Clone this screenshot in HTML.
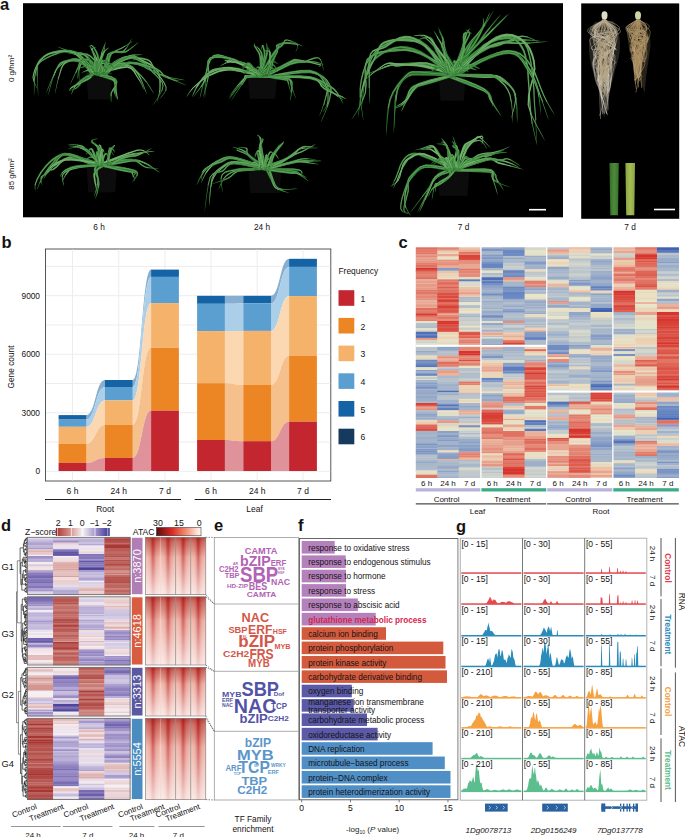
<!DOCTYPE html>
<html><head><meta charset="utf-8"><style>
html,body{margin:0;padding:0;background:#fff;}
svg{display:block;font-family:"Liberation Sans", sans-serif;}
.hc rect{width:22.0px;x:0}
.hd rect{width:26.0px;x:0}
</style></head><body>
<svg width="685" height="837" viewBox="0 0 685 837">
<text x="0" y="9.7" font-size="16.5" text-anchor="start" font-weight="bold" fill="#151213" >a</text>
<text x="1.5" y="247.5" font-size="16.5" text-anchor="start" font-weight="bold" fill="#151213" >b</text>
<text x="398.5" y="248" font-size="16.5" text-anchor="start" font-weight="bold" fill="#151213" >c</text>
<text x="1" y="531" font-size="16.5" text-anchor="start" font-weight="bold" fill="#151213" >d</text>
<text x="214" y="531" font-size="16.5" text-anchor="start" font-weight="bold" fill="#151213" >e</text>
<text x="298" y="531" font-size="16.5" text-anchor="start" font-weight="bold" fill="#151213" >f</text>
<text x="456" y="532" font-size="16.5" text-anchor="start" font-weight="bold" fill="#151213" >g</text>
<rect x="23.00" y="3.20" width="540.00" height="214.10" fill="#000" />
<rect x="581.20" y="3.40" width="98.00" height="215.40" fill="#000" />
<text x="12" y="68.5" font-size="8" text-anchor="middle" font-weight="normal" fill="#151213" transform="rotate(-90 12 68.5)" dominant-baseline="middle">0 g/hm²</text>
<text x="12" y="174" font-size="8" text-anchor="middle" font-weight="normal" fill="#151213" transform="rotate(-90 12 174)" dominant-baseline="middle">85 g/hm²</text>
<text x="99" y="229.9" font-size="8.3" text-anchor="middle" font-weight="normal" fill="#151213" >6 h</text>
<text x="262" y="229.9" font-size="8.3" text-anchor="middle" font-weight="normal" fill="#151213" >24 h</text>
<text x="463.5" y="229.9" font-size="8.3" text-anchor="middle" font-weight="normal" fill="#151213" >7 d</text>
<text x="630" y="229.9" font-size="8.3" text-anchor="middle" font-weight="normal" fill="#151213" >7 d</text>
<line x1="529" y1="209.7" x2="546" y2="209.7" stroke="#fff" stroke-width="1.6" />
<line x1="654" y1="209.5" x2="675" y2="209.5" stroke="#fff" stroke-width="1.6" />
<path d="M86.3,73.3 L112.3,73.3 L110.3,99.4 L88.3,99.4 Z" fill="#0c0c0c"/>
<path d="M86.8,73.3 L111.8,73.3" stroke="#262626" stroke-width="1.2"/>
<path d="M96.6,74.4 L92.9,69.9 L87.5,63.4 L81.4,56.7 L75.6,52.1 L70.0,50.0 L64.6,49.6 L59.5,50.2 L54.8,51.1 L50.4,52.4 L46.2,54.3 L42.5,56.7 L39.4,59.5 L37.4,62.8 L36.0,66.5 L35.2,70.6 L34.5,74.9 L34.0,80.3 L33.9,86.4 L33.9,92.1 L34.0,96.0 L34.0,96.0 L34.3,92.1 L34.5,86.4 L34.8,80.3 L35.5,75.1 L36.3,70.8 L37.2,66.9 L38.6,63.4 L40.6,60.5 L43.4,57.9 L47.0,55.7 L51.0,54.0 L55.2,52.9 L59.8,52.1 L64.6,51.7 L69.6,52.1 L74.4,53.9 L80.0,58.3 L86.2,64.6 L91.8,70.9 L95.7,75.2 Z" fill="#438e42"/>
<path d="M92,70 L87,64 L81,57 L75,53 L70,51 L65,51 L60,51 L55,52 L51,53 L47,55 L43,57 L40,60 L38,63 L37,67 L36,71 L35,75 L34,80" stroke="#a8d8a0" stroke-width="0.7" fill="none" opacity="0.55"/>
<path d="M100.2,74.3 L96.7,71.1 L91.5,66.5 L85.7,61.9 L80.4,59.0 L75.9,58.1 L71.7,58.5 L68.0,59.7 L64.6,61.2 L61.6,62.9 L59.0,65.1 L56.6,67.9 L54.5,71.8 L52.4,77.4 L50.5,84.5 L48.9,91.3 L48.0,96.0 L48.0,96.0 L49.4,91.4 L51.2,84.7 L53.3,77.7 L55.5,72.2 L57.7,68.7 L60.0,66.2 L62.5,64.3 L65.4,62.8 L68.6,61.4 L72.1,60.4 L75.7,60.2 L79.6,61.0 L84.4,63.8 L90.2,68.1 L95.6,72.4 L99.5,75.3 Z" fill="#38843a"/>
<path d="M96,72 L91,67 L85,63 L80,60 L76,59 L72,59 L68,61 L65,62 L62,64 L60,66 L57,68 L55,72 L53,78" stroke="#a8d8a0" stroke-width="0.7" fill="none" opacity="0.55"/>
<path d="M98.1,75.3 L103.3,72.0 L110.7,67.0 L118.6,62.1 L125.3,59.2 L130.6,58.6 L135.6,59.4 L140.3,61.1 L144.6,62.9 L148.5,64.8 L152.1,67.0 L155.1,69.5 L157.3,72.4 L158.7,75.8 L159.3,79.8 L159.5,84.0 L159.5,88.0 L159.1,91.9 L158.3,95.9 L157.4,99.5 L157.0,102.0 L157.0,102.0 L157.9,99.6 L159.0,96.1 L160.0,92.0 L160.5,88.0 L160.7,84.0 L160.7,79.7 L160.1,75.4 L158.7,71.6 L156.3,68.3 L153.2,65.5 L149.5,63.1 L145.4,61.1 L141.1,59.1 L136.2,57.2 L130.7,56.2 L124.7,56.8 L117.5,60.1 L109.6,65.3 L102.3,70.6 L97.4,74.3 Z" fill="#5ea25a"/>
<path d="M103,71 L110,66 L118,61 L125,58 L131,57 L136,58 L141,60 L145,62 L149,64 L153,66 L156,69 L158,72 L159,76 L160,80 L160,84 L160,88 L160,92" stroke="#a8d8a0" stroke-width="0.7" fill="none" opacity="0.55"/>
<path d="M100.8,75.2 L106.2,72.8 L114.1,69.1 L122.6,65.7 L130.1,63.9 L136.6,64.7 L143.2,67.1 L149.4,70.2 L154.7,72.7 L158.8,74.4 L162.0,75.9 L164.9,77.3 L167.8,78.4 L171.2,79.4 L174.7,80.2 L177.8,80.7 L180.0,81.0 L180.0,81.0 L177.9,80.3 L174.9,79.6 L171.5,78.6 L168.2,77.6 L165.3,76.3 L162.6,74.8 L159.4,73.2 L155.3,71.3 L150.0,68.8 L143.9,65.6 L137.1,63.0 L129.9,62.1 L122.0,63.9 L113.4,67.6 L105.6,71.6 L100.3,74.4 Z" fill="#3a863b"/>
<path d="M106,72 L114,68 L122,65 L130,63 L137,64 L144,66 L150,69 L155,72 L159,74 L162,75 L165,77 L168,78 L171,79" stroke="#a8d8a0" stroke-width="0.7" fill="none" opacity="0.55"/>
<path d="M101.3,75.0 L103.1,71.2 L105.5,65.7 L108.1,59.9 L110.7,55.5 L113.3,53.0 L116.2,51.3 L119.3,50.0 L122.3,48.5 L125.3,46.5 L128.4,44.4 L131.2,42.5 L133.0,41.0 L133.0,41.0 L130.9,42.1 L128.1,43.8 L124.8,45.7 L121.7,47.5 L118.7,48.9 L115.6,50.1 L112.4,51.7 L109.3,54.5 L106.5,59.1 L103.8,65.0 L101.7,70.7 L100.4,74.6 Z" fill="#38843a"/>
<path d="M102,71 L105,65 L107,60 L110,55 L113,52 L116,51 L119,49 L122,48 L125,46" stroke="#a8d8a0" stroke-width="0.7" fill="none" opacity="0.55"/>
<path d="M94.6,75.1 L96.8,71.5 L99.4,66.1 L102.0,60.2 L103.8,55.3 L104.8,51.5 L105.1,48.3 L105.2,45.8 L105.0,44.0 L105.0,44.0 L104.4,45.7 L104.0,48.2 L103.3,51.2 L102.2,54.7 L100.1,59.4 L97.4,65.1 L94.9,70.6 L93.5,74.5 Z" fill="#2c742e"/>
<path d="M96,71 L98,66 L101,60 L103,55 L104,51" stroke="#a8d8a0" stroke-width="0.7" fill="none" opacity="0.55"/>
<path d="M93.3,74.2 L92.0,74.2 L90.1,74.3 L87.8,75.0 L85.5,76.1 L83.0,77.8 L80.3,79.8 L77.7,82.2 L75.5,84.6 L73.8,87.3 L72.5,90.3 L71.5,93.0 L71.0,95.0 L71.0,95.0 L72.1,93.3 L73.3,90.7 L74.8,87.9 L76.5,85.4 L78.7,83.3 L81.4,81.2 L84.1,79.3 L86.5,77.9 L88.6,77.0 L90.6,76.5 L92.3,75.9 L93.6,75.4 Z" fill="#3a863b"/>
<path d="M92,75 L90,75 L88,76 L86,77 L84,79 L81,81 L78,83 L76,85 L74,88" stroke="#a8d8a0" stroke-width="0.7" fill="none" opacity="0.55"/>
<path d="M103.1,75.4 L105.1,76.5 L108.1,77.8 L111.1,79.1 L113.1,80.7 L114.1,82.9 L114.6,85.9 L114.9,89.2 L115.3,92.1 L115.9,94.6 L116.6,96.9 L117.3,98.7 L118.0,100.0 L118.0,100.0 L118.0,98.6 L117.6,96.6 L117.2,94.3 L116.7,91.9 L116.6,89.1 L116.5,85.7 L116.1,82.3 L114.9,79.3 L112.3,77.1 L109.0,75.5 L105.8,74.7 L103.6,74.2 Z" fill="#5ea25a"/>
<path d="M105,76 L109,77 L112,78 L114,80 L115,83 L116,86 L116,89 L116,92 L117,94" stroke="#a8d8a0" stroke-width="0.7" fill="none" opacity="0.55"/>
<path d="M96.7,75.4 L102.3,73.5 L110.3,70.5 L118.6,67.6 L125.1,66.2 L129.1,66.7 L132.1,68.3 L134.7,71.0 L137.4,74.4 L140.2,79.2 L142.8,85.2 L145.2,91.1 L147.0,95.0 L147.0,95.0 L145.8,90.8 L143.8,84.9 L141.3,78.6 L138.6,73.6 L136.1,69.9 L133.3,66.8 L129.8,64.6 L124.9,63.8 L117.9,65.2 L109.4,68.2 L101.5,71.7 L96.2,74.2 Z" fill="#4b954a"/>
<path d="M102,73 L110,69 L118,66 L125,65 L129,66 L133,68 L135,70 L138,74 L141,79" stroke="#a8d8a0" stroke-width="0.7" fill="none" opacity="0.55"/>
<path d="M96.6,74.6 L95.5,71.0 L93.8,65.8 L91.5,60.5 L88.7,56.4 L85.5,54.0 L82.1,52.6 L78.5,51.9 L75.1,51.4 L71.5,51.1 L67.7,51.3 L64.3,51.6 L62.0,52.0 L62.0,52.0 L64.4,52.2 L67.7,52.1 L71.4,52.2 L74.9,52.6 L78.2,53.3 L81.6,54.2 L84.6,55.5 L87.3,57.6 L89.6,61.5 L91.9,66.6 L94.0,71.6 L95.6,75.0 Z" fill="#2f7b31"/>
<path d="M95,71 L93,66 L91,61 L88,57 L85,55 L82,53 L78,53 L75,52 L71,52" stroke="#a8d8a0" stroke-width="0.7" fill="none" opacity="0.55"/>
<path d="M105.7,74.3 L103.3,71.6 L99.8,67.8 L96.0,63.8 L92.7,61.1 L90.3,59.6 L88.3,58.8 L86.4,58.7 L84.7,59.1 L83.1,60.0 L81.6,61.5 L80.4,63.4 L79.4,65.8 L78.5,69.1 L77.8,73.3 L77.2,77.2 L77.0,80.0 L77.0,80.0 L77.8,77.3 L78.6,73.5 L79.5,69.4 L80.6,66.2 L81.7,64.1 L82.9,62.5 L84.1,61.5 L85.3,60.9 L86.5,60.7 L87.7,60.9 L89.2,61.6 L91.3,62.9 L94.3,65.7 L98.3,69.3 L102.1,72.9 L104.8,75.3 Z" fill="#2c742e"/>
<path d="M103,72 L99,69 L95,65 L92,62 L90,61 L88,60 L86,60 L85,60 L84,61 L82,62 L81,64 L80,66 L79,69" stroke="#a8d8a0" stroke-width="0.7" fill="none" opacity="0.55"/>
<path d="M99.3,75.2 L103.0,72.5 L108.3,68.5 L113.8,64.1 L118.5,60.8 L122.3,58.9 L125.9,57.8 L129.2,57.1 L132.0,56.6 L134.5,56.7 L136.7,57.2 L138.6,57.8 L140.0,58.0 L140.0,58.0 L138.8,57.2 L137.0,56.3 L134.7,55.6 L132.0,55.4 L128.9,55.6 L125.5,56.1 L121.7,57.3 L117.5,59.2 L112.5,62.4 L106.9,66.8 L102.0,71.2 L98.6,74.4 Z" fill="#438e42"/>
<path d="M102,72 L108,68 L113,63 L118,60 L122,58 L126,57 L129,56 L132,56 L135,56" stroke="#a8d8a0" stroke-width="0.7" fill="none" opacity="0.55"/>
<path d="M103.9,74.6 L102.7,71.2 L100.9,66.5 L98.7,61.5 L96.9,57.6 L95.5,54.9 L94.4,52.8 L93.4,51.2 L92.6,49.7 L91.8,48.4 L91.1,47.3 L90.6,46.5 L90.0,46.0 L90.0,46.0 L90.1,46.8 L90.4,47.7 L90.8,48.9 L91.4,50.3 L92.1,51.9 L92.9,53.6 L93.9,55.7 L95.1,58.4 L96.8,62.4 L98.9,67.3 L101.2,71.9 L102.8,75.0 Z" fill="#5ea25a"/>
<path d="M102,72 L100,67 L98,62 L96,58 L95,55 L94,53 L93,52 L92,50 L91,49" stroke="#a8d8a0" stroke-width="0.7" fill="none" opacity="0.55"/>
<path d="M99.3,74.4 L95.1,69.7 L89.0,62.7 L82.2,55.8 L75.9,51.2 L70.3,49.7 L65.0,50.2 L60.2,51.6 L55.6,53.1 L51.1,54.8 L46.7,56.9 L42.8,59.2 L39.8,61.4 L38.0,63.2 L37.2,64.8 L36.9,66.9 L36.8,70.3 L36.9,76.4 L37.3,84.3 L37.8,92.0 L38.3,97.2 L38.3,97.2 L38.2,91.9 L37.9,84.3 L37.7,76.4 L37.7,70.4 L38.0,67.0 L38.3,65.1 L39.0,64.0 L40.7,62.5 L43.6,60.4 L47.4,58.2 L51.7,56.3 L56.2,54.8 L60.7,53.3 L65.4,52.0 L70.1,51.6 L75.0,53.0 L81.0,57.3 L87.8,63.9 L94.1,70.6 L98.5,75.2 Z" fill="#2f7b31"/>
<path d="M95,70 L88,63 L82,57 L75,52 L70,51 L65,51 L60,52 L56,54 L51,56 L47,58 L43,60 L40,62 L39,64 L38,65 L37,67 L37,70 L37,76" stroke="#a8d8a0" stroke-width="0.7" fill="none" opacity="0.55"/>
<path d="M96.5,74.4 L93.2,71.4 L88.5,67.1 L83.3,62.9 L78.5,60.2 L74.3,59.5 L70.5,59.9 L67.1,61.1 L64.3,62.8 L62.3,64.8 L61.0,67.3 L60.1,70.3 L59.1,73.9 L57.8,78.9 L56.5,84.9 L55.4,90.7 L54.7,94.7 L54.7,94.7 L55.8,90.8 L57.1,85.1 L58.6,79.1 L60.0,74.2 L61.2,70.7 L62.2,67.8 L63.5,65.7 L65.2,64.0 L67.8,62.6 L70.8,61.6 L74.2,61.4 L77.8,62.1 L82.1,64.6 L87.4,68.5 L92.3,72.5 L95.8,75.2 Z" fill="#4b954a"/>
<path d="M93,72 L88,68 L83,64 L78,61 L74,60 L71,61 L67,62 L65,63 L63,65 L62,68 L61,70 L60,74 L58,79" stroke="#a8d8a0" stroke-width="0.7" fill="none" opacity="0.55"/>
<path d="M104.4,75.2 L108.2,72.1 L113.5,67.5 L119.5,63.0 L125.1,60.1 L130.8,58.9 L137.0,58.8 L142.8,59.5 L147.2,60.6 L149.7,62.0 L151.0,64.1 L152.1,66.8 L153.8,70.1 L157.0,74.1 L160.7,78.7 L164.0,83.4 L165.8,87.4 L165.3,90.9 L163.2,94.3 L160.7,97.2 L159.1,99.3 L159.1,99.3 L161.0,97.4 L163.6,94.6 L165.9,91.1 L166.6,87.3 L164.9,82.9 L161.6,78.1 L157.9,73.4 L154.9,69.4 L153.3,66.2 L152.3,63.4 L150.8,60.9 L147.8,59.1 L143.1,57.8 L137.1,57.0 L130.6,57.1 L124.5,58.3 L118.5,61.6 L112.6,66.3 L107.4,71.1 L103.8,74.4 Z" fill="#4b954a"/>
<path d="M108,72 L113,67 L119,62 L125,59 L131,58 L137,58 L143,59 L148,60 L150,61 L152,64 L153,67 L154,70 L157,74 L161,78 L164,83 L166,87 L166,91" stroke="#a8d8a0" stroke-width="0.7" fill="none" opacity="0.55"/>
<path d="M99.6,75.3 L105.2,72.7 L113.2,68.8 L121.9,65.3 L129.6,63.5 L136.3,64.4 L143.1,67.1 L149.5,70.4 L155.4,73.2 L160.4,75.2 L164.8,77.0 L168.8,78.6 L172.7,80.2 L176.7,81.8 L180.8,83.4 L184.3,84.8 L186.9,85.6 L186.9,85.6 L184.5,84.3 L181.1,82.8 L177.1,81.0 L173.0,79.3 L169.2,77.6 L165.3,75.8 L160.9,73.9 L156.0,71.8 L150.2,69.0 L143.8,65.5 L136.8,62.6 L129.5,61.5 L121.3,63.3 L112.5,67.2 L104.6,71.4 L99.2,74.3 Z" fill="#2c742e"/>
<path d="M105,72 L113,68 L122,64 L130,63 L137,64 L143,66 L150,70 L156,73 L161,75 L165,76 L169,78 L173,80 L177,81" stroke="#a8d8a0" stroke-width="0.7" fill="none" opacity="0.55"/>
<path d="M107.8,74.9 L108.5,70.6 L109.3,64.5 L110.3,58.4 L111.8,54.4 L114.1,53.0 L117.6,53.0 L121.8,53.2 L125.9,52.4 L129.7,50.1 L133.6,47.0 L136.9,44.0 L139.1,41.8 L139.1,41.8 L136.5,43.5 L132.9,46.3 L129.0,49.0 L125.3,51.0 L121.7,51.4 L117.7,51.0 L113.5,51.0 L109.9,52.9 L107.9,57.8 L106.8,64.2 L106.6,70.5 L106.5,74.7 Z" fill="#38843a"/>
<path d="M108,71 L108,64 L109,58 L111,54 L114,52 L118,52 L122,52 L126,52 L129,50" stroke="#a8d8a0" stroke-width="0.7" fill="none" opacity="0.55"/>
<path d="M103.3,74.7 L103.2,71.4 L102.6,66.6 L102.0,61.4 L101.9,56.8 L102.6,52.6 L103.9,48.3 L105.3,44.5 L106.0,41.7 L106.0,41.7 L104.6,44.2 L102.9,47.9 L101.3,52.3 L100.3,56.7 L100.1,61.5 L100.6,66.9 L101.3,71.6 L102.2,74.9 Z" fill="#438e42"/>
<path d="M102,71 L102,67 L101,61 L101,57 L102,52" stroke="#a8d8a0" stroke-width="0.7" fill="none" opacity="0.55"/>
<path d="M91.8,74.4 L91.0,74.8 L90.1,75.5 L89.1,76.6 L87.2,78.0 L83.8,80.0 L79.3,82.4 L74.8,84.8 L71.5,86.8 L69.9,88.3 L69.3,89.5 L69.4,90.3 L69.7,90.8 L69.7,90.8 L70.1,90.3 L70.2,89.8 L70.8,89.1 L72.3,88.0 L75.6,86.3 L80.1,84.1 L84.8,81.8 L88.4,79.9 L90.6,78.5 L91.9,77.2 L92.5,76.1 L92.8,75.2 Z" fill="#4b954a"/>
<path d="M92,75 L91,76 L90,78 L88,79 L84,81 L80,83 L75,86 L72,87 L70,89" stroke="#a8d8a0" stroke-width="0.7" fill="none" opacity="0.55"/>
<path d="M95.9,75.3 L99.8,76.6 L105.6,78.3 L111.3,80.2 L114.7,82.1 L115.1,84.0 L114.0,86.7 L112.1,89.8 L110.9,92.8 L110.6,95.7 L110.7,98.5 L110.9,100.9 L111.2,102.6 L111.2,102.6 L111.4,100.9 L111.4,98.5 L111.6,95.7 L112.0,93.1 L113.3,90.4 L115.3,87.4 L116.7,84.2 L116.0,80.9 L112.1,78.5 L106.2,76.5 L100.2,75.2 L96.1,74.3 Z" fill="#438e42"/>
<path d="M100,76 L106,77 L112,79 L115,81 L116,84 L115,87 L113,90 L111,93 L111,96" stroke="#a8d8a0" stroke-width="0.7" fill="none" opacity="0.55"/>
<path d="M96.7,75.3 L102.7,73.6 L111.3,71.1 L120.2,68.7 L126.9,67.8 L130.7,69.0 L133.4,71.7 L135.5,75.1 L137.6,78.3 L139.7,81.4 L141.5,84.8 L142.9,87.9 L144.1,89.9 L144.1,89.9 L143.4,87.7 L142.1,84.5 L140.5,81.0 L138.5,77.7 L136.6,74.4 L134.6,70.8 L131.6,67.6 L127.0,66.1 L119.8,66.8 L110.8,69.3 L102.3,72.2 L96.4,74.3 Z" fill="#5ea25a"/>
<path d="M102,73 L111,70 L120,68 L127,67 L131,68 L134,71 L136,75 L138,78 L140,81" stroke="#a8d8a0" stroke-width="0.7" fill="none" opacity="0.55"/>
<path d="M101.4,74.4 L98.8,70.5 L95.0,64.7 L90.5,59.1 L86.4,54.9 L83.0,53.1 L80.1,52.6 L77.4,52.6 L74.3,52.2 L70.0,50.8 L64.9,49.1 L60.2,47.4 L56.8,46.5 L56.8,46.5 L60.0,48.0 L64.6,50.0 L69.6,52.0 L73.9,53.6 L77.2,54.3 L79.9,54.5 L82.3,55.0 L84.9,56.6 L88.7,60.6 L93.0,66.2 L97.3,71.6 L100.4,75.2 Z" fill="#3a863b"/>
<path d="M98,71 L94,65 L90,60 L86,56 L83,54 L80,54 L77,53 L74,53 L70,51" stroke="#a8d8a0" stroke-width="0.7" fill="none" opacity="0.55"/>
<path d="M105.6,74.3 L103.0,71.9 L99.1,68.5 L95.1,65.1 L92.1,62.6 L90.9,61.1 L90.4,59.8 L89.7,58.5 L88.0,58.3 L85.8,59.2 L83.2,60.8 L80.7,63.1 L78.9,66.0 L78.3,69.7 L78.4,74.2 L78.9,78.4 L79.3,81.2 L79.3,81.2 L79.4,78.3 L79.3,74.1 L79.4,69.8 L80.1,66.4 L81.8,64.1 L84.2,62.2 L86.6,60.8 L88.4,60.2 L88.4,60.1 L88.3,60.6 L88.8,62.2 L90.4,64.4 L93.5,67.1 L97.7,70.3 L101.9,73.3 L104.8,75.3 Z" fill="#3a863b"/>
<path d="M102,73 L98,69 L94,66 L91,63 L90,62 L89,60 L89,59 L88,59 L86,60 L84,62 L81,64 L80,66 L79,70" stroke="#a8d8a0" stroke-width="0.7" fill="none" opacity="0.55"/>
<path d="M100.6,75.2 L104.1,73.0 L109.2,69.5 L114.5,65.7 L119.1,62.6 L122.8,60.4 L126.1,58.6 L129.2,57.2 L132.2,56.1 L135.4,55.4 L138.5,55.2 L141.3,55.1 L143.3,54.9 L143.3,54.9 L141.3,54.5 L138.5,54.3 L135.2,54.3 L131.9,54.8 L128.7,55.8 L125.4,57.1 L121.9,58.8 L118.1,60.9 L113.3,64.0 L108.0,67.8 L103.2,71.6 L99.9,74.4 Z" fill="#3a863b"/>
<path d="M104,72 L109,69 L114,65 L119,62 L122,60 L126,58 L129,56 L132,55 L135,55" stroke="#a8d8a0" stroke-width="0.7" fill="none" opacity="0.55"/>
<path d="M96.7,74.9 L97.6,71.9 L98.8,67.4 L99.5,62.4 L99.5,58.0 L98.4,54.1 L96.6,50.5 L94.7,47.6 L93.0,45.6 L91.4,44.8 L90.0,45.4 L89.2,46.3 L88.7,47.0 L88.7,47.0 L89.5,46.8 L90.5,46.2 L91.2,46.0 L92.0,46.6 L93.3,48.5 L95.0,51.4 L96.5,54.8 L97.3,58.2 L97.2,62.2 L96.4,67.0 L95.8,71.5 L95.5,74.7 Z" fill="#2f7b31"/>
<path d="M97,72 L98,67 L98,62 L98,58 L97,54 L96,51 L94,48 L92,46 L91,45" stroke="#a8d8a0" stroke-width="0.7" fill="none" opacity="0.55"/>
<path d="M92.1,74.5 L89.5,70.1 L85.7,63.6 L81.1,57.0 L76.0,52.4 L70.0,50.4 L63.5,50.1 L57.2,50.7 L51.8,51.7 L47.7,53.2 L44.3,55.3 L41.5,58.0 L39.1,61.0 L36.7,64.6 L34.7,68.8 L33.2,73.2 L32.5,77.2 L33.2,81.0 L34.8,84.5 L36.6,87.6 L38.0,89.6 L38.0,89.6 L37.0,87.4 L35.4,84.3 L34.0,80.7 L33.5,77.2 L34.3,73.5 L35.8,69.3 L37.9,65.3 L40.3,61.9 L42.7,59.1 L45.3,56.7 L48.4,54.9 L52.3,53.6 L57.4,52.7 L63.5,52.2 L69.6,52.6 L74.8,54.3 L79.5,58.5 L84.2,64.6 L88.2,70.9 L91.1,75.1 Z" fill="#4b954a"/>
<path d="M89,70 L85,64 L80,58 L75,53 L70,52 L63,51 L57,52 L52,53 L48,54 L45,56 L42,59 L40,61 L37,65 L35,69 L34,73 L33,77 L34,81" stroke="#a8d8a0" stroke-width="0.7" fill="none" opacity="0.55"/>
<path d="M92.8,74.5 L91.0,71.6 L88.4,67.5 L85.1,63.3 L81.2,60.5 L76.6,59.3 L71.5,59.2 L66.7,59.8 L62.7,60.9 L60.1,62.3 L58.5,64.1 L57.2,66.6 L55.6,70.0 L53.1,75.4 L50.2,82.3 L47.5,89.0 L45.8,93.6 L45.8,93.6 L48.0,89.2 L50.9,82.6 L54.0,75.8 L56.6,70.5 L58.4,67.2 L59.7,65.0 L61.1,63.6 L63.3,62.6 L67.0,61.7 L71.6,61.2 L76.3,61.5 L80.2,62.5 L83.5,65.0 L86.8,68.7 L89.7,72.6 L91.8,75.1 Z" fill="#3a863b"/>
<path d="M90,72 L88,68 L84,64 L81,61 L76,60 L72,60 L67,61 L63,62 L61,63 L59,65 L58,67 L56,70 L54,76" stroke="#a8d8a0" stroke-width="0.7" fill="none" opacity="0.55"/>
<path d="M97.5,75.3 L102.9,71.7 L110.6,66.5 L118.8,61.5 L125.6,58.6 L130.8,58.3 L135.5,59.8 L139.9,62.1 L143.7,64.3 L146.6,66.1 L148.7,68.1 L150.5,70.4 L152.7,73.0 L155.7,75.9 L159.0,79.0 L161.6,82.3 L162.6,85.9 L161.3,90.8 L158.1,96.7 L154.6,102.2 L152.4,106.1 L152.4,106.1 L155.0,102.4 L158.6,97.0 L162.0,91.2 L163.6,86.0 L162.6,81.8 L159.9,78.2 L156.6,75.0 L153.8,72.1 L151.8,69.4 L149.9,67.0 L147.7,64.7 L144.7,62.7 L140.9,60.3 L136.3,57.9 L131.0,56.2 L125.0,56.4 L117.8,59.6 L109.6,65.0 L102.0,70.5 L96.9,74.3 Z" fill="#2f7b31"/>
<path d="M102,71 L110,66 L118,61 L125,57 L131,57 L136,59 L140,61 L144,63 L147,65 L149,68 L151,70 L153,73 L156,75 L159,79 L162,82 L163,86 L162,91" stroke="#a8d8a0" stroke-width="0.7" fill="none" opacity="0.55"/>
<path d="M95.4,75.4 L101.6,73.0 L110.6,69.4 L120.3,66.0 L128.9,64.0 L136.4,64.3 L143.9,66.0 L150.7,68.3 L156.2,70.3 L159.5,72.0 L161.2,73.6 L162.8,75.4 L165.6,77.0 L170.4,78.2 L176.1,79.1 L181.6,79.9 L185.3,80.2 L185.3,80.2 L181.6,79.3 L176.3,78.3 L170.6,77.2 L166.1,75.8 L163.7,74.3 L162.3,72.6 L160.5,70.5 L157.0,68.6 L151.4,66.4 L144.5,63.9 L136.7,62.0 L128.6,61.6 L119.6,63.6 L109.8,67.4 L101.0,71.4 L94.9,74.2 Z" fill="#38843a"/>
<path d="M101,72 L110,68 L120,65 L129,63 L137,63 L144,65 L151,67 L157,69 L160,71 L162,73 L163,75 L166,76 L170,78" stroke="#a8d8a0" stroke-width="0.7" fill="none" opacity="0.55"/>
<path d="M105.6,74.8 L106.2,70.8 L106.8,64.9 L107.7,59.0 L109.2,55.0 L111.7,53.5 L115.6,53.1 L120.0,53.0 L123.9,51.7 L126.8,48.5 L129.2,44.4 L131.1,40.5 L132.3,37.7 L132.3,37.7 L130.6,40.2 L128.4,44.0 L125.9,47.8 L123.1,50.5 L119.8,51.4 L115.6,51.4 L111.2,51.6 L107.5,53.7 L105.5,58.5 L104.6,64.7 L104.4,70.7 L104.4,74.8 Z" fill="#2f7b31"/>
<path d="M105,71 L106,65 L107,59 L108,54 L111,53 L116,52 L120,52 L124,51 L126,48" stroke="#a8d8a0" stroke-width="0.7" fill="none" opacity="0.55"/>
<path d="M93.7,75.0 L95.9,70.9 L98.7,64.8 L101.5,58.5 L103.8,53.7 L105.6,51.1 L107.1,49.5 L108.3,48.5 L109.1,47.6 L109.1,47.6 L108.0,48.0 L106.5,48.8 L104.6,50.3 L102.6,53.0 L100.0,57.8 L97.0,64.1 L94.4,70.2 L92.8,74.6 Z" fill="#4b954a"/>
<path d="M95,71 L98,64 L101,58 L103,53 L105,51" stroke="#a8d8a0" stroke-width="0.7" fill="none" opacity="0.55"/>
<path d="M94.1,74.3 L92.3,74.6 L89.7,75.0 L86.9,76.0 L84.3,77.5 L82.3,79.8 L80.5,82.4 L78.8,85.0 L77.1,87.0 L74.9,88.3 L72.5,89.2 L70.2,89.9 L68.7,90.6 L68.7,90.6 L70.3,90.4 L72.7,90.0 L75.3,89.2 L77.8,87.9 L79.9,85.9 L81.7,83.3 L83.6,80.8 L85.4,78.9 L87.7,77.8 L90.3,76.9 L92.7,76.0 L94.4,75.3 Z" fill="#2c742e"/>
<path d="M93,75 L90,76 L87,77 L85,78 L83,80 L81,83 L79,85 L77,87 L75,89" stroke="#a8d8a0" stroke-width="0.7" fill="none" opacity="0.55"/>
<path d="M95.9,75.3 L99.8,76.2 L105.6,77.2 L111.3,78.3 L114.8,79.8 L115.7,81.8 L115.3,84.8 L114.3,88.2 L113.8,91.3 L114.4,93.9 L115.2,96.0 L116.0,97.8 L116.8,98.9 L116.8,98.9 L116.6,97.6 L116.0,95.7 L115.4,93.6 L115.1,91.3 L115.7,88.6 L116.8,85.2 L117.5,81.6 L116.1,78.4 L111.9,76.4 L106.0,75.2 L100.1,74.6 L96.1,74.3 Z" fill="#2f7b31"/>
<path d="M100,75 L106,76 L112,77 L115,79 L117,82 L116,85 L115,88 L114,91 L115,94" stroke="#a8d8a0" stroke-width="0.7" fill="none" opacity="0.55"/>
<path d="M106.4,75.2 L109.6,72.6 L114.1,68.8 L118.9,65.3 L123.3,63.9 L127.7,65.3 L132.7,68.8 L137.7,73.2 L142.0,77.4 L145.8,81.8 L149.2,86.7 L152.1,91.2 L154.3,94.2 L154.3,94.2 L152.6,90.9 L149.9,86.3 L146.6,81.2 L142.9,76.7 L138.6,72.2 L133.7,67.6 L128.5,63.9 L123.3,62.1 L118.0,63.6 L112.9,67.3 L108.6,71.5 L105.7,74.4 Z" fill="#3a863b"/>
<path d="M109,72 L113,68 L118,64 L123,63 L128,65 L133,68 L138,73 L142,77 L146,82" stroke="#a8d8a0" stroke-width="0.7" fill="none" opacity="0.55"/>
<path d="M106.9,74.5 L104.1,70.5 L99.8,64.8 L95.0,59.2 L90.6,55.2 L86.9,53.6 L83.6,53.5 L80.5,54.0 L77.5,54.1 L74.0,53.6 L70.2,53.0 L66.8,52.5 L64.4,52.2 L64.4,52.2 L66.7,52.9 L70.1,53.8 L73.8,54.6 L77.4,55.3 L80.6,55.3 L83.6,55.0 L86.5,55.2 L89.6,56.6 L93.7,60.5 L98.4,66.0 L102.9,71.4 L106.1,75.1 Z" fill="#3a863b"/>
<path d="M103,71 L99,65 L94,60 L90,56 L87,54 L84,54 L81,55 L77,55 L74,54" stroke="#a8d8a0" stroke-width="0.7" fill="none" opacity="0.55"/>
<path d="M96.6,74.6 L96.1,71.8 L95.3,67.7 L94.2,63.4 L92.3,60.3 L89.5,58.8 L86.4,58.4 L83.5,58.8 L81.1,59.7 L79.5,61.4 L78.6,63.4 L77.9,65.9 L76.9,68.7 L75.1,72.6 L72.9,77.4 L70.9,82.0 L69.7,85.2 L69.7,85.2 L71.4,82.2 L73.7,77.8 L76.1,73.1 L78.0,69.2 L79.3,66.4 L80.1,64.0 L80.9,62.4 L82.0,61.4 L83.9,60.8 L86.4,60.6 L88.8,61.0 L90.5,62.0 L91.8,64.4 L93.2,68.3 L94.4,72.2 L95.3,75.0 Z" fill="#2c742e"/>
<path d="M95,72 L94,68 L93,64 L91,61 L89,60 L86,59 L84,60 L82,61 L80,62 L79,64 L79,66 L77,69 L76,73" stroke="#a8d8a0" stroke-width="0.7" fill="none" opacity="0.55"/>
<path d="M102.8,75.3 L106.2,72.9 L111.0,69.4 L116.0,65.5 L120.6,62.5 L125.0,60.4 L129.6,58.8 L133.6,57.8 L136.0,57.3 L135.9,57.0 L135.0,58.2 L133.5,59.7 L132.7,60.9 L132.7,60.9 L133.9,60.2 L135.7,58.8 L137.0,57.3 L136.0,55.9 L133.3,56.2 L129.1,57.2 L124.3,58.6 L119.6,60.7 L114.8,63.7 L109.6,67.6 L105.1,71.5 L102.0,74.3 Z" fill="#438e42"/>
<path d="M106,72 L110,69 L115,65 L120,62 L125,60 L129,58 L133,57 L136,57 L136,57" stroke="#a8d8a0" stroke-width="0.7" fill="none" opacity="0.55"/>
<path d="M94.5,74.8 L95.0,71.8 L95.6,67.4 L95.9,62.6 L95.9,58.6 L95.2,55.4 L94.1,52.8 L93.1,50.8 L92.8,49.4 L93.2,48.6 L94.3,48.1 L95.7,47.8 L96.6,47.3 L96.6,47.3 L95.6,47.3 L94.1,47.4 L92.6,47.9 L91.7,49.2 L91.9,51.2 L92.7,53.4 L93.6,55.9 L94.1,58.7 L94.1,62.6 L93.8,67.2 L93.6,71.7 L93.6,74.8 Z" fill="#3a863b"/>
<path d="M94,72 L95,67 L95,63 L95,59 L94,56 L93,53 L93,51 L92,49 L93,48" stroke="#a8d8a0" stroke-width="0.7" fill="none" opacity="0.55"/>
<path d="M104.2,74.7 L104.0,72.0 L103.2,68.2 L102.1,64.5 L100.8,62.0 L98.8,61.9 L97.7,63.5 L97.0,65.2 L96.7,66.5 L96.7,66.5 L97.6,65.6 L98.7,64.1 L99.6,63.1 L99.5,63.1 L100.2,65.1 L101.0,68.7 L102.0,72.5 L103.1,74.9 Z" fill="#3a863b"/>
<path d="M103,72 L102,68 L101,65 L100,63 L99,63" stroke="#a8d8a0" stroke-width="0.7" fill="none" opacity="0.55"/>
<path d="M96.2,75.1 L97.8,72.8 L99.5,69.3 L101.1,65.9 L102.4,64.1 L103.4,64.1 L105.0,65.1 L106.8,66.6 L108.2,67.5 L108.2,67.5 L107.4,66.1 L105.9,64.2 L103.9,62.6 L101.5,62.5 L99.3,64.8 L97.3,68.3 L95.8,71.9 L95.1,74.5 Z" fill="#4b954a"/>
<path d="M97,72 L98,69 L100,65 L102,63 L104,63" stroke="#a8d8a0" stroke-width="0.7" fill="none" opacity="0.55"/>
<path d="M103.3,75.0 L104.8,72.8 L106.4,69.2 L107.9,65.9 L109.0,64.2 L109.8,64.4 L111.4,65.9 L113.1,67.9 L114.4,69.1 L114.4,69.1 L113.7,67.5 L112.3,65.2 L110.6,63.2 L108.2,62.7 L106.2,64.8 L104.3,68.3 L102.9,72.0 L102.3,74.6 Z" fill="#2f7b31"/>
<path d="M104,72 L105,69 L107,65 L109,63 L110,64" stroke="#a8d8a0" stroke-width="0.7" fill="none" opacity="0.55"/>
<path d="M94.0,75.1 L96.1,72.4 L98.6,68.1 L101.1,63.9 L103.2,61.5 L105.1,61.4 L107.6,62.6 L110.1,64.3 L112.1,65.2 L112.1,65.2 L110.6,63.6 L108.3,61.5 L105.5,59.8 L102.3,59.8 L99.3,62.5 L96.4,66.8 L94.1,71.3 L92.8,74.5 Z" fill="#2f7b31"/>
<path d="M95,72 L97,67 L100,63 L103,61 L105,61" stroke="#a8d8a0" stroke-width="0.7" fill="none" opacity="0.55"/>
<path d="M97.1,75.1 L98.4,73.8 L99.9,71.6 L101.4,69.4 L102.5,68.3 L103.5,68.3 L105.0,69.0 L106.6,70.0 L107.8,70.5 L107.8,70.5 L107.0,69.4 L105.7,68.1 L104.0,66.9 L101.9,66.6 L99.9,68.1 L98.1,70.3 L96.7,72.7 L96.1,74.5 Z" fill="#2f7b31"/>
<path d="M98,73 L99,71 L101,69 L102,67 L104,68" stroke="#a8d8a0" stroke-width="0.7" fill="none" opacity="0.55"/>
<path d="M99.6,74.8 L100.1,71.5 L100.4,66.7 L100.5,62.0 L100.5,59.3 L99.1,59.3 L99.4,60.8 L99.8,62.9 L100.3,64.3 L100.3,64.3 L100.6,62.8 L100.6,60.7 L100.5,58.9 L98.8,59.1 L98.5,61.9 L98.2,66.6 L98.1,71.5 L98.4,74.8 Z" fill="#3a863b"/>
<path d="M99,72 L99,67 L99,62 L100,59 L100,59" stroke="#a8d8a0" stroke-width="0.7" fill="none" opacity="0.55"/>
<path d="M95.1,74.4 L94.1,73.2 L92.4,71.7 L90.3,70.5 L88.2,69.8 L86.1,70.1 L84.1,71.0 L82.4,72.1 L81.4,73.0 L81.4,73.0 L82.7,72.6 L84.5,71.9 L86.4,71.3 L88.0,71.2 L89.6,71.9 L91.3,73.2 L93.1,74.5 L94.5,75.2 Z" fill="#3a863b"/>
<path d="M94,74 L92,72 L90,71 L88,70 L86,71" stroke="#a8d8a0" stroke-width="0.7" fill="none" opacity="0.55"/>
<path d="M103.9,74.3 L101.9,72.2 L98.6,69.4 L94.7,66.9 L90.9,65.3 L87.1,65.3 L83.3,66.3 L80.0,67.5 L77.8,68.6 L77.8,68.6 L80.3,68.3 L83.6,67.4 L87.2,66.9 L90.5,67.1 L93.7,68.7 L97.2,71.3 L100.6,73.8 L103.2,75.3 Z" fill="#38843a"/>
<path d="M101,73 L98,70 L94,68 L91,66 L87,66" stroke="#a8d8a0" stroke-width="0.7" fill="none" opacity="0.55"/>
<path d="M97.7,74.8 L98.1,72.1 L98.2,68.1 L98.1,64.2 L98.0,61.7 L96.3,61.5 L96.5,62.6 L96.7,64.1 L97.1,65.1 L97.1,65.1 L97.5,64.1 L97.7,62.6 L97.8,61.5 L96.2,61.7 L96.1,64.2 L95.9,68.1 L96.0,72.1 L96.5,74.8 Z" fill="#2c742e"/>
<path d="M97,72 L97,68 L97,64 L97,62 L97,62" stroke="#a8d8a0" stroke-width="0.7" fill="none" opacity="0.55"/>
<path d="M98.3,75.0 L99.5,72.2 L100.7,68.1 L101.7,64.0 L102.6,61.6 L102.7,61.4 L103.7,62.0 L104.9,63.1 L106.0,63.7 L106.0,63.7 L105.5,62.6 L104.6,61.0 L103.1,59.8 L101.0,60.4 L99.6,63.2 L98.2,67.4 L97.3,71.6 L97.0,74.6 Z" fill="#3a863b"/>
<path d="M98,72 L99,68 L101,64 L102,61 L103,61" stroke="#a8d8a0" stroke-width="0.7" fill="none" opacity="0.55"/>
<path d="M247.8,75.2 L277.2,75.2 L275.2,98.8 L249.8,98.8 Z" fill="#0c0c0c"/>
<path d="M248.3,75.2 L276.7,75.2" stroke="#262626" stroke-width="1.2"/>
<path d="M259.9,76.2 L255.6,72.7 L249.3,67.6 L242.3,62.5 L235.5,58.9 L229.0,56.9 L222.4,55.8 L216.4,55.8 L211.6,57.2 L208.5,60.3 L206.9,64.7 L206.1,69.7 L205.4,74.9 L204.9,81.0 L204.7,88.1 L204.8,94.5 L205.0,99.0 L205.0,99.0 L205.3,94.5 L205.5,88.1 L205.9,81.1 L206.6,75.1 L207.4,69.9 L208.4,65.1 L209.9,61.2 L212.4,58.8 L216.6,57.8 L222.2,57.9 L228.5,59.1 L234.5,61.1 L241.0,64.6 L248.1,69.3 L254.6,74.0 L259.2,77.2 Z" fill="#2f7b31"/>
<path d="M255,73 L249,68 L242,64 L235,60 L229,58 L222,57 L217,57 L212,58 L209,61 L208,65 L207,70 L206,75 L205,81" stroke="#a8d8a0" stroke-width="0.7" fill="none" opacity="0.55"/>
<path d="M263.9,76.0 L257.6,73.9 L248.5,70.9 L238.6,68.1 L230.1,66.7 L223.5,66.9 L217.8,68.1 L212.8,69.9 L208.5,72.1 L204.8,74.8 L201.9,78.0 L199.5,81.4 L197.4,84.6 L195.5,88.0 L193.9,91.6 L192.7,94.7 L192.0,97.0 L192.0,97.0 L193.2,95.0 L194.7,91.9 L196.5,88.6 L198.6,85.4 L200.8,82.3 L203.2,79.1 L206.0,76.2 L209.5,73.9 L213.7,71.9 L218.4,70.3 L223.7,69.3 L229.9,69.3 L238.0,70.7 L247.8,73.2 L257.1,75.7 L263.5,77.4 Z" fill="#5ea25a"/>
<path d="M257,75 L248,72 L238,69 L230,68 L224,68 L218,69 L213,71 L209,73 L205,76 L203,79 L200,82 L198,85 L196,88" stroke="#a8d8a0" stroke-width="0.7" fill="none" opacity="0.55"/>
<path d="M267.8,77.2 L276.1,76.2 L287.9,74.5 L300.3,73.2 L309.9,73.0 L316.2,74.4 L320.8,76.8 L324.1,80.0 L326.3,83.3 L327.2,86.9 L326.8,91.0 L325.7,95.5 L324.5,99.9 L323.2,104.5 L321.6,109.4 L320.0,113.9 L319.0,117.0 L319.0,117.0 L320.4,114.0 L322.2,109.7 L324.0,104.8 L325.5,100.1 L326.8,95.8 L328.1,91.2 L328.6,86.8 L327.7,82.7 L325.3,78.9 L321.8,75.4 L316.8,72.6 L310.1,71.0 L300.1,71.2 L287.7,72.8 L275.8,74.8 L267.7,76.2 Z" fill="#3a863b"/>
<path d="M276,75 L288,74 L300,72 L310,72 L316,74 L321,76 L325,79 L327,83 L328,87 L327,91 L326,96 L325,100 L324,105" stroke="#a8d8a0" stroke-width="0.7" fill="none" opacity="0.55"/>
<path d="M263.2,77.4 L272.3,77.6 L285.5,77.8 L299.2,78.3 L309.8,79.2 L316.1,81.0 L320.2,83.5 L323.3,86.3 L326.4,88.8 L329.3,90.7 L331.5,92.4 L333.5,94.0 L335.6,95.5 L338.0,97.0 L340.3,98.3 L342.4,99.4 L344.0,100.0 L344.0,100.0 L342.7,98.9 L340.8,97.6 L338.5,96.1 L336.4,94.5 L334.5,92.9 L332.6,91.2 L330.4,89.3 L327.6,87.2 L324.7,84.7 L321.5,81.8 L317.0,78.9 L310.2,76.8 L299.4,75.7 L285.5,75.6 L272.3,75.8 L263.2,76.0 Z" fill="#2f7b31"/>
<path d="M272,77 L286,77 L299,77 L310,78 L317,80 L321,83 L324,86 L327,88 L330,90 L332,92 L334,93 L336,95 L338,97" stroke="#a8d8a0" stroke-width="0.7" fill="none" opacity="0.55"/>
<path d="M268.7,76.9 L270.4,72.1 L272.8,65.2 L275.3,58.0 L277.1,52.4 L278.1,49.0 L278.7,46.9 L279.3,45.8 L280.4,44.8 L282.6,44.0 L285.6,43.6 L288.9,43.5 L291.9,43.6 L295.0,44.0 L298.1,44.8 L301.0,45.6 L303.0,46.0 L303.0,46.0 L301.1,45.1 L298.4,44.1 L295.2,43.0 L292.1,42.4 L288.9,42.1 L285.5,42.0 L282.3,42.3 L279.6,43.2 L277.8,44.5 L276.8,46.1 L276.0,48.3 L274.9,51.6 L272.9,57.2 L270.8,64.5 L268.8,71.6 L267.5,76.5 Z" fill="#2c742e"/>
<path d="M270,72 L272,65 L274,58 L276,52 L277,49 L278,47 L279,45 L280,44 L282,43 L286,43 L289,43 L292,43 L295,44" stroke="#a8d8a0" stroke-width="0.7" fill="none" opacity="0.55"/>
<path d="M261.6,76.7 L262.1,72.9 L262.8,67.4 L263.1,61.6 L263.0,56.9 L262.5,53.8 L261.6,51.6 L260.6,50.0 L259.5,48.6 L258.4,47.4 L257.0,46.6 L255.9,46.2 L255.0,46.0 L255.0,46.0 L255.6,46.7 L256.6,47.4 L257.6,48.2 L258.5,49.4 L259.3,50.8 L260.0,52.3 L260.6,54.3 L261.0,57.1 L260.9,61.5 L260.6,67.3 L260.4,72.8 L260.4,76.7 Z" fill="#38843a"/>
<path d="M261,73 L262,67 L262,62 L262,57 L262,54 L261,52 L260,50 L259,49 L258,48" stroke="#a8d8a0" stroke-width="0.7" fill="none" opacity="0.55"/>
<path d="M259.6,77.3 L265.7,74.7 L274.4,70.9 L283.5,67.0 L290.4,64.1 L294.3,63.0 L296.5,62.7 L298.4,62.9 L301.0,62.9 L304.4,62.7 L308.1,62.5 L311.8,62.5 L314.9,62.6 L317.7,63.1 L320.2,63.9 L322.4,64.6 L324.0,65.0 L324.0,65.0 L322.6,64.1 L320.5,63.1 L318.0,62.1 L315.1,61.4 L311.8,61.1 L308.1,61.0 L304.4,61.0 L301.0,61.1 L298.6,60.9 L296.6,60.6 L293.8,60.7 L289.6,61.9 L282.5,64.7 L273.5,68.9 L264.9,73.1 L259.1,76.1 Z" fill="#2f7b31"/>
<path d="M265,74 L274,70 L283,66 L290,63 L294,62 L297,62 L299,62 L301,62 L304,62 L308,62 L312,62 L315,62 L318,63" stroke="#a8d8a0" stroke-width="0.7" fill="none" opacity="0.55"/>
<path d="M267.6,77.2 L271.7,77.5 L277.6,77.8 L283.6,78.2 L287.7,78.8 L289.3,79.7 L289.8,80.8 L289.9,82.7 L290.5,85.2 L291.8,88.5 L293.3,92.6 L294.8,96.4 L296.0,99.0 L296.0,99.0 L295.3,96.2 L294.0,92.3 L292.7,88.2 L291.5,84.8 L291.2,82.5 L291.2,80.6 L290.5,78.7 L288.3,77.2 L283.8,76.3 L277.7,76.0 L271.7,76.1 L267.7,76.2 Z" fill="#2c742e"/>
<path d="M272,77 L278,77 L284,77 L288,78 L290,79 L290,81 L291,83 L291,85 L292,88" stroke="#a8d8a0" stroke-width="0.7" fill="none" opacity="0.55"/>
<path d="M266.6,76.1 L263.1,75.7 L257.8,75.3 L252.3,75.3 L247.8,75.9 L244.9,77.0 L242.9,78.4 L241.4,80.2 L239.5,82.5 L236.7,85.9 L233.6,90.1 L230.8,94.1 L229.0,97.0 L229.0,97.0 L231.3,94.5 L234.4,90.7 L237.7,86.6 L240.5,83.5 L242.6,81.4 L244.1,79.8 L245.8,78.8 L248.2,78.1 L252.4,77.7 L257.8,77.7 L263.0,77.5 L266.6,77.3 Z" fill="#38843a"/>
<path d="M263,77 L258,76 L252,77 L248,77 L245,78 L244,79 L242,81 L240,83 L237,86" stroke="#a8d8a0" stroke-width="0.7" fill="none" opacity="0.55"/>
<path d="M268.7,76.8 L269.5,72.6 L270.3,66.5 L270.7,60.0 L270.9,55.0 L270.4,51.7 L269.7,49.5 L268.8,48.0 L268.0,47.0 L268.0,47.0 L268.1,48.3 L268.6,49.8 L269.0,52.0 L269.1,55.0 L268.8,59.9 L268.1,66.2 L267.6,72.4 L267.5,76.6 Z" fill="#2c742e"/>
<path d="M269,72 L269,66 L270,60 L270,55 L270,52" stroke="#a8d8a0" stroke-width="0.7" fill="none" opacity="0.55"/>
<path d="M261.8,76.3 L259.0,73.6 L254.8,69.8 L249.9,66.0 L245.4,63.2 L241.2,61.8 L237.2,61.2 L233.4,61.2 L229.9,61.4 L226.8,62.2 L223.9,63.5 L221.6,64.9 L220.0,66.0 L220.0,66.0 L221.8,65.4 L224.2,64.2 L227.1,63.1 L230.1,62.6 L233.4,62.5 L237.0,62.7 L240.8,63.4 L244.6,64.8 L248.9,67.5 L253.6,71.2 L258.0,74.7 L261.2,77.1 Z" fill="#5ea25a"/>
<path d="M258,74 L254,70 L249,67 L245,64 L241,63 L237,62 L233,62 L230,62 L227,63" stroke="#a8d8a0" stroke-width="0.7" fill="none" opacity="0.55"/>
<path d="M263.9,76.2 L258.7,73.0 L251.3,68.5 L243.1,63.9 L235.8,60.4 L229.5,57.7 L223.5,55.3 L217.9,54.1 L213.1,55.1 L209.6,59.2 L207.4,65.4 L205.8,72.4 L204.3,78.6 L202.7,84.3 L201.3,90.2 L200.2,95.3 L199.6,99.0 L199.6,99.0 L200.7,95.5 L202.0,90.4 L203.6,84.6 L205.3,78.9 L207.0,72.7 L208.8,65.8 L211.0,60.0 L213.9,56.5 L217.8,55.8 L222.9,57.1 L228.7,59.5 L234.9,62.3 L242.1,65.8 L250.4,70.2 L258.0,74.4 L263.3,77.2 Z" fill="#3a863b"/>
<path d="M258,74 L251,69 L243,65 L235,61 L229,59 L223,56 L218,55 L213,56 L210,60 L208,66 L206,73 L205,79 L203,84" stroke="#a8d8a0" stroke-width="0.7" fill="none" opacity="0.55"/>
<path d="M262.4,76.1 L256.6,74.3 L248.1,71.8 L238.9,69.4 L230.8,68.4 L224.5,68.8 L219.0,70.2 L214.0,72.2 L209.3,74.5 L204.7,77.3 L200.4,80.5 L196.5,83.9 L193.2,87.0 L190.7,90.0 L188.7,92.9 L187.2,95.4 L186.3,97.2 L186.3,97.2 L187.7,95.6 L189.3,93.3 L191.4,90.6 L194.0,87.8 L197.3,84.9 L201.2,81.7 L205.5,78.6 L210.1,76.0 L214.7,73.9 L219.6,72.1 L224.8,70.9 L230.7,70.5 L238.5,71.6 L247.6,73.7 L256.1,75.9 L262.1,77.3 Z" fill="#5ea25a"/>
<path d="M256,75 L248,73 L239,71 L231,69 L225,70 L219,71 L214,73 L210,75 L205,78 L201,81 L197,84 L194,87 L191,90" stroke="#a8d8a0" stroke-width="0.7" fill="none" opacity="0.55"/>
<path d="M269.5,77.3 L277.7,76.3 L289.4,74.6 L301.7,73.3 L311.3,73.2 L317.6,74.8 L322.4,77.5 L325.9,81.0 L328.5,84.5 L329.9,88.0 L330.2,91.8 L329.7,96.1 L328.7,100.8 L327.0,106.5 L324.5,113.0 L321.9,119.0 L320.4,123.2 L320.4,123.2 L322.4,119.2 L325.1,113.2 L327.9,106.8 L329.8,101.1 L330.9,96.3 L331.6,91.9 L331.5,87.7 L330.0,83.7 L327.3,79.8 L323.5,76.0 L318.4,72.9 L311.5,71.1 L301.6,71.1 L289.2,72.7 L277.4,74.7 L269.4,76.1 Z" fill="#2f7b31"/>
<path d="M278,75 L289,74 L302,72 L311,72 L318,74 L323,77 L327,80 L329,84 L331,88 L331,92 L330,96 L329,101 L327,107" stroke="#a8d8a0" stroke-width="0.7" fill="none" opacity="0.55"/>
<path d="M268.7,77.3 L276.5,77.5 L287.7,77.5 L299.5,77.7 L309.1,78.4 L315.7,80.0 L320.9,82.2 L325.3,84.7 L329.0,86.9 L331.7,88.4 L333.5,89.7 L334.8,91.0 L336.3,92.8 L338.3,95.7 L340.4,99.2 L342.3,102.5 L343.7,104.7 L343.7,104.7 L342.7,102.2 L341.1,98.8 L339.2,95.2 L337.3,92.1 L335.9,90.1 L334.5,88.5 L332.7,87.0 L329.9,85.3 L326.3,83.0 L321.9,80.4 L316.4,77.9 L309.4,76.1 L299.6,75.3 L287.7,75.4 L276.5,75.8 L268.7,76.1 Z" fill="#3a863b"/>
<path d="M276,77 L288,76 L300,77 L309,77 L316,79 L321,81 L326,84 L329,86 L332,88 L334,89 L335,91 L337,92 L339,95" stroke="#a8d8a0" stroke-width="0.7" fill="none" opacity="0.55"/>
<path d="M261.6,77.0 L264.9,72.4 L269.7,65.7 L274.4,58.6 L277.7,53.0 L278.5,49.3 L277.8,46.8 L277.3,45.8 L277.9,45.2 L281.7,44.4 L287.4,44.1 L293.0,44.3 L296.6,44.9 L297.5,46.1 L297.0,48.3 L296.0,50.6 L295.4,52.3 L295.4,52.3 L296.4,50.8 L297.6,48.5 L298.3,46.0 L297.0,44.0 L293.1,43.2 L287.4,42.9 L281.6,43.1 L277.4,43.8 L275.7,45.4 L276.2,47.3 L276.7,49.3 L275.9,52.2 L272.7,57.6 L268.2,64.7 L263.8,71.6 L260.8,76.4 Z" fill="#2c742e"/>
<path d="M264,72 L269,65 L274,58 L277,53 L278,49 L277,47 L276,46 L278,45 L282,44 L287,43 L293,44 L297,44 L298,46" stroke="#a8d8a0" stroke-width="0.7" fill="none" opacity="0.55"/>
<path d="M256.2,77.0 L258.3,73.7 L261.1,68.7 L263.7,63.3 L265.3,58.4 L265.6,54.1 L265.1,50.1 L264.2,46.9 L263.4,45.0 L261.8,45.3 L261.4,47.1 L261.2,49.2 L261.2,50.7 L261.2,50.7 L261.8,49.4 L262.4,47.3 L262.9,45.8 L262.2,45.8 L262.6,47.4 L263.3,50.4 L263.6,54.1 L263.2,57.9 L261.5,62.3 L259.0,67.7 L256.6,72.8 L255.1,76.4 Z" fill="#2f7b31"/>
<path d="M257,73 L260,68 L263,63 L264,58 L265,54 L264,50 L263,47 L263,45 L262,46" stroke="#a8d8a0" stroke-width="0.7" fill="none" opacity="0.55"/>
<path d="M265.2,77.3 L270.5,74.4 L278.1,70.2 L285.9,65.9 L291.7,62.7 L294.5,61.3 L295.4,60.9 L296.2,61.0 L298.6,61.4 L303.4,62.0 L309.6,63.1 L315.5,64.3 L319.5,65.3 L320.4,65.6 L320.1,65.5 L318.9,66.0 L318.2,66.6 L318.2,66.6 L319.1,66.5 L320.4,66.2 L321.3,65.1 L319.9,64.0 L315.9,62.9 L309.9,61.5 L303.7,60.3 L298.9,59.5 L296.5,59.0 L295.2,58.7 L293.5,59.1 L290.5,60.5 L284.6,63.6 L277.0,68.3 L269.6,72.9 L264.5,76.1 Z" fill="#438e42"/>
<path d="M270,74 L278,69 L285,65 L291,62 L294,60 L295,60 L296,60 L299,60 L304,61 L310,62 L316,64 L320,65 L321,65" stroke="#a8d8a0" stroke-width="0.7" fill="none" opacity="0.55"/>
<path d="M265.2,77.3 L269.3,78.1 L275.2,79.2 L281.2,80.1 L285.5,80.7 L287.3,80.9 L286.9,80.2 L286.7,80.2 L287.0,81.5 L288.0,84.2 L289.2,87.9 L290.3,91.6 L291.2,94.1 L291.2,94.1 L290.9,91.5 L290.0,87.7 L289.1,83.9 L288.4,81.2 L288.3,80.2 L288.6,79.7 L287.5,79.0 L285.8,78.7 L281.6,77.9 L275.5,77.0 L269.5,76.4 L265.4,76.1 Z" fill="#2c742e"/>
<path d="M269,77 L275,78 L281,79 L286,80 L287,80 L288,80 L288,80 L288,81 L289,84" stroke="#a8d8a0" stroke-width="0.7" fill="none" opacity="0.55"/>
<path d="M267.3,76.1 L263.1,75.7 L256.9,75.1 L250.5,74.9 L246.1,75.1 L244.4,75.3 L244.1,76.8 L244.4,77.0 L243.6,78.9 L240.4,83.4 L235.8,89.5 L231.2,95.5 L228.3,99.8 L228.3,99.8 L231.7,95.9 L236.4,90.0 L241.2,84.0 L244.7,79.6 L245.9,77.3 L245.5,75.9 L244.8,77.1 L246.1,77.0 L250.5,77.0 L256.8,77.2 L263.0,77.3 L267.3,77.3 Z" fill="#4b954a"/>
<path d="M263,76 L257,76 L251,76 L246,76 L245,76 L245,76 L245,77 L244,79 L241,84" stroke="#a8d8a0" stroke-width="0.7" fill="none" opacity="0.55"/>
<path d="M260.5,76.9 L262.4,72.7 L264.6,66.5 L266.5,59.8 L267.8,54.3 L268.1,50.2 L267.7,46.8 L267.1,44.3 L266.4,42.5 L266.4,42.5 L266.2,44.4 L266.4,47.0 L266.5,50.1 L265.9,53.9 L264.4,59.2 L262.2,65.8 L260.3,72.0 L259.3,76.5 Z" fill="#2f7b31"/>
<path d="M261,72 L263,66 L265,60 L267,54 L267,50" stroke="#a8d8a0" stroke-width="0.7" fill="none" opacity="0.55"/>
<path d="M265.2,76.2 L262.1,73.4 L257.5,69.6 L252.0,65.8 L246.6,62.9 L241.1,61.4 L235.2,60.5 L230.0,60.1 L226.3,59.8 L224.8,59.8 L224.5,60.9 L225.3,61.1 L225.8,60.9 L225.8,60.9 L225.5,60.5 L225.0,60.1 L224.7,61.0 L226.2,61.3 L229.8,61.8 L235.0,62.4 L240.6,63.4 L245.8,65.0 L250.8,67.8 L256.0,71.5 L260.9,74.9 L264.4,77.2 Z" fill="#438e42"/>
<path d="M261,74 L257,71 L251,67 L246,64 L241,62 L235,61 L230,61 L226,61 L225,60" stroke="#a8d8a0" stroke-width="0.7" fill="none" opacity="0.55"/>
<path d="M261.8,76.2 L257.1,72.6 L250.3,67.6 L242.5,62.5 L235.2,58.9 L228.1,57.0 L220.9,55.8 L214.4,55.8 L209.5,57.4 L207.2,61.1 L207.2,66.0 L207.8,71.4 L207.8,76.6 L206.7,82.3 L205.1,88.6 L203.7,94.3 L202.9,98.4 L202.9,98.4 L204.2,94.5 L206.0,88.8 L207.7,82.5 L209.0,76.8 L209.3,71.4 L208.8,65.9 L208.9,61.5 L210.6,59.0 L214.6,57.9 L220.7,58.0 L227.6,59.2 L234.3,61.2 L241.3,64.7 L249.0,69.4 L256.1,74.1 L261.0,77.2 Z" fill="#38843a"/>
<path d="M257,73 L250,69 L242,64 L235,60 L228,58 L221,57 L215,57 L210,58 L208,61 L208,66 L209,71 L208,77 L207,82" stroke="#a8d8a0" stroke-width="0.7" fill="none" opacity="0.55"/>
<path d="M265.2,76.2 L258.7,74.5 L249.3,72.1 L239.2,69.8 L230.8,68.5 L224.6,67.9 L219.4,67.8 L215.0,68.4 L211.2,69.8 L208.2,72.4 L206.3,75.9 L204.8,79.6 L202.9,83.2 L200.3,86.9 L197.4,91.0 L194.8,94.7 L193.1,97.3 L193.1,97.3 L195.1,94.9 L197.9,91.4 L201.0,87.4 L203.8,83.7 L205.8,80.1 L207.5,76.5 L209.3,73.3 L211.9,71.1 L215.4,70.0 L219.5,69.6 L224.5,69.7 L230.5,70.4 L238.8,71.8 L248.9,73.8 L258.4,75.9 L265.0,77.2 Z" fill="#4b954a"/>
<path d="M259,75 L249,73 L239,71 L231,69 L225,69 L219,69 L215,69 L212,70 L209,73 L207,76 L205,80 L203,83 L201,87" stroke="#a8d8a0" stroke-width="0.7" fill="none" opacity="0.55"/>
<path d="M265.3,77.2 L274.0,75.8 L286.8,73.6 L299.9,71.8 L309.9,71.5 L315.8,73.3 L319.7,76.6 L322.5,80.7 L324.7,84.8 L326.5,88.8 L327.3,93.2 L327.6,97.5 L327.5,101.3 L326.7,104.7 L325.2,107.9 L323.6,110.5 L322.7,112.5 L322.7,112.5 L324.0,110.8 L325.7,108.2 L327.4,105.0 L328.4,101.5 L328.6,97.5 L328.5,93.0 L327.7,88.4 L326.0,84.2 L323.8,79.9 L320.9,75.6 L316.6,71.8 L310.1,69.7 L299.8,69.9 L286.5,72.0 L273.8,74.5 L265.1,76.2 Z" fill="#38843a"/>
<path d="M274,75 L287,73 L300,71 L310,71 L316,73 L320,76 L323,80 L325,84 L327,89 L328,93 L328,98 L328,101 L327,105" stroke="#a8d8a0" stroke-width="0.7" fill="none" opacity="0.55"/>
<path d="M260.4,77.3 L270.6,77.5 L285.3,77.6 L300.4,78.0 L311.5,78.9 L316.9,80.7 L319.1,83.2 L320.7,86.2 L323.4,89.0 L327.7,91.4 L332.6,93.5 L337.2,95.4 L340.8,96.9 L343.1,97.9 L344.6,98.5 L345.6,98.9 L346.4,99.0 L346.4,99.0 L345.8,98.4 L345.0,97.9 L343.5,97.1 L341.3,95.9 L337.7,94.3 L333.2,92.2 L328.4,90.0 L324.4,87.7 L322.1,85.2 L320.7,82.2 L317.9,79.0 L311.9,76.8 L300.5,75.8 L285.3,75.7 L270.6,75.9 L260.4,76.1 Z" fill="#4b954a"/>
<path d="M271,77 L285,77 L300,77 L312,78 L317,80 L320,83 L321,86 L324,88 L328,91 L333,93 L337,95 L341,96 L343,97" stroke="#a8d8a0" stroke-width="0.7" fill="none" opacity="0.55"/>
<path d="M259.8,77.0 L263.0,72.3 L267.4,65.3 L272.1,58.1 L275.7,52.6 L278.0,49.7 L279.8,48.3 L281.3,47.3 L282.9,45.9 L284.1,44.0 L284.9,42.2 L285.6,41.0 L287.2,40.5 L290.8,41.5 L295.7,43.5 L300.5,45.6 L303.9,47.0 L303.9,47.0 L300.7,45.2 L296.1,42.8 L291.2,40.5 L287.4,39.4 L284.9,39.8 L283.6,41.4 L282.7,43.2 L281.6,44.7 L280.2,45.7 L278.6,46.6 L276.5,48.2 L273.8,51.3 L270.1,56.8 L265.7,64.2 L261.6,71.4 L258.8,76.4 Z" fill="#38843a"/>
<path d="M262,72 L267,65 L271,57 L275,52 L277,49 L279,47 L281,46 L282,45 L283,44 L284,42 L285,40 L287,40 L291,41" stroke="#a8d8a0" stroke-width="0.7" fill="none" opacity="0.55"/>
<path d="M261.3,76.7 L261.5,72.7 L261.7,67.0 L261.5,60.9 L260.8,55.9 L259.6,52.3 L257.8,49.6 L256.2,47.5 L255.1,45.8 L254.7,44.8 L254.6,44.2 L254.7,43.7 L254.7,43.3 L254.7,43.3 L254.3,43.5 L253.9,43.9 L253.7,44.9 L254.0,46.3 L255.1,48.2 L256.6,50.4 L258.1,53.0 L259.2,56.3 L259.6,61.0 L259.8,67.0 L260.0,72.7 L260.3,76.7 Z" fill="#38843a"/>
<path d="M261,73 L261,67 L261,61 L260,56 L259,53 L257,50 L256,48 L255,46 L254,45" stroke="#a8d8a0" stroke-width="0.7" fill="none" opacity="0.55"/>
<path d="M265.9,77.2 L270.6,74.9 L277.4,71.5 L284.6,67.9 L290.4,65.2 L294.6,63.9 L298.1,63.3 L301.3,63.0 L304.8,62.5 L308.6,61.1 L312.5,59.4 L315.9,58.3 L318.4,58.3 L320.4,60.6 L321.9,64.5 L323.0,68.6 L324.0,71.3 L324.0,71.3 L323.5,68.5 L322.6,64.3 L321.2,60.1 L319.0,57.4 L315.7,57.0 L312.0,58.1 L308.1,59.7 L304.4,60.9 L301.1,61.3 L297.8,61.4 L294.2,61.9 L289.7,63.2 L283.6,65.9 L276.5,69.8 L269.9,73.5 L265.4,76.2 Z" fill="#38843a"/>
<path d="M270,74 L277,71 L284,67 L290,64 L294,63 L298,62 L301,62 L305,62 L308,60 L312,59 L316,58 L319,58 L321,60" stroke="#a8d8a0" stroke-width="0.7" fill="none" opacity="0.55"/>
<path d="M256.9,77.2 L263.2,77.6 L272.5,78.0 L281.7,78.5 L288.2,79.5 L290.8,81.0 L291.4,82.9 L291.2,85.4 L291.1,88.3 L291.1,91.6 L290.7,95.4 L290.3,98.9 L290.2,101.4 L290.2,101.4 L290.8,99.0 L291.5,95.5 L292.0,91.6 L292.2,88.3 L292.5,85.5 L292.8,82.7 L291.9,80.0 L288.7,77.9 L281.9,76.7 L272.5,76.2 L263.3,76.2 L256.9,76.2 Z" fill="#38843a"/>
<path d="M263,77 L272,77 L282,78 L288,79 L291,81 L292,83 L292,85 L292,88 L292,92" stroke="#a8d8a0" stroke-width="0.7" fill="none" opacity="0.55"/>
<path d="M263.6,76.1 L260.7,75.8 L256.5,75.4 L252.1,75.3 L248.8,75.6 L247.2,75.9 L246.2,76.4 L245.7,77.4 L244.3,79.7 L241.2,84.3 L237.1,90.7 L233.2,96.9 L230.6,101.3 L230.6,101.3 L233.6,97.2 L237.8,91.1 L242.1,84.9 L245.4,80.4 L246.9,78.2 L247.4,77.5 L247.5,77.6 L248.9,77.5 L252.1,77.4 L256.4,77.5 L260.6,77.4 L263.6,77.3 Z" fill="#2f7b31"/>
<path d="M261,77 L256,76 L252,76 L249,77 L247,77 L247,77 L246,78 L245,80 L242,85" stroke="#a8d8a0" stroke-width="0.7" fill="none" opacity="0.55"/>
<path d="M267.8,76.8 L269.0,72.1 L270.2,65.3 L271.1,58.3 L271.1,53.1 L269.6,50.6 L267.2,50.1 L265.1,50.5 L263.7,50.9 L263.7,50.9 L265.2,51.2 L267.2,51.2 L268.7,51.7 L269.5,53.4 L269.2,58.1 L268.2,65.0 L267.1,71.8 L266.7,76.6 Z" fill="#438e42"/>
<path d="M268,72 L269,65 L270,58 L270,53 L269,51" stroke="#a8d8a0" stroke-width="0.7" fill="none" opacity="0.55"/>
<path d="M260.8,76.2 L258.0,73.7 L253.8,70.3 L249.0,67.0 L244.5,64.4 L240.3,62.7 L236.2,61.6 L232.5,60.8 L229.5,60.5 L227.3,60.9 L225.9,61.9 L225.1,63.0 L224.7,63.8 L224.7,63.8 L225.6,63.4 L226.5,62.6 L227.6,62.1 L229.4,62.0 L232.2,62.5 L235.7,63.3 L239.6,64.6 L243.5,66.3 L247.7,68.9 L252.4,72.3 L256.9,75.2 L260.0,77.2 Z" fill="#5ea25a"/>
<path d="M257,74 L253,71 L248,68 L244,65 L240,64 L236,62 L232,62 L229,61 L227,61" stroke="#a8d8a0" stroke-width="0.7" fill="none" opacity="0.55"/>
<path d="M262.9,77.0 L264.6,75.4 L266.7,72.7 L268.8,70.2 L270.5,68.8 L272.2,68.9 L274.4,70.0 L276.5,71.4 L278.1,72.1 L278.1,72.1 L276.9,70.8 L275.0,69.1 L272.7,67.6 L270.1,67.2 L267.5,68.8 L265.1,71.4 L263.1,74.3 L262.0,76.4 Z" fill="#38843a"/>
<path d="M264,75 L266,72 L268,69 L270,68 L272,68" stroke="#a8d8a0" stroke-width="0.7" fill="none" opacity="0.55"/>
<path d="M265.0,76.9 L266.7,74.1 L268.6,69.7 L270.4,65.4 L272.1,62.8 L273.4,62.3 L275.2,62.8 L277.0,63.8 L278.5,64.3 L278.5,64.3 L277.4,63.2 L275.7,61.8 L273.4,60.8 L270.9,61.5 L268.7,64.5 L266.6,68.9 L264.9,73.3 L264.0,76.5 Z" fill="#2c742e"/>
<path d="M266,74 L268,69 L270,65 L271,62 L273,62" stroke="#a8d8a0" stroke-width="0.7" fill="none" opacity="0.55"/>
<path d="M258.3,76.5 L257.1,73.4 L255.0,69.2 L252.4,65.1 L249.7,62.6 L246.9,62.8 L244.3,64.6 L242.3,66.7 L241.0,68.3 L241.0,68.3 L242.7,67.2 L245.0,65.4 L247.3,64.0 L249.0,64.0 L251.0,66.2 L253.3,70.2 L255.5,74.3 L257.3,76.9 Z" fill="#38843a"/>
<path d="M256,74 L254,70 L252,66 L249,63 L247,63" stroke="#a8d8a0" stroke-width="0.7" fill="none" opacity="0.55"/>
<path d="M264.5,76.5 L264.0,74.3 L262.7,71.4 L261.1,68.6 L259.3,66.8 L257.3,66.7 L255.7,67.9 L254.4,69.2 L253.8,70.3 L253.8,70.3 L254.9,69.8 L256.3,68.8 L257.7,68.1 L258.4,68.2 L259.5,69.7 L260.8,72.4 L262.2,75.2 L263.5,76.9 Z" fill="#2c742e"/>
<path d="M263,75 L262,72 L260,69 L259,67 L257,67" stroke="#a8d8a0" stroke-width="0.7" fill="none" opacity="0.55"/>
<path d="M266.8,76.9 L268.1,74.4 L269.6,70.6 L271.1,67.0 L272.2,65.2 L272.9,65.4 L274.5,66.9 L276.0,69.0 L277.3,70.2 L277.3,70.2 L276.6,68.6 L275.3,66.3 L273.7,64.3 L271.4,63.8 L269.5,66.2 L267.7,69.9 L266.4,73.8 L265.7,76.5 Z" fill="#38843a"/>
<path d="M267,74 L269,70 L270,67 L272,65 L273,65" stroke="#a8d8a0" stroke-width="0.7" fill="none" opacity="0.55"/>
<path d="M260.3,77.0 L261.9,75.6 L263.7,73.2 L265.5,70.9 L266.9,69.8 L268.3,70.1 L270.2,71.3 L272.1,72.8 L273.5,73.7 L273.5,73.7 L272.5,72.3 L270.9,70.5 L268.9,68.8 L266.5,68.3 L264.2,69.6 L262.1,72.0 L260.4,74.5 L259.5,76.4 Z" fill="#2f7b31"/>
<path d="M261,75 L263,73 L265,70 L267,69 L269,69" stroke="#a8d8a0" stroke-width="0.7" fill="none" opacity="0.55"/>
<path d="M258.1,76.4 L257.0,73.6 L255.0,69.6 L252.5,65.9 L249.8,63.6 L246.9,64.0 L244.5,66.1 L242.5,68.4 L241.4,70.1 L241.4,70.1 L243.1,68.9 L245.3,66.9 L247.6,65.4 L249.1,65.2 L250.9,67.1 L253.0,70.8 L255.2,74.6 L257.0,77.0 Z" fill="#2f7b31"/>
<path d="M256,74 L254,70 L252,67 L249,64 L247,65" stroke="#a8d8a0" stroke-width="0.7" fill="none" opacity="0.55"/>
<path d="M263.0,76.2 L261.3,74.2 L258.6,71.7 L255.3,69.4 L251.9,68.1 L248.6,68.5 L245.5,70.0 L242.7,71.6 L241.0,73.0 L241.0,73.0 L243.1,72.4 L246.0,71.1 L249.0,70.0 L251.6,69.9 L254.2,71.2 L257.1,73.5 L259.9,75.8 L262.2,77.2 Z" fill="#3a863b"/>
<path d="M261,75 L258,73 L255,70 L252,69 L249,69" stroke="#a8d8a0" stroke-width="0.7" fill="none" opacity="0.55"/>
<path d="M260.9,76.2 L259.6,74.5 L257.4,72.4 L254.7,70.5 L251.8,69.5 L249.1,69.9 L246.5,71.2 L244.3,72.6 L242.9,73.9 L242.9,73.9 L244.7,73.4 L247.0,72.4 L249.5,71.6 L251.5,71.5 L253.5,72.5 L255.8,74.4 L258.1,76.2 L260.0,77.2 Z" fill="#438e42"/>
<path d="M259,75 L257,73 L254,72 L252,70 L249,71" stroke="#a8d8a0" stroke-width="0.7" fill="none" opacity="0.55"/>
<path d="M267.2,76.9 L268.3,74.4 L269.3,70.8 L270.1,67.3 L270.7,65.6 L270.4,65.7 L271.4,67.0 L272.5,68.9 L273.5,70.0 L273.5,70.0 L273.3,68.5 L272.5,66.4 L271.5,64.5 L269.4,64.2 L268.1,66.6 L266.9,70.2 L266.1,73.9 L265.9,76.5 Z" fill="#2c742e"/>
<path d="M267,74 L268,70 L269,67 L270,65 L271,65" stroke="#a8d8a0" stroke-width="0.7" fill="none" opacity="0.55"/>
<path d="M438.5,73.5 L465.8,73.5 L463.8,100.8 L440.5,100.8 Z" fill="#0c0c0c"/>
<path d="M439.0,73.5 L465.3,73.5" stroke="#262626" stroke-width="1.2"/>
<path d="M458.3,75.2 L460.7,69.7 L464.1,61.6 L467.7,52.8 L471.0,45.5 L474.2,40.2 L477.5,35.6 L480.8,31.5 L483.6,27.4 L485.9,23.0 L487.7,18.6 L489.2,14.7 L490.0,12.0 L490.0,12.0 L488.6,14.5 L486.9,18.2 L484.8,22.4 L482.4,26.6 L479.5,30.5 L476.1,34.5 L472.5,39.0 L469.0,44.5 L465.5,51.9 L461.9,60.7 L459.0,69.0 L457.1,74.8 Z" fill="#438e42"/>
<path d="M460,69 L463,61 L467,52 L470,45 L473,40 L477,35 L480,31 L483,27 L485,23" stroke="#a8d8a0" stroke-width="0.7" fill="none" opacity="0.55"/>
<path d="M452.5,75.4 L456.4,70.9 L461.8,64.3 L467.6,57.0 L472.8,50.7 L477.1,45.9 L481.2,41.8 L485.2,37.8 L489.5,33.5 L494.5,28.4 L499.9,22.8 L504.8,17.7 L508.0,14.0 L508.0,14.0 L504.3,17.2 L499.2,22.1 L493.6,27.5 L488.5,32.5 L484.1,36.6 L479.9,40.5 L475.7,44.6 L471.2,49.3 L465.9,55.6 L460.0,62.8 L455.0,69.8 L451.5,74.6 Z" fill="#3a863b"/>
<path d="M456,70 L461,64 L467,56 L472,50 L476,45 L481,41 L485,37 L489,33 L494,28" stroke="#a8d8a0" stroke-width="0.7" fill="none" opacity="0.55"/>
<path d="M453.4,74.8 L452.2,69.9 L450.1,62.8 L447.8,55.5 L446.0,49.7 L445.1,46.1 L444.7,43.6 L444.3,41.4 L443.6,38.8 L442.4,35.6 L440.8,32.1 L439.2,29.1 L438.0,27.0 L438.0,27.0 L438.7,29.3 L440.0,32.5 L441.3,36.0 L442.4,39.2 L442.8,41.6 L443.0,43.8 L443.2,46.5 L444.0,50.3 L445.7,56.2 L448.0,63.5 L450.5,70.4 L452.3,75.2 Z" fill="#38843a"/>
<path d="M451,70 L449,63 L447,56 L445,50 L444,46 L444,44 L444,41 L443,39 L442,36" stroke="#a8d8a0" stroke-width="0.7" fill="none" opacity="0.55"/>
<path d="M447.1,74.6 L443.4,68.6 L437.9,59.8 L431.7,50.8 L425.9,44.0 L420.6,40.1 L415.3,37.9 L410.1,36.9 L404.9,36.8 L399.5,37.5 L394.1,39.4 L389.0,41.7 L384.5,44.1 L380.8,46.1 L377.7,48.1 L374.9,50.8 L372.3,54.6 L369.9,59.9 L367.8,66.3 L366.0,73.2 L364.5,79.9 L363.4,87.0 L362.6,94.5 L362.2,101.3 L362.0,106.0 L362.0,106.0 L362.7,101.3 L363.4,94.6 L364.3,87.1 L365.5,80.1 L367.2,73.5 L369.1,66.7 L371.3,60.5 L373.7,55.4 L376.2,52.0 L378.8,49.6 L381.8,47.8 L385.5,45.9 L389.9,43.7 L394.9,41.5 L400.1,39.9 L405.1,39.2 L409.8,39.5 L414.5,40.5 L419.2,42.5 L424.1,46.0 L429.8,52.3 L436.1,61.0 L441.9,69.6 L445.9,75.4 Z" fill="#38843a"/>
<path d="M443,69 L437,60 L431,52 L425,45 L420,41 L415,39 L410,38 L405,38 L400,39 L394,40 L389,43 L385,45 L381,47 L378,49 L376,51 L373,55 L371,60 L368,66 L367,73 L365,80 L364,87" stroke="#a8d8a0" stroke-width="0.7" fill="none" opacity="0.55"/>
<path d="M450.7,74.4 L445.3,69.6 L437.4,62.8 L428.7,55.8 L420.7,50.7 L413.8,47.9 L407.3,46.3 L401.0,45.9 L394.7,46.7 L388.4,48.8 L382.0,52.0 L376.1,56.3 L371.2,61.4 L367.6,67.6 L365.0,74.9 L363.0,82.5 L361.4,89.9 L359.9,97.6 L358.9,105.7 L358.3,112.9 L358.0,118.0 L358.0,118.0 L358.9,113.0 L359.8,105.8 L361.0,97.7 L362.6,90.1 L364.5,82.9 L366.6,75.4 L369.3,68.4 L372.8,62.6 L377.5,57.9 L383.2,54.0 L389.3,51.0 L395.3,49.3 L401.0,48.6 L406.8,49.1 L412.9,50.6 L419.3,53.3 L427.1,58.1 L435.9,64.7 L444.0,71.2 L449.7,75.6 Z" fill="#2c742e"/>
<path d="M445,70 L437,64 L428,57 L420,52 L413,49 L407,48 L401,47 L395,48 L389,50 L383,53 L377,57 L372,62 L368,68 L366,75 L364,83 L362,90 L360,98" stroke="#a8d8a0" stroke-width="0.7" fill="none" opacity="0.55"/>
<path d="M458.1,74.3 L450.7,73.8 L440.0,73.1 L428.8,72.6 L420.0,72.7 L414.4,73.1 L410.4,73.8 L407.3,75.0 L404.3,77.3 L401.5,80.3 L399.0,84.2 L396.9,88.9 L395.4,94.9 L394.4,103.3 L394.0,113.5 L393.9,123.3 L394.0,130.0 L394.0,130.0 L394.5,123.3 L394.9,113.6 L395.5,103.4 L396.6,95.1 L398.3,89.4 L400.4,85.0 L402.9,81.5 L405.7,78.7 L408.3,76.9 L411.0,76.0 L414.6,75.5 L420.0,75.3 L428.8,75.3 L439.9,75.4 L450.6,75.6 L458.0,75.7 Z" fill="#2c742e"/>
<path d="M451,75 L440,74 L429,74 L420,74 L414,74 L411,75 L408,76 L405,78 L402,81 L400,85 L398,89 L396,95 L395,103" stroke="#a8d8a0" stroke-width="0.7" fill="none" opacity="0.55"/>
<path d="M450.2,74.4 L445.8,72.2 L439.5,69.1 L432.3,65.9 L425.3,63.8 L418.6,62.9 L411.9,62.6 L405.5,62.7 L399.9,63.1 L395.5,63.5 L391.9,64.1 L388.5,65.0 L384.8,66.4 L380.1,68.6 L374.9,71.3 L370.2,74.0 L367.0,76.0 L367.0,76.0 L370.4,74.5 L375.3,72.1 L380.5,69.5 L385.2,67.6 L388.9,66.4 L392.2,65.7 L395.7,65.2 L400.1,64.9 L405.6,64.8 L411.9,64.8 L418.4,65.2 L424.7,66.2 L431.4,68.3 L438.6,71.1 L445.1,73.8 L449.7,75.6 Z" fill="#2f7b31"/>
<path d="M445,73 L439,70 L432,67 L425,65 L419,64 L412,64 L406,64 L400,64 L396,64 L392,65 L389,66 L385,67 L380,69" stroke="#a8d8a0" stroke-width="0.7" fill="none" opacity="0.55"/>
<path d="M447.2,75.5 L454.5,69.7 L465.1,61.3 L476.3,52.5 L485.6,45.9 L492.3,41.9 L497.7,39.2 L502.4,37.6 L507.0,37.1 L511.9,37.4 L516.6,38.7 L520.8,41.1 L524.3,44.5 L526.8,49.2 L528.7,55.2 L530.1,62.2 L531.3,70.1 L532.4,79.2 L533.2,89.4 L533.9,100.0 L534.5,110.0 L535.2,120.1 L535.9,130.5 L536.5,139.6 L537.0,146.0 L537.0,146.0 L536.9,139.6 L536.5,130.5 L536.0,120.1 L535.5,110.0 L534.9,99.9 L534.4,89.3 L533.7,79.0 L532.7,69.9 L531.5,62.0 L530.2,54.8 L528.4,48.6 L525.7,43.5 L521.9,39.6 L517.3,36.9 L512.2,35.4 L507.0,34.9 L501.9,35.5 L496.8,37.1 L491.2,39.9 L484.4,44.1 L475.1,50.9 L464.0,59.9 L453.6,68.5 L446.4,74.5 Z" fill="#38843a"/>
<path d="M454,69 L465,61 L476,52 L485,45 L492,41 L497,38 L502,37 L507,36 L512,36 L517,38 L521,40 L525,44 L528,49 L529,55 L531,62 L532,70 L533,79 L534,89 L534,100 L535,110 L536,120" stroke="#a8d8a0" stroke-width="0.7" fill="none" opacity="0.55"/>
<path d="M451.7,75.5 L459.0,71.9 L469.7,66.6 L481.0,61.1 L490.4,57.1 L497.4,54.5 L503.1,52.8 L508.0,52.1 L512.6,52.9 L517.3,55.5 L521.6,59.8 L525.7,65.0 L529.3,70.4 L532.4,76.0 L534.9,82.2 L537.2,88.7 L539.5,95.2 L542.1,102.2 L544.8,109.7 L547.2,116.4 L549.0,121.0 L549.0,121.0 L547.6,116.2 L545.4,109.5 L542.9,101.9 L540.5,94.8 L538.3,88.3 L536.1,81.8 L533.7,75.4 L530.7,69.6 L527.1,64.0 L523.0,58.6 L518.4,54.0 L513.4,51.1 L508.1,50.1 L502.6,50.6 L496.6,52.4 L489.6,54.9 L480.1,59.1 L468.8,64.9 L458.3,70.5 L451.1,74.5 Z" fill="#438e42"/>
<path d="M459,71 L469,66 L481,60 L490,56 L497,53 L503,52 L508,51 L513,52 L518,55 L522,59 L526,64 L530,70 L533,76 L536,82 L538,89 L540,95 L543,102" stroke="#a8d8a0" stroke-width="0.7" fill="none" opacity="0.55"/>
<path d="M447.7,75.7 L454.1,71.5 L463.2,65.2 L472.8,58.6 L480.8,53.3 L486.6,49.9 L491.4,47.5 L495.7,45.7 L500.3,44.2 L505.2,42.8 L510.1,41.9 L515.0,41.2 L520.0,40.8 L525.7,40.7 L531.7,40.8 L537.2,41.1 L541.0,41.0 L541.0,41.0 L537.2,40.4 L531.8,39.8 L525.7,39.3 L520.0,39.2 L514.9,39.4 L509.8,39.9 L504.7,40.6 L499.7,41.8 L494.9,43.3 L490.2,45.0 L485.2,47.3 L479.2,50.7 L471.0,56.0 L461.5,62.9 L452.8,69.6 L446.7,74.3 Z" fill="#438e42"/>
<path d="M453,71 L462,64 L472,57 L480,52 L486,49 L491,46 L495,44 L500,43 L505,42 L510,41 L515,40 L520,40 L526,40" stroke="#a8d8a0" stroke-width="0.7" fill="none" opacity="0.55"/>
<path d="M453.5,75.6 L459.6,75.9 L468.4,76.3 L477.7,76.8 L484.9,77.1 L489.5,77.4 L492.5,77.5 L494.9,78.1 L497.5,79.7 L500.7,82.4 L504.1,85.8 L507.1,90.1 L509.5,95.2 L511.0,102.1 L511.9,110.5 L512.4,118.5 L513.0,124.0 L513.0,124.0 L512.9,118.5 L512.6,110.5 L511.9,101.9 L510.5,94.8 L508.2,89.5 L505.2,84.9 L501.8,81.2 L498.5,78.3 L495.6,76.4 L492.9,75.6 L489.6,75.3 L485.1,74.9 L477.7,74.4 L468.5,74.3 L459.7,74.3 L453.6,74.4 Z" fill="#4b954a"/>
<path d="M460,75 L468,75 L478,76 L485,76 L490,76 L493,77 L495,77 L498,79 L501,82 L505,85 L508,90 L510,95 L511,102" stroke="#a8d8a0" stroke-width="0.7" fill="none" opacity="0.55"/>
<path d="M447.2,75.5 L454.6,78.6 L465.4,82.8 L476.4,87.1 L484.5,90.9 L488.2,93.9 L489.7,96.6 L490.3,99.4 L491.4,102.3 L493.2,105.2 L495.1,108.0 L496.7,110.4 L498.0,112.0 L498.0,112.0 L497.2,110.1 L495.8,107.5 L494.2,104.6 L492.6,101.7 L491.8,99.0 L491.3,96.0 L489.6,92.7 L485.5,89.1 L477.3,85.1 L466.2,80.7 L455.2,77.0 L447.6,74.5 Z" fill="#38843a"/>
<path d="M455,78 L466,82 L477,86 L485,90 L489,93 L490,96 L491,99 L492,102 L494,105" stroke="#a8d8a0" stroke-width="0.7" fill="none" opacity="0.55"/>
<path d="M454.1,74.2 L448.3,75.4 L439.9,77.3 L431.2,79.4 L424.5,81.5 L420.6,82.9 L418.1,84.0 L416.1,85.3 L414.1,87.1 L411.9,89.8 L409.9,93.0 L408.0,96.4 L406.3,99.6 L404.6,103.0 L403.0,106.5 L401.7,109.7 L401.0,112.0 L401.0,112.0 L402.4,110.0 L404.0,107.0 L405.8,103.6 L407.7,100.4 L409.6,97.3 L411.6,94.1 L413.7,91.2 L415.9,88.9 L417.7,87.4 L419.3,86.5 L421.6,85.7 L425.5,84.5 L432.1,82.6 L440.7,80.1 L448.9,77.6 L454.5,75.8 Z" fill="#438e42"/>
<path d="M449,77 L440,79 L432,81 L425,83 L421,84 L419,85 L417,86 L415,88 L413,91 L411,94 L409,97 L407,100 L405,103" stroke="#a8d8a0" stroke-width="0.7" fill="none" opacity="0.55"/>
<path d="M447.0,74.8 L445.8,70.3 L444.0,63.9 L441.5,57.1 L439.0,51.5 L436.4,47.4 L433.7,44.2 L431.0,41.6 L428.5,39.4 L426.0,37.8 L423.6,36.8 L421.5,36.2 L420.0,36.0 L420.0,36.0 L421.3,36.8 L423.2,37.7 L425.4,38.9 L427.5,40.6 L429.8,42.8 L432.3,45.4 L434.7,48.6 L437.0,52.5 L439.3,58.0 L441.7,64.6 L444.0,70.9 L445.8,75.2 Z" fill="#2c742e"/>
<path d="M445,71 L443,64 L440,58 L438,52 L436,48 L433,45 L430,42 L428,40 L426,38" stroke="#a8d8a0" stroke-width="0.7" fill="none" opacity="0.55"/>
<path d="M452.9,75.3 L455.1,70.7 L458.1,63.9 L461.0,56.6 L463.2,50.4 L464.5,45.7 L465.4,41.6 L466.1,38.2 L466.8,35.3 L467.7,32.8 L468.7,30.9 L469.6,29.3 L470.0,28.0 L470.0,28.0 L469.0,28.9 L467.8,30.3 L466.5,32.2 L465.2,34.7 L464.2,37.7 L463.3,41.1 L462.3,45.1 L460.8,49.6 L458.5,55.7 L455.6,62.9 L453.1,69.9 L451.5,74.7 Z" fill="#438e42"/>
<path d="M454,70 L457,63 L460,56 L462,50 L463,45 L464,41 L465,38 L466,35 L467,33" stroke="#a8d8a0" stroke-width="0.7" fill="none" opacity="0.55"/>
<path d="M452.4,75.3 L455.7,69.7 L460.3,61.5 L465.1,52.7 L469.3,45.6 L472.7,41.0 L475.8,37.6 L478.8,34.5 L481.9,30.6 L485.3,25.4 L488.8,19.4 L491.9,14.0 L493.9,10.1 L493.9,10.1 L491.4,13.7 L488.0,19.0 L484.3,24.8 L480.8,29.8 L477.6,33.4 L474.5,36.4 L471.2,39.8 L467.6,44.5 L463.2,51.6 L458.3,60.4 L454.1,68.8 L451.3,74.7 Z" fill="#2c742e"/>
<path d="M455,69 L459,61 L464,52 L468,45 L472,40 L475,37 L478,34 L481,30 L485,25" stroke="#a8d8a0" stroke-width="0.7" fill="none" opacity="0.55"/>
<path d="M452.3,75.4 L456.1,71.0 L461.5,64.6 L467.1,57.5 L472.1,51.4 L476.2,47.0 L480.0,43.4 L483.9,39.8 L488.3,35.6 L493.9,29.8 L500.3,23.2 L506.1,17.1 L510.0,12.7 L510.0,12.7 L505.6,16.7 L499.6,22.5 L493.0,28.9 L487.3,34.5 L482.8,38.5 L478.7,42.0 L474.7,45.5 L470.4,49.9 L465.2,55.9 L459.5,63.0 L454.6,69.8 L451.3,74.6 Z" fill="#3a863b"/>
<path d="M455,70 L460,64 L466,57 L471,51 L475,46 L479,43 L483,39 L488,35 L493,29" stroke="#a8d8a0" stroke-width="0.7" fill="none" opacity="0.55"/>
<path d="M460.0,74.6 L457.0,69.5 L452.6,62.2 L447.9,54.8 L444.6,49.1 L443.6,45.8 L443.7,43.7 L444.1,41.6 L443.9,39.2 L442.8,36.5 L441.3,33.9 L439.8,31.7 L438.5,30.3 L438.5,30.3 L439.1,32.1 L440.3,34.5 L441.4,37.1 L442.2,39.6 L442.1,41.4 L441.4,43.3 L441.1,46.2 L442.2,50.2 L445.4,56.3 L450.2,63.8 L455.1,70.7 L458.7,75.4 Z" fill="#2f7b31"/>
<path d="M456,70 L451,63 L447,56 L443,50 L442,46 L443,43 L443,42 L443,39 L442,37" stroke="#a8d8a0" stroke-width="0.7" fill="none" opacity="0.55"/>
<path d="M451.2,74.5 L446.9,68.6 L440.5,60.1 L433.5,51.3 L426.9,44.7 L420.9,41.2 L415.2,39.5 L409.7,38.9 L404.4,38.7 L398.8,38.6 L393.0,39.1 L387.7,40.2 L383.3,41.8 L380.4,44.0 L378.7,46.6 L377.4,49.8 L375.6,54.1 L372.8,59.9 L369.5,67.0 L366.2,74.7 L363.6,82.1 L361.9,89.9 L360.6,98.0 L359.8,105.3 L359.3,110.4 L359.3,110.4 L360.3,105.4 L361.4,98.2 L362.8,90.1 L364.8,82.5 L367.5,75.2 L370.9,67.7 L374.3,60.6 L377.3,54.8 L379.2,50.6 L380.5,47.5 L381.9,45.5 L384.3,43.8 L388.3,42.5 L393.3,41.6 L398.9,41.2 L404.3,41.3 L409.5,41.7 L414.6,42.3 L419.7,43.9 L425.1,47.0 L431.5,53.1 L438.7,61.5 L445.3,69.8 L450.0,75.5 Z" fill="#4b954a"/>
<path d="M446,69 L440,61 L432,52 L426,46 L420,43 L415,41 L410,40 L404,40 L399,40 L393,40 L388,41 L384,43 L381,45 L380,47 L378,50 L376,54 L374,60 L370,67 L367,75 L364,82 L362,90" stroke="#a8d8a0" stroke-width="0.7" fill="none" opacity="0.55"/>
<path d="M452.7,74.4 L447.0,69.9 L438.7,63.4 L429.6,56.7 L421.4,51.9 L414.7,49.6 L408.5,48.6 L402.5,48.6 L396.2,49.3 L388.6,50.2 L380.2,51.6 L372.4,54.2 L366.7,58.9 L364.5,66.2 L364.7,75.3 L365.4,84.8 L364.8,93.3 L361.9,101.1 L357.8,108.9 L353.8,115.7 L351.2,120.6 L351.2,120.6 L354.2,116.0 L358.5,109.3 L362.8,101.6 L365.9,93.6 L366.8,84.8 L366.2,75.2 L366.1,66.4 L368.2,59.9 L373.3,55.9 L380.7,53.6 L388.9,52.3 L396.4,51.5 L402.6,51.0 L408.3,51.1 L414.0,52.1 L420.3,54.3 L428.3,58.8 L437.4,65.1 L445.9,71.3 L451.8,75.6 Z" fill="#3a863b"/>
<path d="M446,71 L438,64 L429,58 L421,53 L414,51 L408,50 L403,50 L396,50 L389,51 L380,53 L373,55 L367,59 L365,66 L365,75 L366,85 L365,93 L362,101" stroke="#a8d8a0" stroke-width="0.7" fill="none" opacity="0.55"/>
<path d="M454.7,74.3 L447.8,73.9 L437.8,73.4 L427.3,73.0 L419.3,73.0 L414.7,72.8 L411.8,72.6 L409.4,72.8 L406.8,74.3 L404.0,76.6 L401.2,79.7 L398.7,84.1 L396.7,90.5 L395.3,100.6 L394.3,113.6 L393.7,126.1 L393.5,134.7 L393.5,134.7 L394.3,126.2 L395.2,113.7 L396.4,100.8 L398.0,90.8 L400.1,84.7 L402.6,80.7 L405.3,78.0 L408.0,76.0 L410.0,74.9 L411.7,74.9 L414.5,75.3 L419.2,75.6 L427.3,75.8 L437.7,75.8 L447.8,75.8 L454.7,75.7 Z" fill="#2c742e"/>
<path d="M448,75 L438,75 L427,74 L419,74 L415,74 L412,74 L410,74 L407,75 L405,77 L402,80 L399,84 L397,91 L396,101" stroke="#a8d8a0" stroke-width="0.7" fill="none" opacity="0.55"/>
<path d="M454.8,74.4 L450.0,71.8 L443.1,68.0 L435.1,64.4 L427.2,62.2 L419.2,61.9 L410.9,62.8 L403.3,64.1 L397.5,64.9 L394.7,64.8 L393.9,64.4 L392.6,64.2 L389.8,64.8 L384.0,66.9 L376.4,70.0 L369.0,73.1 L364.0,75.4 L364.0,75.4 L369.2,73.6 L376.7,70.8 L384.4,67.9 L390.2,66.1 L392.7,65.6 L393.2,65.9 L394.4,66.6 L397.6,66.8 L403.6,66.1 L411.2,65.0 L419.3,64.3 L426.8,64.6 L434.2,66.8 L442.1,70.1 L449.2,73.4 L454.2,75.6 Z" fill="#4b954a"/>
<path d="M450,73 L443,69 L435,66 L427,63 L419,63 L411,64 L403,65 L398,66 L395,66 L394,65 L393,65 L390,65 L384,67" stroke="#a8d8a0" stroke-width="0.7" fill="none" opacity="0.55"/>
<path d="M457.9,75.5 L462.8,69.7 L469.9,61.4 L477.8,52.8 L485.0,46.5 L491.5,42.9 L498.2,40.6 L504.4,39.4 L509.6,39.2 L513.4,40.0 L516.3,41.8 L518.8,44.5 L521.0,47.9 L522.9,51.5 L524.4,55.6 L525.6,61.0 L526.7,68.2 L527.7,78.2 L528.5,90.4 L529.2,103.0 L530.3,114.1 L531.9,123.8 L533.9,133.0 L535.8,140.7 L537.3,146.1 L537.3,146.1 L536.3,140.6 L534.6,132.8 L532.8,123.7 L531.4,113.9 L530.5,102.9 L529.8,90.3 L529.2,78.0 L528.4,68.0 L527.4,60.7 L526.2,55.2 L524.8,50.7 L522.9,46.8 L520.5,43.1 L517.8,40.0 L514.3,37.8 L509.8,36.7 L504.2,36.9 L497.5,38.0 L490.4,40.4 L483.4,44.3 L476.1,51.1 L468.3,60.0 L461.5,68.6 L456.8,74.5 Z" fill="#38843a"/>
<path d="M462,69 L469,61 L477,52 L484,45 L491,42 L498,39 L504,38 L510,38 L514,39 L517,41 L520,44 L522,47 L524,51 L525,55 L526,61 L528,68 L528,78 L529,90 L530,103 L531,114 L532,124" stroke="#a8d8a0" stroke-width="0.7" fill="none" opacity="0.55"/>
<path d="M459.0,75.6 L464.8,72.2 L473.0,67.2 L482.0,62.1 L489.9,58.2 L496.8,55.6 L503.3,53.6 L509.3,52.6 L514.6,52.9 L519.2,54.6 L523.2,57.6 L526.9,61.7 L530.5,66.8 L534.0,73.3 L537.3,81.1 L540.5,89.2 L543.6,96.3 L546.8,102.4 L550.0,107.9 L552.9,112.5 L555.0,115.7 L555.0,115.7 L553.3,112.3 L550.7,107.5 L547.6,101.9 L544.6,95.8 L541.7,88.7 L538.7,80.6 L535.5,72.6 L532.0,65.9 L528.3,60.6 L524.5,56.2 L520.2,52.8 L515.1,50.7 L509.2,50.3 L502.8,51.2 L495.9,53.2 L488.9,55.8 L480.8,60.0 L471.9,65.4 L463.8,70.7 L458.3,74.4 Z" fill="#3a863b"/>
<path d="M464,71 L472,66 L481,61 L489,57 L496,54 L503,52 L509,51 L515,52 L520,54 L524,57 L528,61 L531,66 L535,73 L538,81 L541,89 L544,96 L547,102" stroke="#a8d8a0" stroke-width="0.7" fill="none" opacity="0.55"/>
<path d="M459.8,75.4 L463.6,70.8 L468.9,64.0 L474.7,57.0 L479.9,51.8 L484.4,49.3 L489.1,48.2 L494.1,47.4 L499.5,46.1 L505.2,43.6 L511.1,40.7 L516.9,38.2 L522.2,37.0 L527.4,37.6 L532.7,39.6 L537.4,41.8 L540.8,43.2 L540.8,43.2 L537.7,41.3 L533.1,38.7 L527.7,36.5 L522.1,35.5 L516.4,36.6 L510.4,39.1 L504.4,41.8 L498.9,44.1 L493.7,45.2 L488.7,45.7 L483.5,46.9 L478.2,49.7 L472.5,55.1 L466.9,62.5 L462.0,69.6 L458.7,74.6 Z" fill="#3a863b"/>
<path d="M463,70 L468,63 L474,56 L479,51 L484,48 L489,47 L494,46 L499,45 L505,43 L511,40 L517,37 L522,36 L528,37" stroke="#a8d8a0" stroke-width="0.7" fill="none" opacity="0.55"/>
<path d="M455.3,75.8 L460.9,76.4 L468.9,77.0 L477.5,77.7 L484.6,78.0 L489.5,77.9 L493.3,77.5 L496.4,77.5 L499.7,78.7 L503.8,81.4 L508.3,85.3 L512.2,89.8 L514.6,94.6 L514.9,100.6 L513.7,107.7 L512.0,114.4 L511.1,119.1 L511.1,119.1 L512.6,114.6 L514.6,107.9 L516.2,100.7 L516.1,94.3 L513.7,88.9 L509.7,83.9 L505.2,79.7 L500.8,76.6 L496.9,75.1 L493.3,74.8 L489.4,75.0 L484.7,75.0 L477.7,74.6 L469.1,74.3 L461.0,74.2 L455.4,74.2 Z" fill="#5ea25a"/>
<path d="M461,75 L469,76 L478,76 L485,77 L489,76 L493,76 L497,76 L500,78 L504,81 L509,85 L513,89 L515,94 L516,101" stroke="#a8d8a0" stroke-width="0.7" fill="none" opacity="0.55"/>
<path d="M444.0,75.6 L451.9,78.9 L463.3,83.4 L475.0,87.9 L483.5,91.6 L487.1,93.9 L488.1,95.3 L488.4,97.1 L489.8,99.9 L492.7,104.1 L496.1,109.1 L499.4,113.9 L501.8,117.1 L501.8,117.1 L499.9,113.6 L496.9,108.6 L493.7,103.4 L491.1,99.2 L490.1,96.6 L489.9,94.6 L488.5,92.3 L484.5,89.6 L475.9,85.6 L464.2,81.1 L452.5,77.0 L444.5,74.4 Z" fill="#38843a"/>
<path d="M452,78 L464,82 L475,87 L484,91 L488,93 L489,95 L489,97 L490,100 L493,104" stroke="#a8d8a0" stroke-width="0.7" fill="none" opacity="0.55"/>
<path d="M454.9,74.2 L448.9,75.7 L440.2,77.9 L431.2,80.3 L424.1,82.5 L419.6,83.7 L416.2,84.3 L413.4,85.3 L410.7,87.3 L408.4,90.9 L406.7,95.2 L405.1,99.5 L403.4,102.8 L401.1,104.9 L398.3,106.4 L395.7,107.6 L394.0,108.6 L394.0,108.6 L396.0,108.2 L398.7,107.3 L401.8,105.9 L404.6,103.7 L406.7,100.3 L408.5,96.0 L410.3,91.9 L412.4,88.9 L414.5,87.5 L416.9,86.9 L420.2,86.4 L424.9,85.3 L432.0,83.3 L441.0,80.5 L449.5,77.8 L455.4,75.8 Z" fill="#3a863b"/>
<path d="M449,77 L441,79 L432,82 L424,84 L420,85 L417,86 L414,86 L412,88 L409,91 L408,96 L406,100 L404,103 L401,105" stroke="#a8d8a0" stroke-width="0.7" fill="none" opacity="0.55"/>
<path d="M451.7,74.7 L449.2,70.0 L445.4,63.3 L441.2,56.4 L437.8,50.8 L435.8,46.4 L434.6,42.5 L433.2,39.2 L430.8,37.0 L427.0,36.6 L422.6,37.7 L418.5,39.3 L415.8,40.5 L415.8,40.5 L418.7,39.9 L422.9,38.7 L427.1,37.9 L430.2,38.3 L431.7,40.1 L432.7,43.1 L433.8,47.2 L435.7,51.8 L439.1,57.7 L443.3,64.7 L447.6,71.0 L450.6,75.3 Z" fill="#38843a"/>
<path d="M448,71 L444,64 L440,57 L437,51 L435,47 L434,43 L432,40 L430,38 L427,37" stroke="#a8d8a0" stroke-width="0.7" fill="none" opacity="0.55"/>
<path d="M456.5,75.1 L457.8,70.7 L459.5,64.2 L461.2,57.2 L462.9,51.2 L464.8,46.2 L467.1,41.6 L469.1,37.5 L470.2,34.1 L469.8,31.6 L468.2,30.3 L466.5,29.7 L465.4,29.5 L465.4,29.5 L466.3,30.3 L467.7,31.1 L468.7,32.1 L468.8,33.8 L467.6,36.8 L465.5,40.7 L463.0,45.4 L460.8,50.5 L458.9,56.6 L457.2,63.7 L456.0,70.3 L455.3,74.9 Z" fill="#3a863b"/>
<path d="M457,70 L458,64 L460,57 L462,51 L464,46 L466,41 L468,37 L470,34 L469,32" stroke="#a8d8a0" stroke-width="0.7" fill="none" opacity="0.55"/>
<path d="M451.3,75.5 L455.6,70.4 L461.8,63.0 L468.0,54.8 L473.0,47.7 L476.6,41.9 L479.6,36.7 L481.9,32.1 L483.5,28.0 L484.2,24.4 L484.1,21.4 L483.6,19.1 L483.0,17.5 L483.0,17.5 L482.8,19.2 L483.0,21.4 L482.8,24.2 L481.9,27.4 L480.1,31.3 L477.7,35.7 L474.6,40.7 L470.9,46.2 L465.8,53.2 L459.6,61.3 L453.9,69.1 L450.1,74.5 Z" fill="#2f7b31"/>
<path d="M455,70 L461,62 L467,54 L472,47 L476,41 L479,36 L481,32 L483,28 L484,24" stroke="#a8d8a0" stroke-width="0.7" fill="none" opacity="0.55"/>
<path d="M444.9,75.5 L450.8,70.6 L459.3,63.5 L468.0,55.6 L474.8,48.9 L478.9,44.3 L481.4,40.7 L483.5,37.3 L486.1,33.5 L490.1,28.5 L494.6,22.7 L498.7,17.5 L501.4,13.7 L501.4,13.7 L498.2,17.0 L493.8,22.1 L489.0,27.6 L484.9,32.5 L482.0,36.3 L479.8,39.5 L477.2,42.9 L473.1,47.3 L466.3,53.7 L457.6,61.5 L449.5,69.1 L444.0,74.5 Z" fill="#2f7b31"/>
<path d="M450,70 L458,62 L467,55 L474,48 L478,44 L481,40 L483,37 L486,33 L490,28" stroke="#a8d8a0" stroke-width="0.7" fill="none" opacity="0.55"/>
<path d="M447.9,74.9 L447.5,70.1 L446.9,63.0 L445.8,55.7 L444.6,49.7 L443.3,45.8 L441.8,42.9 L440.4,40.6 L439.0,38.4 L437.5,36.0 L436.0,33.6 L434.6,31.7 L433.5,30.4 L433.5,30.4 L434.1,32.0 L435.2,34.1 L436.5,36.6 L437.8,39.1 L439.0,41.4 L440.2,43.7 L441.4,46.5 L442.5,50.2 L443.5,56.0 L444.6,63.3 L445.7,70.3 L446.7,75.1 Z" fill="#3a863b"/>
<path d="M447,70 L446,63 L445,56 L444,50 L442,46 L441,43 L440,41 L438,39 L437,36" stroke="#a8d8a0" stroke-width="0.7" fill="none" opacity="0.55"/>
<path d="M446.9,74.7 L443.1,68.9 L437.6,60.6 L431.4,51.9 L425.6,45.2 L420.3,40.8 L415.1,37.8 L409.9,36.1 L404.6,35.7 L399.2,37.1 L393.9,40.1 L389.0,43.6 L384.5,46.4 L380.4,47.8 L376.3,48.7 L372.6,50.2 L369.9,53.6 L368.7,59.3 L368.5,66.6 L368.8,74.4 L368.9,81.5 L369.0,88.3 L369.1,95.0 L369.3,100.9 L369.6,105.1 L369.6,105.1 L369.7,100.9 L369.7,95.0 L369.7,88.3 L369.8,81.5 L369.8,74.4 L369.6,66.6 L369.9,59.5 L371.1,54.1 L373.5,51.4 L376.8,50.1 L380.8,49.4 L385.3,47.9 L389.9,45.1 L394.9,41.7 L399.9,38.9 L404.8,37.7 L409.4,38.1 L414.2,39.8 L419.1,42.7 L424.1,46.7 L429.9,53.1 L436.2,61.5 L441.9,69.7 L446.0,75.3 Z" fill="#4b954a"/>
<path d="M443,69 L437,61 L431,52 L425,46 L420,42 L415,39 L410,37 L405,37 L400,38 L394,41 L389,44 L385,47 L381,49 L377,49 L373,51 L371,54 L369,59 L369,67 L369,74 L369,82 L369,88" stroke="#a8d8a0" stroke-width="0.7" fill="none" opacity="0.55"/>
<path d="M459.5,74.5 L452.2,70.0 L441.7,63.5 L430.3,57.0 L420.3,52.2 L412.5,49.9 L405.6,49.0 L399.3,48.9 L393.1,49.4 L386.6,50.2 L380.2,51.4 L374.2,53.7 L369.3,57.7 L365.6,63.9 L362.8,71.6 L360.9,80.1 L359.8,88.5 L359.9,97.3 L361.0,106.8 L362.4,115.4 L363.5,121.3 L363.5,121.3 L362.9,115.3 L361.7,106.7 L360.7,97.3 L360.8,88.5 L362.1,80.3 L364.1,72.0 L366.9,64.5 L370.5,58.7 L375.1,55.2 L380.7,53.1 L386.9,52.0 L393.2,51.4 L399.3,51.0 L405.4,51.1 L412.0,52.1 L419.5,54.4 L429.3,58.9 L440.8,65.2 L451.4,71.3 L458.9,75.5 Z" fill="#3a863b"/>
<path d="M452,71 L441,64 L430,58 L420,53 L412,51 L406,50 L399,50 L393,50 L387,51 L380,52 L375,54 L370,58 L366,64 L363,72 L361,80 L360,88 L360,97" stroke="#a8d8a0" stroke-width="0.7" fill="none" opacity="0.55"/>
<path d="M459.1,74.2 L451.5,73.3 L440.5,72.1 L429.1,71.1 L420.1,70.9 L414.9,70.9 L411.4,71.1 L408.4,72.2 L405.2,74.8 L401.1,79.2 L396.7,84.8 L392.6,91.6 L389.5,99.1 L387.6,108.4 L386.6,119.2 L386.2,129.2 L386.0,136.2 L386.0,136.2 L386.9,129.3 L387.7,119.3 L389.0,108.6 L391.0,99.6 L394.2,92.5 L398.4,86.0 L402.8,80.7 L406.9,76.7 L409.8,74.5 L411.8,73.9 L414.9,73.9 L420.0,74.0 L428.9,74.4 L440.3,74.9 L451.4,75.5 L459.0,75.8 Z" fill="#2c742e"/>
<path d="M451,74 L440,74 L429,73 L420,72 L415,72 L412,72 L409,73 L406,76 L402,80 L398,85 L393,92 L390,99 L388,108" stroke="#a8d8a0" stroke-width="0.7" fill="none" opacity="0.55"/>
<path d="M457.0,74.4 L451.1,72.4 L442.5,69.8 L433.1,67.1 L424.7,65.3 L417.4,64.3 L410.6,63.7 L404.4,63.5 L399.0,63.4 L394.9,62.9 L391.7,62.4 L388.5,62.5 L384.6,63.9 L379.2,67.4 L373.0,72.5 L367.3,77.6 L363.4,81.2 L363.4,81.2 L367.6,78.0 L373.6,73.2 L379.9,68.3 L385.2,65.1 L388.8,64.0 L391.6,64.1 L394.6,64.7 L398.8,65.3 L404.3,65.6 L410.4,66.0 L417.1,66.6 L424.2,67.7 L432.5,69.7 L441.9,72.0 L450.6,74.2 L456.7,75.6 Z" fill="#5ea25a"/>
<path d="M451,73 L442,71 L433,68 L424,66 L417,65 L411,65 L404,65 L399,64 L395,64 L392,63 L389,63 L385,64 L380,68" stroke="#a8d8a0" stroke-width="0.7" fill="none" opacity="0.55"/>
<path d="M458.1,75.5 L463.4,70.0 L470.9,61.8 L479.1,53.3 L486.3,46.8 L492.0,42.5 L497.2,39.2 L502.0,37.1 L506.8,36.3 L511.8,36.7 L516.9,38.4 L521.7,41.1 L525.6,44.7 L528.7,49.3 L531.2,54.9 L532.9,61.4 L533.7,68.5 L532.6,76.6 L530.1,85.7 L527.9,95.3 L527.7,104.8 L530.9,114.9 L536.2,125.5 L541.6,134.9 L545.5,141.4 L545.5,141.4 L542.1,134.7 L536.8,125.1 L531.8,114.5 L528.9,104.6 L529.2,95.4 L531.6,86.1 L534.2,76.9 L535.4,68.6 L534.8,61.1 L533.1,54.2 L530.6,48.3 L527.3,43.3 L523.1,39.2 L518.0,36.1 L512.3,34.1 L506.7,33.6 L501.2,34.4 L495.8,36.6 L490.3,40.0 L484.3,44.6 L477.2,51.5 L469.2,60.3 L461.9,68.7 L456.9,74.5 Z" fill="#5ea25a"/>
<path d="M463,69 L470,61 L478,52 L485,46 L491,41 L497,38 L502,36 L507,35 L512,35 L517,37 L522,40 L526,44 L530,49 L532,55 L534,61 L535,69 L533,77 L531,86 L529,95 L528,105 L531,115" stroke="#a8d8a0" stroke-width="0.7" fill="none" opacity="0.55"/>
<path d="M456.7,75.6 L463.1,72.3 L472.3,67.3 L482.2,62.2 L490.7,58.5 L497.6,56.1 L503.8,54.5 L509.4,54.0 L514.2,54.9 L518.3,57.6 L522.0,62.1 L525.3,67.4 L528.4,72.5 L531.1,77.0 L533.5,81.5 L535.6,86.2 L537.3,91.2 L538.6,97.4 L539.5,104.3 L540.3,110.6 L540.9,114.9 L540.9,114.9 L540.8,110.5 L540.3,104.2 L539.6,97.2 L538.4,90.9 L536.8,85.7 L534.9,80.9 L532.6,76.2 L529.9,71.6 L527.0,66.4 L523.7,60.9 L519.8,56.0 L515.1,52.8 L509.5,51.6 L503.4,52.0 L496.8,53.6 L489.7,55.9 L481.1,59.9 L471.2,65.4 L462.2,70.7 L456.0,74.4 Z" fill="#2f7b31"/>
<path d="M463,71 L472,66 L482,61 L490,57 L497,55 L504,53 L509,53 L515,54 L519,57 L523,62 L526,67 L529,72 L532,77 L534,81 L536,86 L538,91 L539,97" stroke="#a8d8a0" stroke-width="0.7" fill="none" opacity="0.55"/>
<path d="M452.4,75.5 L457.4,71.5 L464.5,65.5 L472.2,59.2 L479.0,54.1 L484.5,50.5 L489.6,47.7 L494.6,45.6 L499.9,44.1 L505.4,43.5 L511.1,43.7 L517.0,44.1 L523.1,44.1 L529.9,43.6 L537.4,42.8 L544.0,42.0 L548.6,41.2 L548.6,41.2 L544.0,41.4 L537.3,41.9 L529.9,42.5 L523.0,42.8 L517.1,42.6 L511.2,42.0 L505.3,41.6 L499.5,42.1 L494.0,43.6 L488.7,45.6 L483.3,48.4 L477.5,52.0 L470.5,57.1 L463.0,63.7 L456.1,70.1 L451.5,74.5 Z" fill="#4b954a"/>
<path d="M457,71 L464,65 L471,58 L478,53 L484,49 L489,47 L494,45 L500,43 L505,43 L511,43 L517,43 L523,43 L530,43" stroke="#a8d8a0" stroke-width="0.7" fill="none" opacity="0.55"/>
<path d="M450.1,75.7 L457.1,76.0 L467.2,76.3 L477.7,76.6 L485.5,76.7 L489.5,76.6 L491.0,76.4 L491.8,76.5 L494.1,77.6 L498.6,79.9 L504.2,82.8 L509.5,86.6 L513.3,91.5 L515.5,98.8 L516.4,108.2 L516.8,117.1 L517.4,123.3 L517.4,123.3 L517.5,117.1 L517.4,108.1 L516.6,98.6 L514.6,90.9 L510.6,85.4 L505.1,81.3 L499.6,78.1 L495.1,75.7 L492.7,74.4 L491.1,73.9 L489.4,74.0 L485.5,74.0 L477.7,73.7 L467.2,73.8 L457.1,74.0 L450.1,74.3 Z" fill="#38843a"/>
<path d="M457,75 L467,75 L478,75 L486,75 L489,75 L491,75 L492,75 L495,77 L499,79 L505,82 L510,86 L514,91 L516,99" stroke="#a8d8a0" stroke-width="0.7" fill="none" opacity="0.55"/>
<path d="M448.4,75.6 L455.2,78.5 L465.2,82.4 L475.5,86.4 L483.2,90.1 L487.2,93.5 L489.3,96.9 L490.5,100.2 L491.6,102.9 L492.3,104.5 L492.5,105.3 L492.4,105.9 L492.6,106.5 L492.6,106.5 L493.0,106.1 L493.5,105.4 L493.6,104.2 L493.0,102.4 L492.2,99.7 L491.1,96.1 L488.8,92.1 L484.4,88.2 L476.5,84.2 L466.1,80.1 L455.9,76.6 L448.8,74.4 Z" fill="#38843a"/>
<path d="M456,78 L466,81 L476,85 L484,89 L488,93 L490,97 L491,100 L492,103 L493,104" stroke="#a8d8a0" stroke-width="0.7" fill="none" opacity="0.55"/>
<path d="M451.7,74.3 L446.2,75.6 L438.1,77.5 L429.8,79.6 L423.5,81.6 L420.2,82.6 L418.3,83.2 L416.8,84.1 L414.9,85.8 L412.3,89.0 L409.6,93.1 L406.9,97.2 L404.3,100.4 L401.7,102.7 L398.9,104.6 L396.5,106.0 L394.9,107.2 L394.9,107.2 L396.8,106.5 L399.4,105.4 L402.4,103.7 L405.3,101.4 L408.2,98.1 L411.1,94.1 L413.9,90.2 L416.5,87.3 L418.1,85.9 L419.2,85.4 L420.9,85.1 L424.3,84.2 L430.6,82.4 L438.8,79.9 L446.7,77.5 L452.1,75.7 Z" fill="#4b954a"/>
<path d="M446,77 L438,79 L430,81 L424,83 L421,84 L419,84 L417,85 L416,87 L413,90 L410,94 L408,98 L405,101 L402,103" stroke="#a8d8a0" stroke-width="0.7" fill="none" opacity="0.55"/>
<path d="M457.3,74.6 L454.2,69.9 L449.7,63.2 L444.6,56.2 L440.2,50.4 L436.8,45.9 L433.9,41.8 L431.0,38.4 L427.7,35.9 L423.7,34.8 L419.4,34.8 L415.6,35.3 L413.0,35.8 L413.0,35.8 L415.7,36.0 L419.4,35.8 L423.5,36.1 L427.0,37.3 L429.8,39.6 L432.3,43.0 L435.1,47.1 L438.3,51.7 L442.7,57.7 L447.7,64.7 L452.7,71.0 L456.2,75.4 Z" fill="#5ea25a"/>
<path d="M453,70 L449,64 L444,57 L439,51 L436,46 L433,42 L430,39 L427,37 L424,35" stroke="#a8d8a0" stroke-width="0.7" fill="none" opacity="0.55"/>
<path d="M456.9,75.2 L458.8,70.6 L461.3,63.8 L463.5,56.4 L464.9,50.0 L465.3,44.8 L464.9,40.2 L464.6,36.5 L464.9,34.2 L466.0,33.3 L468.2,33.1 L470.6,33.4 L472.3,33.3 L472.3,33.3 L470.7,32.6 L468.3,32.0 L465.6,31.8 L463.3,33.3 L462.6,36.4 L462.7,40.3 L462.8,44.8 L462.3,49.6 L460.7,55.7 L458.5,63.0 L456.6,69.9 L455.5,74.8 Z" fill="#438e42"/>
<path d="M458,70 L460,63 L462,56 L464,50 L464,45 L464,40 L464,36 L464,34 L466,33" stroke="#a8d8a0" stroke-width="0.7" fill="none" opacity="0.55"/>
<path d="M449.5,74.9 L449.8,72.8 L449.4,69.9 L448.7,67.1 L447.9,65.1 L445.9,64.6 L445.1,65.8 L444.8,67.0 L444.9,67.9 L444.9,67.9 L445.8,67.5 L446.5,66.6 L446.7,66.4 L445.7,66.3 L446.0,67.8 L446.4,70.5 L447.0,73.3 L447.9,75.1 Z" fill="#3a863b"/>
<path d="M448,73 L448,70 L447,67 L447,66 L446,66" stroke="#a8d8a0" stroke-width="0.7" fill="none" opacity="0.55"/>
<path d="M453.6,74.7 L453.1,71.9 L451.9,67.9 L450.2,64.0 L448.4,61.3 L446.0,60.7 L444.1,61.8 L442.8,63.2 L442.2,64.3 L442.2,64.3 L443.5,64.0 L445.0,63.1 L446.2,62.7 L446.7,63.0 L447.7,65.2 L449.1,69.0 L450.6,72.8 L452.1,75.3 Z" fill="#438e42"/>
<path d="M452,72 L450,68 L449,65 L448,62 L446,62" stroke="#a8d8a0" stroke-width="0.7" fill="none" opacity="0.55"/>
<path d="M457.6,74.9 L457.7,71.9 L457.2,67.5 L456.5,63.2 L455.7,60.4 L453.6,60.0 L453.0,61.7 L452.6,63.5 L452.6,64.8 L452.6,64.8 L453.4,63.8 L454.2,62.1 L454.8,61.2 L453.9,61.2 L454.3,63.6 L454.8,67.8 L455.4,72.2 L456.3,75.1 Z" fill="#3a863b"/>
<path d="M457,72 L456,68 L455,63 L455,61 L454,61" stroke="#a8d8a0" stroke-width="0.7" fill="none" opacity="0.55"/>
<path d="M454.9,75.5 L457.2,74.4 L460.2,72.3 L463.4,70.1 L466.2,68.8 L469.0,68.6 L472.2,69.2 L475.2,70.0 L477.4,70.3 L477.4,70.3 L475.5,69.2 L472.6,68.0 L469.2,67.0 L465.8,66.9 L462.3,68.2 L458.8,70.3 L455.9,72.6 L454.1,74.5 Z" fill="#438e42"/>
<path d="M457,73 L460,71 L463,69 L466,68 L469,68" stroke="#a8d8a0" stroke-width="0.7" fill="none" opacity="0.55"/>
<path d="M456.9,75.1 L457.9,72.4 L458.7,68.3 L459.3,64.5 L459.6,62.5 L458.7,62.7 L459.5,64.1 L460.4,66.1 L461.3,67.4 L461.3,67.4 L461.3,65.9 L460.8,63.6 L460.2,61.6 L457.9,61.3 L456.9,63.9 L456.0,67.9 L455.4,72.0 L455.5,74.9 Z" fill="#2f7b31"/>
<path d="M457,72 L457,68 L458,64 L459,62 L459,62" stroke="#a8d8a0" stroke-width="0.7" fill="none" opacity="0.55"/>
<path d="M455.0,75.6 L457.7,73.9 L461.1,71.0 L464.6,68.1 L467.7,66.4 L470.8,66.3 L474.5,67.3 L477.9,68.5 L480.4,69.0 L480.4,69.0 L478.3,67.6 L475.0,65.9 L471.1,64.5 L467.2,64.2 L463.2,65.9 L459.2,68.8 L455.9,72.0 L453.9,74.4 Z" fill="#38843a"/>
<path d="M457,73 L460,70 L464,67 L467,65 L471,65" stroke="#a8d8a0" stroke-width="0.7" fill="none" opacity="0.55"/>
<path d="M450.1,75.6 L452.2,74.4 L454.8,72.1 L457.3,69.9 L459.5,68.7 L461.7,68.9 L464.4,69.9 L467.0,71.2 L469.0,71.9 L469.0,71.9 L467.5,70.4 L465.1,68.6 L462.2,67.1 L459.1,66.5 L456.0,67.7 L452.9,70.0 L450.5,72.5 L449.1,74.4 Z" fill="#438e42"/>
<path d="M451,73 L454,71 L457,69 L459,68 L462,68" stroke="#a8d8a0" stroke-width="0.7" fill="none" opacity="0.55"/>
<path d="M448.7,74.6 L447.7,72.3 L445.7,69.2 L443.3,66.3 L440.7,64.4 L438.1,64.3 L435.6,65.3 L433.7,66.7 L432.5,67.8 L432.5,67.8 L434.1,67.4 L436.2,66.5 L438.3,65.9 L439.9,66.1 L441.7,67.8 L443.8,70.7 L445.8,73.6 L447.6,75.4 Z" fill="#38843a"/>
<path d="M447,73 L445,70 L442,67 L440,65 L438,65" stroke="#a8d8a0" stroke-width="0.7" fill="none" opacity="0.55"/>
<path d="M452.4,75.2 L454.0,72.4 L455.6,68.0 L457.2,63.7 L458.6,61.2 L459.3,61.0 L460.9,61.8 L462.6,63.3 L464.0,64.0 L464.0,64.0 L463.2,62.6 L461.7,60.8 L459.8,59.3 L457.2,59.7 L455.2,62.6 L453.2,67.0 L451.7,71.6 L451.1,74.8 Z" fill="#438e42"/>
<path d="M453,72 L454,67 L456,63 L458,60 L460,60" stroke="#a8d8a0" stroke-width="0.7" fill="none" opacity="0.55"/>
<path d="M448.8,74.5 L447.4,72.6 L445.1,70.2 L442.2,68.0 L439.2,66.8 L436.3,67.4 L433.6,69.1 L431.3,70.9 L429.9,72.3 L429.9,72.3 L431.8,71.6 L434.2,70.2 L436.8,69.0 L438.9,68.8 L441.0,69.9 L443.5,72.0 L445.9,74.2 L447.9,75.5 Z" fill="#2c742e"/>
<path d="M447,73 L444,71 L442,69 L439,68 L437,68" stroke="#a8d8a0" stroke-width="0.7" fill="none" opacity="0.55"/>
<path d="M86.3,163.8 L117.3,163.8 L115.3,192.2 L88.3,192.2 Z" fill="#0c0c0c"/>
<path d="M86.8,163.8 L116.8,163.8" stroke="#262626" stroke-width="1.2"/>
<path d="M105.5,164.7 L98.6,162.4 L88.7,159.0 L78.3,155.8 L70.2,153.8 L65.3,153.5 L62.1,154.1 L59.7,155.5 L57.4,157.2 L54.6,159.5 L52.0,162.4 L49.6,165.5 L47.4,168.5 L45.4,171.4 L43.6,174.2 L41.9,177.0 L40.5,179.8 L39.3,182.6 L38.2,185.6 L37.4,188.1 L37.0,190.0 L37.0,190.0 L37.9,188.3 L38.9,185.8 L40.1,183.0 L41.5,180.2 L43.0,177.6 L44.7,174.9 L46.6,172.2 L48.6,169.5 L50.9,166.6 L53.4,163.6 L56.0,160.9 L58.6,158.8 L60.9,157.3 L62.8,156.2 L65.3,155.8 L69.8,156.2 L77.7,158.0 L88.1,160.9 L98.1,163.9 L105.1,165.9 Z" fill="#2c742e"/>
<path d="M98,163 L88,160 L78,157 L70,155 L65,155 L62,155 L60,156 L58,158 L55,160 L53,163 L50,166 L48,169 L46,172 L44,175 L42,177 L41,180 L40,183" stroke="#a8d8a0" stroke-width="0.7" fill="none" opacity="0.55"/>
<path d="M98.1,164.7 L92.9,162.7 L85.3,160.0 L77.0,157.7 L70.0,156.9 L64.7,157.9 L60.4,160.2 L56.8,163.0 L53.6,165.4 L50.5,167.7 L47.7,170.1 L45.4,172.3 L44.0,174.0 L44.0,174.0 L45.9,172.8 L48.3,170.9 L51.2,168.7 L54.4,166.6 L57.8,164.3 L61.4,161.8 L65.3,159.9 L70.0,159.1 L76.5,160.1 L84.6,162.3 L92.3,164.5 L97.7,165.9 Z" fill="#5ea25a"/>
<path d="M93,164 L85,161 L77,159 L70,158 L65,159 L61,161 L57,164 L54,166 L51,168" stroke="#a8d8a0" stroke-width="0.7" fill="none" opacity="0.55"/>
<path d="M103.8,165.2 L103.3,162.1 L102.4,157.7 L101.1,153.2 L100.0,149.7 L99.0,147.6 L98.2,146.3 L97.4,145.4 L96.5,144.5 L95.3,143.6 L94.1,142.8 L92.9,142.3 L92.0,142.0 L92.0,142.0 L92.6,142.7 L93.6,143.5 L94.6,144.5 L95.5,145.5 L96.2,146.4 L96.8,147.2 L97.3,148.4 L98.0,150.3 L99.0,153.8 L100.3,158.2 L101.6,162.5 L102.7,165.4 Z" fill="#2c742e"/>
<path d="M102,162 L101,158 L100,153 L99,150 L98,148 L97,147 L97,146 L96,145 L95,144" stroke="#a8d8a0" stroke-width="0.7" fill="none" opacity="0.55"/>
<path d="M102.4,164.9 L100.0,162.2 L96.3,158.3 L92.2,154.3 L88.6,151.3 L85.7,149.4 L83.1,148.1 L80.6,147.1 L78.1,146.4 L75.3,146.0 L72.4,145.8 L69.8,145.8 L68.0,146.0 L68.0,146.0 L69.8,146.3 L72.3,146.6 L75.2,146.9 L77.9,147.6 L80.2,148.4 L82.4,149.4 L84.8,150.8 L87.4,152.7 L90.9,155.8 L95.0,159.7 L98.9,163.3 L101.7,165.7 Z" fill="#4b954a"/>
<path d="M99,163 L96,159 L92,155 L88,152 L85,150 L83,149 L80,148 L78,147 L75,146" stroke="#a8d8a0" stroke-width="0.7" fill="none" opacity="0.55"/>
<path d="M108.4,165.4 L108.9,162.8 L109.4,159.0 L109.8,155.1 L110.1,152.2 L110.4,150.5 L110.7,149.4 L111.0,148.9 L111.0,148.7 L111.4,148.8 L112.3,149.6 L113.2,150.5 L114.0,151.0 L114.0,151.0 L113.7,150.1 L113.0,148.9 L112.1,147.8 L111.0,147.3 L109.9,147.7 L109.1,148.6 L108.5,149.9 L107.9,151.8 L107.4,154.9 L107.1,158.8 L107.0,162.6 L107.1,165.2 Z" fill="#438e42"/>
<path d="M108,163 L108,159 L109,155 L109,152 L109,150 L110,149 L110,148 L111,148 L112,148" stroke="#a8d8a0" stroke-width="0.7" fill="none" opacity="0.55"/>
<path d="M96.6,165.9 L102.2,164.4 L110.2,162.0 L118.5,159.3 L125.3,157.1 L129.9,155.8 L133.5,155.0 L136.7,154.4 L140.1,153.7 L144.2,153.0 L148.5,152.3 L152.3,151.7 L155.0,151.0 L155.0,151.0 L152.3,151.0 L148.4,151.3 L144.0,151.8 L139.9,152.3 L136.4,152.7 L133.2,153.1 L129.5,153.8 L124.7,154.9 L117.8,156.9 L109.4,159.7 L101.6,162.6 L96.2,164.7 Z" fill="#4b954a"/>
<path d="M102,163 L110,161 L118,158 L125,156 L130,155 L133,154 L137,154 L140,153 L144,152" stroke="#a8d8a0" stroke-width="0.7" fill="none" opacity="0.55"/>
<path d="M100.9,165.8 L106.5,164.9 L114.6,163.4 L123.2,161.8 L130.1,160.9 L134.7,160.8 L138.2,161.3 L141.4,162.2 L144.7,163.5 L148.8,165.7 L153.2,168.5 L157.2,171.2 L160.0,173.0 L160.0,173.0 L157.5,170.8 L153.7,167.9 L149.4,164.8 L145.3,162.5 L141.8,161.0 L138.5,159.8 L134.8,159.2 L129.9,159.1 L122.9,159.9 L114.3,161.5 L106.2,163.4 L100.7,164.8 Z" fill="#5ea25a"/>
<path d="M106,164 L114,162 L123,161 L130,160 L135,160 L138,161 L142,162 L145,163 L149,165" stroke="#a8d8a0" stroke-width="0.7" fill="none" opacity="0.55"/>
<path d="M102.3,165.8 L107.4,166.7 L114.8,167.7 L122.3,168.8 L127.7,169.8 L130.3,171.0 L131.3,172.2 L131.8,173.7 L132.5,175.2 L133.3,176.8 L133.9,178.5 L134.5,180.0 L135.0,181.0 L135.0,181.0 L135.0,179.9 L134.7,178.3 L134.2,176.5 L133.5,174.8 L133.1,173.2 L132.6,171.5 L131.2,169.7 L128.3,168.2 L122.6,166.9 L115.0,165.8 L107.6,165.2 L102.5,164.8 Z" fill="#4b954a"/>
<path d="M107,166 L115,167 L122,168 L128,169 L131,170 L132,172 L132,173 L133,175 L134,177" stroke="#a8d8a0" stroke-width="0.7" fill="none" opacity="0.55"/>
<path d="M102.8,164.8 L101.0,165.7 L98.4,167.1 L95.9,169.2 L94.1,171.5 L93.4,174.1 L93.5,176.6 L93.8,179.3 L94.3,182.1 L95.1,185.5 L96.1,189.2 L97.1,192.7 L98.0,195.0 L98.0,195.0 L97.7,192.5 L96.9,189.0 L96.2,185.2 L95.7,181.9 L95.4,179.1 L95.2,176.6 L95.3,174.3 L95.9,172.5 L97.4,170.7 L99.7,168.9 L102.0,167.1 L103.5,165.8 Z" fill="#5ea25a"/>
<path d="M101,166 L99,168 L97,170 L95,172 L94,174 L94,177 L95,179 L95,182 L96,185" stroke="#a8d8a0" stroke-width="0.7" fill="none" opacity="0.55"/>
<path d="M99.3,164.7 L94.5,164.7 L87.6,164.7 L80.4,165.2 L74.8,166.0 L71.4,167.3 L69.2,168.9 L67.8,170.7 L66.5,172.6 L65.0,175.0 L63.6,177.7 L62.6,180.2 L62.0,182.0 L62.0,182.0 L63.1,180.4 L64.4,178.1 L65.9,175.5 L67.5,173.4 L69.0,171.7 L70.3,170.2 L72.2,168.9 L75.2,168.0 L80.6,167.3 L87.7,166.8 L94.6,166.3 L99.3,165.9 Z" fill="#4b954a"/>
<path d="M95,166 L88,166 L80,166 L75,167 L72,168 L70,170 L68,171 L67,173 L65,175" stroke="#a8d8a0" stroke-width="0.7" fill="none" opacity="0.55"/>
<path d="M97.9,164.7 L92.6,162.2 L84.9,158.6 L76.7,155.1 L69.9,152.9 L64.9,152.7 L61.0,153.6 L57.7,155.3 L54.6,157.1 L51.3,159.4 L48.3,162.2 L45.4,165.3 L42.9,168.4 L40.5,171.8 L38.4,175.5 L36.6,179.1 L35.4,182.3 L34.7,185.0 L34.7,187.5 L34.9,189.4 L35.2,190.8 L35.2,190.8 L35.4,189.4 L35.4,187.5 L35.7,185.2 L36.4,182.7 L37.8,179.7 L39.7,176.2 L41.9,172.7 L44.2,169.5 L46.8,166.5 L49.6,163.6 L52.6,161.1 L55.8,159.0 L58.8,157.3 L61.8,155.9 L65.1,155.2 L69.4,155.5 L75.9,157.4 L84.1,160.5 L91.9,163.8 L97.3,165.9 Z" fill="#38843a"/>
<path d="M92,163 L84,160 L76,156 L70,154 L65,154 L61,155 L58,156 L55,158 L52,160 L49,163 L46,166 L44,169 L41,172 L39,176 L37,179 L36,182 L35,185" stroke="#a8d8a0" stroke-width="0.7" fill="none" opacity="0.55"/>
<path d="M94.2,164.7 L89.7,162.6 L83.1,159.6 L75.7,157.2 L69.3,156.4 L64.0,158.5 L59.7,162.2 L56.0,166.1 L53.0,168.7 L50.8,169.5 L49.2,169.5 L47.8,169.2 L46.8,169.3 L46.8,169.3 L47.7,169.8 L49.0,170.4 L51.0,170.7 L53.8,169.9 L57.1,167.3 L60.8,163.5 L65.0,160.2 L69.5,158.5 L75.2,159.3 L82.3,161.7 L89.0,164.3 L93.8,165.9 Z" fill="#4b954a"/>
<path d="M89,163 L83,161 L75,158 L69,157 L65,159 L60,163 L57,167 L53,169 L51,170" stroke="#a8d8a0" stroke-width="0.7" fill="none" opacity="0.55"/>
<path d="M102.3,165.2 L102.1,161.8 L101.5,156.9 L100.5,151.7 L99.1,147.6 L97.2,144.8 L94.9,142.9 L93.0,141.6 L92.4,141.0 L92.8,140.5 L94.4,139.8 L96.5,139.2 L97.8,138.5 L97.8,138.5 L96.3,138.5 L94.2,138.9 L92.1,139.5 L90.9,141.0 L91.9,142.8 L93.7,144.3 L95.6,146.1 L97.1,148.4 L98.2,152.3 L99.1,157.3 L100.2,162.1 L101.1,165.4 Z" fill="#2f7b31"/>
<path d="M101,162 L100,157 L99,152 L98,148 L96,145 L94,144 L92,142 L92,141 L92,140" stroke="#a8d8a0" stroke-width="0.7" fill="none" opacity="0.55"/>
<path d="M101.2,164.9 L98.6,161.7 L94.8,157.2 L90.6,152.8 L87.2,149.4 L85.2,147.5 L83.9,146.3 L82.5,145.5 L80.5,144.9 L77.3,144.4 L73.4,144.2 L69.7,144.2 L67.2,144.4 L67.2,144.4 L69.7,144.8 L73.3,145.1 L77.2,145.5 L80.2,146.2 L81.8,146.9 L82.8,147.6 L83.9,148.8 L85.8,150.8 L89.0,154.3 L93.2,158.7 L97.4,162.9 L100.3,165.7 Z" fill="#4b954a"/>
<path d="M98,162 L94,158 L90,154 L86,150 L85,148 L83,147 L82,146 L80,146 L77,145" stroke="#a8d8a0" stroke-width="0.7" fill="none" opacity="0.55"/>
<path d="M105.8,165.5 L107.1,162.7 L108.9,158.5 L110.4,154.2 L111.4,151.0 L111.3,149.0 L110.5,147.8 L109.1,147.7 L108.9,148.9 L109.9,150.3 L111.4,152.5 L112.9,154.7 L114.1,156.1 L114.1,156.1 L113.4,154.4 L112.0,152.1 L110.7,149.8 L109.9,148.4 L109.7,148.9 L109.5,149.0 L109.7,149.4 L109.6,150.7 L108.6,153.6 L107.1,157.9 L105.7,162.2 L104.9,165.1 Z" fill="#38843a"/>
<path d="M106,162 L108,158 L110,154 L111,151 L111,149 L110,148 L109,148 L109,149 L110,150" stroke="#a8d8a0" stroke-width="0.7" fill="none" opacity="0.55"/>
<path d="M97.6,165.8 L102.5,164.1 L109.6,161.5 L117.1,158.5 L123.5,156.1 L128.6,154.1 L133.1,152.3 L137.1,151.0 L140.5,150.5 L143.5,151.2 L146.2,152.7 L148.4,154.5 L150.1,155.6 L150.1,155.6 L148.7,154.1 L146.6,152.1 L143.9,150.3 L140.6,149.4 L136.8,149.7 L132.6,150.9 L128.0,152.5 L122.9,154.4 L116.4,156.8 L108.9,159.7 L102.0,162.7 L97.2,164.8 Z" fill="#5ea25a"/>
<path d="M102,163 L109,161 L117,158 L123,155 L128,153 L133,152 L137,150 L141,150 L144,151" stroke="#a8d8a0" stroke-width="0.7" fill="none" opacity="0.55"/>
<path d="M100.8,165.9 L106.8,164.8 L115.5,163.1 L124.4,161.3 L131.4,160.6 L135.7,161.5 L138.7,163.4 L141.4,165.8 L144.7,167.5 L148.7,168.3 L153.0,168.7 L156.9,168.8 L159.6,168.7 L159.6,168.7 L156.9,168.2 L153.1,167.8 L148.9,167.2 L145.1,166.2 L142.3,164.5 L139.7,162.0 L136.4,159.7 L131.5,158.5 L124.1,159.1 L115.0,160.9 L106.4,163.1 L100.6,164.7 Z" fill="#2f7b31"/>
<path d="M107,164 L115,162 L124,160 L131,160 L136,161 L139,163 L142,165 L145,167 L149,168" stroke="#a8d8a0" stroke-width="0.7" fill="none" opacity="0.55"/>
<path d="M97.0,166.0 L103.2,167.0 L112.2,168.3 L121.5,169.5 L128.5,170.5 L132.6,171.3 L135.0,171.9 L136.2,172.6 L136.7,173.4 L136.4,175.3 L134.8,178.0 L132.9,180.7 L131.8,182.7 L131.8,182.7 L133.4,181.1 L135.6,178.6 L137.6,175.8 L138.3,173.4 L137.5,171.4 L135.8,170.1 L133.1,169.2 L128.9,168.2 L121.8,167.0 L112.5,165.8 L103.4,165.0 L97.1,164.6 Z" fill="#2f7b31"/>
<path d="M103,166 L112,167 L122,168 L129,169 L133,170 L135,171 L137,172 L137,173 L137,176" stroke="#a8d8a0" stroke-width="0.7" fill="none" opacity="0.55"/>
<path d="M105.5,164.7 L103.6,165.2 L100.7,165.9 L97.9,167.4 L95.9,169.9 L95.8,173.1 L96.6,176.7 L97.7,180.4 L98.1,183.9 L97.6,187.9 L96.7,192.3 L95.8,196.3 L95.3,199.2 L95.3,199.2 L96.4,196.5 L97.6,192.6 L98.8,188.1 L99.5,184.0 L99.2,180.1 L98.3,176.3 L97.7,172.9 L97.9,170.6 L99.2,169.2 L101.6,168.0 L104.2,166.8 L105.9,165.9 Z" fill="#3a863b"/>
<path d="M104,166 L101,167 L99,168 L97,170 L97,173 L97,176 L98,180 L99,184 L98,188" stroke="#a8d8a0" stroke-width="0.7" fill="none" opacity="0.55"/>
<path d="M99.0,164.7 L94.8,164.8 L88.8,164.9 L82.4,165.6 L76.9,166.6 L72.3,167.9 L68.2,169.5 L64.8,171.5 L62.4,174.0 L61.7,177.2 L62.3,180.9 L63.3,184.3 L64.2,186.6 L64.2,186.6 L63.9,184.2 L63.1,180.8 L62.7,177.3 L63.5,174.6 L65.6,172.7 L68.9,171.0 L72.9,169.6 L77.3,168.5 L82.6,167.6 L89.0,167.0 L94.9,166.4 L99.0,165.9 Z" fill="#438e42"/>
<path d="M95,166 L89,166 L83,167 L77,168 L73,169 L69,170 L65,172 L63,174 L62,177" stroke="#a8d8a0" stroke-width="0.7" fill="none" opacity="0.55"/>
<path d="M97.6,164.8 L92.2,162.6 L84.2,159.5 L76.0,156.4 L69.7,154.3 L66.4,153.3 L64.3,152.8 L62.5,153.3 L60.4,154.9 L57.3,158.3 L53.8,163.1 L50.5,168.0 L47.6,171.7 L45.4,173.6 L43.5,174.7 L41.8,175.5 L40.7,177.0 L40.5,179.3 L41.0,181.9 L41.8,184.2 L42.5,185.7 L42.5,185.7 L42.2,184.1 L41.7,181.7 L41.3,179.3 L41.6,177.4 L42.5,176.4 L44.0,175.8 L46.2,174.8 L48.7,172.7 L51.7,169.0 L55.2,164.1 L58.7,159.4 L61.7,156.3 L63.5,155.0 L64.2,154.9 L65.7,155.4 L69.1,156.5 L75.3,158.4 L83.6,161.2 L91.7,164.0 L97.2,165.8 Z" fill="#2f7b31"/>
<path d="M92,163 L84,160 L76,157 L69,155 L66,154 L64,154 L63,154 L61,156 L58,159 L55,164 L51,169 L48,172 L46,174 L44,175 L42,176 L41,177 L41,179" stroke="#a8d8a0" stroke-width="0.7" fill="none" opacity="0.55"/>
<path d="M107.0,164.8 L100.3,163.3 L90.6,161.2 L80.2,159.5 L71.7,158.7 L65.5,159.1 L60.5,160.2 L56.3,161.9 L52.6,164.3 L49.3,167.8 L46.6,172.3 L44.6,176.5 L43.3,179.5 L43.3,179.5 L45.1,176.8 L47.3,172.7 L50.1,168.4 L53.4,165.2 L56.9,163.2 L60.9,161.7 L65.7,160.8 L71.6,160.6 L80.0,161.5 L90.3,163.2 L100.0,164.8 L106.8,165.8 Z" fill="#5ea25a"/>
<path d="M100,164 L90,162 L80,160 L72,160 L66,160 L61,161 L57,163 L53,165 L50,168" stroke="#a8d8a0" stroke-width="0.7" fill="none" opacity="0.55"/>
<path d="M97.9,165.4 L98.6,162.3 L99.5,157.7 L100.1,153.0 L100.2,149.4 L99.9,147.4 L99.2,146.2 L98.3,145.7 L97.2,145.2 L95.5,144.3 L93.4,143.4 L91.4,142.6 L90.0,142.2 L90.0,142.2 L91.2,143.1 L93.1,144.0 L95.1,145.1 L96.6,146.1 L97.6,146.8 L98.1,147.2 L98.4,147.8 L98.5,149.4 L98.2,152.8 L97.6,157.4 L97.1,162.0 L96.9,165.2 Z" fill="#438e42"/>
<path d="M98,162 L99,158 L99,153 L99,149 L99,148 L99,147 L98,146 L97,146 L95,145" stroke="#a8d8a0" stroke-width="0.7" fill="none" opacity="0.55"/>
<path d="M99.3,165.0 L97.9,162.3 L95.8,158.5 L93.2,154.7 L90.5,151.6 L88.1,149.6 L85.7,148.1 L83.1,147.1 L80.3,146.5 L76.9,146.6 L73.1,147.2 L69.6,148.0 L67.2,148.7 L67.2,148.7 L69.7,148.5 L73.2,148.0 L76.9,147.7 L80.1,147.9 L82.6,148.6 L84.9,149.6 L87.0,151.1 L89.1,153.0 L91.4,156.0 L94.0,159.7 L96.5,163.2 L98.4,165.6 Z" fill="#2f7b31"/>
<path d="M97,163 L95,159 L92,155 L90,152 L88,150 L85,149 L83,148 L80,147 L77,147" stroke="#a8d8a0" stroke-width="0.7" fill="none" opacity="0.55"/>
<path d="M108.0,165.4 L108.6,162.8 L109.2,159.2 L109.8,155.3 L110.5,152.3 L111.6,150.1 L113.2,148.1 L114.5,146.6 L114.7,144.9 L113.3,145.6 L111.4,147.3 L109.3,149.1 L108.1,150.5 L108.1,150.5 L109.6,149.5 L111.8,147.9 L113.8,146.4 L114.4,146.0 L113.6,145.7 L112.1,147.1 L110.3,149.1 L108.8,151.7 L107.9,155.0 L107.3,158.9 L107.1,162.7 L107.0,165.2 Z" fill="#2c742e"/>
<path d="M108,163 L108,159 L109,155 L110,152 L111,150 L113,148 L114,146 L115,145 L114,146" stroke="#a8d8a0" stroke-width="0.7" fill="none" opacity="0.55"/>
<path d="M109.0,165.9 L112.1,164.6 L116.6,162.6 L121.3,160.3 L125.4,158.5 L128.7,157.6 L131.8,157.1 L135.0,156.7 L138.4,155.8 L142.3,154.0 L146.3,151.8 L150.0,149.6 L152.4,148.0 L152.4,148.0 L149.7,149.0 L145.9,150.9 L141.7,152.8 L137.9,154.3 L134.7,154.9 L131.6,155.2 L128.3,155.4 L124.6,156.2 L120.2,158.0 L115.4,160.3 L111.2,162.8 L108.3,164.7 Z" fill="#438e42"/>
<path d="M112,164 L116,161 L121,159 L125,157 L128,157 L132,156 L135,156 L138,155 L142,153" stroke="#a8d8a0" stroke-width="0.7" fill="none" opacity="0.55"/>
<path d="M108.0,165.8 L112.4,165.2 L118.9,164.0 L125.6,162.7 L131.0,161.8 L134.6,161.5 L137.2,161.4 L139.5,161.7 L142.1,162.5 L145.7,164.2 L149.6,166.6 L153.2,168.9 L155.9,170.4 L155.9,170.4 L153.5,168.5 L150.0,165.9 L146.2,163.3 L142.6,161.4 L139.8,160.4 L137.3,159.8 L134.5,159.8 L130.8,160.0 L125.3,160.8 L118.5,162.1 L112.1,163.6 L107.8,164.8 Z" fill="#38843a"/>
<path d="M112,164 L119,163 L125,162 L131,161 L135,161 L137,161 L140,161 L142,162 L146,164" stroke="#a8d8a0" stroke-width="0.7" fill="none" opacity="0.55"/>
<path d="M99.2,165.9 L104.3,167.2 L111.7,169.1 L119.5,170.7 L125.6,171.9 L129.5,172.4 L132.3,172.7 L134.0,172.9 L134.8,173.0 L134.8,173.5 L134.0,174.7 L132.7,176.0 L132.1,177.1 L132.1,177.1 L133.1,176.4 L134.6,175.3 L135.8,173.9 L135.9,172.3 L134.4,171.4 L132.5,171.0 L129.8,170.6 L126.0,169.9 L119.9,168.5 L112.2,166.9 L104.7,165.5 L99.5,164.7 Z" fill="#3a863b"/>
<path d="M104,166 L112,168 L120,170 L126,171 L130,172 L132,172 L134,172 L135,173 L135,174" stroke="#a8d8a0" stroke-width="0.7" fill="none" opacity="0.55"/>
<path d="M95.9,165.0 L95.3,165.8 L94.4,167.0 L93.9,168.8 L93.8,171.0 L94.6,173.3 L95.8,175.6 L96.9,178.1 L97.4,180.9 L96.9,184.8 L95.8,189.6 L94.6,194.0 L94.0,197.2 L94.0,197.2 L95.2,194.2 L96.7,189.8 L98.1,185.1 L98.8,180.9 L98.5,177.7 L97.5,174.8 L96.5,172.5 L96.0,170.7 L96.2,169.2 L96.6,167.9 L96.9,166.6 L97.1,165.6 Z" fill="#38843a"/>
<path d="M96,166 L96,167 L95,169 L95,171 L96,173 L97,175 L98,178 L98,181 L97,185" stroke="#a8d8a0" stroke-width="0.7" fill="none" opacity="0.55"/>
<path d="M102.3,164.6 L97.1,164.5 L89.6,164.4 L81.7,164.8 L75.3,165.5 L71.0,166.6 L67.8,167.9 L65.3,169.3 L63.3,170.8 L61.7,172.4 L60.7,174.2 L60.3,175.8 L60.1,176.9 L60.1,176.9 L60.9,176.1 L61.7,174.7 L62.7,173.3 L64.3,172.0 L66.2,170.9 L68.6,169.7 L71.6,168.7 L75.7,167.9 L81.9,167.4 L89.7,167.0 L97.2,166.5 L102.3,166.0 Z" fill="#38843a"/>
<path d="M97,165 L90,166 L82,166 L75,167 L71,168 L68,169 L66,170 L64,171 L62,173" stroke="#a8d8a0" stroke-width="0.7" fill="none" opacity="0.55"/>
<path d="M96.6,165.3 L97.1,162.5 L97.4,158.4 L97.6,154.4 L97.7,151.9 L96.7,151.9 L96.9,152.4 L97.4,153.7 L97.9,154.5 L97.9,154.5 L98.0,153.6 L98.0,152.2 L97.7,150.9 L96.1,151.7 L95.8,154.3 L95.4,158.3 L95.3,162.4 L95.5,165.3 Z" fill="#3a863b"/>
<path d="M96,162 L96,158 L97,154 L97,152 L97,151" stroke="#a8d8a0" stroke-width="0.7" fill="none" opacity="0.55"/>
<path d="M102.4,165.3 L103.0,162.4 L103.2,158.1 L103.2,153.9 L103.2,151.3 L101.5,151.2 L101.8,152.2 L102.2,153.8 L102.7,154.8 L102.7,154.8 L103.0,153.7 L103.1,152.1 L103.1,150.7 L101.2,151.1 L101.0,153.8 L100.7,158.0 L100.7,162.3 L101.1,165.3 Z" fill="#438e42"/>
<path d="M102,162 L102,158 L102,154 L102,151 L102,151" stroke="#a8d8a0" stroke-width="0.7" fill="none" opacity="0.55"/>
<path d="M101.3,165.3 L101.8,162.0 L101.9,157.2 L101.8,152.6 L101.6,149.7 L99.8,149.6 L100.0,151.0 L100.2,152.9 L100.6,154.2 L100.6,154.2 L101.1,153.0 L101.3,151.0 L101.5,149.6 L99.7,149.8 L99.5,152.6 L99.4,157.2 L99.5,162.0 L100.0,165.3 Z" fill="#2f7b31"/>
<path d="M101,162 L101,157 L101,153 L101,150 L101,150" stroke="#a8d8a0" stroke-width="0.7" fill="none" opacity="0.55"/>
<path d="M101.4,165.5 L102.7,163.1 L104.0,159.5 L105.2,156.1 L106.0,154.4 L106.3,154.6 L107.6,156.0 L108.9,157.9 L110.1,159.1 L110.1,159.1 L109.6,157.5 L108.6,155.3 L107.2,153.3 L105.0,152.9 L103.2,155.2 L101.7,158.7 L100.6,162.5 L100.2,165.1 Z" fill="#38843a"/>
<path d="M102,163 L103,159 L104,156 L105,154 L107,154" stroke="#a8d8a0" stroke-width="0.7" fill="none" opacity="0.55"/>
<path d="M100.5,164.9 L99.6,162.9 L97.8,160.2 L95.5,157.7 L93.0,156.1 L90.5,156.2 L88.3,157.2 L86.5,158.5 L85.4,159.6 L85.4,159.6 L86.9,159.3 L88.9,158.4 L90.8,157.8 L92.3,158.0 L93.9,159.4 L95.8,161.8 L97.7,164.3 L99.4,165.7 Z" fill="#38843a"/>
<path d="M99,164 L97,161 L95,159 L93,157 L91,157" stroke="#a8d8a0" stroke-width="0.7" fill="none" opacity="0.55"/>
<path d="M98.3,165.1 L97.7,161.5 L96.3,156.4 L94.4,151.5 L92.4,148.3 L89.7,148.3 L87.9,150.5 L86.6,153.0 L85.9,154.8 L85.9,154.8 L87.3,153.5 L89.0,151.3 L90.6,149.8 L91.1,149.8 L92.3,152.4 L93.8,157.2 L95.5,162.2 L97.0,165.5 Z" fill="#438e42"/>
<path d="M97,162 L95,157 L93,152 L92,149 L90,149" stroke="#a8d8a0" stroke-width="0.7" fill="none" opacity="0.55"/>
<path d="M100.6,165.2 L100.7,162.7 L100.2,159.1 L99.4,155.6 L98.5,153.3 L96.5,153.4 L95.9,155.1 L95.5,157.0 L95.5,158.4 L95.5,158.4 L96.3,157.3 L97.0,155.6 L97.7,154.4 L96.9,154.3 L97.3,156.1 L97.8,159.5 L98.5,163.0 L99.3,165.4 Z" fill="#438e42"/>
<path d="M100,163 L99,159 L98,156 L98,154 L97,154" stroke="#a8d8a0" stroke-width="0.7" fill="none" opacity="0.55"/>
<path d="M108.0,165.4 L109.0,162.0 L110.1,156.9 L111.1,152.0 L111.9,149.1 L112.0,149.0 L113.0,150.1 L114.1,151.9 L115.1,153.1 L115.1,153.1 L114.7,151.6 L113.9,149.6 L112.6,147.9 L110.7,148.3 L109.4,151.5 L108.2,156.5 L107.3,161.7 L107.0,165.2 Z" fill="#38843a"/>
<path d="M108,162 L109,157 L110,152 L111,149 L112,148" stroke="#a8d8a0" stroke-width="0.7" fill="none" opacity="0.55"/>
<path d="M99.8,165.4 L100.7,162.2 L101.5,157.4 L102.1,152.7 L102.6,149.9 L102.2,149.8 L102.8,150.5 L103.6,152.0 L104.4,152.9 L104.4,152.9 L104.3,151.7 L103.8,150.0 L102.8,148.5 L101.0,149.3 L100.2,152.4 L99.3,157.1 L98.7,161.9 L98.7,165.2 Z" fill="#5ea25a"/>
<path d="M100,162 L100,157 L101,153 L102,150 L103,149" stroke="#a8d8a0" stroke-width="0.7" fill="none" opacity="0.55"/>
<path d="M104.1,165.2 L103.9,161.0 L103.1,154.8 L102.1,148.8 L101.0,145.0 L99.0,144.6 L98.0,146.7 L97.3,149.2 L97.0,151.0 L97.0,151.0 L97.9,149.5 L98.9,147.1 L99.8,145.5 L99.7,145.6 L100.4,149.1 L101.2,155.1 L102.2,161.2 L103.1,165.4 Z" fill="#4b954a"/>
<path d="M103,161 L102,155 L101,149 L100,145 L99,145" stroke="#a8d8a0" stroke-width="0.7" fill="none" opacity="0.55"/>
<path d="M248.3,168 L281.5,168 L279.5,193 L250.3,193 Z" fill="#0c0c0c"/>
<path d="M248.8,168 L281.0,168" stroke="#262626" stroke-width="1.2"/>
<path d="M269.9,168.9 L263.3,166.3 L253.6,162.6 L243.5,159.0 L235.3,156.8 L229.8,156.2 L225.9,156.6 L222.7,157.7 L219.6,159.2 L216.2,161.1 L213.0,163.7 L210.1,166.6 L207.5,169.6 L205.3,173.1 L203.4,176.9 L201.9,180.5 L201.0,183.0 L201.0,183.0 L202.4,180.7 L204.1,177.3 L206.2,173.6 L208.5,170.4 L211.1,167.6 L214.0,164.9 L217.2,162.6 L220.4,160.8 L223.4,159.6 L226.3,158.7 L229.8,158.5 L234.7,159.2 L242.7,161.4 L252.9,164.7 L262.7,167.9 L269.5,170.1 Z" fill="#5ea25a"/>
<path d="M263,167 L253,164 L243,160 L235,158 L230,157 L226,158 L223,159 L220,160 L217,162 L214,164 L211,167 L208,170 L206,173" stroke="#a8d8a0" stroke-width="0.7" fill="none" opacity="0.55"/>
<path d="M264.3,169.0 L258.7,167.4 L250.6,165.1 L242.0,163.0 L235.1,162.1 L230.4,162.4 L227.0,163.5 L224.2,165.3 L221.5,167.4 L218.7,169.9 L215.9,172.8 L213.5,176.4 L211.5,180.9 L210.3,187.1 L209.6,194.8 L209.2,202.0 L209.0,207.0 L209.0,207.0 L209.6,202.0 L210.2,194.8 L211.1,187.3 L212.5,181.1 L214.4,176.9 L216.8,173.6 L219.6,170.9 L222.5,168.6 L225.1,166.6 L227.6,165.0 L230.7,164.1 L234.9,163.9 L241.7,164.9 L250.2,166.7 L258.4,168.7 L264.1,170.0 Z" fill="#5ea25a"/>
<path d="M259,168 L250,166 L242,164 L235,163 L231,163 L227,164 L225,166 L222,168 L219,170 L216,173 L214,177 L212,181 L211,187" stroke="#a8d8a0" stroke-width="0.7" fill="none" opacity="0.55"/>
<path d="M264.0,169.0 L259.5,168.7 L252.9,168.4 L245.8,168.5 L239.9,169.1 L235.4,170.1 L231.7,171.5 L228.5,173.3 L225.6,175.6 L223.0,179.0 L220.8,183.2 L219.1,187.2 L218.0,190.0 L218.0,190.0 L219.5,187.4 L221.5,183.5 L223.8,179.5 L226.4,176.4 L229.2,174.4 L232.3,172.8 L235.9,171.7 L240.1,170.9 L245.9,170.4 L252.9,170.3 L259.5,170.2 L264.0,170.0 Z" fill="#3a863b"/>
<path d="M259,169 L253,169 L246,169 L240,170 L236,171 L232,172 L229,174 L226,176 L223,179" stroke="#a8d8a0" stroke-width="0.7" fill="none" opacity="0.55"/>
<path d="M266.3,169.4 L265.8,166.0 L265.0,161.1 L263.9,156.0 L263.0,151.8 L262.5,149.0 L262.3,146.7 L262.0,144.8 L261.7,142.9 L261.1,141.0 L260.4,139.3 L259.7,137.9 L259.0,137.0 L259.0,137.0 L259.1,138.1 L259.5,139.6 L260.0,141.3 L260.3,143.1 L260.5,144.9 L260.5,146.8 L260.6,149.2 L261.0,152.2 L261.7,156.4 L262.8,161.5 L264.1,166.3 L265.1,169.6 Z" fill="#3a863b"/>
<path d="M265,166 L264,161 L263,156 L262,152 L262,149 L261,147 L261,145 L261,143 L261,141" stroke="#a8d8a0" stroke-width="0.7" fill="none" opacity="0.55"/>
<path d="M266.2,169.7 L268.0,166.6 L270.4,162.1 L272.8,157.3 L274.8,153.4 L276.2,150.9 L277.3,149.2 L278.4,147.7 L279.4,146.4 L280.5,145.0 L281.6,143.8 L282.5,142.8 L283.0,142.0 L283.0,142.0 L282.1,142.5 L281.1,143.3 L279.8,144.4 L278.6,145.6 L277.4,146.9 L276.2,148.3 L274.8,150.1 L273.2,152.6 L271.1,156.4 L268.7,161.3 L266.7,166.0 L265.3,169.3 Z" fill="#2f7b31"/>
<path d="M267,166 L270,162 L272,157 L274,153 L275,151 L277,149 L278,147 L279,146 L280,145" stroke="#a8d8a0" stroke-width="0.7" fill="none" opacity="0.55"/>
<path d="M270.9,169.9 L274.6,167.8 L279.9,164.5 L285.5,160.9 L290.4,157.8 L294.5,155.6 L298.3,153.8 L301.9,152.2 L305.3,150.5 L308.5,148.7 L311.6,146.9 L314.2,145.3 L316.0,144.0 L316.0,144.0 L314.0,144.8 L311.2,146.2 L308.1,147.8 L304.7,149.5 L301.4,150.9 L297.7,152.4 L293.8,154.1 L289.6,156.2 L284.5,159.2 L278.8,162.9 L273.8,166.5 L270.3,169.1 Z" fill="#4b954a"/>
<path d="M274,167 L279,164 L285,160 L290,157 L294,155 L298,153 L302,152 L305,150 L308,148" stroke="#a8d8a0" stroke-width="0.7" fill="none" opacity="0.55"/>
<path d="M264.5,169.1 L262.0,166.3 L258.3,162.3 L254.2,158.4 L250.7,155.2 L248.2,153.2 L246.3,151.7 L244.4,150.5 L242.3,149.4 L239.6,148.4 L236.6,147.7 L233.9,147.2 L232.0,147.0 L232.0,147.0 L233.8,147.8 L236.4,148.6 L239.2,149.5 L241.7,150.6 L243.6,151.8 L245.2,153.0 L247.0,154.6 L249.3,156.8 L252.7,160.0 L256.7,163.9 L260.8,167.5 L263.6,169.9 Z" fill="#438e42"/>
<path d="M261,167 L258,163 L253,159 L250,156 L248,154 L246,152 L244,151 L242,150 L239,149" stroke="#a8d8a0" stroke-width="0.7" fill="none" opacity="0.55"/>
<path d="M262.6,170.2 L268.9,169.0 L278.1,167.1 L287.6,164.8 L295.2,163.2 L300.2,162.3 L303.8,162.0 L306.9,161.9 L310.0,161.8 L313.5,161.6 L316.9,161.4 L319.9,161.3 L322.0,161.0 L322.0,161.0 L319.9,160.6 L316.9,160.4 L313.5,160.3 L310.0,160.2 L306.9,160.1 L303.7,160.0 L299.9,160.2 L294.8,160.8 L287.1,162.4 L277.5,164.6 L268.5,167.0 L262.3,168.8 Z" fill="#38843a"/>
<path d="M269,168 L278,166 L287,164 L295,162 L300,161 L304,161 L307,161 L310,161 L313,161" stroke="#a8d8a0" stroke-width="0.7" fill="none" opacity="0.55"/>
<path d="M262.1,170.2 L268.0,170.8 L276.5,171.4 L285.3,171.8 L291.9,172.2 L295.3,172.7 L297.0,173.2 L298.1,173.9 L299.6,174.7 L301.7,175.6 L303.7,176.6 L305.6,177.6 L307.0,178.0 L307.0,178.0 L305.9,177.0 L304.3,175.7 L302.3,174.4 L300.4,173.3 L299.1,172.4 L297.9,171.4 L295.8,170.5 L292.1,169.8 L285.5,169.2 L276.6,168.8 L268.1,168.7 L262.2,168.8 Z" fill="#2c742e"/>
<path d="M268,170 L277,170 L285,170 L292,171 L296,172 L297,172 L299,173 L300,174 L302,175" stroke="#a8d8a0" stroke-width="0.7" fill="none" opacity="0.55"/>
<path d="M269.2,169.6 L269.5,171.7 L270.1,174.5 L271.1,177.6 L272.2,180.3 L273.2,182.6 L274.2,184.9 L275.6,186.9 L277.7,188.5 L280.9,189.5 L284.8,189.9 L288.5,190.0 L291.0,190.0 L291.0,190.0 L288.5,189.5 L284.9,189.1 L281.1,188.5 L278.3,187.5 L276.7,186.0 L275.6,184.2 L274.7,182.0 L273.8,179.7 L272.9,177.0 L272.0,174.0 L271.0,171.2 L270.2,169.4 Z" fill="#38843a"/>
<path d="M270,171 L271,174 L272,177 L273,180 L274,182 L275,185 L276,186 L278,188 L281,189" stroke="#a8d8a0" stroke-width="0.7" fill="none" opacity="0.55"/>
<path d="M259.6,169.0 L254.8,166.3 L247.8,162.5 L240.1,158.8 L233.4,156.7 L228.0,156.5 L223.4,157.5 L219.4,159.2 L215.6,161.1 L212.0,163.2 L208.7,165.9 L205.7,168.8 L203.1,171.8 L200.8,175.4 L198.8,179.3 L197.3,183.0 L196.3,185.5 L196.3,185.5 L197.7,183.2 L199.5,179.7 L201.7,175.9 L204.0,172.6 L206.7,169.7 L209.7,167.0 L212.9,164.6 L216.4,162.7 L220.1,160.9 L224.0,159.4 L228.2,158.6 L232.9,158.9 L239.2,161.0 L246.9,164.3 L254.1,167.8 L259.1,170.0 Z" fill="#3a863b"/>
<path d="M254,167 L247,163 L240,160 L233,158 L228,158 L224,158 L220,160 L216,162 L212,164 L209,166 L206,169 L204,172 L201,176" stroke="#a8d8a0" stroke-width="0.7" fill="none" opacity="0.55"/>
<path d="M267.3,169.0 L260.9,167.4 L251.5,165.1 L241.7,163.1 L234.0,162.4 L229.3,163.5 L226.3,165.8 L224.3,168.3 L222.1,170.3 L219.2,171.3 L215.9,171.8 L212.5,173.3 L209.8,177.1 L207.8,184.9 L206.3,195.4 L205.1,205.7 L204.5,212.8 L204.5,212.8 L205.6,205.8 L207.0,195.5 L208.7,185.1 L210.8,177.5 L213.3,174.2 L216.2,173.1 L219.5,172.7 L222.9,171.7 L225.5,169.4 L227.6,167.1 L230.0,165.3 L234.0,164.4 L241.4,165.2 L251.2,166.9 L260.6,168.8 L267.1,170.0 Z" fill="#2c742e"/>
<path d="M261,168 L251,166 L242,164 L234,163 L230,164 L227,166 L225,169 L223,171 L219,172 L216,172 L213,174 L210,177 L208,185" stroke="#a8d8a0" stroke-width="0.7" fill="none" opacity="0.55"/>
<path d="M258.1,168.9 L254.8,168.4 L250.0,167.9 L244.6,167.7 L239.5,168.1 L234.6,168.9 L229.5,169.9 L224.9,171.6 L221.6,174.3 L220.5,178.7 L220.9,184.1 L221.9,189.3 L222.7,192.8 L222.7,192.8 L222.5,189.2 L221.8,184.0 L221.6,178.8 L222.7,175.1 L225.6,173.0 L229.9,171.6 L234.9,170.8 L239.7,170.2 L244.6,169.9 L249.9,170.1 L254.7,170.2 L258.0,170.1 Z" fill="#2c742e"/>
<path d="M255,169 L250,169 L245,169 L240,169 L235,170 L230,171 L225,172 L222,175 L221,179" stroke="#a8d8a0" stroke-width="0.7" fill="none" opacity="0.55"/>
<path d="M261.6,169.5 L261.5,165.8 L261.3,160.5 L260.9,154.9 L260.9,150.4 L261.3,147.0 L262.1,144.2 L262.9,141.8 L263.4,139.9 L263.3,138.7 L262.7,138.1 L262.2,138.3 L262.0,138.5 L262.0,138.5 L262.2,138.8 L262.4,138.9 L262.3,138.9 L262.2,139.6 L261.6,141.3 L260.6,143.7 L259.6,146.7 L259.0,150.3 L259.0,155.0 L259.3,160.6 L260.0,165.9 L260.5,169.5 Z" fill="#2f7b31"/>
<path d="M261,166 L260,161 L260,155 L260,150 L260,147 L261,144 L262,142 L263,140 L263,139" stroke="#a8d8a0" stroke-width="0.7" fill="none" opacity="0.55"/>
<path d="M265.7,169.8 L267.8,166.8 L270.7,162.4 L273.6,157.6 L275.9,153.8 L277.7,151.1 L279.3,148.9 L280.5,147.2 L281.3,145.8 L280.7,144.5 L279.6,144.8 L278.7,145.4 L278.1,145.9 L278.1,145.9 L278.9,145.9 L279.9,145.7 L280.3,145.6 L280.0,145.3 L279.3,146.2 L277.9,147.8 L276.1,149.9 L274.2,152.6 L271.7,156.5 L268.8,161.2 L266.3,165.9 L264.7,169.2 Z" fill="#2f7b31"/>
<path d="M267,166 L270,162 L273,157 L275,153 L277,150 L279,148 L280,147 L281,146 L281,145" stroke="#a8d8a0" stroke-width="0.7" fill="none" opacity="0.55"/>
<path d="M258.2,170.0 L264.8,167.8 L274.3,164.5 L284.0,160.8 L291.3,157.5 L295.2,154.8 L297.0,152.4 L298.1,150.6 L300.2,149.3 L304.7,148.5 L310.3,148.3 L315.7,148.2 L319.4,148.0 L319.4,148.0 L315.7,147.7 L310.3,147.4 L304.6,147.5 L299.9,148.1 L297.2,149.5 L295.7,151.4 L294.1,153.5 L290.5,155.8 L283.2,158.9 L273.5,162.6 L264.2,166.3 L257.8,169.0 Z" fill="#438e42"/>
<path d="M264,167 L274,164 L284,160 L291,157 L295,154 L296,152 L298,150 L300,149 L305,148" stroke="#a8d8a0" stroke-width="0.7" fill="none" opacity="0.55"/>
<path d="M263.1,169.1 L260.4,166.1 L256.6,161.8 L252.2,157.4 L248.3,154.1 L244.9,152.2 L241.6,151.0 L239.0,150.3 L237.4,149.8 L237.2,149.9 L237.2,150.1 L238.0,149.9 L238.5,149.7 L238.5,149.7 L238.0,149.4 L237.1,149.3 L236.2,149.8 L236.8,150.8 L238.6,151.6 L241.1,152.4 L244.1,153.7 L247.2,155.6 L250.8,158.9 L255.2,163.1 L259.3,167.2 L262.3,169.9 Z" fill="#2c742e"/>
<path d="M260,167 L256,162 L252,158 L248,155 L244,153 L241,152 L239,151 L237,150 L237,150" stroke="#a8d8a0" stroke-width="0.7" fill="none" opacity="0.55"/>
<path d="M267.1,170.0 L272.6,168.6 L280.5,166.3 L288.6,163.8 L295.0,161.8 L298.7,160.7 L301.1,160.0 L302.9,159.6 L305.1,159.3 L308.2,159.3 L311.6,159.5 L314.7,159.7 L316.9,159.7 L316.9,159.7 L314.7,159.2 L311.7,158.7 L308.2,158.2 L305.0,158.1 L302.7,158.2 L300.7,158.5 L298.3,159.0 L294.4,160.1 L288.0,161.9 L279.9,164.4 L272.1,167.1 L266.8,169.0 Z" fill="#2f7b31"/>
<path d="M272,168 L280,165 L288,163 L295,161 L298,160 L301,159 L303,159 L305,159 L308,159" stroke="#a8d8a0" stroke-width="0.7" fill="none" opacity="0.55"/>
<path d="M263.2,170.0 L269.4,170.2 L278.4,170.3 L287.6,170.3 L294.4,170.4 L298.0,170.7 L299.7,171.1 L300.5,171.6 L301.1,172.2 L301.5,173.1 L301.4,174.5 L301.0,175.8 L300.9,176.9 L300.9,176.9 L301.5,176.0 L302.1,174.7 L302.5,173.1 L302.2,171.7 L301.4,170.6 L300.3,169.7 L298.2,169.0 L294.5,168.6 L287.6,168.3 L278.4,168.3 L269.4,168.7 L263.2,169.0 Z" fill="#2f7b31"/>
<path d="M269,169 L278,169 L288,169 L294,169 L298,170 L300,170 L301,171 L302,172 L302,173" stroke="#a8d8a0" stroke-width="0.7" fill="none" opacity="0.55"/>
<path d="M265.8,169.7 L266.5,171.7 L267.7,174.5 L269.2,177.5 L270.8,180.2 L272.1,182.8 L273.2,185.5 L275.0,188.0 L277.9,189.7 L282.6,190.2 L288.6,189.8 L294.4,189.2 L298.3,188.6 L298.3,188.6 L294.3,188.6 L288.6,189.0 L282.7,189.2 L278.3,188.5 L276.0,187.0 L274.6,184.8 L273.6,182.1 L272.4,179.4 L271.0,176.6 L269.5,173.6 L267.9,171.0 L266.8,169.3 Z" fill="#2c742e"/>
<path d="M267,171 L269,174 L270,177 L272,180 L273,182 L274,185 L275,188 L278,189 L283,190" stroke="#a8d8a0" stroke-width="0.7" fill="none" opacity="0.55"/>
<path d="M271.5,168.9 L264.2,166.3 L253.7,162.6 L242.7,159.0 L234.0,157.1 L228.9,156.9 L225.7,157.9 L223.5,159.5 L220.7,161.0 L216.5,162.6 L211.7,164.5 L207.1,166.7 L203.7,169.1 L201.9,172.0 L201.3,175.3 L201.3,178.2 L201.5,180.2 L201.5,180.2 L201.9,178.3 L202.2,175.4 L202.9,172.5 L204.6,170.0 L207.8,168.0 L212.3,166.0 L217.1,164.3 L221.5,162.8 L224.5,161.3 L226.7,159.9 L229.1,159.2 L233.6,159.5 L242.0,161.6 L253.0,164.7 L263.7,168.0 L271.1,170.1 Z" fill="#38843a"/>
<path d="M264,167 L253,164 L242,160 L234,158 L229,158 L226,159 L224,160 L221,162 L217,163 L212,165 L207,167 L204,170 L202,172" stroke="#a8d8a0" stroke-width="0.7" fill="none" opacity="0.55"/>
<path d="M272.1,169.0 L265.3,167.1 L255.5,164.5 L245.1,162.1 L236.8,160.9 L231.4,161.1 L227.5,162.3 L224.5,164.1 L221.7,166.1 L218.7,168.3 L216.0,170.8 L213.6,174.0 L211.8,178.2 L210.6,184.4 L209.9,192.1 L209.5,199.4 L209.4,204.4 L209.4,204.4 L210.0,199.4 L210.6,192.1 L211.4,184.5 L212.7,178.5 L214.6,174.6 L216.9,171.7 L219.6,169.4 L222.6,167.4 L225.4,165.5 L228.2,163.9 L231.7,163.0 L236.7,162.8 L244.7,164.1 L255.1,166.2 L265.0,168.5 L271.8,170.0 Z" fill="#438e42"/>
<path d="M265,168 L255,165 L245,163 L237,162 L232,162 L228,163 L225,165 L222,167 L219,169 L216,171 L214,174 L212,178 L211,184" stroke="#a8d8a0" stroke-width="0.7" fill="none" opacity="0.55"/>
<path d="M258.0,169.0 L254.1,168.9 L248.5,168.9 L242.5,169.4 L237.6,170.3 L234.4,171.9 L232.4,173.8 L230.6,175.8 L228.1,177.6 L224.0,179.4 L218.9,181.3 L214.1,182.9 L210.8,184.3 L210.8,184.3 L214.2,183.5 L219.1,182.0 L224.3,180.4 L228.7,178.7 L231.5,176.9 L233.5,175.0 L235.4,173.3 L238.1,172.1 L242.7,171.4 L248.6,171.0 L254.2,170.5 L258.1,170.0 Z" fill="#2f7b31"/>
<path d="M254,170 L249,170 L243,170 L238,171 L235,173 L233,174 L231,176 L228,178 L224,180" stroke="#a8d8a0" stroke-width="0.7" fill="none" opacity="0.55"/>
<path d="M267.4,169.2 L266.3,165.9 L264.4,161.1 L262.3,156.1 L260.9,151.8 L260.6,148.3 L261.0,144.9 L261.6,141.7 L261.5,139.0 L260.6,136.9 L259.1,135.6 L257.7,134.9 L256.7,134.6 L256.7,134.6 L257.3,135.4 L258.5,136.4 L259.5,137.6 L260.1,139.2 L259.9,141.5 L259.2,144.6 L258.6,148.2 L258.7,152.2 L260.0,156.9 L262.1,162.1 L264.5,166.6 L266.3,169.8 Z" fill="#438e42"/>
<path d="M265,166 L263,162 L261,156 L260,152 L260,148 L260,145 L261,142 L261,139 L260,137" stroke="#a8d8a0" stroke-width="0.7" fill="none" opacity="0.55"/>
<path d="M270.5,169.6 L271.4,166.8 L272.6,162.7 L273.6,158.2 L274.9,154.6 L276.6,151.7 L278.8,149.1 L280.9,146.9 L282.5,144.9 L283.5,143.4 L283.9,142.3 L284.0,141.5 L283.9,140.9 L283.9,140.9 L283.5,141.3 L283.1,141.9 L282.5,142.8 L281.5,144.0 L279.8,145.8 L277.5,148.0 L275.1,150.6 L273.0,153.7 L271.5,157.6 L270.4,162.2 L269.7,166.4 L269.4,169.4 Z" fill="#3a863b"/>
<path d="M271,167 L271,162 L273,158 L274,154 L276,151 L278,149 L280,146 L282,144 L283,143" stroke="#a8d8a0" stroke-width="0.7" fill="none" opacity="0.55"/>
<path d="M267.6,170.1 L271.6,168.2 L277.4,165.3 L283.4,161.9 L288.7,158.6 L292.8,155.6 L296.4,152.5 L299.6,149.8 L302.6,147.9 L305.9,147.1 L309.2,147.0 L312.2,147.1 L314.4,147.0 L314.4,147.0 L312.3,146.5 L309.3,146.0 L305.7,145.9 L302.1,146.6 L298.6,148.4 L295.2,151.1 L291.5,154.0 L287.5,156.8 L282.2,159.8 L276.2,163.2 L270.7,166.5 L267.0,168.9 Z" fill="#4b954a"/>
<path d="M271,167 L277,164 L283,161 L288,158 L292,155 L296,152 L299,149 L302,147 L306,146" stroke="#a8d8a0" stroke-width="0.7" fill="none" opacity="0.55"/>
<path d="M268.8,169.0 L264.9,165.9 L259.1,161.6 L253.1,157.2 L248.9,153.9 L247.5,152.0 L247.6,150.8 L247.9,149.4 L247.0,147.9 L244.7,147.2 L241.9,146.9 L239.2,147.0 L237.3,147.1 L237.3,147.1 L239.2,147.5 L241.8,147.8 L244.5,148.3 L246.2,149.0 L246.4,149.5 L245.9,150.6 L245.8,152.7 L247.5,155.4 L251.8,159.0 L257.8,163.4 L263.9,167.3 L268.1,170.0 Z" fill="#2f7b31"/>
<path d="M264,167 L258,162 L252,158 L248,155 L247,152 L247,151 L247,149 L247,148 L245,148" stroke="#a8d8a0" stroke-width="0.7" fill="none" opacity="0.55"/>
<path d="M265.0,170.1 L270.8,168.9 L279.2,166.9 L287.8,164.7 L294.5,163.1 L298.5,162.5 L301.0,162.5 L303.1,162.8 L305.8,163.1 L309.4,163.4 L313.3,163.9 L316.9,164.3 L319.5,164.4 L319.5,164.4 L317.0,163.7 L313.5,162.9 L309.5,162.2 L306.0,161.6 L303.4,161.1 L301.2,160.6 L298.3,160.4 L294.1,160.9 L287.2,162.3 L278.5,164.5 L270.3,167.0 L264.7,168.9 Z" fill="#438e42"/>
<path d="M271,168 L279,166 L288,163 L294,162 L298,161 L301,162 L303,162 L306,162 L309,163" stroke="#a8d8a0" stroke-width="0.7" fill="none" opacity="0.55"/>
<path d="M263.8,170.2 L269.1,171.1 L276.9,172.3 L285.0,173.3 L291.1,173.9 L294.2,174.1 L295.7,174.0 L296.4,174.0 L297.9,174.5 L300.6,176.0 L303.8,178.1 L306.8,180.2 L309.0,181.4 L309.0,181.4 L307.2,179.7 L304.4,177.3 L301.3,174.9 L298.6,173.2 L297.0,172.3 L295.8,172.0 L294.4,171.9 L291.3,171.6 L285.3,170.8 L277.2,169.8 L269.4,169.1 L263.9,168.8 Z" fill="#38843a"/>
<path d="M269,170 L277,171 L285,172 L291,173 L294,173 L296,173 L297,173 L298,174 L301,175" stroke="#a8d8a0" stroke-width="0.7" fill="none" opacity="0.55"/>
<path d="M268.4,169.6 L268.6,171.3 L269.0,173.6 L269.7,176.2 L270.6,178.7 L271.4,181.0 L272.1,183.6 L273.3,186.1 L275.2,188.3 L278.6,190.0 L282.8,191.4 L286.9,192.5 L289.8,193.0 L289.8,193.0 L287.1,191.9 L283.1,190.6 L279.0,189.1 L276.0,187.3 L274.4,185.4 L273.6,183.1 L273.0,180.6 L272.4,178.1 L271.7,175.6 L270.9,173.1 L270.1,170.9 L269.4,169.4 Z" fill="#3a863b"/>
<path d="M269,171 L270,173 L271,176 L272,178 L272,181 L273,183 L274,186 L276,188 L279,190" stroke="#a8d8a0" stroke-width="0.7" fill="none" opacity="0.55"/>
<path d="M267.3,169.6 L268.7,166.3 L270.4,161.4 L272.0,156.6 L273.4,154.0 L274.3,154.0 L276.0,155.7 L277.7,158.0 L279.1,159.4 L279.1,159.4 L278.2,157.6 L276.8,155.1 L274.9,153.0 L272.5,152.9 L270.6,155.9 L268.7,160.8 L267.2,165.8 L266.4,169.4 Z" fill="#4b954a"/>
<path d="M268,166 L270,161 L271,156 L273,153 L275,154" stroke="#a8d8a0" stroke-width="0.7" fill="none" opacity="0.55"/>
<path d="M263.9,169.1 L262.5,167.3 L260.3,165.0 L257.5,162.9 L254.7,161.7 L251.9,162.0 L249.3,163.2 L247.0,164.6 L245.6,165.7 L245.6,165.7 L247.3,165.2 L249.7,164.1 L252.2,163.3 L254.4,163.3 L256.5,164.4 L258.9,166.5 L261.3,168.7 L263.2,169.9 Z" fill="#438e42"/>
<path d="M262,168 L260,166 L257,164 L255,162 L252,163" stroke="#a8d8a0" stroke-width="0.7" fill="none" opacity="0.55"/>
<path d="M264.8,169.6 L266.1,166.1 L267.6,160.9 L269.0,155.8 L270.3,152.7 L271.0,152.4 L272.3,153.4 L273.8,155.0 L275.0,156.0 L275.0,156.0 L274.3,154.6 L273.1,152.7 L271.3,151.2 L269.1,151.8 L267.4,155.2 L265.8,160.4 L264.5,165.7 L263.8,169.4 Z" fill="#438e42"/>
<path d="M265,166 L267,161 L268,156 L270,152 L271,152" stroke="#a8d8a0" stroke-width="0.7" fill="none" opacity="0.55"/>
<path d="M264.1,169.4 L264.1,165.8 L263.7,160.6 L262.9,155.5 L262.0,152.3 L259.8,152.0 L259.2,154.0 L258.8,156.3 L258.8,157.9 L258.8,157.9 L259.6,156.6 L260.4,154.4 L261.1,153.1 L260.2,153.0 L260.6,155.9 L261.2,160.9 L261.9,166.1 L262.8,169.6 Z" fill="#38843a"/>
<path d="M263,166 L262,161 L262,156 L261,153 L260,153" stroke="#a8d8a0" stroke-width="0.7" fill="none" opacity="0.55"/>
<path d="M264.2,169.4 L263.8,165.4 L262.7,159.6 L261.3,154.0 L259.8,150.4 L257.4,150.1 L256.0,152.3 L255.0,154.8 L254.5,156.5 L254.5,156.5 L255.6,155.1 L257.0,152.9 L258.2,151.4 L258.3,151.4 L259.4,154.6 L260.5,160.1 L261.8,165.8 L263.0,169.6 Z" fill="#5ea25a"/>
<path d="M263,166 L262,160 L260,154 L259,151 L258,151" stroke="#a8d8a0" stroke-width="0.7" fill="none" opacity="0.55"/>
<path d="M261.1,169.4 L261.0,165.9 L260.3,160.8 L259.3,155.8 L258.2,152.6 L256.2,152.5 L255.3,154.6 L254.7,156.9 L254.5,158.6 L254.5,158.6 L255.3,157.2 L256.3,155.0 L257.2,153.5 L256.8,153.5 L257.4,156.2 L258.2,161.1 L259.1,166.2 L260.0,169.6 Z" fill="#2f7b31"/>
<path d="M260,166 L259,161 L258,156 L258,153 L257,153" stroke="#a8d8a0" stroke-width="0.7" fill="none" opacity="0.55"/>
<path d="M264.3,169.7 L265.4,167.4 L266.6,164.0 L267.7,160.8 L268.6,159.2 L269.0,159.4 L270.2,160.8 L271.5,162.7 L272.5,163.9 L272.5,163.9 L272.0,162.4 L271.0,160.3 L269.8,158.4 L267.8,158.0 L266.3,160.1 L264.9,163.4 L263.9,166.9 L263.4,169.3 Z" fill="#438e42"/>
<path d="M265,167 L266,164 L267,160 L268,159 L269,159" stroke="#a8d8a0" stroke-width="0.7" fill="none" opacity="0.55"/>
<path d="M265.2,169.6 L266.0,166.7 L266.8,162.4 L267.4,158.3 L267.9,155.9 L267.5,155.9 L268.2,156.9 L269.0,158.5 L269.8,159.5 L269.8,159.5 L269.7,158.2 L269.2,156.4 L268.3,154.8 L266.5,155.1 L265.6,157.9 L264.8,162.1 L264.2,166.4 L264.1,169.4 Z" fill="#2c742e"/>
<path d="M265,167 L266,162 L267,158 L267,156 L268,155" stroke="#a8d8a0" stroke-width="0.7" fill="none" opacity="0.55"/>
<path d="M265.2,169.6 L266.0,166.7 L266.6,162.4 L266.9,158.1 L267.2,155.5 L266.6,155.5 L266.7,155.8 L267.3,156.8 L268.0,157.5 L268.0,157.5 L268.1,156.6 L267.8,155.2 L266.9,153.9 L265.4,155.0 L264.7,157.8 L264.1,162.1 L263.8,166.4 L263.9,169.4 Z" fill="#438e42"/>
<path d="M265,167 L265,162 L266,158 L266,155 L267,155" stroke="#a8d8a0" stroke-width="0.7" fill="none" opacity="0.55"/>
<path d="M259.7,169.5 L260.2,166.9 L260.6,163.1 L260.9,159.3 L261.1,157.2 L260.1,157.2 L260.5,158.4 L261.0,160.1 L261.5,161.2 L261.5,161.2 L261.7,160.0 L261.5,158.2 L261.3,156.7 L259.6,156.8 L259.2,159.1 L258.7,162.9 L258.5,166.8 L258.6,169.5 Z" fill="#4b954a"/>
<path d="M259,167 L260,163 L260,159 L260,157 L261,157" stroke="#a8d8a0" stroke-width="0.7" fill="none" opacity="0.55"/>
<path d="M437.4,169 L469.5,169 L467.5,195.8 L439.4,195.8 Z" fill="#0c0c0c"/>
<path d="M437.9,169 L469.0,169" stroke="#262626" stroke-width="1.2"/>
<path d="M458.8,169.9 L452.4,166.6 L443.0,161.8 L433.2,157.0 L425.4,153.8 L420.3,152.7 L416.7,152.9 L414.0,153.8 L411.5,155.1 L409.0,156.9 L406.9,159.2 L405.0,161.8 L403.3,164.6 L401.7,167.7 L400.2,171.1 L398.8,174.6 L397.5,177.8 L396.2,181.0 L394.8,184.2 L393.7,187.0 L393.0,189.0 L393.0,189.0 L394.1,187.2 L395.4,184.5 L397.0,181.3 L398.5,178.2 L399.9,175.0 L401.4,171.6 L403.0,168.3 L404.7,165.4 L406.5,162.8 L408.3,160.3 L410.2,158.3 L412.5,156.9 L414.8,155.8 L417.1,155.1 L420.0,155.1 L424.6,156.2 L432.3,159.1 L442.1,163.6 L451.7,168.1 L458.2,171.1 Z" fill="#438e42"/>
<path d="M452,167 L443,163 L433,158 L425,155 L420,154 L417,154 L414,155 L412,156 L410,158 L408,160 L406,162 L404,165 L402,168 L401,171 L399,175 L398,178 L397,181" stroke="#a8d8a0" stroke-width="0.7" fill="none" opacity="0.55"/>
<path d="M451.3,169.9 L446.3,168.6 L439.1,166.7 L431.4,165.1 L424.9,164.8 L420.2,166.4 L416.5,169.0 L413.7,172.2 L411.2,175.4 L409.1,178.7 L407.4,182.4 L406.2,186.1 L405.2,189.8 L404.5,193.7 L404.1,197.6 L404.1,201.5 L404.5,205.1 L405.8,208.5 L407.6,211.6 L409.6,214.2 L411.0,216.0 L411.0,216.0 L409.9,214.0 L408.2,211.3 L406.5,208.1 L405.5,204.9 L405.2,201.5 L405.4,197.7 L405.9,193.9 L406.8,190.2 L407.8,186.6 L409.1,183.0 L410.7,179.7 L412.8,176.6 L415.2,173.6 L418.0,170.7 L421.2,168.4 L425.1,167.2 L431.1,167.3 L438.7,168.6 L446.0,170.1 L451.0,171.1 Z" fill="#438e42"/>
<path d="M446,169 L439,168 L431,166 L425,166 L421,167 L417,170 L414,173 L412,176 L410,179 L408,183 L407,186 L406,190 L405,194 L405,198 L405,202 L405,205 L406,208" stroke="#a8d8a0" stroke-width="0.7" fill="none" opacity="0.55"/>
<path d="M455.3,170.0 L451.5,170.7 L445.9,171.8 L440.1,173.7 L435.4,176.2 L432.5,179.5 L430.7,183.3 L429.3,187.4 L427.4,191.7 L424.7,197.1 L421.6,203.2 L418.8,209.0 L417.0,213.0 L417.0,213.0 L419.3,209.2 L422.4,203.6 L425.7,197.6 L428.6,192.3 L430.6,187.9 L432.2,183.9 L434.0,180.5 L436.6,177.8 L440.9,175.6 L446.5,173.8 L451.9,172.3 L455.6,171.0 Z" fill="#38843a"/>
<path d="M452,171 L446,173 L441,175 L436,177 L433,180 L431,184 L430,188 L428,192 L425,197" stroke="#a8d8a0" stroke-width="0.7" fill="none" opacity="0.55"/>
<path d="M449.2,170.5 L449.3,166.5 L449.4,160.7 L449.2,154.6 L448.8,149.9 L448.2,147.0 L447.3,145.2 L446.4,143.9 L445.4,142.7 L444.3,141.2 L443.1,139.8 L441.9,138.7 L441.0,138.0 L441.0,138.0 L441.6,139.0 L442.5,140.3 L443.6,141.8 L444.6,143.3 L445.4,144.6 L446.1,145.9 L446.7,147.5 L447.2,150.1 L447.5,154.7 L447.7,160.7 L448.0,166.5 L448.3,170.5 Z" fill="#5ea25a"/>
<path d="M449,166 L449,161 L448,155 L448,150 L447,147 L447,146 L446,144 L445,143 L444,141" stroke="#a8d8a0" stroke-width="0.7" fill="none" opacity="0.55"/>
<path d="M458.5,170.1 L454.1,166.2 L447.7,160.7 L440.8,155.2 L435.5,151.3 L432.6,149.4 L430.8,148.6 L429.5,148.4 L428.0,148.4 L425.8,148.5 L423.5,148.9 L421.4,149.5 L420.0,150.0 L420.0,150.0 L421.5,150.0 L423.6,149.7 L425.9,149.5 L428.0,149.6 L429.4,149.8 L430.3,150.0 L431.7,150.8 L434.5,152.7 L439.6,156.7 L446.5,162.2 L453.2,167.4 L457.9,170.9 Z" fill="#5ea25a"/>
<path d="M454,167 L447,161 L440,156 L435,152 L432,150 L431,149 L429,149 L428,149 L426,149" stroke="#a8d8a0" stroke-width="0.7" fill="none" opacity="0.55"/>
<path d="M452.7,170.7 L455.3,166.4 L458.9,160.0 L462.8,153.5 L465.8,148.5 L467.8,145.8 L469.3,144.3 L470.6,143.5 L472.3,142.7 L474.4,141.9 L476.7,141.3 L478.9,141.1 L480.8,141.4 L482.5,142.8 L484.3,145.1 L485.8,147.5 L487.0,149.0 L487.0,149.0 L486.2,147.2 L484.8,144.8 L483.2,142.3 L481.2,140.6 L479.0,139.9 L476.5,140.0 L474.0,140.5 L471.7,141.3 L469.9,142.0 L468.2,143.0 L466.4,144.6 L464.2,147.5 L461.0,152.5 L457.4,159.2 L454.0,165.7 L451.8,170.3 Z" fill="#438e42"/>
<path d="M455,166 L458,160 L462,153 L465,148 L467,145 L469,144 L470,143 L472,142 L474,141 L477,141 L479,140 L481,141 L483,143" stroke="#a8d8a0" stroke-width="0.7" fill="none" opacity="0.55"/>
<path d="M452.2,170.7 L453.7,166.7 L455.6,160.9 L457.2,154.8 L458.1,150.2 L458.1,147.5 L457.3,145.9 L456.4,145.2 L455.6,144.5 L454.8,143.5 L453.8,142.4 L452.8,141.5 L452.0,141.0 L452.0,141.0 L452.3,141.9 L453.0,143.0 L453.7,144.2 L454.4,145.5 L455.1,146.4 L455.7,147.0 L456.0,147.8 L455.9,149.8 L454.8,154.2 L453.2,160.2 L451.8,166.2 L451.0,170.3 Z" fill="#4b954a"/>
<path d="M453,166 L454,161 L456,155 L457,150 L457,148 L457,146 L456,146 L455,145 L454,144" stroke="#a8d8a0" stroke-width="0.7" fill="none" opacity="0.55"/>
<path d="M455.6,171.1 L460.5,168.7 L467.5,165.0 L474.7,161.1 L480.5,158.1 L484.1,156.5 L486.7,155.7 L489.1,155.3 L492.1,154.8 L496.2,154.0 L500.8,153.3 L505.1,152.7 L508.0,152.0 L508.0,152.0 L505.0,152.0 L500.7,152.3 L496.0,152.7 L491.9,153.2 L488.9,153.6 L486.3,153.8 L483.5,154.5 L479.5,155.9 L473.6,158.9 L466.3,162.8 L459.6,167.0 L455.0,169.9 Z" fill="#3a863b"/>
<path d="M460,168 L467,164 L474,160 L480,157 L484,155 L487,155 L489,154 L492,154 L496,153" stroke="#a8d8a0" stroke-width="0.7" fill="none" opacity="0.55"/>
<path d="M454.8,171.1 L460.8,169.2 L469.3,166.3 L478.3,163.4 L485.3,161.2 L489.6,160.3 L492.6,160.3 L495.1,160.6 L497.8,160.9 L501.0,161.4 L504.0,162.0 L506.9,162.7 L509.8,163.6 L512.6,164.7 L515.6,166.1 L518.1,167.3 L520.0,168.0 L520.0,168.0 L518.4,166.8 L515.9,165.3 L513.1,163.7 L510.2,162.4 L507.4,161.3 L504.4,160.4 L501.3,159.6 L498.2,159.1 L495.4,158.5 L492.7,158.1 L489.4,158.0 L484.7,158.8 L477.5,160.9 L468.6,164.2 L460.1,167.5 L454.3,169.9 Z" fill="#4b954a"/>
<path d="M460,168 L469,165 L478,162 L485,160 L489,159 L493,159 L495,160 L498,160 L501,160 L504,161 L507,162 L510,163 L513,164" stroke="#a8d8a0" stroke-width="0.7" fill="none" opacity="0.55"/>
<path d="M450.5,171.2 L458.3,171.6 L469.8,172.0 L481.4,172.4 L489.8,173.1 L493.5,174.4 L494.6,175.8 L495.2,177.9 L496.3,180.4 L498.4,183.2 L500.5,186.3 L502.5,189.1 L504.0,191.0 L504.0,191.0 L503.0,188.8 L501.4,185.7 L499.5,182.4 L497.7,179.6 L496.8,177.4 L496.4,175.0 L494.6,172.6 L490.2,170.9 L481.6,169.9 L469.8,169.5 L458.3,169.6 L450.5,169.8 Z" fill="#2c742e"/>
<path d="M458,171 L470,171 L481,171 L490,172 L494,173 L496,175 L496,178 L497,180 L499,183" stroke="#a8d8a0" stroke-width="0.7" fill="none" opacity="0.55"/>
<path d="M448.4,170.8 L448.6,171.8 L449.1,173.1 L449.2,174.3 L449.0,175.4 L447.4,177.1 L444.9,179.2 L442.0,181.4 L439.5,183.2 L437.6,184.4 L435.9,185.2 L434.2,186.1 L432.5,187.6 L431.1,189.8 L429.7,192.6 L428.6,195.1 L428.0,197.0 L428.0,197.0 L429.1,195.4 L430.4,192.9 L431.9,190.4 L433.5,188.4 L434.9,187.3 L436.5,186.7 L438.4,185.9 L440.5,184.8 L443.1,183.0 L446.2,180.9 L449.0,178.8 L451.0,176.6 L451.7,174.4 L451.1,172.4 L450.2,171.0 L449.5,170.2 Z" fill="#38843a"/>
<path d="M449,171 L450,173 L450,174 L450,176 L448,178 L446,180 L443,182 L440,184 L438,185 L436,186 L435,187 L433,188 L431,190" stroke="#a8d8a0" stroke-width="0.7" fill="none" opacity="0.55"/>
<path d="M454.9,169.9 L449.0,166.8 L440.3,162.4 L431.1,158.0 L423.9,154.8 L419.2,153.3 L415.9,152.6 L413.2,152.6 L410.6,153.2 L408.0,154.4 L405.6,156.2 L403.5,158.6 L401.6,161.5 L399.7,165.3 L398.0,169.9 L396.4,174.5 L395.0,178.2 L393.8,181.1 L392.8,183.5 L391.9,185.4 L391.4,186.8 L391.4,186.8 L392.3,185.6 L393.4,183.8 L394.7,181.5 L396.1,178.7 L397.6,174.9 L399.3,170.4 L401.1,165.9 L403.0,162.3 L404.9,159.7 L406.9,157.6 L409.0,156.2 L411.3,155.3 L413.5,154.8 L415.6,154.9 L418.5,155.6 L422.9,157.2 L430.1,160.1 L439.4,164.3 L448.2,168.4 L454.4,171.1 Z" fill="#2c742e"/>
<path d="M449,168 L440,163 L431,159 L423,156 L419,154 L416,154 L413,154 L411,154 L408,155 L406,157 L404,159 L402,162 L400,166 L399,170 L397,175 L396,178 L394,181" stroke="#a8d8a0" stroke-width="0.7" fill="none" opacity="0.55"/>
<path d="M450.2,169.9 L445.5,168.7 L438.6,167.0 L431.1,165.6 L424.8,165.5 L420.0,167.4 L416.3,170.4 L413.3,173.8 L410.8,176.7 L408.8,179.0 L407.4,181.0 L406.2,183.4 L405.1,186.7 L403.4,191.7 L401.6,197.9 L400.2,204.0 L400.1,208.8 L402.0,211.7 L405.2,213.3 L408.4,214.0 L410.7,214.4 L410.7,214.4 L408.6,213.6 L405.4,212.6 L402.6,211.1 L401.1,208.6 L401.4,204.2 L402.9,198.3 L404.8,192.1 L406.6,187.2 L407.9,184.1 L409.0,182.0 L410.4,180.2 L412.4,178.1 L414.9,175.2 L417.8,172.1 L421.2,169.5 L425.2,168.0 L430.9,167.9 L438.2,168.9 L445.1,170.3 L450.0,171.1 Z" fill="#2c742e"/>
<path d="M445,169 L438,168 L431,167 L425,167 L421,168 L417,171 L414,174 L412,177 L410,180 L408,182 L407,184 L406,187 L404,192 L402,198 L401,204 L401,209 L402,211" stroke="#a8d8a0" stroke-width="0.7" fill="none" opacity="0.55"/>
<path d="M453.6,170.0 L450.5,170.7 L446.1,171.7 L441.4,173.4 L437.2,175.8 L434.2,178.8 L431.6,182.3 L429.2,186.2 L426.2,190.6 L422.0,196.2 L417.1,202.9 L412.6,209.1 L409.7,213.5 L409.7,213.5 L413.0,209.4 L417.7,203.4 L422.8,196.8 L427.1,191.3 L430.2,186.9 L432.8,183.1 L435.3,179.9 L438.2,177.2 L442.1,175.1 L446.7,173.5 L450.9,172.1 L453.8,171.0 Z" fill="#2c742e"/>
<path d="M451,171 L446,173 L442,174 L438,177 L435,179 L432,183 L430,187 L427,191 L422,197" stroke="#a8d8a0" stroke-width="0.7" fill="none" opacity="0.55"/>
<path d="M453.7,170.4 L453.0,166.2 L451.9,160.2 L450.4,154.1 L449.0,149.5 L448.1,147.0 L447.3,145.5 L446.3,144.7 L445.0,144.1 L442.9,143.6 L440.3,143.5 L437.9,143.5 L436.3,143.8 L436.3,143.8 L437.9,144.2 L440.3,144.4 L442.7,144.8 L444.5,145.4 L445.4,146.0 L445.8,146.5 L446.2,147.7 L446.9,150.1 L448.1,154.7 L449.6,160.7 L451.3,166.6 L452.5,170.6 Z" fill="#2c742e"/>
<path d="M452,166 L451,160 L449,154 L448,150 L447,147 L447,146 L446,145 L445,145 L443,144" stroke="#a8d8a0" stroke-width="0.7" fill="none" opacity="0.55"/>
<path d="M447.9,170.2 L446.2,166.1 L443.5,160.3 L440.5,154.4 L437.8,150.1 L436.2,147.8 L434.8,146.6 L433.2,146.2 L430.9,146.3 L426.9,146.9 L421.8,148.1 L417.0,149.4 L413.7,150.5 L413.7,150.5 L417.1,150.0 L422.1,149.1 L427.1,148.2 L431.0,147.8 L433.0,148.0 L433.8,148.3 L434.5,149.1 L435.8,151.3 L438.3,155.6 L441.3,161.4 L444.4,167.0 L446.7,170.8 Z" fill="#38843a"/>
<path d="M445,167 L442,161 L439,155 L437,151 L435,148 L434,147 L433,147 L431,147 L427,148" stroke="#a8d8a0" stroke-width="0.7" fill="none" opacity="0.55"/>
<path d="M459.4,170.7 L461.0,166.7 L463.0,160.8 L465.3,154.7 L467.4,149.7 L469.6,146.4 L472.0,143.7 L474.4,141.5 L476.4,139.8 L477.6,138.3 L478.1,137.4 L478.1,137.2 L479.2,137.7 L481.8,139.7 L485.3,143.0 L488.6,146.2 L491.1,148.4 L491.1,148.4 L489.0,145.9 L485.8,142.4 L482.5,139.0 L479.9,136.8 L478.3,135.9 L477.0,136.3 L476.3,137.3 L475.2,138.5 L473.2,140.1 L470.7,142.2 L467.9,145.0 L465.4,148.7 L463.1,153.8 L461.1,160.2 L459.4,166.2 L458.3,170.3 Z" fill="#5ea25a"/>
<path d="M460,166 L462,160 L464,154 L466,149 L469,146 L471,143 L474,141 L476,139 L477,138 L478,137 L478,137 L480,137 L482,139" stroke="#a8d8a0" stroke-width="0.7" fill="none" opacity="0.55"/>
<path d="M458.0,170.5 L458.6,166.9 L459.2,161.6 L459.6,156.1 L459.6,152.0 L459.3,149.9 L458.6,148.9 L458.1,148.7 L457.5,147.7 L456.4,145.1 L455.1,141.6 L453.8,138.2 L452.7,136.0 L452.7,136.0 L453.2,138.4 L454.2,141.9 L455.2,145.5 L456.1,148.3 L456.7,149.7 L457.3,150.2 L457.3,150.4 L457.4,152.0 L457.2,156.0 L456.8,161.4 L456.7,166.8 L456.7,170.5 Z" fill="#3a863b"/>
<path d="M458,167 L458,161 L458,156 L458,152 L458,150 L458,150 L457,149 L457,148 L456,145" stroke="#a8d8a0" stroke-width="0.7" fill="none" opacity="0.55"/>
<path d="M460.1,170.9 L463.5,168.1 L468.4,163.9 L473.6,159.4 L478.4,156.2 L482.6,154.6 L486.9,154.0 L491.2,153.6 L495.5,152.8 L499.8,151.3 L504.1,149.5 L507.9,147.7 L510.4,146.3 L510.4,146.3 L507.7,147.2 L503.8,148.7 L499.4,150.3 L495.2,151.6 L491.1,152.2 L486.7,152.4 L482.2,152.9 L477.5,154.5 L472.4,157.8 L467.1,162.4 L462.5,166.9 L459.3,170.1 Z" fill="#438e42"/>
<path d="M463,167 L468,163 L473,159 L478,155 L482,154 L487,153 L491,153 L495,152 L500,151" stroke="#a8d8a0" stroke-width="0.7" fill="none" opacity="0.55"/>
<path d="M449.0,171.1 L456.3,168.8 L466.9,165.2 L477.8,161.8 L486.0,159.7 L490.6,159.6 L493.2,160.7 L495.3,162.3 L497.7,163.6 L500.0,164.2 L501.8,164.6 L503.8,165.0 L506.4,165.5 L510.6,166.5 L515.7,167.8 L520.5,168.9 L523.9,169.5 L523.9,169.5 L520.6,168.4 L515.9,167.0 L510.8,165.6 L506.7,164.4 L504.1,163.6 L502.2,163.1 L500.5,162.6 L498.5,162.0 L496.4,160.7 L494.3,158.9 L490.9,157.4 L485.7,157.4 L477.1,159.5 L466.2,163.3 L455.8,167.2 L448.6,169.9 Z" fill="#5ea25a"/>
<path d="M456,168 L467,164 L477,161 L486,159 L491,158 L494,160 L496,161 L498,163 L500,163 L502,164 L504,164 L507,165 L511,166" stroke="#a8d8a0" stroke-width="0.7" fill="none" opacity="0.55"/>
<path d="M457.7,171.1 L464.4,171.1 L474.2,170.8 L484.0,170.6 L490.7,171.1 L492.7,172.4 L492.6,174.6 L492.1,177.8 L493.4,180.8 L497.3,183.0 L502.5,185.0 L507.5,186.6 L511.0,187.6 L511.0,187.6 L507.7,186.1 L502.8,184.2 L497.9,182.0 L494.4,179.8 L493.7,177.6 L494.4,174.8 L494.4,171.5 L491.3,169.0 L484.1,168.3 L474.1,168.5 L464.4,169.3 L457.7,169.9 Z" fill="#2c742e"/>
<path d="M464,170 L474,170 L484,169 L491,170 L494,172 L493,175 L493,178 L494,180 L498,182" stroke="#a8d8a0" stroke-width="0.7" fill="none" opacity="0.55"/>
<path d="M454.4,170.1 L453.2,171.2 L451.5,172.7 L449.6,174.5 L447.8,176.3 L445.7,178.2 L443.3,180.3 L441.0,182.1 L439.2,183.4 L438.2,183.6 L437.2,183.1 L435.7,182.9 L434.5,184.3 L433.6,187.7 L432.7,192.6 L432.0,197.5 L431.7,200.8 L431.7,200.8 L432.5,197.6 L433.4,192.8 L434.5,188.0 L435.5,184.7 L436.2,184.0 L436.7,184.4 L438.0,185.1 L439.9,184.9 L442.1,183.6 L444.5,181.8 L447.0,179.8 L449.2,177.9 L451.2,176.1 L452.9,174.0 L454.3,172.2 L455.3,170.9 Z" fill="#3a863b"/>
<path d="M454,172 L452,173 L450,175 L449,177 L446,179 L444,181 L442,183 L440,184 L438,184 L437,184 L436,183 L435,185 L434,188" stroke="#a8d8a0" stroke-width="0.7" fill="none" opacity="0.55"/>
<path d="M459.4,170.0 L452.8,166.5 L443.0,161.4 L432.8,156.4 L424.5,153.3 L419.0,152.8 L414.9,153.9 L411.9,155.7 L409.3,157.3 L407.1,158.5 L405.4,159.8 L404.1,161.4 L402.7,163.8 L401.5,167.4 L400.4,171.9 L399.2,176.4 L397.9,179.9 L396.0,182.3 L393.6,184.2 L391.4,185.7 L390.0,186.8 L390.0,186.8 L391.6,186.0 L394.0,184.7 L396.5,182.9 L398.7,180.4 L400.2,176.7 L401.5,172.2 L402.7,167.8 L404.0,164.4 L405.3,162.3 L406.5,161.0 L408.0,160.0 L410.2,158.9 L412.8,157.4 L415.6,155.7 L419.1,154.8 L424.0,155.3 L432.0,158.2 L442.3,162.9 L452.1,167.8 L459.0,171.0 Z" fill="#5ea25a"/>
<path d="M452,167 L443,162 L432,157 L424,154 L419,154 L415,155 L412,157 L410,158 L408,159 L406,160 L405,162 L403,164 L402,168 L401,172 L400,177 L398,180 L396,183" stroke="#a8d8a0" stroke-width="0.7" fill="none" opacity="0.55"/>
<path d="M457.8,170.0 L451.8,168.5 L443.0,166.4 L433.7,164.6 L425.8,164.4 L419.8,166.5 L415.0,170.0 L411.2,174.1 L408.4,177.8 L407.1,181.1 L407.2,184.2 L407.7,187.2 L407.6,190.7 L406.6,195.3 L405.0,200.8 L403.7,206.0 L403.3,209.9 L404.4,212.0 L406.5,212.6 L408.5,212.4 L409.8,212.2 L409.8,212.2 L408.5,212.0 L406.5,212.0 L404.9,211.4 L404.2,209.9 L404.7,206.2 L406.1,201.1 L407.8,195.6 L409.0,190.9 L409.1,187.1 L408.7,184.1 L408.7,181.4 L409.9,178.7 L412.6,175.3 L416.2,171.5 L420.8,168.3 L426.1,166.5 L433.5,166.5 L442.7,168.0 L451.5,169.9 L457.6,171.0 Z" fill="#2f7b31"/>
<path d="M452,169 L443,167 L434,166 L426,165 L420,167 L416,171 L412,175 L409,178 L408,181 L408,184 L408,187 L408,191 L407,195 L406,201 L404,206 L404,210 L405,212" stroke="#a8d8a0" stroke-width="0.7" fill="none" opacity="0.55"/>
<path d="M446.8,169.9 L444.5,170.6 L441.1,171.7 L437.5,173.7 L434.4,176.7 L431.9,180.7 L429.8,185.5 L427.8,190.5 L425.9,195.3 L423.9,200.0 L421.9,205.0 L420.2,209.4 L419.2,212.5 L419.2,212.5 L420.9,209.6 L422.9,205.4 L425.1,200.6 L427.3,195.9 L429.4,191.2 L431.6,186.3 L433.8,181.7 L436.1,178.1 L439.0,175.7 L442.3,173.9 L445.3,172.4 L447.3,171.1 Z" fill="#438e42"/>
<path d="M445,171 L442,173 L438,175 L435,177 L433,181 L431,186 L429,191 L427,196 L425,200" stroke="#a8d8a0" stroke-width="0.7" fill="none" opacity="0.55"/>
<path d="M456.6,170.3 L455.5,166.3 L453.6,160.5 L451.4,154.6 L449.6,150.1 L448.3,147.2 L447.4,145.2 L446.5,143.8 L445.5,142.6 L444.1,141.9 L442.8,141.6 L441.6,141.7 L440.9,142.0 L440.9,142.0 L441.6,142.4 L442.6,142.6 L443.6,143.0 L444.4,143.7 L445.1,144.7 L445.7,146.1 L446.4,148.0 L447.5,150.9 L449.2,155.5 L451.3,161.4 L453.7,166.9 L455.4,170.7 Z" fill="#3a863b"/>
<path d="M455,167 L452,161 L450,155 L449,150 L447,148 L447,146 L446,144 L445,143 L444,142" stroke="#a8d8a0" stroke-width="0.7" fill="none" opacity="0.55"/>
<path d="M449.0,170.2 L446.8,166.3 L443.6,160.7 L440.0,155.0 L437.2,150.7 L435.6,148.2 L434.6,146.5 L433.4,145.4 L431.5,145.0 L428.6,145.5 L425.2,146.7 L421.9,148.2 L419.8,149.3 L419.8,149.3 L422.1,148.7 L425.5,147.5 L428.9,146.4 L431.5,146.2 L432.7,146.6 L433.3,147.4 L434.1,149.0 L435.7,151.7 L438.4,156.0 L442.0,161.7 L445.5,167.1 L448.1,170.8 Z" fill="#5ea25a"/>
<path d="M446,167 L443,161 L439,156 L436,151 L435,149 L434,147 L433,146 L431,146 L429,146" stroke="#a8d8a0" stroke-width="0.7" fill="none" opacity="0.55"/>
<path d="M457.4,170.7 L458.9,166.1 L461.0,159.5 L463.2,152.7 L464.9,147.7 L466.0,145.4 L466.7,144.6 L467.7,144.2 L469.5,143.2 L472.5,141.3 L476.2,139.1 L479.7,137.4 L481.8,136.8 L482.3,137.7 L482.3,140.2 L481.9,143.1 L481.8,145.2 L481.8,145.2 L482.4,143.2 L483.1,140.3 L483.3,137.5 L482.1,135.6 L479.2,136.1 L475.5,137.8 L471.6,139.9 L468.6,141.6 L466.8,142.4 L465.5,142.9 L464.1,144.2 L462.7,146.8 L460.9,151.9 L459.0,158.9 L457.3,165.7 L456.2,170.3 Z" fill="#5ea25a"/>
<path d="M458,166 L460,159 L462,152 L464,147 L465,145 L466,144 L467,143 L469,142 L472,141 L476,138 L479,137 L482,136 L483,138" stroke="#a8d8a0" stroke-width="0.7" fill="none" opacity="0.55"/>
<path d="M461.4,170.4 L460.9,166.3 L460.2,160.4 L459.0,154.4 L457.8,149.9 L456.4,147.5 L454.8,146.4 L453.8,146.2 L453.6,146.3 L453.8,145.7 L454.8,144.8 L456.0,143.9 L456.7,143.1 L456.7,143.1 L455.7,143.4 L454.3,144.0 L452.9,144.9 L452.2,146.2 L452.9,147.5 L453.9,148.0 L454.8,148.7 L455.8,150.6 L456.7,154.9 L457.9,160.8 L459.1,166.6 L460.2,170.6 Z" fill="#2c742e"/>
<path d="M460,166 L459,161 L458,155 L457,150 L456,148 L454,147 L453,147 L453,146 L453,145" stroke="#a8d8a0" stroke-width="0.7" fill="none" opacity="0.55"/>
<path d="M445.7,171.1 L452.6,168.6 L462.5,164.8 L472.6,160.8 L480.0,158.0 L483.4,157.0 L484.4,157.1 L485.4,157.4 L487.6,157.0 L491.8,155.5 L497.0,153.3 L502.0,151.2 L505.3,149.5 L505.3,149.5 L501.7,150.6 L496.7,152.4 L491.4,154.3 L487.3,155.6 L485.4,155.8 L484.8,155.3 L483.1,155.1 L479.4,155.9 L471.8,158.7 L461.7,162.7 L451.9,166.9 L445.2,169.9 Z" fill="#38843a"/>
<path d="M452,168 L462,164 L472,160 L480,157 L483,156 L485,156 L485,157 L487,156 L492,155" stroke="#a8d8a0" stroke-width="0.7" fill="none" opacity="0.55"/>
<path d="M455.7,171.1 L461.4,169.1 L469.8,166.2 L478.5,163.2 L485.6,161.1 L490.5,160.3 L494.4,160.5 L497.8,160.9 L500.9,161.0 L503.4,160.5 L504.9,159.7 L506.2,159.2 L507.9,159.4 L511.0,160.7 L514.7,162.8 L518.3,164.9 L520.8,166.3 L520.8,166.3 L518.6,164.5 L515.1,162.1 L511.4,159.8 L508.3,158.3 L506.1,157.9 L504.4,158.3 L502.9,158.9 L500.8,159.3 L498.0,159.0 L494.6,158.5 L490.4,158.3 L485.1,158.9 L477.8,161.0 L469.1,164.3 L460.9,167.6 L455.2,169.9 Z" fill="#38843a"/>
<path d="M461,168 L469,165 L478,162 L485,160 L490,159 L495,159 L498,160 L501,160 L503,160 L505,159 L506,159 L508,159 L511,160" stroke="#a8d8a0" stroke-width="0.7" fill="none" opacity="0.55"/>
<path d="M454.1,171.2 L461.2,171.2 L471.5,171.1 L481.9,170.9 L489.1,171.2 L491.6,171.9 L491.7,172.5 L491.3,174.5 L491.6,177.4 L493.1,181.6 L494.9,186.8 L496.5,191.8 L497.9,195.2 L497.9,195.2 L497.2,191.6 L495.8,186.5 L494.3,181.2 L493.1,177.1 L493.0,174.6 L493.6,172.5 L492.8,170.2 L489.4,168.9 L481.9,168.4 L471.4,168.6 L461.1,169.3 L454.0,169.8 Z" fill="#438e42"/>
<path d="M461,170 L471,170 L482,170 L489,170 L492,171 L493,172 L492,175 L492,177 L494,181" stroke="#a8d8a0" stroke-width="0.7" fill="none" opacity="0.55"/>
<path d="M454.3,170.1 L453.2,171.1 L451.6,172.7 L449.9,174.3 L448.3,175.8 L446.5,177.1 L444.5,178.2 L442.5,179.3 L440.6,180.5 L439.1,181.6 L437.6,182.6 L436.4,183.7 L435.5,185.2 L435.2,187.1 L435.3,189.2 L435.6,191.1 L436.0,192.4 L436.0,192.4 L436.1,191.1 L436.0,189.2 L436.1,187.2 L436.5,185.6 L437.3,184.6 L438.5,183.7 L439.9,182.9 L441.5,181.9 L443.3,180.9 L445.4,179.9 L447.6,178.8 L449.6,177.5 L451.5,175.9 L453.1,173.9 L454.3,172.2 L455.2,170.9 Z" fill="#438e42"/>
<path d="M454,172 L452,173 L451,175 L449,177 L447,178 L445,179 L443,180 L441,181 L439,182 L438,183 L437,184 L436,185 L436,187" stroke="#a8d8a0" stroke-width="0.7" fill="none" opacity="0.55"/>
<path d="M458.4,170.3 L458.1,167.4 L457.0,163.3 L455.5,159.4 L453.9,156.8 L451.5,157.1 L450.1,159.0 L449.1,161.3 L448.7,162.9 L448.7,162.9 L449.9,161.7 L451.2,159.8 L452.5,158.4 L452.6,158.3 L453.4,160.3 L454.6,164.1 L455.9,168.1 L457.2,170.7 Z" fill="#5ea25a"/>
<path d="M457,168 L456,164 L454,160 L453,158 L452,158" stroke="#a8d8a0" stroke-width="0.7" fill="none" opacity="0.55"/>
<path d="M453.3,170.6 L454.0,167.9 L454.6,163.9 L454.9,160.1 L455.1,158.0 L453.8,158.1 L454.4,159.4 L455.0,161.2 L455.7,162.4 L455.7,162.4 L455.9,161.1 L455.7,159.1 L455.3,157.3 L453.2,157.2 L452.6,159.7 L452.0,163.6 L451.7,167.7 L451.9,170.4 Z" fill="#2f7b31"/>
<path d="M453,168 L453,164 L454,160 L454,158 L455,158" stroke="#a8d8a0" stroke-width="0.7" fill="none" opacity="0.55"/>
<path d="M458.0,170.1 L456.0,167.4 L452.8,163.7 L449.0,160.2 L445.1,158.3 L441.3,158.8 L437.5,160.8 L434.4,163.1 L432.3,164.8 L432.3,164.8 L434.8,163.7 L438.1,161.7 L441.7,160.2 L444.7,159.9 L447.8,161.8 L451.2,165.2 L454.5,168.7 L457.1,170.9 Z" fill="#2f7b31"/>
<path d="M455,168 L452,164 L448,161 L445,159 L441,159" stroke="#a8d8a0" stroke-width="0.7" fill="none" opacity="0.55"/>
<path d="M459.7,170.7 L461.2,168.0 L462.7,163.9 L464.2,159.9 L465.4,157.5 L466.2,157.3 L467.6,158.0 L469.2,159.3 L470.4,159.9 L470.4,159.9 L469.7,158.7 L468.3,157.1 L466.5,155.8 L464.2,156.2 L462.3,159.0 L460.5,163.1 L459.2,167.3 L458.6,170.3 Z" fill="#2f7b31"/>
<path d="M460,168 L462,163 L463,159 L465,157 L466,157" stroke="#a8d8a0" stroke-width="0.7" fill="none" opacity="0.55"/>
<path d="M450.2,170.4 L449.9,167.7 L449.0,163.8 L447.8,160.1 L446.5,157.7 L444.4,158.0 L443.4,159.9 L442.5,162.0 L442.2,163.5 L442.2,163.5 L443.2,162.3 L444.3,160.4 L445.4,159.1 L445.3,158.9 L446.0,160.8 L447.0,164.4 L448.0,168.1 L449.1,170.6 Z" fill="#4b954a"/>
<path d="M449,168 L448,164 L447,160 L446,158 L445,159" stroke="#a8d8a0" stroke-width="0.7" fill="none" opacity="0.55"/>
<path d="M452.6,170.2 L450.9,167.5 L448.2,163.7 L444.9,160.1 L441.6,158.0 L438.2,158.4 L435.0,160.3 L432.3,162.6 L430.5,164.2 L430.5,164.2 L432.7,163.1 L435.5,161.1 L438.6,159.6 L441.2,159.4 L443.8,161.3 L446.8,164.8 L449.6,168.5 L451.8,170.8 Z" fill="#3a863b"/>
<path d="M450,168 L447,164 L444,161 L441,159 L438,159" stroke="#a8d8a0" stroke-width="0.7" fill="none" opacity="0.55"/>
<path d="M458.2,170.8 L459.9,168.5 L461.9,164.9 L463.9,161.4 L465.6,159.2 L467.1,158.8 L469.0,159.3 L471.0,160.2 L472.6,160.6 L472.6,160.6 L471.4,159.5 L469.6,158.2 L467.2,157.2 L464.6,157.6 L462.1,160.1 L459.8,163.7 L458.0,167.5 L457.0,170.2 Z" fill="#3a863b"/>
<path d="M459,168 L461,164 L463,161 L465,158 L467,158" stroke="#a8d8a0" stroke-width="0.7" fill="none" opacity="0.55"/>
<path d="M453.2,170.3 L452.6,167.4 L451.2,163.4 L449.5,159.5 L447.6,156.9 L445.3,157.0 L443.6,158.8 L442.3,160.8 L441.6,162.3 L441.6,162.3 L442.9,161.3 L444.5,159.6 L445.9,158.3 L446.6,158.3 L447.7,160.4 L449.1,164.2 L450.7,168.1 L452.0,170.7 Z" fill="#4b954a"/>
<path d="M452,168 L450,164 L449,160 L447,158 L446,158" stroke="#a8d8a0" stroke-width="0.7" fill="none" opacity="0.55"/>
<path d="M459.0,170.8 L461.2,168.5 L463.9,164.9 L466.7,161.3 L469.2,159.3 L471.6,159.4 L474.5,160.7 L477.2,162.4 L479.3,163.4 L479.3,163.4 L477.6,161.8 L475.0,159.8 L471.9,158.1 L468.7,157.8 L465.5,160.0 L462.3,163.6 L459.7,167.4 L458.2,170.2 Z" fill="#438e42"/>
<path d="M460,168 L463,164 L466,161 L469,159 L472,159" stroke="#a8d8a0" stroke-width="0.7" fill="none" opacity="0.55"/>
<path d="M456.9,170.4 L456.6,167.0 L455.6,162.1 L454.4,157.4 L453.1,154.4 L451.1,154.3 L449.9,156.2 L449.0,158.5 L448.6,160.1 L448.6,160.1 L449.6,158.8 L450.7,156.7 L451.8,155.3 L451.9,155.2 L452.8,157.9 L453.8,162.5 L454.9,167.4 L455.9,170.6 Z" fill="#438e42"/>
<path d="M456,167 L455,162 L454,158 L453,155 L451,155" stroke="#a8d8a0" stroke-width="0.7" fill="none" opacity="0.55"/>
<path d="M595,22 C586,38 588,60 596,80 C600,95 602,105 604,118 C607,100 612,85 615,70 C621,55 623,35 613,21 Z" fill="#6c6458" opacity="0.35"/>
<path d="M631,24 C626,35 628,50 633,62 C637,72 640,82 645,93 C645,80 648,65 650,50 C652,38 648,26 642,22 Z" fill="#6e6048" opacity="0.35"/>
<path d="M603.0,20.0 C604.9,22.7 612.7,31.9 614.1,35.9 C615.5,40.0 612.8,41.2 611.2,44.3 C609.6,47.4 604.6,51.9 604.6,54.3 C604.5,56.6 610.1,51.9 610.6,58.3 C611.1,64.7 608.2,90.2 607.6,92.8 C606.9,95.3 607.0,76.8 606.8,73.6" stroke="#dcd6c8" stroke-width="0.5" fill="none" opacity="0.85"/>
<path d="M604.3,20.0 C601.8,22.0 587.6,28.4 589.4,32.3 C591.2,36.2 613.2,38.8 614.9,43.5 C616.7,48.1 601.9,54.1 599.7,60.2 C597.4,66.3 600.8,73.5 601.3,79.9 C601.8,86.2 601.5,99.3 602.6,98.3 C603.8,97.2 607.3,77.5 608.2,73.3" stroke="#dcd6c8" stroke-width="0.5" fill="none" opacity="0.85"/>
<path d="M603.0,20.0 C601.1,22.4 589.4,30.4 591.2,34.6 C593.1,38.9 612.6,41.4 614.2,45.5 C615.7,49.6 601.1,53.9 600.4,59.4 C599.8,64.8 609.2,73.7 610.0,78.0 C610.9,82.3 606.9,83.9 605.7,85.1 C604.6,86.4 603.6,85.4 603.2,85.5" stroke="#dcd6c8" stroke-width="0.5" fill="none" opacity="0.85"/>
<path d="M605.9,20.0 C603.9,21.4 592.9,24.9 593.9,28.3 C595.0,31.6 611.9,36.6 612.3,40.2 C612.7,43.8 598.7,43.4 596.3,49.7 C593.8,56.1 596.7,69.6 597.9,78.3 C599.0,86.9 601.9,95.6 603.4,101.6 C604.9,107.5 606.3,111.9 606.8,114.0" stroke="#dcd6c8" stroke-width="0.5" fill="none" opacity="0.85"/>
<path d="M605.1,20.0 C603.4,21.9 594.0,28.8 594.8,31.7 C595.6,34.5 609.0,32.8 609.7,37.3 C610.5,41.8 601.3,51.4 599.4,58.6 C597.5,65.8 598.5,77.0 598.4,80.5 C598.2,84.0 596.8,78.5 598.3,79.6 C599.8,80.7 605.9,85.6 607.4,86.8" stroke="#dcd6c8" stroke-width="0.5" fill="none" opacity="0.85"/>
<path d="M602.6,20.0 C603.6,21.7 606.7,26.7 608.8,30.2 C610.8,33.7 614.3,38.4 615.0,41.1 C615.6,43.8 613.5,40.8 612.6,46.2 C611.8,51.7 612.4,68.6 610.0,73.5 C607.6,78.5 598.9,75.1 598.1,75.9 C597.3,76.6 604.0,77.7 605.1,78.0" stroke="#dcd6c8" stroke-width="0.5" fill="none" opacity="0.85"/>
<path d="M602.4,20.0 C604.8,22.5 614.7,29.6 616.5,34.7 C618.4,39.8 614.2,46.7 613.5,50.6 C612.9,54.6 614.2,54.3 612.8,58.5 C611.4,62.7 607.6,72.6 605.1,76.0 C602.5,79.4 598.0,79.2 597.5,78.8 C596.9,78.5 601.1,74.7 601.8,73.9" stroke="#dcd6c8" stroke-width="0.5" fill="none" opacity="0.85"/>
<path d="M602.5,20.0 C603.2,22.7 604.4,31.5 606.5,36.3 C608.6,41.0 614.0,46.4 615.1,48.7 C616.2,51.1 615.6,44.4 613.0,50.3 C610.5,56.3 600.5,81.9 599.7,84.6 C598.9,87.3 607.0,61.6 608.1,66.4 C609.3,71.2 606.9,105.7 606.6,113.5" stroke="#dcd6c8" stroke-width="0.5" fill="none" opacity="0.85"/>
<path d="M604.4,20.0 C602.9,21.5 594.1,25.3 595.2,29.2 C596.3,33.1 607.8,40.5 610.9,43.4 C614.1,46.4 613.7,45.2 614.0,46.9 C614.3,48.7 613.7,50.0 612.7,54.0 C611.8,58.0 609.2,61.7 608.4,71.0 C607.6,80.4 608.1,103.5 608.0,110.0" stroke="#dcd6c8" stroke-width="0.5" fill="none" opacity="0.85"/>
<path d="M604.8,20.0 C606.5,21.8 613.4,27.6 615.0,30.7 C616.7,33.7 618.4,33.5 614.9,38.3 C611.3,43.1 596.1,51.8 593.7,59.4 C591.4,67.0 599.4,83.3 600.6,84.1 C601.7,84.8 600.4,66.3 600.7,64.1 C600.9,61.9 601.8,69.7 602.1,70.9" stroke="#dcd6c8" stroke-width="0.5" fill="none" opacity="0.85"/>
<path d="M606.0,20.0 C607.6,22.2 615.0,28.4 615.7,33.5 C616.4,38.5 613.0,46.6 610.1,50.1 C607.1,53.5 599.1,52.9 598.2,54.3 C597.3,55.6 603.4,55.6 604.9,58.1 C606.4,60.7 607.3,65.1 607.3,69.7 C607.3,74.2 605.1,82.7 604.7,85.4" stroke="#dcd6c8" stroke-width="0.5" fill="none" opacity="0.85"/>
<path d="M604.5,20.0 C603.1,21.6 597.4,24.9 595.9,29.5 C594.5,34.2 592.7,42.6 595.9,47.9 C599.0,53.2 612.1,58.4 614.9,61.4 C617.7,64.4 613.4,61.6 612.6,65.8 C611.8,70.0 611.2,81.6 610.1,86.6 C609.0,91.5 606.9,94.1 606.2,95.5" stroke="#dcd6c8" stroke-width="0.5" fill="none" opacity="0.85"/>
<path d="M602.8,20.0 C603.4,22.1 605.7,28.5 606.7,32.5 C607.6,36.5 607.8,38.4 608.5,44.2 C609.2,49.9 612.8,61.3 610.9,67.3 C609.1,73.2 598.2,76.0 597.4,79.8 C596.5,83.6 605.4,84.2 605.7,90.3 C606.1,96.3 600.6,111.7 599.6,115.9" stroke="#dcd6c8" stroke-width="0.5" fill="none" opacity="0.85"/>
<path d="M605.9,20.0 C606.7,21.9 611.6,26.9 610.8,31.3 C610.0,35.7 602.0,42.2 601.1,46.3 C600.2,50.3 604.9,49.1 605.5,55.6 C606.0,62.1 605.3,79.1 604.6,85.5 C603.9,91.9 601.3,90.6 601.3,93.8 C601.4,97.0 604.3,102.9 604.9,104.7" stroke="#dcd6c8" stroke-width="0.5" fill="none" opacity="0.85"/>
<path d="M605.5,20.0 C607.8,21.5 620.9,24.5 619.5,28.9 C618.1,33.3 601.4,42.0 597.2,46.6 C593.1,51.1 592.4,53.9 594.6,56.2 C596.7,58.6 607.9,54.9 610.3,60.6 C612.7,66.4 610.6,87.8 609.0,90.6 C607.4,93.4 601.9,79.7 600.5,77.5" stroke="#dcd6c8" stroke-width="0.5" fill="none" opacity="0.85"/>
<path d="M604.0,20.0 C602.9,22.4 596.9,29.3 597.3,34.1 C597.7,38.9 604.1,45.7 606.4,48.7 C608.6,51.6 610.9,50.8 610.7,51.9 C610.6,53.0 607.9,52.6 605.7,55.4 C603.5,58.3 598.0,62.7 597.7,69.0 C597.5,75.3 603.1,89.1 604.2,93.2" stroke="#dcd6c8" stroke-width="0.5" fill="none" opacity="0.85"/>
<path d="M603.5,20.0 C605.2,22.7 615.7,32.7 613.4,35.9 C611.2,39.1 591.9,33.6 590.0,39.0 C588.1,44.5 600.6,65.6 601.9,68.5 C603.3,71.4 598.4,52.9 598.0,56.5 C597.6,60.1 598.3,84.9 599.6,90.1 C600.8,95.4 604.6,88.3 605.6,88.0" stroke="#dcd6c8" stroke-width="0.5" fill="none" opacity="0.85"/>
<path d="M604.6,20.0 C606.1,22.7 613.2,31.6 613.7,36.1 C614.2,40.6 608.6,44.1 607.6,46.9 C606.5,49.6 607.6,47.8 607.3,52.4 C607.0,57.0 605.6,69.6 605.6,74.4 C605.6,79.3 607.4,80.6 607.4,81.5 C607.5,82.4 606.2,79.9 605.9,79.6" stroke="#dcd6c8" stroke-width="0.5" fill="none" opacity="0.85"/>
<path d="M602.1,20.0 C605.1,21.7 618.3,27.4 620.1,30.3 C621.9,33.3 617.4,33.1 613.0,37.9 C608.6,42.7 596.9,53.1 593.9,59.1 C590.9,65.1 593.6,67.6 594.9,73.8 C596.1,80.0 599.2,89.4 601.3,96.3 C603.4,103.2 606.5,112.1 607.5,115.2" stroke="#dcd6c8" stroke-width="0.5" fill="none" opacity="0.85"/>
<path d="M603.6,20.0 C605.1,21.6 614.5,26.5 612.5,29.5 C610.6,32.5 592.0,35.1 591.9,38.1 C591.9,41.1 610.9,43.8 612.4,47.6 C613.9,51.5 602.0,55.8 600.7,61.2 C599.4,66.5 603.5,74.9 604.7,79.7 C605.9,84.5 607.4,88.2 608.0,90.0" stroke="#dcd6c8" stroke-width="0.5" fill="none" opacity="0.85"/>
<path d="M603.9,20.0 C602.5,22.6 593.9,32.1 595.5,35.4 C597.1,38.6 610.6,36.5 613.5,39.4 C616.5,42.2 615.2,45.8 613.2,52.6 C611.2,59.4 604.1,76.4 601.6,80.1 C599.2,83.9 598.2,69.5 598.5,75.0 C598.8,80.4 602.7,106.4 603.5,112.7" stroke="#dcd6c8" stroke-width="0.5" fill="none" opacity="0.85"/>
<path d="M602.7,20.0 C605.0,21.7 615.9,27.0 616.4,30.1 C616.9,33.2 607.5,33.6 605.5,38.7 C603.6,43.7 605.1,55.1 604.5,60.2 C603.9,65.4 601.4,68.1 602.1,69.6 C602.8,71.1 608.0,61.8 608.4,69.2 C608.8,76.5 605.2,106.4 604.6,113.9" stroke="#dcd6c8" stroke-width="0.5" fill="none" opacity="0.85"/>
<path d="M605.6,20.0 C603.6,21.7 591.8,25.4 593.1,29.9 C594.4,34.4 613.1,42.0 613.4,46.8 C613.7,51.7 597.5,52.5 594.9,58.9 C592.2,65.3 595.0,82.6 597.6,85.3 C600.3,88.1 609.3,71.5 610.7,75.4 C612.1,79.3 607.0,103.2 606.3,108.7" stroke="#dcd6c8" stroke-width="0.5" fill="none" opacity="0.85"/>
<path d="M605.4,20.0 C602.5,21.9 586.0,26.6 587.8,31.6 C589.6,36.5 613.6,47.1 616.2,49.5 C618.7,51.9 605.5,40.4 602.9,45.9 C600.4,51.5 600.1,78.1 600.9,82.7 C601.7,87.4 606.6,72.3 607.8,73.7 C609.1,75.2 608.3,88.4 608.4,91.3" stroke="#dcd6c8" stroke-width="0.5" fill="none" opacity="0.85"/>
<path d="M605.4,20.0 C603.5,22.3 593.8,29.4 593.9,34.1 C594.0,38.7 604.3,44.1 606.2,47.8 C608.2,51.6 606.9,54.2 605.6,56.7 C604.3,59.2 599.0,56.0 598.4,63.1 C597.8,70.1 600.5,96.9 602.2,98.9 C603.8,100.8 607.2,78.8 608.2,74.7" stroke="#dcd6c8" stroke-width="0.5" fill="none" opacity="0.85"/>
<path d="M604.7,20.0 C602.6,21.8 590.9,27.4 592.4,31.0 C593.8,34.7 609.9,38.6 613.4,42.0 C617.0,45.4 614.0,48.0 613.7,51.5 C613.3,55.0 613.1,60.2 611.4,63.0 C609.6,65.9 605.0,66.5 603.2,68.6 C601.5,70.8 601.3,74.7 600.9,75.9" stroke="#dcd6c8" stroke-width="0.5" fill="none" opacity="0.85"/>
<path d="M603.5,20.0 C602.0,22.1 595.4,29.1 594.6,32.7 C593.9,36.3 599.0,35.9 599.0,41.6 C598.9,47.3 592.2,62.8 594.2,67.0 C596.1,71.2 609.5,63.8 610.6,66.7 C611.7,69.7 602.3,76.2 600.6,84.9 C599.0,93.5 600.6,113.2 600.5,118.9" stroke="#dcd6c8" stroke-width="0.5" fill="none" opacity="0.85"/>
<path d="M602.1,20.0 C604.4,22.0 616.6,28.3 615.9,31.9 C615.2,35.4 601.6,35.7 597.9,41.2 C594.3,46.6 592.6,62.4 594.1,64.5 C595.6,66.6 605.3,53.5 607.0,53.6 C608.7,53.6 604.7,61.0 604.4,64.9 C604.0,68.7 604.8,74.7 604.9,76.7" stroke="#dcd6c8" stroke-width="0.5" fill="none" opacity="0.85"/>
<path d="M603.8,20.0 C604.5,21.8 610.1,25.8 608.1,30.5 C606.0,35.2 592.6,44.7 591.5,48.1 C590.3,51.4 599.7,47.1 601.1,50.7 C602.5,54.3 599.9,63.4 599.8,69.7 C599.7,76.0 600.2,81.0 600.6,88.4 C601.1,95.8 602.3,110.0 602.7,114.3" stroke="#dcd6c8" stroke-width="0.5" fill="none" opacity="0.85"/>
<path d="M602.3,20.0 C601.0,21.5 594.7,24.1 594.6,29.3 C594.5,34.5 598.3,46.7 601.6,51.1 C605.0,55.5 613.6,50.1 614.8,55.7 C616.0,61.4 611.1,82.3 608.9,84.9 C606.7,87.5 602.8,69.6 601.6,71.2 C600.5,72.8 601.8,90.6 601.9,94.5" stroke="#dcd6c8" stroke-width="0.5" fill="none" opacity="0.85"/>
<path d="M602.9,20.0 C604.3,21.4 611.5,24.7 611.4,28.3 C611.4,31.8 603.5,37.9 602.6,41.4 C601.8,44.9 607.5,45.5 606.4,49.4 C605.3,53.4 596.4,59.6 596.0,64.9 C595.5,70.3 601.6,80.0 603.5,81.4 C605.5,82.9 607.1,75.0 607.8,73.7" stroke="#b8a480" stroke-width="0.55" fill="none" opacity="0.85"/>
<path d="M603.4,20.0 C603.2,21.1 602.6,23.6 602.1,26.8 C601.7,30.0 600.2,36.7 600.8,39.2 C601.4,41.7 604.4,39.6 605.6,42.0 C606.9,44.3 609.1,48.6 608.4,53.5 C607.7,58.3 602.2,64.4 601.4,71.0 C600.6,77.5 603.2,89.4 603.6,93.0" stroke="#b8a480" stroke-width="0.55" fill="none" opacity="0.85"/>
<path d="M603.1,20.0 C602.9,21.2 599.9,22.8 601.9,27.0 C603.9,31.3 616.1,41.1 615.2,45.4 C614.3,49.8 599.4,51.8 596.7,53.0 C594.0,54.3 597.5,50.9 599.0,53.1 C600.5,55.2 604.9,64.5 605.7,65.8 C606.6,67.1 604.2,61.7 603.9,60.9" stroke="#b8a480" stroke-width="0.55" fill="none" opacity="0.85"/>
<path d="M604.6,20.0 C604.0,22.0 602.0,28.6 600.9,32.2 C599.9,35.7 597.2,38.6 598.2,41.4 C599.2,44.2 605.8,48.0 606.9,49.1 C607.9,50.2 605.4,44.6 604.2,48.1 C603.1,51.6 599.6,66.4 600.0,70.1 C600.4,73.7 605.6,70.0 606.7,70.0" stroke="#b8a480" stroke-width="0.55" fill="none" opacity="0.85"/>
<path d="M602.8,20.0 C603.1,21.4 605.1,25.5 604.6,28.6 C604.2,31.7 601.3,35.7 600.2,38.7 C599.1,41.6 597.1,42.9 598.0,46.5 C598.9,50.0 604.5,58.5 605.7,60.1 C606.9,61.8 604.8,54.3 605.1,56.3 C605.5,58.3 607.5,69.6 608.0,72.3" stroke="#b8a480" stroke-width="0.55" fill="none" opacity="0.85"/>
<path d="M602.5,20.0 C602.0,21.9 597.6,28.8 599.4,31.3 C601.2,33.8 611.8,30.3 613.6,34.8 C615.3,39.3 610.3,53.4 610.1,58.2 C609.8,63.0 612.7,61.4 612.1,63.6 C611.4,65.9 607.1,68.1 606.2,71.9 C605.4,75.6 606.8,83.7 607.0,86.1" stroke="#b8a480" stroke-width="0.55" fill="none" opacity="0.85"/>
<path d="M603.2,20.0 C603.6,21.3 605.9,24.5 605.4,28.1 C604.9,31.6 599.3,36.3 600.3,41.2 C601.3,46.1 610.7,53.2 611.4,57.2 C612.1,61.2 606.5,61.8 604.6,65.0 C602.7,68.2 600.8,72.0 600.2,76.5 C599.6,81.1 600.8,89.7 600.9,92.3" stroke="#b8a480" stroke-width="0.55" fill="none" opacity="0.85"/>
<path d="M604.5,20.0 C602.9,21.4 595.0,25.0 594.8,28.5 C594.6,32.1 603.0,37.1 603.1,41.3 C603.2,45.6 595.5,49.2 595.5,53.9 C595.5,58.7 600.9,67.7 602.8,70.0 C604.7,72.4 606.9,65.6 607.0,68.0 C607.1,70.4 604.1,81.5 603.5,84.3" stroke="#b8a480" stroke-width="0.55" fill="none" opacity="0.85"/>
<path d="M603.9,20.0 C602.7,21.1 598.3,22.8 596.7,26.9 C595.2,30.9 591.9,41.9 594.3,44.3 C596.8,46.8 609.7,39.7 611.4,41.7 C613.1,43.8 605.3,51.4 604.5,56.6 C603.7,61.8 606.5,70.2 606.7,72.9 C607.0,75.6 606.3,72.8 606.2,72.7" stroke="#b8a480" stroke-width="0.55" fill="none" opacity="0.85"/>
<path d="M605.4,20.0 C605.8,21.5 606.9,25.8 607.7,28.7 C608.5,31.6 610.6,34.2 610.3,37.4 C610.1,40.5 606.3,44.6 606.2,47.5 C606.0,50.5 610.6,49.9 609.6,55.2 C608.6,60.5 600.6,73.4 600.2,79.2 C599.9,85.1 606.4,88.4 607.7,90.3" stroke="#b8a480" stroke-width="0.55" fill="none" opacity="0.85"/>
<path d="M602.8,20.0 C605.3,22.1 616.4,30.4 617.8,32.9 C619.1,35.4 614.1,30.8 611.0,35.1 C607.9,39.4 600.7,53.2 599.0,58.6 C597.3,64.0 599.7,64.0 600.6,67.5 C601.4,71.0 604.1,77.7 604.1,79.6 C604.2,81.5 601.4,79.0 600.9,78.9" stroke="#b8a480" stroke-width="0.55" fill="none" opacity="0.85"/>
<path d="M604.8,20.0 C602.4,21.4 591.6,26.2 590.5,28.6 C589.3,31.0 594.8,29.3 597.9,34.5 C601.0,39.8 607.4,53.9 609.2,59.9 C610.9,65.9 609.3,70.9 608.2,70.6 C607.1,70.2 602.8,53.2 602.6,57.8 C602.3,62.4 606.2,91.3 606.9,98.0" stroke="#b8a480" stroke-width="0.55" fill="none" opacity="0.85"/>
<path d="M605.3,20.0 C606.4,21.9 612.3,27.2 611.8,31.4 C611.3,35.7 604.2,44.0 602.2,45.5 C600.2,47.1 600.4,40.4 600.0,40.7 C599.7,40.9 600.0,41.6 600.2,47.0 C600.4,52.4 601.1,69.2 601.2,73.0 C601.3,76.8 600.7,70.4 600.6,69.9" stroke="#b8a480" stroke-width="0.55" fill="none" opacity="0.85"/>
<path d="M604.1,20.0 C606.2,21.8 618.2,28.2 617.2,30.6 C616.1,33.0 598.5,32.5 597.8,34.3 C597.1,36.1 611.6,36.7 613.1,41.5 C614.6,46.4 609.2,57.0 606.6,63.5 C604.1,70.0 598.4,75.0 597.7,80.5 C597.1,85.9 601.8,93.5 602.6,96.1" stroke="#b8a480" stroke-width="0.55" fill="none" opacity="0.85"/>
<path d="M603.6,20.0 C602.7,21.9 599.1,28.8 598.1,31.6 C597.1,34.5 596.8,33.2 597.6,37.0 C598.5,40.8 602.4,52.2 603.1,54.5 C603.7,56.8 601.7,47.8 601.6,50.8 C601.4,53.8 601.5,66.8 602.4,72.3 C603.3,77.7 606.1,81.8 606.8,83.7" stroke="#b8a480" stroke-width="0.55" fill="none" opacity="0.85"/>
<path d="M605.2,20.0 C606.8,21.4 615.1,24.4 615.0,28.7 C614.9,33.0 608.0,43.9 604.8,45.9 C601.5,47.8 594.3,37.0 595.2,40.5 C596.2,44.0 608.7,60.7 610.2,66.9 C611.7,73.0 605.7,75.0 604.1,77.5 C602.5,79.9 601.4,80.9 600.8,81.6" stroke="#b8a480" stroke-width="0.55" fill="none" opacity="0.85"/>
<path d="M606.0,20.0 C606.2,21.3 607.0,23.9 607.3,28.0 C607.6,32.1 609.3,41.5 607.8,44.7 C606.3,47.8 597.9,43.4 598.5,47.0 C599.0,50.6 610.5,60.3 611.2,66.2 C611.9,72.1 603.5,78.7 602.8,82.6 C602.0,86.5 605.9,88.6 606.6,89.8" stroke="#b8a480" stroke-width="0.55" fill="none" opacity="0.85"/>
<path d="M605.0,20.0 C603.4,21.5 594.3,27.0 595.1,29.2 C595.9,31.5 609.8,29.0 609.7,33.3 C609.6,37.6 595.8,52.6 594.3,55.1 C592.9,57.5 598.8,47.4 600.9,48.3 C603.0,49.2 606.3,57.1 606.9,60.3 C607.5,63.5 605.1,66.4 604.7,67.6" stroke="#b8a480" stroke-width="0.55" fill="none" opacity="0.85"/>
<path d="M603.4,20.0 C603.2,22.1 601.3,29.0 602.1,32.4 C602.9,35.7 609.0,37.5 608.2,40.2 C607.4,42.8 597.4,42.8 597.4,48.1 C597.4,53.4 607.1,68.2 608.2,72.1 C609.3,76.0 604.9,69.4 604.0,71.5 C603.0,73.6 602.6,82.5 602.3,84.7" stroke="#b8a480" stroke-width="0.55" fill="none" opacity="0.85"/>
<path d="M604.2,20.0 C602.2,22.1 592.6,28.3 592.1,32.7 C591.5,37.1 597.9,41.9 600.8,46.4 C603.7,51.0 610.0,58.7 609.7,60.0 C609.4,61.2 599.1,50.1 599.2,53.9 C599.2,57.8 609.1,76.6 610.0,82.9 C611.0,89.3 605.6,90.7 604.7,92.2" stroke="#b8a480" stroke-width="0.55" fill="none" opacity="0.85"/>
<path d="M605.1,20.0 C606.6,22.0 612.7,29.3 613.9,32.2 C615.1,35.0 613.7,32.7 612.3,37.2 C610.9,41.7 607.8,57.4 605.6,59.1 C603.3,60.7 599.2,44.3 598.7,46.9 C598.3,49.6 602.0,66.7 603.1,75.0 C604.1,83.3 604.8,93.1 605.2,96.7" stroke="#b8a480" stroke-width="0.55" fill="none" opacity="0.85"/>
<path d="M602.6,20.0 C603.9,21.7 608.3,25.9 610.3,30.2 C612.2,34.4 615.3,43.0 614.2,45.6 C613.2,48.1 606.9,40.7 604.0,45.3 C601.2,49.8 597.8,71.0 597.1,72.8 C596.4,74.5 599.1,52.9 600.0,55.7 C600.9,58.4 602.1,83.7 602.6,89.3" stroke="#b8a480" stroke-width="0.55" fill="none" opacity="0.85"/>
<path d="M605.3,20.0 C602.8,22.0 589.3,28.3 590.3,32.1 C591.4,35.8 608.0,38.8 611.6,42.5 C615.1,46.2 612.6,49.7 611.7,54.1 C610.8,58.4 607.1,63.8 605.9,68.5 C604.7,73.2 605.2,82.9 604.6,82.2 C603.9,81.5 602.6,67.3 602.2,64.3" stroke="#b8a480" stroke-width="0.55" fill="none" opacity="0.85"/>
<path d="M603.3,20.0 C605.3,21.6 613.7,26.1 615.1,29.8 C616.4,33.6 613.2,39.2 611.4,42.5 C609.6,45.7 606.2,48.4 604.2,49.4 C602.1,50.4 598.9,47.2 598.9,48.7 C599.0,50.3 604.2,53.2 604.5,58.6 C604.7,64.0 601.1,77.3 600.5,81.1" stroke="#b8a480" stroke-width="0.55" fill="none" opacity="0.85"/>
<path d="M636.4,20.0 C634.7,21.4 627.4,25.4 626.4,28.4 C625.4,31.4 629.0,33.4 630.5,37.9 C632.0,42.4 634.4,51.0 635.6,55.4 C636.7,59.8 636.2,63.7 637.2,64.5 C638.2,65.3 641.5,60.0 641.7,60.4 C641.8,60.7 638.7,65.5 638.1,66.5" stroke="#c8aa80" stroke-width="0.55" fill="none" opacity="0.85"/>
<path d="M640.0,20.0 C637.8,21.7 625.7,27.4 627.0,30.4 C628.2,33.3 646.1,33.8 647.6,37.7 C649.0,41.6 637.8,52.2 635.7,53.8 C633.5,55.5 634.9,44.2 634.7,47.5 C634.5,50.7 634.3,66.5 634.5,73.4 C634.8,80.4 636.0,86.5 636.3,89.1" stroke="#c8aa80" stroke-width="0.55" fill="none" opacity="0.85"/>
<path d="M638.8,20.0 C638.7,21.3 639.4,24.3 638.5,27.6 C637.5,30.9 632.8,36.4 633.1,39.8 C633.4,43.2 640.0,43.3 640.3,48.0 C640.6,52.6 635.3,66.3 634.9,67.6 C634.6,68.9 637.6,53.9 638.1,55.7 C638.6,57.5 637.9,74.5 637.9,78.3" stroke="#c8aa80" stroke-width="0.55" fill="none" opacity="0.85"/>
<path d="M636.8,20.0 C636.9,21.5 637.3,26.7 637.3,29.2 C637.3,31.6 637.3,31.7 637.0,34.6 C636.8,37.5 634.5,41.7 635.8,46.5 C637.1,51.3 645.1,57.6 644.9,63.1 C644.8,68.7 635.5,78.7 634.9,79.9 C634.3,81.0 640.3,71.7 641.3,70.1" stroke="#c8aa80" stroke-width="0.55" fill="none" opacity="0.85"/>
<path d="M636.4,20.0 C638.5,21.1 649.3,23.4 649.3,26.5 C649.3,29.5 637.3,36.1 636.6,38.3 C635.8,40.6 644.1,35.0 644.8,40.0 C645.5,45.1 641.7,62.1 640.7,68.5 C639.7,74.8 639.6,78.3 638.7,78.2 C637.9,78.1 636.1,69.6 635.6,67.9" stroke="#c8aa80" stroke-width="0.55" fill="none" opacity="0.85"/>
<path d="M636.6,20.0 C635.0,21.4 625.2,26.2 626.9,28.3 C628.5,30.4 643.6,28.4 646.4,32.7 C649.2,36.9 645.1,50.4 643.6,53.7 C642.1,57.1 637.7,50.7 637.3,52.9 C636.9,55.1 641.0,64.5 641.1,66.9 C641.3,69.4 638.6,67.5 638.1,67.6" stroke="#c8aa80" stroke-width="0.55" fill="none" opacity="0.85"/>
<path d="M639.4,20.0 C637.1,21.4 624.7,25.4 625.8,28.2 C626.9,31.1 643.7,34.9 646.1,37.1 C648.5,39.3 642.1,39.7 640.2,41.4 C638.3,43.2 635.8,42.9 634.7,47.6 C633.6,52.2 633.0,65.2 633.7,69.4 C634.3,73.7 637.8,72.5 638.6,73.1" stroke="#c8aa80" stroke-width="0.55" fill="none" opacity="0.85"/>
<path d="M639.0,20.0 C637.9,21.9 631.8,27.7 632.6,31.2 C633.3,34.8 642.2,38.4 643.4,41.4 C644.6,44.4 639.9,46.3 639.6,49.1 C639.3,51.9 642.1,54.4 641.4,58.1 C640.7,61.9 635.8,67.7 635.5,71.4 C635.2,75.1 638.9,78.8 639.6,80.2" stroke="#c8aa80" stroke-width="0.55" fill="none" opacity="0.85"/>
<path d="M639.6,20.0 C639.5,21.3 639.2,24.8 639.3,28.0 C639.4,31.2 639.9,36.8 640.2,39.1 C640.5,41.4 641.3,40.3 641.0,41.6 C640.7,43.0 638.6,43.4 638.5,47.2 C638.3,50.9 639.6,57.4 640.1,64.1 C640.6,70.9 641.4,83.9 641.6,87.8" stroke="#c8aa80" stroke-width="0.55" fill="none" opacity="0.85"/>
<path d="M639.6,20.0 C639.4,21.5 637.1,26.8 638.1,29.0 C639.1,31.1 646.3,30.4 645.6,32.7 C644.9,34.9 636.0,39.2 634.1,42.4 C632.2,45.6 633.9,49.0 634.2,51.8 C634.5,54.6 635.2,55.2 635.7,59.2 C636.2,63.2 636.7,73.2 637.0,76.0" stroke="#c8aa80" stroke-width="0.55" fill="none" opacity="0.85"/>
<path d="M639.7,20.0 C638.9,22.0 634.4,28.3 634.9,31.8 C635.5,35.2 642.7,37.2 642.9,40.5 C643.1,43.8 636.4,50.1 636.2,51.5 C636.0,52.9 641.7,45.9 641.7,49.0 C641.7,52.2 637.5,65.1 636.4,70.4 C635.2,75.7 635.1,79.1 634.8,80.8" stroke="#c8aa80" stroke-width="0.55" fill="none" opacity="0.85"/>
<path d="M639.6,20.0 C637.7,22.0 627.8,28.6 628.5,32.0 C629.2,35.4 642.1,39.1 644.0,40.6 C645.9,42.1 641.6,39.4 639.9,40.8 C638.3,42.2 634.7,47.2 634.0,48.9 C633.3,50.7 634.8,44.8 635.6,51.3 C636.4,57.7 638.1,81.5 638.6,87.5" stroke="#c8aa80" stroke-width="0.55" fill="none" opacity="0.85"/>
<path d="M639.9,20.0 C641.0,21.2 646.3,23.2 646.5,27.0 C646.7,30.8 643.5,40.2 641.2,43.1 C638.8,46.0 633.1,42.3 632.3,44.3 C631.4,46.3 634.9,52.7 636.2,55.0 C637.5,57.4 639.9,54.2 639.9,58.3 C639.9,62.5 636.8,76.1 636.2,79.7" stroke="#c8aa80" stroke-width="0.55" fill="none" opacity="0.85"/>
<path d="M638.0,20.0 C638.7,21.7 640.7,27.1 642.1,30.4 C643.5,33.7 647.2,36.4 646.4,40.0 C645.5,43.6 638.0,48.3 637.0,52.1 C636.0,55.8 640.8,61.0 640.4,62.5 C639.9,63.9 634.5,59.5 634.4,60.8 C634.3,62.1 638.7,68.7 639.6,70.3" stroke="#c8aa80" stroke-width="0.55" fill="none" opacity="0.85"/>
<path d="M637.2,20.0 C635.6,21.6 627.6,26.1 627.6,29.4 C627.5,32.6 634.1,35.6 636.9,39.4 C639.7,43.3 643.1,51.2 644.4,52.3 C645.7,53.3 644.9,45.1 644.6,45.6 C644.4,46.2 644.5,47.8 643.0,55.6 C641.6,63.4 637.1,86.3 635.9,92.5" stroke="#c8aa80" stroke-width="0.55" fill="none" opacity="0.85"/>
<path d="M636.6,20.0 C637.9,21.9 643.0,27.6 644.3,31.6 C645.6,35.6 644.7,41.7 644.5,43.9 C644.2,46.1 644.3,43.3 642.9,44.8 C641.4,46.3 636.0,49.9 635.6,53.0 C635.1,56.1 639.7,60.9 640.2,63.4 C640.7,65.9 638.7,67.3 638.4,68.0" stroke="#c8aa80" stroke-width="0.55" fill="none" opacity="0.85"/>
<path d="M639.2,20.0 C638.7,21.5 636.4,25.8 636.0,28.9 C635.7,32.1 638.0,35.1 637.2,38.9 C636.3,42.7 632.0,50.0 631.0,51.6 C630.1,53.2 629.6,46.8 631.4,48.7 C633.2,50.6 640.5,58.0 641.8,63.0 C643.1,67.9 639.5,75.8 639.0,78.4" stroke="#c8aa80" stroke-width="0.55" fill="none" opacity="0.85"/>
<path d="M639.3,20.0 C637.9,21.3 632.3,24.7 631.2,27.9 C630.0,31.0 632.4,35.2 632.3,38.7 C632.2,42.3 629.1,46.6 630.5,49.1 C632.0,51.7 640.6,52.3 641.2,53.8 C641.8,55.3 635.1,53.2 634.2,58.2 C633.3,63.2 635.5,79.5 635.7,83.8" stroke="#c8aa80" stroke-width="0.55" fill="none" opacity="0.85"/>
<path d="M638.5,20.0 C638.5,21.9 639.7,28.5 638.8,31.5 C637.9,34.5 631.7,36.8 632.9,38.1 C634.1,39.4 646.2,37.4 646.0,39.3 C645.9,41.2 633.3,43.1 632.0,49.7 C630.7,56.2 636.9,74.1 638.4,78.8 C639.9,83.5 640.7,77.9 641.1,77.7" stroke="#c8aa80" stroke-width="0.55" fill="none" opacity="0.85"/>
<path d="M637.0,20.0 C637.8,21.3 642.6,24.4 641.8,27.8 C641.0,31.2 632.8,37.9 632.2,40.4 C631.6,42.9 636.5,41.9 638.2,42.8 C639.9,43.7 643.0,41.2 642.4,45.8 C641.7,50.4 634.8,65.1 634.2,70.4 C633.6,75.7 637.9,76.5 638.7,77.7" stroke="#c8aa80" stroke-width="0.55" fill="none" opacity="0.85"/>
<path d="M637.7,20.0 C637.6,21.8 637.8,27.4 636.9,30.9 C636.0,34.4 631.7,36.8 632.4,41.0 C633.0,45.3 641.2,53.7 641.0,56.5 C640.8,59.3 632.4,57.1 631.0,57.9 C629.6,58.7 631.8,58.8 632.6,61.2 C633.4,63.7 635.1,70.6 635.6,72.5" stroke="#c8aa80" stroke-width="0.55" fill="none" opacity="0.85"/>
<path d="M637.2,20.0 C636.5,21.2 633.8,23.9 632.7,27.0 C631.5,30.0 628.1,34.7 630.3,38.3 C632.5,41.9 643.6,44.5 646.0,48.5 C648.3,52.4 645.5,61.0 644.5,61.9 C643.5,62.8 640.3,53.2 639.7,53.7 C639.2,54.3 641.0,63.4 641.2,65.3" stroke="#c8aa80" stroke-width="0.55" fill="none" opacity="0.85"/>
<path d="M638.9,20.0 C637.2,21.8 628.0,28.6 629.0,30.8 C629.9,33.0 643.3,29.7 644.6,33.4 C645.9,37.1 639.1,51.3 636.8,53.2 C634.6,55.1 630.7,41.3 631.2,44.9 C631.8,48.5 638.8,70.6 640.1,74.8 C641.5,79.0 639.5,70.9 639.3,70.1" stroke="#c8aa80" stroke-width="0.55" fill="none" opacity="0.85"/>
<path d="M636.0,20.0 C638.3,21.8 648.1,26.8 649.7,30.6 C651.4,34.4 647.8,40.1 646.1,42.7 C644.5,45.4 640.5,45.6 639.9,46.3 C639.2,47.0 642.7,43.1 642.2,47.1 C641.7,51.1 638.1,68.6 637.0,70.5 C635.9,72.4 635.8,60.3 635.6,58.3" stroke="#c8aa80" stroke-width="0.55" fill="none" opacity="0.85"/>
<path d="M639.7,20.0 C640.9,21.5 648.1,26.5 647.0,29.0 C645.8,31.4 634.9,32.2 632.8,34.4 C630.7,36.7 633.7,37.7 634.2,42.6 C634.8,47.4 635.2,60.8 636.1,63.7 C637.1,66.6 639.2,58.6 640.0,60.2 C640.7,61.7 640.7,70.7 640.8,72.8" stroke="#c8aa80" stroke-width="0.55" fill="none" opacity="0.85"/>
<path d="M639.3,20.0 C638.7,21.4 633.9,25.7 635.4,28.7 C636.9,31.6 647.7,33.2 648.3,37.7 C648.9,42.1 641.9,52.4 639.2,55.5 C636.5,58.6 631.9,52.8 631.9,56.3 C631.9,59.8 638.6,74.0 639.2,76.5 C639.8,79.0 636.1,72.4 635.5,71.5" stroke="#c8aa80" stroke-width="0.55" fill="none" opacity="0.85"/>
<path d="M639.8,20.0 C638.8,21.1 633.8,24.1 633.6,26.9 C633.5,29.6 639.2,34.8 638.9,36.4 C638.6,38.0 631.3,34.1 631.8,36.4 C632.2,38.6 641.4,46.3 641.8,49.8 C642.2,53.3 634.9,55.7 634.0,57.4 C633.2,59.2 636.4,59.9 636.8,60.4" stroke="#a88c60" stroke-width="0.55" fill="none" opacity="0.85"/>
<path d="M637.9,20.0 C637.3,21.8 635.6,28.6 634.2,30.7 C632.8,32.9 628.7,30.5 629.5,32.8 C630.4,35.0 637.3,39.9 639.3,44.2 C641.2,48.5 642.1,55.7 641.3,58.6 C640.5,61.5 635.1,57.8 634.4,61.8 C633.7,65.8 636.7,79.2 637.2,82.6" stroke="#a88c60" stroke-width="0.55" fill="none" opacity="0.85"/>
<path d="M637.7,20.0 C638.5,21.4 643.1,26.2 642.5,28.6 C642.0,31.0 634.5,32.9 634.2,34.3 C633.9,35.6 640.6,32.6 640.6,36.4 C640.5,40.2 633.7,54.2 633.9,57.1 C634.1,60.0 641.2,50.5 641.6,53.6 C642.0,56.7 637.3,71.9 636.4,75.6" stroke="#a88c60" stroke-width="0.55" fill="none" opacity="0.85"/>
<path d="M639.9,20.0 C639.0,21.5 635.2,25.7 634.9,29.3 C634.6,32.8 635.8,38.4 637.9,41.3 C639.9,44.2 647.5,43.5 647.0,46.6 C646.5,49.7 636.5,59.1 634.6,59.8 C632.8,60.4 634.8,51.2 636.0,50.6 C637.2,50.0 640.8,55.4 641.8,56.4" stroke="#a88c60" stroke-width="0.55" fill="none" opacity="0.85"/>
<path d="M638.9,20.0 C638.9,21.2 638.2,24.8 638.9,27.4 C639.7,30.0 642.4,33.0 643.4,35.6 C644.5,38.2 645.0,38.9 645.1,43.0 C645.2,47.1 645.5,55.9 643.9,60.0 C642.4,64.1 636.0,66.4 635.6,67.4 C635.2,68.4 640.5,66.4 641.4,66.2" stroke="#a88c60" stroke-width="0.55" fill="none" opacity="0.85"/>
<path d="M639.3,20.0 C640.5,21.1 646.9,24.2 646.4,26.6 C645.9,29.0 638.6,30.6 636.3,34.4 C633.9,38.3 631.9,48.3 632.2,49.5 C632.5,50.8 637.5,40.2 638.0,41.8 C638.5,43.4 634.5,55.2 635.0,59.1 C635.5,63.0 639.9,64.2 640.9,65.3" stroke="#a88c60" stroke-width="0.55" fill="none" opacity="0.85"/>
<path d="M640.7,20.0 C638.8,21.6 629.7,27.3 629.3,29.7 C628.8,32.2 635.6,33.6 638.0,34.8 C640.4,36.0 642.9,34.6 643.7,36.7 C644.4,38.9 643.9,42.9 642.8,47.7 C641.6,52.5 637.3,62.7 636.6,65.4 C635.9,68.0 638.3,63.9 638.6,63.6" stroke="#a88c60" stroke-width="0.55" fill="none" opacity="0.85"/>
<path d="M637.0,20.0 C636.3,21.3 631.5,25.4 632.8,27.7 C634.1,30.0 643.9,30.2 644.7,33.6 C645.4,37.0 637.9,46.9 637.5,48.3 C637.2,49.8 643.0,41.2 642.5,42.2 C642.1,43.2 635.0,48.4 634.9,54.2 C634.8,60.0 640.7,73.2 641.9,77.0" stroke="#a88c60" stroke-width="0.55" fill="none" opacity="0.85"/>
<path d="M639.2,20.0 C639.2,21.7 640.6,27.8 639.5,30.2 C638.3,32.7 631.2,33.5 632.2,34.6 C633.2,35.7 645.1,32.6 645.5,36.7 C645.9,40.8 636.3,54.6 634.7,59.3 C633.1,63.9 635.3,61.6 635.8,64.6 C636.4,67.5 637.7,74.7 638.1,76.8" stroke="#a88c60" stroke-width="0.55" fill="none" opacity="0.85"/>
<path d="M639.1,20.0 C639.4,21.0 642.1,22.9 640.6,25.9 C639.1,28.8 631.0,36.1 630.1,37.9 C629.2,39.8 632.6,33.6 635.2,36.8 C637.7,40.1 644.2,53.6 645.4,57.3 C646.7,61.0 644.0,56.1 642.7,59.2 C641.4,62.2 638.3,72.9 637.4,75.6" stroke="#a88c60" stroke-width="0.55" fill="none" opacity="0.85"/>
<path d="M640.4,20.0 C640.2,21.3 640.5,24.9 639.1,28.0 C637.8,31.1 632.0,36.0 632.1,38.7 C632.1,41.3 637.7,41.2 639.3,43.7 C640.9,46.3 641.7,52.2 641.6,54.0 C641.5,55.7 639.6,52.2 638.7,54.4 C637.8,56.7 636.6,65.3 636.2,67.5" stroke="#a88c60" stroke-width="0.55" fill="none" opacity="0.85"/>
<path d="M640.8,20.0 C640.2,21.4 637.4,26.0 637.0,28.4 C636.5,30.9 638.4,32.5 638.1,34.8 C637.8,37.1 635.4,37.7 635.2,42.3 C635.1,46.8 636.3,60.5 637.2,62.2 C638.1,64.0 640.5,54.4 640.6,52.9 C640.8,51.3 638.4,52.7 638.0,52.7" stroke="#a88c60" stroke-width="0.55" fill="none" opacity="0.85"/>
<path d="M640.3,20.0 C638.4,21.2 630.6,23.5 628.8,27.1 C626.9,30.6 627.6,38.7 629.4,41.3 C631.1,44.0 637.9,39.4 639.2,43.0 C640.5,46.7 637.5,61.3 637.1,63.1 C636.7,64.8 636.9,53.4 636.8,53.6 C636.7,53.9 636.5,62.9 636.5,64.7" stroke="#a88c60" stroke-width="0.55" fill="none" opacity="0.85"/>
<path d="M639.1,20.0 C638.2,21.6 632.5,26.4 633.9,29.4 C635.2,32.4 645.0,36.3 647.1,38.1 C649.2,39.8 647.4,38.4 646.6,40.0 C645.7,41.6 643.2,42.4 641.9,47.8 C640.6,53.3 639.2,66.8 638.6,72.6 C638.0,78.4 638.3,81.1 638.3,82.8" stroke="#a88c60" stroke-width="0.55" fill="none" opacity="0.85"/>
<path d="M640.7,20.0 C638.7,21.4 629.0,26.6 628.8,28.7 C628.6,30.8 639.2,30.3 639.7,32.5 C640.2,34.6 632.2,37.3 631.7,41.8 C631.2,46.2 635.7,54.3 636.7,59.3 C637.7,64.3 637.3,71.7 637.6,71.6 C637.9,71.4 638.3,60.6 638.5,58.5" stroke="#a88c60" stroke-width="0.55" fill="none" opacity="0.85"/>
<path d="M640.6,20.0 C639.4,21.4 634.4,25.7 633.3,28.5 C632.3,31.2 634.7,34.3 634.3,36.6 C633.9,38.8 629.1,41.2 630.8,42.1 C632.6,43.0 643.9,37.8 644.8,42.1 C645.7,46.4 637.9,62.8 636.4,67.9 C634.8,72.9 635.8,71.7 635.7,72.5" stroke="#a88c60" stroke-width="0.55" fill="none" opacity="0.85"/>
<path d="M639.5,20.0 C639.1,21.6 636.4,26.7 637.4,29.3 C638.4,31.9 646.1,33.5 645.2,35.5 C644.3,37.6 632.1,40.0 632.0,41.4 C631.9,42.9 644.2,42.0 644.6,44.2 C645.0,46.4 635.9,50.2 634.5,54.6 C633.1,59.1 636.0,68.2 636.4,70.9" stroke="#a88c60" stroke-width="0.55" fill="none" opacity="0.85"/>
<path d="M640.1,20.0 C639.6,21.1 636.2,23.2 637.2,26.7 C638.2,30.2 647.3,37.0 646.3,40.9 C645.3,44.9 632.4,46.7 631.3,50.4 C630.2,54.0 637.7,62.6 639.8,62.7 C641.9,62.9 643.6,52.2 644.0,51.1 C644.4,50.1 642.7,55.6 642.5,56.5" stroke="#a88c60" stroke-width="0.55" fill="none" opacity="0.85"/>
<path d="M637.3,20.0 C638.0,21.3 640.2,25.1 641.5,28.0 C642.8,30.8 645.0,35.5 645.3,37.2 C645.5,38.8 642.8,36.1 642.7,38.0 C642.7,39.9 645.4,44.3 645.1,48.6 C644.8,53.0 641.5,62.7 641.0,64.0 C640.4,65.4 641.8,58.0 642.0,56.8" stroke="#a88c60" stroke-width="0.55" fill="none" opacity="0.85"/>
<path d="M637.8,20.0 C639.1,21.3 645.3,25.3 645.4,27.7 C645.5,30.1 640.2,31.3 638.4,34.3 C636.7,37.4 634.9,44.4 634.8,46.1 C634.7,47.7 636.7,40.8 637.7,44.2 C638.7,47.6 640.4,63.9 640.8,66.4 C641.2,68.9 640.2,60.6 640.1,59.4" stroke="#a88c60" stroke-width="0.55" fill="none" opacity="0.85"/>
<ellipse cx="604.5" cy="15.5" rx="3" ry="4.2" fill="#dcdcc8"/>
<ellipse cx="638" cy="15.5" rx="3" ry="4.2" fill="#c8d8a0"/>
<defs><linearGradient id="lf1" x1="0" x2="1"><stop offset="0" stop-color="#346e2c"/><stop offset="0.5" stop-color="#4f8a3a"/><stop offset="1" stop-color="#386f2e"/></linearGradient><linearGradient id="lf2" x1="0" x2="1"><stop offset="0" stop-color="#86a63e"/><stop offset="0.5" stop-color="#a8bc56"/><stop offset="1" stop-color="#8aa642"/></linearGradient></defs>
<path d="M609.5,163 L618.8,163 L618,215.2 L610.3,215.2 Z" fill="url(#lf1)"/>
<path d="M625.4,163 L635,163 L634.3,215.2 L626.2,215.2 Z" fill="url(#lf2)"/>
<rect x="45.50" y="249.00" width="285.30" height="232.00" fill="#fff" stroke="#444" stroke-width="0.9"/>
<line x1="46.0" y1="471.3" x2="330.3" y2="471.3" stroke="#ebebeb" stroke-width="0.9" />
<line x1="46.0" y1="442.03333333333336" x2="330.3" y2="442.03333333333336" stroke="#ebebeb" stroke-width="0.9" />
<line x1="46.0" y1="412.76666666666665" x2="330.3" y2="412.76666666666665" stroke="#ebebeb" stroke-width="0.9" />
<line x1="46.0" y1="383.5" x2="330.3" y2="383.5" stroke="#ebebeb" stroke-width="0.9" />
<line x1="46.0" y1="354.23333333333335" x2="330.3" y2="354.23333333333335" stroke="#ebebeb" stroke-width="0.9" />
<line x1="46.0" y1="324.9666666666667" x2="330.3" y2="324.9666666666667" stroke="#ebebeb" stroke-width="0.9" />
<line x1="46.0" y1="295.70000000000005" x2="330.3" y2="295.70000000000005" stroke="#ebebeb" stroke-width="0.9" />
<line x1="46.0" y1="266.43333333333334" x2="330.3" y2="266.43333333333334" stroke="#ebebeb" stroke-width="0.9" />
<line x1="72.5" y1="249.5" x2="72.5" y2="480.5" stroke="#ebebeb" stroke-width="0.9" />
<line x1="118.8" y1="249.5" x2="118.8" y2="480.5" stroke="#ebebeb" stroke-width="0.9" />
<line x1="165" y1="249.5" x2="165" y2="480.5" stroke="#ebebeb" stroke-width="0.9" />
<line x1="211" y1="249.5" x2="211" y2="480.5" stroke="#ebebeb" stroke-width="0.9" />
<line x1="257.2" y1="249.5" x2="257.2" y2="480.5" stroke="#ebebeb" stroke-width="0.9" />
<line x1="303" y1="249.5" x2="303" y2="480.5" stroke="#ebebeb" stroke-width="0.9" />
<text x="40" y="474.40000000000003" font-size="8.3" text-anchor="end" font-weight="normal" fill="#151213" >0</text>
<text x="40" y="415.8666666666667" font-size="8.3" text-anchor="end" font-weight="normal" fill="#151213" >3000</text>
<text x="40" y="357.33333333333337" font-size="8.3" text-anchor="end" font-weight="normal" fill="#151213" >6000</text>
<text x="40" y="298.80000000000007" font-size="8.3" text-anchor="end" font-weight="normal" fill="#151213" >9000</text>
<text x="13.6" y="367" font-size="8.3" text-anchor="middle" font-weight="normal" fill="#151213" transform="rotate(-90 13.6 367)">Gene count</text>
<path d="M86.4,415.1 C95.65,415.1 95.65,380 104.89999999999999,380 L104.89999999999999,387 C95.65,387 95.65,419.6 86.4,419.6 Z" fill="#86aed3"/>
<path d="M86.4,419.6 C95.65,419.6 95.65,387 104.89999999999999,387 L104.89999999999999,400.4 C95.65,400.4 95.65,426.8 86.4,426.8 Z" fill="#abcfe8"/>
<path d="M86.4,426.8 C95.65,426.8 95.65,400.4 104.89999999999999,400.4 L104.89999999999999,424.9 C95.65,424.9 95.65,443.7 86.4,443.7 Z" fill="#fbd8b2"/>
<path d="M86.4,443.7 C95.65,443.7 95.65,424.9 104.89999999999999,424.9 L104.89999999999999,457.9 C95.65,457.9 95.65,462.8 86.4,462.8 Z" fill="#f6c08c"/>
<path d="M86.4,462.8 C95.65,462.8 95.65,457.9 104.89999999999999,457.9 L104.89999999999999,471 C95.65,471 95.65,471 86.4,471 Z" fill="#e0929a"/>
<path d="M132.7,380 C141.89999999999998,380 141.89999999999998,269.6 151.1,269.6 L151.1,276.9 C141.89999999999998,276.9 141.89999999999998,387 132.7,387 Z" fill="#86aed3"/>
<path d="M132.7,387 C141.89999999999998,387 141.89999999999998,276.9 151.1,276.9 L151.1,303.1 C141.89999999999998,303.1 141.89999999999998,400.4 132.7,400.4 Z" fill="#abcfe8"/>
<path d="M132.7,400.4 C141.89999999999998,400.4 141.89999999999998,303.1 151.1,303.1 L151.1,347.8 C141.89999999999998,347.8 141.89999999999998,424.9 132.7,424.9 Z" fill="#fbd8b2"/>
<path d="M132.7,424.9 C141.89999999999998,424.9 141.89999999999998,347.8 151.1,347.8 L151.1,410.6 C141.89999999999998,410.6 141.89999999999998,457.9 132.7,457.9 Z" fill="#f6c08c"/>
<path d="M132.7,457.9 C141.89999999999998,457.9 141.89999999999998,410.6 151.1,410.6 L151.1,471 C141.89999999999998,471 141.89999999999998,471 132.7,471 Z" fill="#e0929a"/>
<path d="M224.9,295.8 C234.1,295.8 234.1,295.8 243.29999999999998,295.8 L243.29999999999998,303.4 C234.1,303.4 234.1,303.8 224.9,303.8 Z" fill="#86aed3"/>
<path d="M224.9,303.8 C234.1,303.8 234.1,303.4 243.29999999999998,303.4 L243.29999999999998,330.9 C234.1,330.9 234.1,331.1 224.9,331.1 Z" fill="#abcfe8"/>
<path d="M224.9,331.1 C234.1,331.1 234.1,330.9 243.29999999999998,330.9 L243.29999999999998,384.9 C234.1,384.9 234.1,383.2 224.9,383.2 Z" fill="#fbd8b2"/>
<path d="M224.9,383.2 C234.1,383.2 234.1,384.9 243.29999999999998,384.9 L243.29999999999998,441.2 C234.1,441.2 234.1,440 224.9,440 Z" fill="#f6c08c"/>
<path d="M224.9,440 C234.1,440 234.1,441.2 243.29999999999998,441.2 L243.29999999999998,471 C234.1,471 234.1,471 224.9,471 Z" fill="#e0929a"/>
<path d="M271.09999999999997,295.8 C280.1,295.8 280.1,258.8 289.1,258.8 L289.1,266.9 C280.1,266.9 280.1,303.4 271.09999999999997,303.4 Z" fill="#86aed3"/>
<path d="M271.09999999999997,303.4 C280.1,303.4 280.1,266.9 289.1,266.9 L289.1,296.1 C280.1,296.1 280.1,330.9 271.09999999999997,330.9 Z" fill="#abcfe8"/>
<path d="M271.09999999999997,330.9 C280.1,330.9 280.1,296.1 289.1,296.1 L289.1,356 C280.1,356 280.1,384.9 271.09999999999997,384.9 Z" fill="#fbd8b2"/>
<path d="M271.09999999999997,384.9 C280.1,384.9 280.1,356 289.1,356 L289.1,421.7 C280.1,421.7 280.1,441.2 271.09999999999997,441.2 Z" fill="#f6c08c"/>
<path d="M271.09999999999997,441.2 C280.1,441.2 280.1,421.7 289.1,421.7 L289.1,471 C280.1,471 280.1,471 271.09999999999997,471 Z" fill="#e0929a"/>
<rect x="58.60" y="415.10" width="27.80" height="4.50" fill="#1463a5" />
<rect x="58.60" y="419.60" width="27.80" height="7.20" fill="#5b9fd1" />
<rect x="58.60" y="426.80" width="27.80" height="16.90" fill="#f4b26a" />
<rect x="58.60" y="443.70" width="27.80" height="19.10" fill="#ec8524" />
<rect x="58.60" y="462.80" width="27.80" height="8.20" fill="#c3262f" />
<rect x="104.90" y="380.00" width="27.80" height="7.00" fill="#1463a5" />
<rect x="104.90" y="387.00" width="27.80" height="13.40" fill="#5b9fd1" />
<rect x="104.90" y="400.40" width="27.80" height="24.50" fill="#f4b26a" />
<rect x="104.90" y="424.90" width="27.80" height="33.00" fill="#ec8524" />
<rect x="104.90" y="457.90" width="27.80" height="13.10" fill="#c3262f" />
<rect x="151.10" y="269.60" width="27.80" height="7.30" fill="#1463a5" />
<rect x="151.10" y="276.90" width="27.80" height="26.20" fill="#5b9fd1" />
<rect x="151.10" y="303.10" width="27.80" height="44.70" fill="#f4b26a" />
<rect x="151.10" y="347.80" width="27.80" height="62.80" fill="#ec8524" />
<rect x="151.10" y="410.60" width="27.80" height="60.40" fill="#c3262f" />
<rect x="197.10" y="295.80" width="27.80" height="8.00" fill="#1463a5" />
<rect x="197.10" y="303.80" width="27.80" height="27.30" fill="#5b9fd1" />
<rect x="197.10" y="331.10" width="27.80" height="52.10" fill="#f4b26a" />
<rect x="197.10" y="383.20" width="27.80" height="56.80" fill="#ec8524" />
<rect x="197.10" y="440.00" width="27.80" height="31.00" fill="#c3262f" />
<rect x="243.30" y="295.80" width="27.80" height="7.60" fill="#1463a5" />
<rect x="243.30" y="303.40" width="27.80" height="27.50" fill="#5b9fd1" />
<rect x="243.30" y="330.90" width="27.80" height="54.00" fill="#f4b26a" />
<rect x="243.30" y="384.90" width="27.80" height="56.30" fill="#ec8524" />
<rect x="243.30" y="441.20" width="27.80" height="29.80" fill="#c3262f" />
<rect x="289.10" y="258.80" width="27.80" height="8.10" fill="#1463a5" />
<rect x="289.10" y="266.90" width="27.80" height="29.20" fill="#5b9fd1" />
<rect x="289.10" y="296.10" width="27.80" height="59.90" fill="#f4b26a" />
<rect x="289.10" y="356.00" width="27.80" height="65.70" fill="#ec8524" />
<rect x="289.10" y="421.70" width="27.80" height="49.30" fill="#c3262f" />
<text x="72.5" y="494.2" font-size="8.5" text-anchor="middle" font-weight="normal" fill="#151213" >6 h</text>
<text x="118.8" y="494.2" font-size="8.5" text-anchor="middle" font-weight="normal" fill="#151213" >24 h</text>
<text x="165" y="494.2" font-size="8.5" text-anchor="middle" font-weight="normal" fill="#151213" >7 d</text>
<text x="211" y="494.2" font-size="8.5" text-anchor="middle" font-weight="normal" fill="#151213" >6 h</text>
<text x="257.2" y="494.2" font-size="8.5" text-anchor="middle" font-weight="normal" fill="#151213" >24 h</text>
<text x="303" y="494.2" font-size="8.5" text-anchor="middle" font-weight="normal" fill="#151213" >7 d</text>
<line x1="45" y1="499.5" x2="181" y2="499.5" stroke="#231f20" stroke-width="1" />
<line x1="194.6" y1="499.5" x2="331" y2="499.5" stroke="#231f20" stroke-width="1" />
<text x="105.2" y="511.5" font-size="8.5" text-anchor="middle" font-weight="normal" fill="#151213" >Root</text>
<text x="254.5" y="511.5" font-size="8.5" text-anchor="middle" font-weight="normal" fill="#151213" >Leaf</text>
<text x="338.5" y="274.3" font-size="8.4" text-anchor="start" font-weight="normal" fill="#151213" >Frequency</text>
<rect x="338.50" y="290.20" width="15.80" height="15.60" fill="#c3262f" />
<text x="360.5" y="301.8" font-size="8.6" text-anchor="start" font-weight="normal" fill="#151213" >1</text>
<rect x="338.50" y="317.90" width="15.80" height="15.60" fill="#ec8524" />
<text x="360.5" y="329.5" font-size="8.6" text-anchor="start" font-weight="normal" fill="#151213" >2</text>
<rect x="338.50" y="345.60" width="15.80" height="15.60" fill="#f4b26a" />
<text x="360.5" y="357.2" font-size="8.6" text-anchor="start" font-weight="normal" fill="#151213" >3</text>
<rect x="338.50" y="373.30" width="15.80" height="15.60" fill="#5b9fd1" />
<text x="360.5" y="384.9" font-size="8.6" text-anchor="start" font-weight="normal" fill="#151213" >4</text>
<rect x="338.50" y="401.00" width="15.80" height="15.60" fill="#1463a5" />
<text x="360.5" y="412.6" font-size="8.6" text-anchor="start" font-weight="normal" fill="#151213" >5</text>
<rect x="338.50" y="428.70" width="15.80" height="15.60" fill="#163a5e" />
<text x="360.5" y="440.3" font-size="8.6" text-anchor="start" font-weight="normal" fill="#151213" >6</text>
<g class="hc" transform="translate(415.80,0)">
<rect y="247.3" height="1.9" fill="#e06e5e"/>
<rect y="248.9" height="2.3" fill="#e27d6c"/>
<rect y="250.9" height="1.3" fill="#e17564"/>
<rect y="251.9" height="1.3" fill="#e48c7a"/>
<rect y="252.9" height="1.3" fill="#e07060"/>
<rect y="253.9" height="1.6" fill="#e69c89"/>
<rect y="255.2" height="2.3" fill="#e48978"/>
<rect y="257.2" height="1.6" fill="#e69987"/>
<rect y="258.5" height="2.3" fill="#e69b88"/>
<rect y="260.5" height="2.8" fill="#e69886"/>
<rect y="263.0" height="1.6" fill="#e27e6d"/>
<rect y="264.3" height="2.8" fill="#e06e5e"/>
<rect y="266.8" height="1.5" fill="#e38170"/>
<rect y="268.0" height="1.3" fill="#d6342c"/>
<rect y="269.0" height="1.3" fill="#d9463b"/>
<rect y="270.0" height="1.6" fill="#dc5447"/>
<rect y="271.3" height="0.6" fill="#d9473c"/>
<rect y="271.6" height="2.8" fill="#e27b6a"/>
<rect y="274.1" height="3.3" fill="#e38270"/>
<rect y="277.1" height="2.5" fill="#e06e5e"/>
<rect y="279.3" height="1.6" fill="#e9b19a"/>
<rect y="280.6" height="2.8" fill="#e7a08d"/>
<rect y="283.1" height="0.7" fill="#ebc0a6"/>
<rect y="283.5" height="1.6" fill="#e69886"/>
<rect y="284.8" height="2.8" fill="#e69c89"/>
<rect y="287.3" height="1.9" fill="#e69a87"/>
<rect y="288.9" height="1.4" fill="#e79f8b"/>
<rect y="290.0" height="1.6" fill="#e17666"/>
<rect y="291.3" height="3.3" fill="#e17766"/>
<rect y="294.3" height="1.3" fill="#e38170"/>
<rect y="295.3" height="2.0" fill="#e38574"/>
<rect y="297.0" height="1.9" fill="#e48d7b"/>
<rect y="298.6" height="1.9" fill="#e59381"/>
<rect y="300.2" height="1.3" fill="#e8ab95"/>
<rect y="301.2" height="2.3" fill="#e8a893"/>
<rect y="303.2" height="1.9" fill="#e8a993"/>
<rect y="304.8" height="2.3" fill="#e69c89"/>
<rect y="306.8" height="1.5" fill="#e9ad96"/>
<rect y="308.0" height="2.8" fill="#e06e5e"/>
<rect y="310.5" height="1.9" fill="#e27a69"/>
<rect y="312.1" height="1.7" fill="#e06d5d"/>
<rect y="313.5" height="1.8" fill="#d73930"/>
<rect y="315.0" height="1.3" fill="#de6051"/>
<rect y="316.0" height="1.9" fill="#e17362"/>
<rect y="317.6" height="3.3" fill="#e48776"/>
<rect y="320.6" height="0.7" fill="#df6858"/>
<rect y="321.0" height="2.3" fill="#e8e3c6"/>
<rect y="323.0" height="3.3" fill="#b6c1cb"/>
<rect y="326.0" height="1.9" fill="#b2becb"/>
<rect y="327.6" height="0.7" fill="#a4b4c9"/>
<rect y="328.0" height="2.3" fill="#e2e1c9"/>
<rect y="330.0" height="2.0" fill="#d8d9ca"/>
<rect y="331.7" height="1.3" fill="#5273b9"/>
<rect y="332.7" height="1.9" fill="#4e6fb7"/>
<rect y="334.3" height="1.6" fill="#5b7bbc"/>
<rect y="335.6" height="2.3" fill="#4b6db6"/>
<rect y="337.6" height="0.7" fill="#5b7bbc"/>
<rect y="338.0" height="1.9" fill="#e69886"/>
<rect y="339.6" height="0.7" fill="#e69987"/>
<rect y="340.0" height="1.9" fill="#d1d4ca"/>
<rect y="341.6" height="1.9" fill="#d0d3ca"/>
<rect y="343.2" height="2.1" fill="#dbdcc9"/>
<rect y="345.0" height="1.6" fill="#b7c2cb"/>
<rect y="346.3" height="1.6" fill="#bdc6cc"/>
<rect y="347.6" height="1.6" fill="#b5c0cb"/>
<rect y="348.9" height="2.4" fill="#bbc4cb"/>
<rect y="351.0" height="1.9" fill="#95a9c7"/>
<rect y="352.6" height="2.3" fill="#abb9ca"/>
<rect y="354.6" height="1.2" fill="#acbaca"/>
<rect y="355.5" height="1.6" fill="#e9dfc2"/>
<rect y="356.8" height="2.8" fill="#ead7ba"/>
<rect y="359.3" height="0.7" fill="#e9e0c3"/>
<rect y="359.7" height="1.3" fill="#6886c1"/>
<rect y="360.7" height="3.3" fill="#7993c4"/>
<rect y="363.7" height="2.3" fill="#6583c0"/>
<rect y="365.7" height="1.8" fill="#5676ba"/>
<rect y="367.2" height="3.1" fill="#e4e2c8"/>
<rect y="370.0" height="1.6" fill="#859cc5"/>
<rect y="371.3" height="1.6" fill="#98abc8"/>
<rect y="372.6" height="1.3" fill="#93a7c7"/>
<rect y="373.6" height="1.3" fill="#607fbe"/>
<rect y="374.6" height="1.5" fill="#6281bf"/>
<rect y="375.8" height="1.3" fill="#e8e3c6"/>
<rect y="376.8" height="2.8" fill="#c4cbcc"/>
<rect y="379.3" height="1.0" fill="#ddddc9"/>
<rect y="380.0" height="1.6" fill="#a0b1c9"/>
<rect y="381.3" height="1.9" fill="#9fb0c8"/>
<rect y="382.9" height="1.8" fill="#889ec6"/>
<rect y="384.4" height="2.3" fill="#8da2c6"/>
<rect y="386.4" height="2.3" fill="#738fc3"/>
<rect y="388.4" height="0.6" fill="#5f7ebe"/>
<rect y="388.7" height="1.3" fill="#acb9ca"/>
<rect y="389.7" height="3.3" fill="#99abc8"/>
<rect y="392.7" height="2.0" fill="#94a7c7"/>
<rect y="394.4" height="1.3" fill="#8ca2c6"/>
<rect y="395.4" height="2.8" fill="#94a8c7"/>
<rect y="397.9" height="3.3" fill="#9daec8"/>
<rect y="400.9" height="1.3" fill="#a5b4c9"/>
<rect y="401.9" height="1.4" fill="#adbaca"/>
<rect y="403.0" height="1.3" fill="#d83e35"/>
<rect y="404.0" height="1.9" fill="#d9483d"/>
<rect y="405.6" height="0.6" fill="#db5144"/>
<rect y="405.9" height="1.6" fill="#e48d7b"/>
<rect y="407.2" height="2.8" fill="#e69785"/>
<rect y="409.7" height="0.8" fill="#e48977"/>
<rect y="410.2" height="1.6" fill="#a7b6c9"/>
<rect y="411.5" height="2.3" fill="#a4b4c9"/>
<rect y="413.5" height="1.6" fill="#8ca1c6"/>
<rect y="414.8" height="2.3" fill="#94a7c7"/>
<rect y="416.8" height="1.3" fill="#aebbca"/>
<rect y="417.8" height="1.9" fill="#9aacc8"/>
<rect y="419.4" height="1.1" fill="#a2b2c9"/>
<rect y="420.2" height="1.9" fill="#e9dbbe"/>
<rect y="421.8" height="3.0" fill="#eccaae"/>
<rect y="424.5" height="1.9" fill="#df6a5a"/>
<rect y="426.1" height="1.3" fill="#de6253"/>
<rect y="427.1" height="1.6" fill="#dd5c4e"/>
<rect y="428.4" height="2.3" fill="#da4c41"/>
<rect y="430.4" height="0.9" fill="#d84137"/>
<rect y="431.0" height="2.3" fill="#a3b3c9"/>
<rect y="433.0" height="1.9" fill="#9fb0c8"/>
<rect y="434.6" height="1.3" fill="#a0b1c9"/>
<rect y="435.6" height="1.3" fill="#a3b3c9"/>
<rect y="436.6" height="3.3" fill="#9dafc8"/>
<rect y="439.6" height="2.3" fill="#a3b3c9"/>
<rect y="441.6" height="2.3" fill="#9fb0c8"/>
<rect y="443.6" height="1.9" fill="#7c96c4"/>
<rect y="445.2" height="3.3" fill="#8ca2c6"/>
<rect y="448.2" height="1.1" fill="#9daec8"/>
<rect y="449.0" height="1.3" fill="#7f98c5"/>
<rect y="450.0" height="1.6" fill="#8da2c6"/>
<rect y="451.3" height="1.3" fill="#6281bf"/>
<rect y="452.3" height="2.3" fill="#839bc5"/>
<rect y="454.3" height="0.6" fill="#7994c4"/>
<rect y="454.6" height="2.8" fill="#b5c0cb"/>
<rect y="457.1" height="3.3" fill="#b3bfcb"/>
<rect y="460.1" height="1.6" fill="#a4b4c9"/>
<rect y="461.4" height="1.6" fill="#8ca2c6"/>
<rect y="462.7" height="3.3" fill="#a8b7c9"/>
<rect y="465.7" height="2.8" fill="#acb9ca"/>
<rect y="468.2" height="1.6" fill="#a0b1c9"/>
<rect y="469.5" height="0.8" fill="#afbcca"/>
<rect y="470.0" height="1.6" fill="#d4d7ca"/>
<rect y="471.3" height="1.6" fill="#dfdfc9"/>
<rect y="472.6" height="1.6" fill="#e9ddc0"/>
<rect y="473.9" height="1.1" fill="#dedec9"/>
<rect y="474.7" height="2.3" fill="#e17464"/>
<rect y="476.7" height="1.3" fill="#e07060"/>
</g>
<g class="hc" transform="translate(437.30,0)">
<rect y="247.3" height="1.9" fill="#e38473"/>
<rect y="248.9" height="2.0" fill="#e59482"/>
<rect y="250.6" height="2.8" fill="#ebcfb3"/>
<rect y="253.1" height="1.2" fill="#ead9bc"/>
<rect y="254.0" height="1.6" fill="#e8aa94"/>
<rect y="255.3" height="1.0" fill="#e69986"/>
<rect y="256.0" height="1.6" fill="#ebd0b3"/>
<rect y="257.3" height="0.6" fill="#e9ddc0"/>
<rect y="257.6" height="2.3" fill="#e8e1c4"/>
<rect y="259.6" height="0.4" fill="#e8e3c6"/>
<rect y="259.7" height="1.9" fill="#e58f7d"/>
<rect y="261.3" height="2.8" fill="#e69583"/>
<rect y="263.8" height="1.3" fill="#e38574"/>
<rect y="264.8" height="1.3" fill="#e8a490"/>
<rect y="265.8" height="1.9" fill="#e9ae98"/>
<rect y="267.4" height="0.9" fill="#e69886"/>
<rect y="268.0" height="2.8" fill="#839bc5"/>
<rect y="270.5" height="0.7" fill="#98abc8"/>
<rect y="270.9" height="2.8" fill="#ebc3a8"/>
<rect y="273.4" height="2.8" fill="#ead3b6"/>
<rect y="275.9" height="3.0" fill="#e9dabd"/>
<rect y="278.6" height="1.0" fill="#e8e4c7"/>
<rect y="279.3" height="2.3" fill="#e27b6a"/>
<rect y="281.3" height="1.6" fill="#e07161"/>
<rect y="282.6" height="1.9" fill="#df6656"/>
<rect y="284.2" height="1.6" fill="#df6a5a"/>
<rect y="285.5" height="1.6" fill="#e27f6e"/>
<rect y="286.8" height="0.5" fill="#e27e6d"/>
<rect y="287.0" height="1.3" fill="#dd5f50"/>
<rect y="288.0" height="2.3" fill="#e27d6c"/>
<rect y="290.0" height="3.3" fill="#e07261"/>
<rect y="293.0" height="1.3" fill="#db5346"/>
<rect y="294.0" height="1.6" fill="#db5044"/>
<rect y="295.3" height="3.3" fill="#da4b3f"/>
<rect y="298.3" height="1.6" fill="#de6152"/>
<rect y="299.6" height="1.6" fill="#d73a31"/>
<rect y="300.9" height="1.6" fill="#d9463b"/>
<rect y="302.2" height="1.3" fill="#dc594b"/>
<rect y="303.2" height="2.3" fill="#df6556"/>
<rect y="305.2" height="3.3" fill="#d84137"/>
<rect y="308.2" height="1.6" fill="#d9483d"/>
<rect y="309.5" height="2.8" fill="#dc584b"/>
<rect y="312.0" height="1.8" fill="#de6454"/>
<rect y="313.5" height="1.8" fill="#e9ac96"/>
<rect y="315.0" height="1.9" fill="#e48a78"/>
<rect y="316.6" height="2.8" fill="#e17463"/>
<rect y="319.1" height="2.2" fill="#e48a78"/>
<rect y="321.0" height="1.9" fill="#d6342c"/>
<rect y="322.6" height="1.9" fill="#d6342c"/>
<rect y="324.2" height="1.3" fill="#da493e"/>
<rect y="325.2" height="1.6" fill="#d6342c"/>
<rect y="326.5" height="1.3" fill="#da4a3f"/>
<rect y="327.5" height="1.9" fill="#da4d41"/>
<rect y="329.1" height="1.6" fill="#d84037"/>
<rect y="330.4" height="1.6" fill="#d6342c"/>
<rect y="331.7" height="3.3" fill="#ead5b9"/>
<rect y="334.7" height="1.9" fill="#e8e2c5"/>
<rect y="336.3" height="2.8" fill="#ebd2b6"/>
<rect y="338.8" height="2.8" fill="#e9dfc2"/>
<rect y="341.3" height="1.9" fill="#dfdec9"/>
<rect y="342.9" height="1.3" fill="#ead6b9"/>
<rect y="343.9" height="1.4" fill="#e8e1c4"/>
<rect y="345.0" height="1.3" fill="#99acc8"/>
<rect y="346.0" height="1.3" fill="#a8b6c9"/>
<rect y="347.0" height="1.9" fill="#90a4c7"/>
<rect y="348.6" height="1.6" fill="#8fa4c6"/>
<rect y="349.9" height="1.3" fill="#a1b1c9"/>
<rect y="350.9" height="1.9" fill="#b5c0cb"/>
<rect y="352.5" height="2.3" fill="#b3becb"/>
<rect y="354.5" height="1.3" fill="#a7b6c9"/>
<rect y="355.5" height="1.3" fill="#e7a08c"/>
<rect y="356.5" height="1.6" fill="#e48c7a"/>
<rect y="357.8" height="1.6" fill="#e9ad97"/>
<rect y="359.1" height="1.6" fill="#e9b099"/>
<rect y="360.4" height="1.9" fill="#e69b88"/>
<rect y="362.0" height="2.8" fill="#e06e5e"/>
<rect y="364.5" height="1.9" fill="#e27e6d"/>
<rect y="366.1" height="1.4" fill="#e48b7a"/>
<rect y="367.2" height="1.9" fill="#c5cbcc"/>
<rect y="368.8" height="1.5" fill="#a7b6c9"/>
<rect y="370.0" height="1.3" fill="#e8a993"/>
<rect y="371.0" height="2.8" fill="#e79d8a"/>
<rect y="373.5" height="2.6" fill="#eab59d"/>
<rect y="375.8" height="2.3" fill="#a9b8ca"/>
<rect y="377.8" height="3.3" fill="#b6c1cb"/>
<rect y="380.8" height="1.0" fill="#bac4cb"/>
<rect y="381.5" height="2.3" fill="#adbaca"/>
<rect y="383.5" height="1.9" fill="#a2b2c9"/>
<rect y="385.1" height="1.6" fill="#93a7c7"/>
<rect y="386.4" height="3.3" fill="#a4b3c9"/>
<rect y="389.4" height="1.6" fill="#96a9c7"/>
<rect y="390.7" height="0.4" fill="#aebbca"/>
<rect y="390.8" height="1.6" fill="#5272b8"/>
<rect y="392.1" height="0.5" fill="#7691c4"/>
<rect y="392.3" height="1.9" fill="#a7b6c9"/>
<rect y="393.9" height="1.3" fill="#99acc8"/>
<rect y="394.9" height="2.3" fill="#b8c2cb"/>
<rect y="396.9" height="3.3" fill="#bcc5cc"/>
<rect y="399.9" height="2.8" fill="#a0b1c9"/>
<rect y="402.4" height="1.9" fill="#97aac8"/>
<rect y="404.0" height="0.7" fill="#9daec8"/>
<rect y="404.4" height="2.3" fill="#5172b8"/>
<rect y="406.4" height="1.9" fill="#829ac5"/>
<rect y="408.0" height="2.5" fill="#6180bf"/>
<rect y="410.2" height="1.3" fill="#ebd0b4"/>
<rect y="411.2" height="1.9" fill="#e4e2c8"/>
<rect y="412.8" height="1.6" fill="#dbdcc9"/>
<rect y="414.1" height="2.2" fill="#dfdec9"/>
<rect y="416.0" height="1.9" fill="#b1bdca"/>
<rect y="417.6" height="1.6" fill="#a8b6c9"/>
<rect y="418.9" height="1.3" fill="#a1b2c9"/>
<rect y="419.9" height="0.6" fill="#a3b3c9"/>
<rect y="420.2" height="2.8" fill="#e69c89"/>
<rect y="422.7" height="0.6" fill="#e58f7d"/>
<rect y="423.0" height="3.3" fill="#d5d7ca"/>
<rect y="426.0" height="2.8" fill="#e9ddc0"/>
<rect y="428.5" height="1.6" fill="#e7e4c8"/>
<rect y="429.8" height="1.5" fill="#e8e2c5"/>
<rect y="431.0" height="2.8" fill="#8ca1c6"/>
<rect y="433.5" height="1.9" fill="#9caec8"/>
<rect y="435.1" height="2.3" fill="#7f98c5"/>
<rect y="437.1" height="3.3" fill="#97aac8"/>
<rect y="440.1" height="1.6" fill="#7a94c4"/>
<rect y="441.4" height="3.3" fill="#a3b3c9"/>
<rect y="444.4" height="3.3" fill="#8ea3c6"/>
<rect y="447.4" height="3.2" fill="#a0b0c8"/>
<rect y="450.3" height="1.6" fill="#ead8bc"/>
<rect y="451.6" height="1.2" fill="#e8e3c6"/>
<rect y="452.5" height="1.3" fill="#8ea3c6"/>
<rect y="453.5" height="2.8" fill="#8da2c6"/>
<rect y="456.0" height="3.3" fill="#879ec6"/>
<rect y="459.0" height="1.7" fill="#eab79e"/>
<rect y="460.4" height="1.3" fill="#97aac7"/>
<rect y="461.4" height="1.6" fill="#afbcca"/>
<rect y="462.7" height="1.3" fill="#a5b4c9"/>
<rect y="463.7" height="2.3" fill="#acb9ca"/>
<rect y="465.7" height="3.3" fill="#96a9c7"/>
<rect y="468.7" height="2.0" fill="#b1bdca"/>
<rect y="470.4" height="2.3" fill="#8fa4c7"/>
<rect y="472.4" height="2.3" fill="#a6b5c9"/>
<rect y="474.4" height="3.3" fill="#acb9ca"/>
<rect y="477.4" height="0.6" fill="#869dc5"/>
</g>
<g class="hc" transform="translate(458.80,0)">
<rect y="247.3" height="2.8" fill="#ebc0a5"/>
<rect y="249.8" height="2.5" fill="#e9ac96"/>
<rect y="252.0" height="1.3" fill="#e17463"/>
<rect y="253.0" height="1.6" fill="#e27969"/>
<rect y="254.3" height="0.8" fill="#e59280"/>
<rect y="254.8" height="3.3" fill="#d94439"/>
<rect y="257.8" height="2.3" fill="#da4b3f"/>
<rect y="259.8" height="0.9" fill="#dd5f50"/>
<rect y="260.4" height="3.3" fill="#e58f7e"/>
<rect y="263.4" height="0.9" fill="#e27f6e"/>
<rect y="264.0" height="3.3" fill="#e8a792"/>
<rect y="267.0" height="2.1" fill="#e8a994"/>
<rect y="268.8" height="1.9" fill="#e17463"/>
<rect y="270.4" height="3.3" fill="#e38574"/>
<rect y="273.4" height="2.8" fill="#e48d7c"/>
<rect y="275.9" height="1.4" fill="#e5917f"/>
<rect y="277.0" height="1.9" fill="#ead6ba"/>
<rect y="278.6" height="1.0" fill="#e9dfc2"/>
<rect y="279.3" height="2.4" fill="#607fbe"/>
<rect y="281.4" height="3.3" fill="#d9daca"/>
<rect y="284.4" height="2.3" fill="#d7d8ca"/>
<rect y="286.4" height="0.9" fill="#e8e2c5"/>
<rect y="287.0" height="2.8" fill="#ebc3a8"/>
<rect y="289.5" height="1.3" fill="#e79f8b"/>
<rect y="290.5" height="1.3" fill="#ebbea4"/>
<rect y="291.5" height="1.3" fill="#e8a590"/>
<rect y="292.5" height="2.3" fill="#e79c89"/>
<rect y="294.5" height="2.3" fill="#ebc2a7"/>
<rect y="296.5" height="0.8" fill="#ecc8ac"/>
<rect y="297.0" height="1.3" fill="#abb9ca"/>
<rect y="298.0" height="2.8" fill="#afbcca"/>
<rect y="300.5" height="1.8" fill="#aab8ca"/>
<rect y="302.0" height="3.3" fill="#e8e5c8"/>
<rect y="305.0" height="1.3" fill="#b9c3cb"/>
<rect y="306.0" height="1.6" fill="#b1bdca"/>
<rect y="307.3" height="1.0" fill="#adbaca"/>
<rect y="308.0" height="1.6" fill="#dbdcc9"/>
<rect y="309.3" height="2.3" fill="#ead9bd"/>
<rect y="311.3" height="2.3" fill="#e8e5c8"/>
<rect y="313.3" height="0.5" fill="#e8e2c5"/>
<rect y="313.5" height="2.3" fill="#b2bdca"/>
<rect y="315.5" height="1.9" fill="#a5b5c9"/>
<rect y="317.1" height="1.9" fill="#c6cccb"/>
<rect y="318.7" height="1.3" fill="#cacfcb"/>
<rect y="319.7" height="1.6" fill="#c1c9cc"/>
<rect y="321.0" height="3.3" fill="#cfd3ca"/>
<rect y="324.0" height="1.9" fill="#c6cccb"/>
<rect y="325.6" height="2.3" fill="#e8e1c5"/>
<rect y="327.6" height="2.8" fill="#c6cdcb"/>
<rect y="330.1" height="1.9" fill="#e3e1c9"/>
<rect y="331.7" height="1.3" fill="#df6959"/>
<rect y="332.7" height="1.3" fill="#da4c40"/>
<rect y="333.7" height="1.9" fill="#dc5649"/>
<rect y="335.3" height="1.6" fill="#df6b5b"/>
<rect y="336.6" height="1.7" fill="#de6152"/>
<rect y="338.0" height="1.9" fill="#e79e8b"/>
<rect y="339.6" height="1.9" fill="#e3806f"/>
<rect y="341.2" height="2.3" fill="#e27b6a"/>
<rect y="343.2" height="2.1" fill="#e59382"/>
<rect y="345.0" height="2.8" fill="#e06f5f"/>
<rect y="347.5" height="3.3" fill="#e38775"/>
<rect y="350.5" height="0.8" fill="#e17665"/>
<rect y="351.0" height="2.8" fill="#d6342c"/>
<rect y="353.5" height="2.3" fill="#d6342c"/>
<rect y="355.5" height="2.3" fill="#e48877"/>
<rect y="357.5" height="2.8" fill="#e38473"/>
<rect y="360.0" height="1.7" fill="#da4d41"/>
<rect y="361.4" height="1.9" fill="#e69886"/>
<rect y="363.0" height="3.0" fill="#e38271"/>
<rect y="365.7" height="2.6" fill="#e6e4c8"/>
<rect y="368.0" height="3.3" fill="#b6c1cb"/>
<rect y="371.0" height="2.3" fill="#c2cacc"/>
<rect y="373.0" height="2.3" fill="#b1bdca"/>
<rect y="375.0" height="3.3" fill="#b3becb"/>
<rect y="378.0" height="1.6" fill="#c0c8cc"/>
<rect y="379.3" height="2.3" fill="#c2cacc"/>
<rect y="381.3" height="0.5" fill="#d1d4ca"/>
<rect y="381.5" height="2.3" fill="#e17565"/>
<rect y="383.5" height="1.8" fill="#e38170"/>
<rect y="385.0" height="1.3" fill="#ebd1b5"/>
<rect y="386.0" height="2.8" fill="#ead4b7"/>
<rect y="388.5" height="1.6" fill="#ebcbaf"/>
<rect y="389.8" height="2.8" fill="#ebd0b4"/>
<rect y="392.3" height="1.0" fill="#eabba1"/>
<rect y="393.0" height="2.3" fill="#b4bfcb"/>
<rect y="395.0" height="3.3" fill="#bac3cb"/>
<rect y="398.0" height="1.0" fill="#b0bcca"/>
<rect y="398.7" height="1.3" fill="#e8e5c8"/>
<rect y="399.7" height="2.8" fill="#ead6ba"/>
<rect y="402.2" height="1.1" fill="#e9dfc2"/>
<rect y="403.0" height="2.8" fill="#a7b6c9"/>
<rect y="405.5" height="1.6" fill="#90a5c7"/>
<rect y="406.8" height="1.6" fill="#9eafc8"/>
<rect y="408.1" height="2.4" fill="#a0b1c9"/>
<rect y="410.2" height="1.9" fill="#e7a38f"/>
<rect y="411.8" height="1.3" fill="#ecc6ab"/>
<rect y="412.8" height="2.0" fill="#e8aa94"/>
<rect y="414.5" height="2.3" fill="#c3cbcc"/>
<rect y="416.5" height="2.3" fill="#9eafc8"/>
<rect y="418.5" height="2.3" fill="#c2c9cc"/>
<rect y="420.5" height="2.8" fill="#bfc7cc"/>
<rect y="423.0" height="2.3" fill="#ead5b8"/>
<rect y="425.0" height="0.5" fill="#ead6b9"/>
<rect y="425.2" height="1.6" fill="#7590c3"/>
<rect y="426.5" height="1.2" fill="#607fbe"/>
<rect y="427.4" height="3.3" fill="#e0dfc9"/>
<rect y="430.4" height="2.3" fill="#c7cdcb"/>
<rect y="432.4" height="0.9" fill="#c3cacc"/>
<rect y="433.0" height="1.6" fill="#aebbca"/>
<rect y="434.3" height="1.3" fill="#bec7cc"/>
<rect y="435.3" height="1.9" fill="#cbd0cb"/>
<rect y="436.9" height="2.4" fill="#afbcca"/>
<rect y="439.0" height="3.3" fill="#98abc8"/>
<rect y="442.0" height="1.3" fill="#879ec6"/>
<rect y="443.0" height="1.9" fill="#9caec8"/>
<rect y="444.6" height="2.8" fill="#8ba1c6"/>
<rect y="447.1" height="1.9" fill="#8da2c6"/>
<rect y="448.7" height="2.8" fill="#829ac5"/>
<rect y="451.2" height="0.9" fill="#91a5c7"/>
<rect y="451.8" height="2.3" fill="#e5907e"/>
<rect y="453.8" height="1.9" fill="#e27e6d"/>
<rect y="455.4" height="1.6" fill="#e38675"/>
<rect y="456.7" height="1.1" fill="#e38271"/>
<rect y="457.5" height="1.3" fill="#e8a792"/>
<rect y="458.5" height="2.2" fill="#eab69e"/>
<rect y="460.4" height="1.3" fill="#96a9c7"/>
<rect y="461.4" height="2.3" fill="#b9c3cb"/>
<rect y="463.4" height="3.3" fill="#a7b6c9"/>
<rect y="466.4" height="1.4" fill="#9fb0c8"/>
<rect y="467.5" height="2.3" fill="#dadbc9"/>
<rect y="469.5" height="1.6" fill="#c8cecb"/>
<rect y="470.8" height="3.3" fill="#c1c9cc"/>
<rect y="473.8" height="2.3" fill="#c2cacc"/>
<rect y="475.8" height="2.2" fill="#bcc5cc"/>
</g>
<g class="hc" transform="translate(481.40,0)">
<rect y="247.3" height="1.9" fill="#9daec8"/>
<rect y="248.9" height="2.8" fill="#7b95c4"/>
<rect y="251.4" height="2.3" fill="#a6b5c9"/>
<rect y="253.4" height="1.9" fill="#9eafc8"/>
<rect y="255.0" height="1.6" fill="#839bc5"/>
<rect y="256.3" height="1.6" fill="#859dc5"/>
<rect y="257.6" height="1.9" fill="#7d97c4"/>
<rect y="259.2" height="2.8" fill="#91a5c7"/>
<rect y="261.7" height="0.4" fill="#a3b3c9"/>
<rect y="261.8" height="2.3" fill="#7994c4"/>
<rect y="263.8" height="3.3" fill="#6785c1"/>
<rect y="266.8" height="1.5" fill="#6c89c2"/>
<rect y="268.0" height="2.3" fill="#a7b6c9"/>
<rect y="270.0" height="1.2" fill="#ccd0cb"/>
<rect y="270.9" height="1.6" fill="#e8e2c5"/>
<rect y="272.2" height="1.1" fill="#dedec9"/>
<rect y="273.0" height="2.3" fill="#afbcca"/>
<rect y="275.0" height="2.5" fill="#c0c8cc"/>
<rect y="277.2" height="3.3" fill="#4d6eb7"/>
<rect y="280.2" height="1.3" fill="#7691c3"/>
<rect y="281.2" height="1.9" fill="#5172b8"/>
<rect y="282.8" height="3.1" fill="#7691c4"/>
<rect y="285.6" height="3.3" fill="#90a4c7"/>
<rect y="288.6" height="1.9" fill="#9aacc8"/>
<rect y="290.2" height="2.3" fill="#a1b1c9"/>
<rect y="292.2" height="1.9" fill="#8ea3c6"/>
<rect y="293.8" height="0.5" fill="#7892c4"/>
<rect y="294.0" height="1.9" fill="#728ec3"/>
<rect y="295.6" height="1.4" fill="#9eafc8"/>
<rect y="296.7" height="1.3" fill="#acbaca"/>
<rect y="297.7" height="1.6" fill="#a5b4c9"/>
<rect y="299.0" height="1.9" fill="#b6c1cb"/>
<rect y="300.6" height="2.3" fill="#9aacc8"/>
<rect y="302.6" height="3.3" fill="#a9b7c9"/>
<rect y="305.6" height="1.9" fill="#abb9ca"/>
<rect y="307.2" height="2.3" fill="#9eafc8"/>
<rect y="309.2" height="1.9" fill="#b3becb"/>
<rect y="310.8" height="2.3" fill="#97aac7"/>
<rect y="312.8" height="2.3" fill="#a0b1c9"/>
<rect y="314.8" height="0.5" fill="#b4bfcb"/>
<rect y="315.0" height="1.3" fill="#8199c5"/>
<rect y="316.0" height="2.0" fill="#718dc3"/>
<rect y="317.7" height="1.3" fill="#a8b6c9"/>
<rect y="318.7" height="2.6" fill="#a0b1c9"/>
<rect y="321.0" height="2.3" fill="#e1e0c9"/>
<rect y="323.0" height="1.9" fill="#93a7c7"/>
<rect y="324.6" height="1.1" fill="#849bc5"/>
<rect y="325.4" height="3.3" fill="#bac3cb"/>
<rect y="328.4" height="1.9" fill="#c2c9cc"/>
<rect y="330.0" height="1.9" fill="#9eafc8"/>
<rect y="331.6" height="1.1" fill="#c1c9cc"/>
<rect y="332.4" height="3.3" fill="#e8a892"/>
<rect y="335.4" height="0.8" fill="#ebd0b4"/>
<rect y="335.9" height="1.6" fill="#b8c2cb"/>
<rect y="337.2" height="1.8" fill="#dbdcc9"/>
<rect y="338.7" height="2.3" fill="#9fb0c8"/>
<rect y="340.7" height="2.3" fill="#a0b0c9"/>
<rect y="342.7" height="1.6" fill="#a4b4c9"/>
<rect y="344.0" height="1.3" fill="#7893c4"/>
<rect y="345.0" height="3.3" fill="#eab49c"/>
<rect y="348.0" height="1.5" fill="#e79d8a"/>
<rect y="349.2" height="2.8" fill="#a7b6c9"/>
<rect y="351.7" height="1.9" fill="#b0bcca"/>
<rect y="353.3" height="2.5" fill="#a1b1c9"/>
<rect y="355.5" height="1.6" fill="#829ac5"/>
<rect y="356.8" height="1.6" fill="#7b94c4"/>
<rect y="358.1" height="0.5" fill="#8fa4c7"/>
<rect y="358.3" height="2.0" fill="#bbc4cb"/>
<rect y="360.0" height="1.9" fill="#dadbc9"/>
<rect y="361.6" height="1.6" fill="#ead9bc"/>
<rect y="362.9" height="1.3" fill="#ecc8ac"/>
<rect y="363.9" height="1.3" fill="#eccaae"/>
<rect y="364.9" height="2.3" fill="#ebbea4"/>
<rect y="366.9" height="1.3" fill="#e8a791"/>
<rect y="367.9" height="1.6" fill="#e9ae98"/>
<rect y="369.2" height="2.3" fill="#e7a38f"/>
<rect y="371.2" height="1.3" fill="#e9ae98"/>
<rect y="372.2" height="2.8" fill="#ead4b8"/>
<rect y="374.7" height="3.3" fill="#ead7ba"/>
<rect y="377.7" height="0.5" fill="#e7e5c8"/>
<rect y="377.9" height="2.8" fill="#6886c1"/>
<rect y="380.4" height="1.9" fill="#8099c5"/>
<rect y="382.0" height="0.5" fill="#718dc3"/>
<rect y="382.2" height="1.6" fill="#b6c1cb"/>
<rect y="383.5" height="1.6" fill="#b8c2cb"/>
<rect y="384.8" height="2.8" fill="#b4bfcb"/>
<rect y="387.3" height="1.3" fill="#bcc5cc"/>
<rect y="388.3" height="1.6" fill="#c0c8cc"/>
<rect y="389.6" height="1.5" fill="#c6cdcb"/>
<rect y="390.8" height="1.3" fill="#ead4b8"/>
<rect y="391.8" height="1.3" fill="#e7e5c8"/>
<rect y="392.8" height="0.5" fill="#ebcdb1"/>
<rect y="393.0" height="1.6" fill="#b0bcca"/>
<rect y="394.3" height="1.9" fill="#8da3c6"/>
<rect y="395.9" height="1.9" fill="#97aac8"/>
<rect y="397.5" height="1.3" fill="#95a8c7"/>
<rect y="398.5" height="2.8" fill="#95a9c7"/>
<rect y="401.0" height="0.9" fill="#9dafc8"/>
<rect y="401.6" height="1.6" fill="#e8a48f"/>
<rect y="402.9" height="1.9" fill="#e59482"/>
<rect y="404.5" height="3.3" fill="#e48b7a"/>
<rect y="407.5" height="0.8" fill="#e69b88"/>
<rect y="408.0" height="1.8" fill="#cdd1cb"/>
<rect y="409.5" height="1.6" fill="#e06c5c"/>
<rect y="410.8" height="1.9" fill="#df6757"/>
<rect y="412.4" height="1.6" fill="#d73830"/>
<rect y="413.7" height="1.3" fill="#da4e42"/>
<rect y="414.7" height="3.3" fill="#d83d33"/>
<rect y="417.7" height="1.3" fill="#d84238"/>
<rect y="418.7" height="2.3" fill="#da4a3e"/>
<rect y="420.7" height="1.6" fill="#da4d41"/>
<rect y="422.0" height="1.3" fill="#de6354"/>
<rect y="423.0" height="1.8" fill="#db5144"/>
<rect y="424.5" height="1.3" fill="#e4e2c8"/>
<rect y="425.5" height="2.2" fill="#e9e0c3"/>
<rect y="427.4" height="1.6" fill="#e27e6d"/>
<rect y="428.7" height="1.3" fill="#e27d6c"/>
<rect y="429.7" height="2.3" fill="#e27b6a"/>
<rect y="431.7" height="2.3" fill="#e06c5c"/>
<rect y="433.7" height="3.3" fill="#e58e7d"/>
<rect y="436.7" height="1.3" fill="#e58e7d"/>
<rect y="437.7" height="1.5" fill="#e07261"/>
<rect y="438.9" height="2.3" fill="#eab89f"/>
<rect y="440.9" height="1.9" fill="#e9ad97"/>
<rect y="442.5" height="2.3" fill="#e8a993"/>
<rect y="444.5" height="1.6" fill="#e79f8b"/>
<rect y="445.8" height="0.5" fill="#e7a18d"/>
<rect y="446.0" height="2.3" fill="#e7a18d"/>
<rect y="448.0" height="1.3" fill="#e59381"/>
<rect y="449.0" height="1.9" fill="#e5907f"/>
<rect y="450.6" height="1.6" fill="#e7a18d"/>
<rect y="451.9" height="1.3" fill="#e48c7a"/>
<rect y="452.9" height="0.6" fill="#e27f6e"/>
<rect y="453.2" height="2.3" fill="#e9dabd"/>
<rect y="455.2" height="2.8" fill="#ebbca2"/>
<rect y="457.7" height="3.0" fill="#ebcdb1"/>
<rect y="460.4" height="1.6" fill="#e8a993"/>
<rect y="461.7" height="1.6" fill="#e7a08d"/>
<rect y="463.0" height="1.3" fill="#eab59c"/>
<rect y="464.0" height="2.3" fill="#e69583"/>
<rect y="466.0" height="1.1" fill="#e8ab95"/>
<rect y="466.8" height="1.3" fill="#ccd1cb"/>
<rect y="467.8" height="2.3" fill="#b1bdca"/>
<rect y="469.8" height="2.8" fill="#cacfcb"/>
<rect y="472.3" height="1.3" fill="#a9b7c9"/>
<rect y="473.3" height="3.3" fill="#cdd1cb"/>
<rect y="476.3" height="1.6" fill="#ced2cb"/>
<rect y="477.6" height="0.4" fill="#cdd1cb"/>
</g>
<g class="hc" transform="translate(503.00,0)">
<rect y="247.3" height="2.8" fill="#8fa4c7"/>
<rect y="249.8" height="2.3" fill="#6d8bc2"/>
<rect y="251.8" height="1.6" fill="#6685c1"/>
<rect y="253.1" height="2.8" fill="#6c8ac2"/>
<rect y="255.6" height="0.9" fill="#6a88c2"/>
<rect y="256.2" height="1.6" fill="#b5c0cb"/>
<rect y="257.5" height="1.6" fill="#8da3c6"/>
<rect y="258.8" height="2.8" fill="#b0bcca"/>
<rect y="261.3" height="0.8" fill="#8da3c6"/>
<rect y="261.8" height="1.9" fill="#b1bdca"/>
<rect y="263.4" height="2.8" fill="#bec7cc"/>
<rect y="265.9" height="3.3" fill="#ccd0cb"/>
<rect y="268.9" height="1.6" fill="#bdc6cc"/>
<rect y="270.2" height="2.8" fill="#6785c1"/>
<rect y="272.7" height="2.3" fill="#7c96c4"/>
<rect y="274.7" height="2.3" fill="#7490c3"/>
<rect y="276.7" height="0.8" fill="#5c7bbc"/>
<rect y="277.2" height="2.8" fill="#e59381"/>
<rect y="279.7" height="2.0" fill="#eab89f"/>
<rect y="281.4" height="2.8" fill="#a6b5c9"/>
<rect y="283.9" height="2.3" fill="#a8b6c9"/>
<rect y="285.9" height="1.4" fill="#96a9c7"/>
<rect y="287.0" height="1.3" fill="#6b89c2"/>
<rect y="288.0" height="2.3" fill="#7792c4"/>
<rect y="290.0" height="2.3" fill="#7e97c4"/>
<rect y="292.0" height="3.3" fill="#6685c1"/>
<rect y="295.0" height="3.3" fill="#6b89c2"/>
<rect y="298.0" height="1.8" fill="#7490c3"/>
<rect y="299.5" height="3.3" fill="#a3b3c9"/>
<rect y="302.5" height="1.3" fill="#acb9ca"/>
<rect y="303.5" height="2.3" fill="#a8b7c9"/>
<rect y="305.5" height="1.6" fill="#8da2c6"/>
<rect y="306.8" height="1.3" fill="#b5c0cb"/>
<rect y="307.8" height="1.8" fill="#aab8ca"/>
<rect y="309.3" height="1.3" fill="#7892c4"/>
<rect y="310.3" height="2.3" fill="#7d96c4"/>
<rect y="312.3" height="1.5" fill="#91a5c7"/>
<rect y="313.5" height="3.3" fill="#b3becb"/>
<rect y="316.5" height="1.3" fill="#afbcca"/>
<rect y="317.5" height="2.8" fill="#acbaca"/>
<rect y="320.0" height="1.3" fill="#9cadc8"/>
<rect y="321.0" height="2.6" fill="#e5907e"/>
<rect y="323.3" height="2.3" fill="#abb9ca"/>
<rect y="325.3" height="2.8" fill="#cbd0cb"/>
<rect y="327.8" height="2.3" fill="#adbaca"/>
<rect y="329.8" height="1.9" fill="#bdc6cc"/>
<rect y="331.4" height="1.3" fill="#b2beca"/>
<rect y="332.4" height="1.3" fill="#ebc3a8"/>
<rect y="333.4" height="2.3" fill="#ecc5a9"/>
<rect y="335.4" height="1.9" fill="#e8ab95"/>
<rect y="337.0" height="2.3" fill="#ecc4a9"/>
<rect y="339.0" height="1.4" fill="#ecc7ab"/>
<rect y="340.1" height="2.8" fill="#e17564"/>
<rect y="342.6" height="1.9" fill="#d9443a"/>
<rect y="344.2" height="1.1" fill="#dd5b4d"/>
<rect y="345.0" height="2.8" fill="#a2b2c9"/>
<rect y="347.5" height="1.3" fill="#8ea3c6"/>
<rect y="348.5" height="2.8" fill="#a0b1c9"/>
<rect y="351.0" height="0.6" fill="#a4b4c9"/>
<rect y="351.3" height="1.9" fill="#a8b7c9"/>
<rect y="352.9" height="1.9" fill="#b4bfcb"/>
<rect y="354.5" height="1.9" fill="#abb8ca"/>
<rect y="356.1" height="1.3" fill="#afbcca"/>
<rect y="357.1" height="1.6" fill="#b6c0cb"/>
<rect y="358.4" height="1.3" fill="#a9b7ca"/>
<rect y="359.4" height="0.9" fill="#a8b6c9"/>
<rect y="360.0" height="3.2" fill="#dbdcc9"/>
<rect y="362.9" height="2.8" fill="#8aa0c6"/>
<rect y="365.4" height="1.9" fill="#8098c5"/>
<rect y="367.0" height="3.3" fill="#5c7cbd"/>
<rect y="370.0" height="1.6" fill="#6987c2"/>
<rect y="371.3" height="2.6" fill="#708dc3"/>
<rect y="373.6" height="2.8" fill="#c2cacc"/>
<rect y="376.1" height="1.3" fill="#b9c3cb"/>
<rect y="377.1" height="1.6" fill="#cdd1cb"/>
<rect y="378.4" height="1.3" fill="#b5c0cb"/>
<rect y="379.4" height="0.9" fill="#cbd0cb"/>
<rect y="380.0" height="1.9" fill="#ecc7ab"/>
<rect y="381.6" height="1.9" fill="#e9b39b"/>
<rect y="383.2" height="2.3" fill="#e9b099"/>
<rect y="385.2" height="2.8" fill="#ecc6aa"/>
<rect y="387.7" height="1.3" fill="#e9ae97"/>
<rect y="388.7" height="2.3" fill="#e2e1c9"/>
<rect y="390.7" height="1.3" fill="#ebd1b5"/>
<rect y="391.7" height="1.6" fill="#ead9bc"/>
<rect y="393.0" height="2.3" fill="#ebbfa4"/>
<rect y="395.0" height="1.9" fill="#ebbca2"/>
<rect y="396.6" height="3.3" fill="#e06d5d"/>
<rect y="399.6" height="2.3" fill="#e06c5b"/>
<rect y="401.6" height="1.3" fill="#e59180"/>
<rect y="402.6" height="0.7" fill="#df6858"/>
<rect y="403.0" height="2.8" fill="#afbcca"/>
<rect y="405.5" height="0.7" fill="#aebbca"/>
<rect y="405.9" height="2.8" fill="#ebccb0"/>
<rect y="408.4" height="1.4" fill="#e9ddc1"/>
<rect y="409.5" height="1.3" fill="#97aac8"/>
<rect y="410.5" height="2.8" fill="#96aac7"/>
<rect y="413.0" height="1.6" fill="#a0b0c9"/>
<rect y="414.3" height="0.5" fill="#bac3cb"/>
<rect y="414.5" height="1.3" fill="#dcdcc9"/>
<rect y="415.5" height="2.8" fill="#e9dabd"/>
<rect y="418.0" height="1.1" fill="#e1e0c9"/>
<rect y="418.8" height="1.6" fill="#e8aa94"/>
<rect y="420.1" height="0.4" fill="#e8aa95"/>
<rect y="420.2" height="3.3" fill="#e8e2c5"/>
<rect y="423.2" height="1.6" fill="#e2e1c9"/>
<rect y="424.5" height="1.9" fill="#e8a48f"/>
<rect y="426.1" height="1.6" fill="#e8a590"/>
<rect y="427.4" height="3.3" fill="#ead6ba"/>
<rect y="430.4" height="0.9" fill="#e9dec1"/>
<rect y="431.0" height="2.3" fill="#e17463"/>
<rect y="433.0" height="3.3" fill="#e07060"/>
<rect y="436.0" height="1.3" fill="#e17968"/>
<rect y="437.0" height="2.3" fill="#e69583"/>
<rect y="439.0" height="1.3" fill="#e5917f"/>
<rect y="440.0" height="0.6" fill="#e69c89"/>
<rect y="440.3" height="1.9" fill="#e7a18d"/>
<rect y="441.9" height="3.3" fill="#e79f8b"/>
<rect y="444.9" height="1.9" fill="#e8aa94"/>
<rect y="446.5" height="1.9" fill="#e9ae97"/>
<rect y="448.1" height="3.3" fill="#eab79f"/>
<rect y="451.1" height="2.4" fill="#e79d8a"/>
<rect y="453.2" height="1.9" fill="#de6052"/>
<rect y="454.8" height="1.6" fill="#e27d6c"/>
<rect y="456.1" height="2.8" fill="#e3806f"/>
<rect y="458.6" height="1.9" fill="#db5245"/>
<rect y="460.2" height="3.3" fill="#e17766"/>
<rect y="463.2" height="1.6" fill="#dd5b4d"/>
<rect y="464.5" height="1.9" fill="#e17767"/>
<rect y="466.1" height="1.0" fill="#e07160"/>
<rect y="466.8" height="1.6" fill="#d9453a"/>
<rect y="468.1" height="3.3" fill="#d6342c"/>
<rect y="471.1" height="3.3" fill="#d6342c"/>
<rect y="474.1" height="0.9" fill="#d84036"/>
<rect y="474.7" height="2.8" fill="#e58e7d"/>
<rect y="477.2" height="0.8" fill="#e69b88"/>
</g>
<g class="hc" transform="translate(524.60,0)">
<rect y="247.3" height="3.3" fill="#d5d7ca"/>
<rect y="250.3" height="1.9" fill="#e8e2c5"/>
<rect y="251.9" height="2.3" fill="#e5e3c8"/>
<rect y="253.9" height="1.3" fill="#e3e1c9"/>
<rect y="254.9" height="1.6" fill="#d1d4ca"/>
<rect y="256.2" height="1.3" fill="#879ec6"/>
<rect y="257.2" height="2.8" fill="#acb9ca"/>
<rect y="259.7" height="1.9" fill="#adbaca"/>
<rect y="261.3" height="3.3" fill="#839bc5"/>
<rect y="264.3" height="1.3" fill="#899fc6"/>
<rect y="265.3" height="3.3" fill="#a0b1c9"/>
<rect y="268.3" height="0.8" fill="#859cc5"/>
<rect y="268.8" height="1.3" fill="#d6d8ca"/>
<rect y="269.8" height="2.1" fill="#e9ddc0"/>
<rect y="271.6" height="1.6" fill="#bdc6cc"/>
<rect y="272.9" height="2.8" fill="#c0c8cc"/>
<rect y="275.4" height="1.3" fill="#c0c8cc"/>
<rect y="276.4" height="1.1" fill="#c2cacc"/>
<rect y="277.2" height="1.3" fill="#e5e3c8"/>
<rect y="278.2" height="1.6" fill="#e0dfc9"/>
<rect y="279.5" height="1.3" fill="#ebd1b5"/>
<rect y="280.5" height="0.5" fill="#dfdec9"/>
<rect y="280.7" height="3.3" fill="#e27e6d"/>
<rect y="283.7" height="2.3" fill="#e69987"/>
<rect y="285.7" height="1.3" fill="#e17666"/>
<rect y="286.7" height="0.6" fill="#e59482"/>
<rect y="287.0" height="1.9" fill="#9caec8"/>
<rect y="288.6" height="1.9" fill="#8ca2c6"/>
<rect y="290.2" height="1.9" fill="#b3becb"/>
<rect y="291.8" height="1.3" fill="#abb8ca"/>
<rect y="292.8" height="1.5" fill="#b2becb"/>
<rect y="294.0" height="2.8" fill="#e8e5c8"/>
<rect y="296.5" height="1.9" fill="#e8e1c4"/>
<rect y="298.1" height="1.3" fill="#e9dcbf"/>
<rect y="299.1" height="0.7" fill="#e5e3c8"/>
<rect y="299.5" height="1.3" fill="#a4b3c9"/>
<rect y="300.5" height="3.3" fill="#98aac8"/>
<rect y="303.5" height="2.8" fill="#9fb0c8"/>
<rect y="306.0" height="1.3" fill="#adbaca"/>
<rect y="307.0" height="1.9" fill="#9dafc8"/>
<rect y="308.6" height="1.3" fill="#abb8ca"/>
<rect y="309.6" height="1.9" fill="#b4bfcb"/>
<rect y="311.2" height="1.3" fill="#95a9c7"/>
<rect y="312.2" height="2.1" fill="#9aacc8"/>
<rect y="314.0" height="3.3" fill="#e9dcbf"/>
<rect y="317.0" height="1.6" fill="#c3cacc"/>
<rect y="318.3" height="2.8" fill="#abb9ca"/>
<rect y="320.8" height="0.7" fill="#a8b6c9"/>
<rect y="321.2" height="1.6" fill="#a1b2c9"/>
<rect y="322.5" height="1.6" fill="#bbc4cb"/>
<rect y="323.8" height="1.6" fill="#aab8ca"/>
<rect y="325.1" height="1.3" fill="#bbc4cb"/>
<rect y="326.1" height="1.3" fill="#a9b8ca"/>
<rect y="327.1" height="0.7" fill="#acbaca"/>
<rect y="327.5" height="1.3" fill="#ebc1a6"/>
<rect y="328.5" height="1.9" fill="#ead4b7"/>
<rect y="330.1" height="1.9" fill="#eab49c"/>
<rect y="331.7" height="3.3" fill="#869dc5"/>
<rect y="334.7" height="2.9" fill="#839bc5"/>
<rect y="337.3" height="1.6" fill="#4d6eb7"/>
<rect y="338.6" height="1.8" fill="#6b89c2"/>
<rect y="340.1" height="2.8" fill="#acb9ca"/>
<rect y="342.6" height="2.7" fill="#aebbca"/>
<rect y="345.0" height="2.3" fill="#e0e0c9"/>
<rect y="347.0" height="2.5" fill="#ead7bb"/>
<rect y="349.2" height="2.4" fill="#df6a5a"/>
<rect y="351.3" height="1.9" fill="#ebd0b4"/>
<rect y="352.9" height="2.8" fill="#e9dec1"/>
<rect y="355.4" height="0.4" fill="#ebceb2"/>
<rect y="355.5" height="3.3" fill="#b2beca"/>
<rect y="358.5" height="1.8" fill="#b6c1cb"/>
<rect y="360.0" height="1.7" fill="#9eafc8"/>
<rect y="361.4" height="1.6" fill="#e7a08c"/>
<rect y="362.7" height="3.3" fill="#e38574"/>
<rect y="365.7" height="1.6" fill="#e69886"/>
<rect y="367.0" height="0.5" fill="#e7a28e"/>
<rect y="367.2" height="3.3" fill="#d84237"/>
<rect y="370.2" height="2.8" fill="#df6656"/>
<rect y="372.7" height="1.6" fill="#d73a31"/>
<rect y="374.0" height="3.3" fill="#dd5d4e"/>
<rect y="377.0" height="2.8" fill="#dd5b4d"/>
<rect y="379.5" height="0.8" fill="#dd5c4e"/>
<rect y="380.0" height="1.6" fill="#e5917f"/>
<rect y="381.3" height="3.3" fill="#e06c5c"/>
<rect y="384.3" height="1.0" fill="#e06e5d"/>
<rect y="385.0" height="1.3" fill="#e06e5d"/>
<rect y="386.0" height="1.6" fill="#d94339"/>
<rect y="387.3" height="1.9" fill="#db5145"/>
<rect y="388.9" height="2.3" fill="#df6a5a"/>
<rect y="390.9" height="1.3" fill="#dc5649"/>
<rect y="391.9" height="1.3" fill="#df6959"/>
<rect y="392.9" height="2.3" fill="#de6051"/>
<rect y="394.9" height="1.3" fill="#de6354"/>
<rect y="395.9" height="1.7" fill="#db5346"/>
<rect y="397.3" height="2.8" fill="#e06d5d"/>
<rect y="399.8" height="1.9" fill="#e38775"/>
<rect y="401.4" height="1.6" fill="#e5917f"/>
<rect y="402.7" height="0.6" fill="#e48a78"/>
<rect y="403.0" height="3.2" fill="#e5e3c8"/>
<rect y="405.9" height="2.3" fill="#e27b6a"/>
<rect y="407.9" height="1.9" fill="#e17868"/>
<rect y="409.5" height="2.3" fill="#e6e4c8"/>
<rect y="411.5" height="3.3" fill="#e1e0c9"/>
<rect y="414.5" height="3.1" fill="#e0dfc9"/>
<rect y="417.3" height="1.6" fill="#ecc7ab"/>
<rect y="418.6" height="1.9" fill="#ead9bc"/>
<rect y="420.2" height="2.3" fill="#4d6eb7"/>
<rect y="422.2" height="3.3" fill="#6180be"/>
<rect y="425.2" height="2.3" fill="#afbbca"/>
<rect y="427.2" height="1.9" fill="#c1c9cc"/>
<rect y="428.8" height="2.5" fill="#5979bb"/>
<rect y="431.0" height="2.3" fill="#eab59d"/>
<rect y="433.0" height="1.3" fill="#e9ae98"/>
<rect y="434.0" height="2.3" fill="#e9b39b"/>
<rect y="436.0" height="3.2" fill="#e79f8c"/>
<rect y="438.9" height="1.6" fill="#df6758"/>
<rect y="440.2" height="1.9" fill="#e06d5d"/>
<rect y="441.8" height="2.3" fill="#df6b5b"/>
<rect y="443.8" height="1.3" fill="#e59280"/>
<rect y="444.8" height="2.8" fill="#e48978"/>
<rect y="447.3" height="3.3" fill="#e06d5d"/>
<rect y="450.3" height="1.6" fill="#e27a69"/>
<rect y="451.6" height="0.5" fill="#df6a5a"/>
<rect y="451.8" height="2.3" fill="#e9dec1"/>
<rect y="453.8" height="3.3" fill="#e9e0c3"/>
<rect y="456.8" height="1.3" fill="#e9dbbe"/>
<rect y="457.8" height="1.4" fill="#e9dec2"/>
<rect y="458.9" height="2.3" fill="#b3bfcb"/>
<rect y="460.9" height="2.3" fill="#9fb0c8"/>
<rect y="462.9" height="3.3" fill="#9eafc8"/>
<rect y="465.9" height="1.9" fill="#b4bfcb"/>
<rect y="467.5" height="1.3" fill="#dadbc9"/>
<rect y="468.5" height="2.8" fill="#cacfcb"/>
<rect y="471.0" height="1.3" fill="#c6cccb"/>
<rect y="472.0" height="2.3" fill="#ccd1cb"/>
<rect y="474.0" height="1.3" fill="#bec7cc"/>
<rect y="475.0" height="2.3" fill="#d5d7ca"/>
<rect y="477.0" height="1.0" fill="#cacfcb"/>
</g>
<g class="hc" transform="translate(547.20,0)">
<rect y="247.3" height="1.9" fill="#b8c2cb"/>
<rect y="248.9" height="0.6" fill="#d2d5ca"/>
<rect y="249.2" height="2.8" fill="#e79d8a"/>
<rect y="251.7" height="2.3" fill="#eab69e"/>
<rect y="253.7" height="0.7" fill="#ecc6aa"/>
<rect y="254.1" height="1.3" fill="#c5cccc"/>
<rect y="255.1" height="1.4" fill="#adbaca"/>
<rect y="256.2" height="3.1" fill="#9dafc8"/>
<rect y="259.0" height="1.6" fill="#ead5b9"/>
<rect y="260.3" height="1.6" fill="#e8e4c7"/>
<rect y="261.6" height="3.3" fill="#ead5b8"/>
<rect y="264.6" height="2.3" fill="#e9e0c3"/>
<rect y="266.6" height="0.4" fill="#ead7ba"/>
<rect y="266.7" height="3.1" fill="#92a6c7"/>
<rect y="269.5" height="2.3" fill="#a4b4c9"/>
<rect y="271.5" height="1.6" fill="#a1b1c9"/>
<rect y="272.8" height="2.3" fill="#b1bdca"/>
<rect y="274.8" height="2.3" fill="#b1bdca"/>
<rect y="276.8" height="2.3" fill="#95a9c7"/>
<rect y="278.8" height="1.5" fill="#b5c0cb"/>
<rect y="280.0" height="1.9" fill="#ddddc9"/>
<rect y="281.6" height="1.9" fill="#e1e0c9"/>
<rect y="283.2" height="0.6" fill="#e5e3c8"/>
<rect y="283.5" height="3.3" fill="#eab69d"/>
<rect y="286.5" height="0.8" fill="#e9b29b"/>
<rect y="287.0" height="1.9" fill="#b0bcca"/>
<rect y="288.6" height="1.3" fill="#90a4c7"/>
<rect y="289.6" height="2.8" fill="#b2beca"/>
<rect y="292.1" height="1.5" fill="#a4b3c9"/>
<rect y="293.3" height="1.9" fill="#b6c1cb"/>
<rect y="294.9" height="1.3" fill="#b7c2cb"/>
<rect y="295.9" height="1.6" fill="#c3cacc"/>
<rect y="297.2" height="3.3" fill="#a9b7ca"/>
<rect y="300.2" height="1.1" fill="#a2b2c9"/>
<rect y="301.0" height="1.6" fill="#e5907e"/>
<rect y="302.3" height="1.6" fill="#e59482"/>
<rect y="303.6" height="0.4" fill="#e59382"/>
<rect y="303.7" height="1.6" fill="#b2beca"/>
<rect y="305.0" height="2.8" fill="#94a8c7"/>
<rect y="307.5" height="0.8" fill="#a7b5c9"/>
<rect y="308.0" height="1.3" fill="#e7e4c8"/>
<rect y="309.0" height="2.8" fill="#e8e2c5"/>
<rect y="311.5" height="1.9" fill="#d3d6ca"/>
<rect y="313.1" height="3.3" fill="#d4d7ca"/>
<rect y="316.1" height="1.3" fill="#e8e3c7"/>
<rect y="317.1" height="2.2" fill="#e7e4c8"/>
<rect y="319.0" height="1.3" fill="#c2cacc"/>
<rect y="320.0" height="1.9" fill="#bdc6cc"/>
<rect y="321.6" height="1.6" fill="#bfc7cc"/>
<rect y="322.9" height="2.8" fill="#afbcca"/>
<rect y="325.4" height="2.3" fill="#d1d4ca"/>
<rect y="327.4" height="3.3" fill="#c0c8cc"/>
<rect y="330.4" height="1.6" fill="#b3bfcb"/>
<rect y="331.7" height="2.8" fill="#a9b7ca"/>
<rect y="334.2" height="1.3" fill="#8aa0c6"/>
<rect y="335.2" height="1.1" fill="#99acc8"/>
<rect y="336.0" height="2.8" fill="#b1bdca"/>
<rect y="338.5" height="1.9" fill="#bec7cc"/>
<rect y="340.1" height="1.9" fill="#aebbca"/>
<rect y="341.7" height="3.3" fill="#a1b1c9"/>
<rect y="344.7" height="0.6" fill="#acb9ca"/>
<rect y="345.0" height="3.3" fill="#6f8cc3"/>
<rect y="348.0" height="2.8" fill="#708dc3"/>
<rect y="350.5" height="1.1" fill="#9daec8"/>
<rect y="351.3" height="1.9" fill="#7a94c4"/>
<rect y="352.9" height="1.3" fill="#6b88c2"/>
<rect y="353.9" height="0.5" fill="#7792c4"/>
<rect y="354.1" height="1.6" fill="#e8a591"/>
<rect y="355.4" height="1.8" fill="#e59381"/>
<rect y="356.9" height="1.6" fill="#e9dec1"/>
<rect y="358.2" height="1.1" fill="#e9ddc0"/>
<rect y="359.0" height="2.3" fill="#e48a79"/>
<rect y="361.0" height="1.3" fill="#e48a79"/>
<rect y="362.0" height="1.6" fill="#90a5c7"/>
<rect y="363.3" height="1.9" fill="#97aac8"/>
<rect y="364.9" height="2.8" fill="#849cc5"/>
<rect y="367.4" height="1.5" fill="#90a5c7"/>
<rect y="368.6" height="2.3" fill="#adbaca"/>
<rect y="370.6" height="2.8" fill="#c4cbcc"/>
<rect y="373.1" height="2.8" fill="#abb9ca"/>
<rect y="375.6" height="1.6" fill="#b7c2cb"/>
<rect y="376.9" height="1.3" fill="#abb8ca"/>
<rect y="377.9" height="1.9" fill="#b9c3cb"/>
<rect y="379.5" height="1.6" fill="#b5c0cb"/>
<rect y="380.8" height="3.2" fill="#a1b2c9"/>
<rect y="383.7" height="1.3" fill="#eccaae"/>
<rect y="384.7" height="1.4" fill="#eab49c"/>
<rect y="385.8" height="2.8" fill="#e3e1c8"/>
<rect y="388.3" height="2.3" fill="#d8d9ca"/>
<rect y="390.3" height="0.4" fill="#cdd2cb"/>
<rect y="390.4" height="2.3" fill="#cdd1cb"/>
<rect y="392.4" height="3.3" fill="#b6c1cb"/>
<rect y="395.4" height="2.2" fill="#d9dac9"/>
<rect y="397.3" height="2.8" fill="#d3d6ca"/>
<rect y="399.8" height="1.6" fill="#ddddc9"/>
<rect y="401.1" height="0.8" fill="#e0dfc9"/>
<rect y="401.6" height="3.3" fill="#5575ba"/>
<rect y="404.6" height="1.3" fill="#738ec3"/>
<rect y="405.6" height="0.6" fill="#708dc3"/>
<rect y="405.9" height="1.6" fill="#879ec6"/>
<rect y="407.2" height="1.6" fill="#a9b7ca"/>
<rect y="408.5" height="1.3" fill="#a6b5c9"/>
<rect y="409.5" height="3.3" fill="#eab9a0"/>
<rect y="412.5" height="0.8" fill="#e59381"/>
<rect y="413.0" height="2.8" fill="#b9c3cb"/>
<rect y="415.5" height="1.4" fill="#a5b4c9"/>
<rect y="416.6" height="1.3" fill="#eab49c"/>
<rect y="417.6" height="2.3" fill="#e8a892"/>
<rect y="419.6" height="0.9" fill="#e69684"/>
<rect y="420.2" height="1.3" fill="#b1bdca"/>
<rect y="421.2" height="2.8" fill="#9fb0c8"/>
<rect y="423.7" height="1.1" fill="#bcc5cc"/>
<rect y="424.5" height="2.3" fill="#95a8c7"/>
<rect y="426.5" height="2.3" fill="#8ea4c6"/>
<rect y="428.5" height="1.3" fill="#9aadc8"/>
<rect y="429.5" height="1.0" fill="#96a9c7"/>
<rect y="430.2" height="3.3" fill="#c4cbcc"/>
<rect y="433.2" height="0.9" fill="#bcc5cc"/>
<rect y="433.8" height="2.8" fill="#e7e5c8"/>
<rect y="436.3" height="2.1" fill="#e9dabd"/>
<rect y="438.1" height="1.6" fill="#d84238"/>
<rect y="439.4" height="1.9" fill="#de6454"/>
<rect y="441.0" height="3.3" fill="#e5907e"/>
<rect y="444.0" height="1.3" fill="#e8a691"/>
<rect y="445.0" height="1.3" fill="#e8aa94"/>
<rect y="446.0" height="1.3" fill="#e7a38f"/>
<rect y="447.0" height="2.8" fill="#e8a590"/>
<rect y="449.5" height="1.1" fill="#e48c7a"/>
<rect y="450.3" height="1.3" fill="#ead7bb"/>
<rect y="451.3" height="3.3" fill="#ebccb0"/>
<rect y="454.3" height="1.6" fill="#ebccb0"/>
<rect y="455.6" height="0.7" fill="#ead9bd"/>
<rect y="456.0" height="2.8" fill="#e48e7c"/>
<rect y="458.5" height="2.3" fill="#e5907e"/>
<rect y="460.5" height="1.9" fill="#e38372"/>
<rect y="462.1" height="1.3" fill="#e48d7c"/>
<rect y="463.1" height="1.3" fill="#e9ad97"/>
<rect y="464.1" height="2.3" fill="#e58f7d"/>
<rect y="466.1" height="2.8" fill="#ead4b8"/>
<rect y="468.6" height="1.9" fill="#ebcdb1"/>
<rect y="470.2" height="1.2" fill="#ebd1b5"/>
<rect y="471.1" height="2.3" fill="#e79c89"/>
<rect y="473.1" height="1.9" fill="#e8a892"/>
<rect y="474.7" height="2.8" fill="#e69684"/>
<rect y="477.2" height="0.8" fill="#e69987"/>
</g>
<g class="hc" transform="translate(568.90,0)">
<rect y="247.3" height="1.6" fill="#e9b099"/>
<rect y="248.6" height="1.3" fill="#ebcbaf"/>
<rect y="249.6" height="3.3" fill="#ebd1b5"/>
<rect y="252.6" height="1.1" fill="#ecc8ac"/>
<rect y="253.4" height="2.3" fill="#dbdbc9"/>
<rect y="255.4" height="1.1" fill="#c1c9cc"/>
<rect y="256.2" height="1.9" fill="#dedec9"/>
<rect y="257.8" height="0.8" fill="#ead9bc"/>
<rect y="258.3" height="2.8" fill="#bac3cb"/>
<rect y="260.8" height="2.8" fill="#c9cfcb"/>
<rect y="263.3" height="1.3" fill="#ced2cb"/>
<rect y="264.3" height="2.8" fill="#ced2cb"/>
<rect y="266.8" height="2.8" fill="#bdc6cc"/>
<rect y="269.3" height="1.6" fill="#bbc5cb"/>
<rect y="270.6" height="3.3" fill="#bbc5cb"/>
<rect y="273.6" height="1.6" fill="#cdd1cb"/>
<rect y="274.9" height="1.9" fill="#c8cecb"/>
<rect y="276.5" height="1.9" fill="#b7c1cb"/>
<rect y="278.1" height="2.2" fill="#b3becb"/>
<rect y="280.0" height="1.3" fill="#869dc5"/>
<rect y="281.0" height="1.6" fill="#a0b0c8"/>
<rect y="282.3" height="2.8" fill="#7f98c5"/>
<rect y="284.8" height="1.8" fill="#9badc8"/>
<rect y="286.3" height="2.3" fill="#e8e4c7"/>
<rect y="288.3" height="1.3" fill="#e9dec1"/>
<rect y="289.3" height="1.5" fill="#ead6b9"/>
<rect y="290.5" height="1.6" fill="#ebc2a7"/>
<rect y="291.8" height="1.0" fill="#ebbba2"/>
<rect y="292.5" height="1.6" fill="#a2b2c9"/>
<rect y="293.8" height="1.3" fill="#b1bdca"/>
<rect y="294.8" height="2.2" fill="#b2beca"/>
<rect y="296.7" height="1.9" fill="#e4e2c8"/>
<rect y="298.3" height="1.3" fill="#e8e2c5"/>
<rect y="299.3" height="2.3" fill="#e2e0c9"/>
<rect y="301.3" height="0.6" fill="#e8e1c5"/>
<rect y="301.6" height="1.3" fill="#97aac8"/>
<rect y="302.6" height="2.8" fill="#a3b3c9"/>
<rect y="305.1" height="1.9" fill="#b1bdca"/>
<rect y="306.7" height="1.6" fill="#9cadc8"/>
<rect y="308.0" height="2.8" fill="#e9dcc0"/>
<rect y="310.5" height="1.6" fill="#e4e2c8"/>
<rect y="311.8" height="0.5" fill="#e3e1c9"/>
<rect y="312.0" height="3.3" fill="#90a5c7"/>
<rect y="315.0" height="2.8" fill="#9dafc8"/>
<rect y="317.5" height="1.8" fill="#a6b5c9"/>
<rect y="319.0" height="1.6" fill="#afbbca"/>
<rect y="320.3" height="2.3" fill="#b4bfcb"/>
<rect y="322.3" height="1.3" fill="#b4bfcb"/>
<rect y="323.3" height="2.3" fill="#c4cbcc"/>
<rect y="325.3" height="1.6" fill="#b2bdca"/>
<rect y="326.6" height="1.3" fill="#b3becb"/>
<rect y="327.6" height="1.7" fill="#bdc6cc"/>
<rect y="329.0" height="1.3" fill="#c5cbcc"/>
<rect y="330.0" height="2.8" fill="#d7d9ca"/>
<rect y="332.5" height="2.8" fill="#ccd1cb"/>
<rect y="335.0" height="1.3" fill="#d5d7ca"/>
<rect y="336.0" height="2.3" fill="#c3cacc"/>
<rect y="338.0" height="2.8" fill="#cbd0cb"/>
<rect y="340.5" height="1.9" fill="#c6cdcb"/>
<rect y="342.1" height="1.9" fill="#adbaca"/>
<rect y="343.7" height="1.6" fill="#b4bfcb"/>
<rect y="345.0" height="1.3" fill="#849cc5"/>
<rect y="346.0" height="2.8" fill="#94a8c7"/>
<rect y="348.5" height="1.0" fill="#99abc8"/>
<rect y="349.2" height="1.3" fill="#ead4b7"/>
<rect y="350.2" height="3.3" fill="#e8e2c5"/>
<rect y="353.2" height="1.2" fill="#ead9bc"/>
<rect y="354.1" height="1.3" fill="#98abc8"/>
<rect y="355.1" height="2.8" fill="#97aac8"/>
<rect y="357.6" height="1.0" fill="#b4bfcb"/>
<rect y="358.3" height="3.3" fill="#b9c3cb"/>
<rect y="361.3" height="1.0" fill="#b7c1cb"/>
<rect y="362.0" height="1.6" fill="#b4bfcb"/>
<rect y="363.3" height="1.6" fill="#ccd1cb"/>
<rect y="364.6" height="1.6" fill="#acb9ca"/>
<rect y="365.9" height="1.6" fill="#cad0cb"/>
<rect y="367.2" height="1.3" fill="#ead2b6"/>
<rect y="368.2" height="1.3" fill="#ead4b8"/>
<rect y="369.2" height="0.4" fill="#e6e3c8"/>
<rect y="369.3" height="2.8" fill="#b2beca"/>
<rect y="371.8" height="3.3" fill="#b4bfcb"/>
<rect y="374.8" height="2.3" fill="#98abc8"/>
<rect y="376.8" height="1.6" fill="#a3b3c9"/>
<rect y="378.1" height="1.3" fill="#bbc4cb"/>
<rect y="379.1" height="3.3" fill="#b3bfcb"/>
<rect y="382.1" height="1.9" fill="#adbaca"/>
<rect y="383.7" height="3.3" fill="#e9dfc3"/>
<rect y="386.7" height="1.9" fill="#ead7ba"/>
<rect y="388.3" height="2.3" fill="#e9dfc2"/>
<rect y="390.3" height="0.4" fill="#ead7ba"/>
<rect y="390.4" height="2.3" fill="#a7b6c9"/>
<rect y="392.4" height="1.6" fill="#c1c9cc"/>
<rect y="393.7" height="1.3" fill="#b0bcca"/>
<rect y="394.7" height="1.6" fill="#bdc6cc"/>
<rect y="396.0" height="1.6" fill="#c2c9cc"/>
<rect y="397.3" height="1.6" fill="#a1b1c9"/>
<rect y="398.6" height="2.8" fill="#bfc7cc"/>
<rect y="401.1" height="0.8" fill="#a3b3c9"/>
<rect y="401.6" height="2.3" fill="#dd5a4c"/>
<rect y="403.6" height="1.1" fill="#de6051"/>
<rect y="404.4" height="3.3" fill="#e9ad96"/>
<rect y="407.4" height="1.9" fill="#e7a18d"/>
<rect y="409.0" height="0.8" fill="#e69987"/>
<rect y="409.5" height="3.3" fill="#e8e3c6"/>
<rect y="412.5" height="1.9" fill="#e4e2c8"/>
<rect y="414.1" height="0.7" fill="#e3e1c9"/>
<rect y="414.5" height="2.3" fill="#e17968"/>
<rect y="416.5" height="1.6" fill="#e27e6d"/>
<rect y="417.8" height="1.6" fill="#e48776"/>
<rect y="419.1" height="2.3" fill="#e48877"/>
<rect y="421.1" height="0.8" fill="#e38775"/>
<rect y="421.6" height="1.9" fill="#df6757"/>
<rect y="423.2" height="1.6" fill="#df6a5a"/>
<rect y="424.5" height="1.3" fill="#df6758"/>
<rect y="425.5" height="2.3" fill="#e07261"/>
<rect y="427.5" height="1.6" fill="#e17564"/>
<rect y="428.8" height="3.3" fill="#d6342c"/>
<rect y="431.8" height="2.8" fill="#d84036"/>
<rect y="434.3" height="1.9" fill="#db5346"/>
<rect y="435.9" height="1.6" fill="#d6342c"/>
<rect y="437.2" height="1.2" fill="#d6342c"/>
<rect y="438.1" height="1.6" fill="#ebd2b5"/>
<rect y="439.4" height="1.3" fill="#e8e2c6"/>
<rect y="440.4" height="2.3" fill="#ead3b6"/>
<rect y="442.4" height="1.3" fill="#ead5b8"/>
<rect y="443.4" height="1.5" fill="#e1e0c9"/>
<rect y="444.6" height="3.3" fill="#e59382"/>
<rect y="447.6" height="2.8" fill="#e38372"/>
<rect y="450.1" height="1.6" fill="#e27e6d"/>
<rect y="451.4" height="2.8" fill="#e38675"/>
<rect y="453.9" height="1.9" fill="#e27e6d"/>
<rect y="455.5" height="0.8" fill="#e48978"/>
<rect y="456.0" height="2.8" fill="#e06e5e"/>
<rect y="458.5" height="1.6" fill="#dd5c4e"/>
<rect y="459.8" height="1.6" fill="#db5246"/>
<rect y="461.1" height="1.6" fill="#dc584b"/>
<rect y="462.4" height="1.3" fill="#da493d"/>
<rect y="463.4" height="3.3" fill="#dd5e4f"/>
<rect y="466.4" height="1.9" fill="#e06f5e"/>
<rect y="468.0" height="1.6" fill="#dc584a"/>
<rect y="469.3" height="3.3" fill="#dc5749"/>
<rect y="472.3" height="1.3" fill="#dc594b"/>
<rect y="473.3" height="1.6" fill="#e9b099"/>
<rect y="474.6" height="3.3" fill="#e48c7b"/>
<rect y="477.6" height="0.4" fill="#e48776"/>
</g>
<g class="hc" transform="translate(590.60,0)">
<rect y="247.3" height="1.3" fill="#9caec8"/>
<rect y="248.3" height="1.9" fill="#93a7c7"/>
<rect y="249.9" height="3.3" fill="#a9b7ca"/>
<rect y="252.9" height="0.8" fill="#869dc5"/>
<rect y="253.4" height="2.3" fill="#e8e4c7"/>
<rect y="255.4" height="2.3" fill="#c9cecb"/>
<rect y="257.4" height="1.9" fill="#ced2cb"/>
<rect y="259.0" height="1.6" fill="#a5b4c9"/>
<rect y="260.3" height="1.9" fill="#8da3c6"/>
<rect y="261.9" height="3.3" fill="#9dafc8"/>
<rect y="264.9" height="2.8" fill="#b0bcca"/>
<rect y="267.4" height="1.9" fill="#abb8ca"/>
<rect y="269.0" height="2.3" fill="#bcc5cc"/>
<rect y="271.0" height="1.3" fill="#9badc8"/>
<rect y="272.0" height="3.3" fill="#a0b1c9"/>
<rect y="275.0" height="1.9" fill="#96a9c7"/>
<rect y="276.6" height="2.3" fill="#8ba1c6"/>
<rect y="278.6" height="1.3" fill="#7d96c4"/>
<rect y="279.6" height="0.7" fill="#9eafc8"/>
<rect y="280.0" height="2.3" fill="#a0b1c9"/>
<rect y="282.0" height="1.3" fill="#a4b3c9"/>
<rect y="283.0" height="1.5" fill="#92a6c7"/>
<rect y="284.2" height="1.6" fill="#8ca1c6"/>
<rect y="285.5" height="1.6" fill="#7a94c4"/>
<rect y="286.8" height="1.6" fill="#607fbe"/>
<rect y="288.1" height="1.9" fill="#7792c4"/>
<rect y="289.7" height="1.1" fill="#5c7bbc"/>
<rect y="290.5" height="3.1" fill="#ead8bb"/>
<rect y="293.3" height="1.9" fill="#8ca2c6"/>
<rect y="294.9" height="2.8" fill="#a8b6c9"/>
<rect y="297.4" height="2.3" fill="#a3b3c9"/>
<rect y="299.4" height="3.3" fill="#a0b1c9"/>
<rect y="302.4" height="1.9" fill="#b1bdca"/>
<rect y="304.0" height="3.3" fill="#94a8c7"/>
<rect y="307.0" height="1.3" fill="#92a6c7"/>
<rect y="308.0" height="2.3" fill="#4869b4"/>
<rect y="310.0" height="1.9" fill="#3a5daf"/>
<rect y="311.6" height="0.7" fill="#3f61b1"/>
<rect y="312.0" height="1.6" fill="#e8e4c7"/>
<rect y="313.3" height="1.6" fill="#eadabd"/>
<rect y="314.6" height="1.6" fill="#e9e0c3"/>
<rect y="315.9" height="2.1" fill="#e9ddc1"/>
<rect y="317.7" height="1.6" fill="#cbd0cb"/>
<rect y="319.0" height="1.3" fill="#cacfcb"/>
<rect y="320.0" height="2.3" fill="#c0c8cc"/>
<rect y="322.0" height="2.8" fill="#c6cccb"/>
<rect y="324.5" height="2.8" fill="#a7b6c9"/>
<rect y="327.0" height="1.3" fill="#c4cbcc"/>
<rect y="328.0" height="1.3" fill="#b5c0cb"/>
<rect y="329.0" height="1.9" fill="#a3b3c9"/>
<rect y="330.6" height="2.8" fill="#a7b6c9"/>
<rect y="333.1" height="1.9" fill="#a7b6c9"/>
<rect y="334.7" height="2.8" fill="#849cc5"/>
<rect y="337.2" height="2.8" fill="#899fc6"/>
<rect y="339.7" height="3.3" fill="#acb9ca"/>
<rect y="342.7" height="1.6" fill="#a9b7ca"/>
<rect y="344.0" height="1.3" fill="#a0b1c9"/>
<rect y="345.0" height="1.9" fill="#e0dfc9"/>
<rect y="346.6" height="1.5" fill="#dedec9"/>
<rect y="347.8" height="2.3" fill="#e9b099"/>
<rect y="349.8" height="1.8" fill="#eab9a0"/>
<rect y="351.3" height="1.6" fill="#e9dbbf"/>
<rect y="352.6" height="2.3" fill="#ebd0b4"/>
<rect y="354.6" height="1.2" fill="#ead5b8"/>
<rect y="355.5" height="1.3" fill="#7994c4"/>
<rect y="356.5" height="3.3" fill="#97aac8"/>
<rect y="359.5" height="2.8" fill="#97aac8"/>
<rect y="362.0" height="3.3" fill="#abb9ca"/>
<rect y="365.0" height="1.3" fill="#aebbca"/>
<rect y="366.0" height="1.5" fill="#9badc8"/>
<rect y="367.2" height="1.3" fill="#8ea3c6"/>
<rect y="368.2" height="1.3" fill="#869dc5"/>
<rect y="369.2" height="1.9" fill="#89a0c6"/>
<rect y="370.8" height="1.6" fill="#7e97c4"/>
<rect y="372.1" height="2.8" fill="#a5b4c9"/>
<rect y="374.6" height="2.8" fill="#a3b3c9"/>
<rect y="377.1" height="1.3" fill="#8fa4c7"/>
<rect y="378.1" height="2.8" fill="#a4b4c9"/>
<rect y="380.6" height="2.3" fill="#7e97c4"/>
<rect y="382.6" height="1.4" fill="#a2b2c9"/>
<rect y="383.7" height="2.3" fill="#5b7abc"/>
<rect y="385.7" height="1.9" fill="#4a6bb5"/>
<rect y="387.3" height="1.3" fill="#6382bf"/>
<rect y="388.3" height="1.9" fill="#6886c1"/>
<rect y="389.9" height="0.8" fill="#6180be"/>
<rect y="390.4" height="1.6" fill="#d6362e"/>
<rect y="391.7" height="1.6" fill="#d73c33"/>
<rect y="393.0" height="1.9" fill="#d84137"/>
<rect y="394.6" height="2.8" fill="#da493e"/>
<rect y="397.1" height="2.3" fill="#d84036"/>
<rect y="399.1" height="1.9" fill="#dc584a"/>
<rect y="400.7" height="1.2" fill="#da4d42"/>
<rect y="401.6" height="2.8" fill="#ead8bb"/>
<rect y="404.1" height="0.6" fill="#e9dcc0"/>
<rect y="404.4" height="1.9" fill="#e8a993"/>
<rect y="406.0" height="1.6" fill="#e7a18d"/>
<rect y="407.3" height="1.9" fill="#e69886"/>
<rect y="408.9" height="1.9" fill="#e38574"/>
<rect y="410.5" height="1.6" fill="#e7a28e"/>
<rect y="411.8" height="1.3" fill="#e8a993"/>
<rect y="412.8" height="1.3" fill="#e59381"/>
<rect y="413.8" height="1.0" fill="#e69b88"/>
<rect y="414.5" height="1.3" fill="#e8e4c7"/>
<rect y="415.5" height="2.3" fill="#e2e1c9"/>
<rect y="417.5" height="1.3" fill="#e8e4c7"/>
<rect y="418.5" height="3.3" fill="#e9dec1"/>
<rect y="421.5" height="1.6" fill="#e5e2c8"/>
<rect y="422.8" height="0.6" fill="#e2e1c9"/>
<rect y="423.1" height="3.3" fill="#adbaca"/>
<rect y="426.1" height="2.8" fill="#c7cdcb"/>
<rect y="428.6" height="0.5" fill="#a9b7ca"/>
<rect y="428.8" height="3.3" fill="#b3becb"/>
<rect y="431.8" height="2.3" fill="#99abc8"/>
<rect y="433.8" height="3.3" fill="#aab8ca"/>
<rect y="436.8" height="3.3" fill="#92a6c7"/>
<rect y="439.8" height="0.8" fill="#8ca1c6"/>
<rect y="440.3" height="2.8" fill="#8ca2c6"/>
<rect y="442.8" height="2.3" fill="#829ac5"/>
<rect y="444.8" height="2.8" fill="#7691c3"/>
<rect y="447.3" height="0.5" fill="#9aadc8"/>
<rect y="447.5" height="2.8" fill="#91a5c7"/>
<rect y="450.0" height="2.3" fill="#aab8ca"/>
<rect y="452.0" height="1.9" fill="#abb9ca"/>
<rect y="453.6" height="1.9" fill="#9daec8"/>
<rect y="455.2" height="2.8" fill="#a5b4c9"/>
<rect y="457.7" height="2.3" fill="#a8b7c9"/>
<rect y="459.7" height="1.3" fill="#adbaca"/>
<rect y="460.7" height="1.4" fill="#9eafc8"/>
<rect y="461.8" height="1.9" fill="#e3e1c9"/>
<rect y="463.4" height="1.9" fill="#ead6b9"/>
<rect y="465.0" height="2.1" fill="#e9ddc0"/>
<rect y="466.8" height="2.8" fill="#ebc1a7"/>
<rect y="469.3" height="1.9" fill="#ebbda3"/>
<rect y="470.9" height="2.8" fill="#e7a48f"/>
<rect y="473.4" height="1.9" fill="#ebc3a8"/>
<rect y="475.0" height="2.3" fill="#e7a18d"/>
<rect y="477.0" height="1.0" fill="#eccaae"/>
</g>
<g class="hc" transform="translate(613.30,0)">
<rect y="247.3" height="1.9" fill="#e9b19a"/>
<rect y="248.9" height="2.3" fill="#ebbea4"/>
<rect y="250.9" height="2.8" fill="#e8a792"/>
<rect y="253.4" height="2.8" fill="#cdd1cb"/>
<rect y="255.9" height="2.0" fill="#c9cecb"/>
<rect y="257.6" height="2.8" fill="#e7a08c"/>
<rect y="260.1" height="0.6" fill="#e9b099"/>
<rect y="260.4" height="1.9" fill="#ebcfb3"/>
<rect y="262.0" height="3.3" fill="#ecc5a9"/>
<rect y="265.0" height="1.3" fill="#eab59d"/>
<rect y="266.0" height="1.0" fill="#ecc9ad"/>
<rect y="266.7" height="2.3" fill="#e38170"/>
<rect y="268.7" height="2.3" fill="#e17463"/>
<rect y="270.7" height="0.5" fill="#e48c7b"/>
<rect y="270.9" height="1.6" fill="#e48a79"/>
<rect y="272.2" height="1.8" fill="#e8a691"/>
<rect y="273.7" height="2.8" fill="#e07161"/>
<rect y="276.2" height="2.8" fill="#e48d7b"/>
<rect y="278.7" height="2.8" fill="#e17868"/>
<rect y="281.2" height="1.3" fill="#e69583"/>
<rect y="282.2" height="1.5" fill="#e48b7a"/>
<rect y="283.4" height="1.3" fill="#eab79e"/>
<rect y="284.4" height="2.8" fill="#ebd1b5"/>
<rect y="286.9" height="3.1" fill="#eab49c"/>
<rect y="289.7" height="1.6" fill="#e48d7b"/>
<rect y="291.0" height="2.8" fill="#d6342c"/>
<rect y="293.5" height="2.3" fill="#d7372f"/>
<rect y="295.5" height="2.8" fill="#da4a3e"/>
<rect y="298.0" height="2.8" fill="#db4e42"/>
<rect y="300.5" height="1.4" fill="#d94339"/>
<rect y="301.6" height="1.3" fill="#dc5749"/>
<rect y="302.6" height="2.8" fill="#e07262"/>
<rect y="305.1" height="2.8" fill="#d94339"/>
<rect y="307.6" height="3.3" fill="#db5245"/>
<rect y="310.6" height="1.7" fill="#de6253"/>
<rect y="312.0" height="1.3" fill="#9badc8"/>
<rect y="313.0" height="2.3" fill="#a4b4c9"/>
<rect y="315.0" height="1.9" fill="#bcc5cc"/>
<rect y="316.6" height="1.3" fill="#c4cbcc"/>
<rect y="317.6" height="3.3" fill="#aebbca"/>
<rect y="320.6" height="1.6" fill="#c0c8cc"/>
<rect y="321.9" height="2.8" fill="#c3cacc"/>
<rect y="324.4" height="3.3" fill="#d0d4ca"/>
<rect y="327.4" height="1.8" fill="#d5d7ca"/>
<rect y="328.9" height="2.8" fill="#9eafc8"/>
<rect y="331.4" height="2.8" fill="#9badc8"/>
<rect y="333.9" height="0.9" fill="#abb8ca"/>
<rect y="334.5" height="2.8" fill="#e0dfc9"/>
<rect y="337.0" height="1.3" fill="#dedec9"/>
<rect y="338.0" height="2.8" fill="#e9dfc2"/>
<rect y="340.5" height="2.3" fill="#e9dbbf"/>
<rect y="342.5" height="1.3" fill="#e9dabe"/>
<rect y="343.5" height="3.3" fill="#ead7ba"/>
<rect y="346.5" height="0.8" fill="#e1e0c9"/>
<rect y="347.0" height="1.6" fill="#e9b29a"/>
<rect y="348.3" height="1.1" fill="#ebc2a7"/>
<rect y="349.1" height="2.4" fill="#738fc3"/>
<rect y="351.2" height="2.8" fill="#dedec9"/>
<rect y="353.7" height="0.6" fill="#e9e1c4"/>
<rect y="354.0" height="2.3" fill="#7993c4"/>
<rect y="356.0" height="1.6" fill="#e9dfc2"/>
<rect y="357.3" height="2.8" fill="#e8e3c6"/>
<rect y="359.8" height="1.3" fill="#ddddc9"/>
<rect y="360.8" height="2.8" fill="#d5d7ca"/>
<rect y="363.3" height="1.3" fill="#cdd1cb"/>
<rect y="364.3" height="2.8" fill="#eab69d"/>
<rect y="366.8" height="1.9" fill="#ead6ba"/>
<rect y="368.4" height="2.3" fill="#ebcdb1"/>
<rect y="370.4" height="0.7" fill="#ebcfb2"/>
<rect y="370.8" height="2.3" fill="#e48a78"/>
<rect y="372.8" height="1.3" fill="#e9ae97"/>
<rect y="373.8" height="1.5" fill="#e69987"/>
<rect y="375.0" height="2.8" fill="#ebd0b3"/>
<rect y="377.5" height="1.9" fill="#eccaae"/>
<rect y="379.1" height="3.3" fill="#ecc7ab"/>
<rect y="382.1" height="1.6" fill="#ead4b7"/>
<rect y="383.4" height="0.6" fill="#ebcbaf"/>
<rect y="383.7" height="1.6" fill="#a6b5c9"/>
<rect y="385.0" height="1.1" fill="#b5c0cb"/>
<rect y="385.8" height="1.9" fill="#e0dfc9"/>
<rect y="387.4" height="2.8" fill="#ead3b7"/>
<rect y="389.9" height="0.8" fill="#e8e2c5"/>
<rect y="390.4" height="1.3" fill="#bcc5cc"/>
<rect y="391.4" height="2.3" fill="#b6c1cb"/>
<rect y="393.4" height="1.9" fill="#acb9ca"/>
<rect y="395.0" height="2.3" fill="#9eafc8"/>
<rect y="397.0" height="1.9" fill="#a4b3c9"/>
<rect y="398.6" height="2.3" fill="#97aac7"/>
<rect y="400.6" height="2.7" fill="#96aac7"/>
<rect y="403.0" height="1.6" fill="#e5e3c8"/>
<rect y="404.3" height="1.6" fill="#dfdfc9"/>
<rect y="405.6" height="1.9" fill="#e9dec1"/>
<rect y="407.2" height="1.6" fill="#e9ddc1"/>
<rect y="408.5" height="0.5" fill="#ead5b8"/>
<rect y="408.7" height="1.6" fill="#b3becb"/>
<rect y="410.0" height="1.9" fill="#b5c0cb"/>
<rect y="411.6" height="2.3" fill="#bbc5cb"/>
<rect y="413.6" height="1.2" fill="#b5c0cb"/>
<rect y="414.5" height="2.3" fill="#e7a18d"/>
<rect y="416.5" height="1.6" fill="#e5907e"/>
<rect y="417.8" height="2.0" fill="#eab39c"/>
<rect y="419.5" height="3.3" fill="#b6c0cb"/>
<rect y="422.5" height="2.3" fill="#b2beca"/>
<rect y="424.5" height="2.8" fill="#e8a691"/>
<rect y="427.0" height="2.8" fill="#ecc9ad"/>
<rect y="429.5" height="1.0" fill="#ebbda3"/>
<rect y="430.2" height="1.6" fill="#e7e5c8"/>
<rect y="431.5" height="1.3" fill="#dfdfc9"/>
<rect y="432.5" height="1.3" fill="#dadbc9"/>
<rect y="433.5" height="1.9" fill="#e2e1c9"/>
<rect y="435.1" height="1.2" fill="#c4cbcc"/>
<rect y="436.0" height="3.3" fill="#9eafc8"/>
<rect y="439.0" height="1.6" fill="#829ac5"/>
<rect y="440.3" height="3.3" fill="#5575ba"/>
<rect y="443.3" height="1.6" fill="#7893c4"/>
<rect y="444.6" height="1.6" fill="#a3b3c9"/>
<rect y="445.9" height="3.3" fill="#b9c3cb"/>
<rect y="448.9" height="1.3" fill="#acbaca"/>
<rect y="449.9" height="1.9" fill="#b6c0cb"/>
<rect y="451.5" height="1.9" fill="#9eafc8"/>
<rect y="453.1" height="3.3" fill="#a3b3c9"/>
<rect y="456.1" height="1.6" fill="#a2b2c9"/>
<rect y="457.4" height="3.3" fill="#a6b5c9"/>
<rect y="460.4" height="1.9" fill="#e8e2c5"/>
<rect y="462.0" height="1.5" fill="#ead6ba"/>
<rect y="463.2" height="3.3" fill="#a9b7ca"/>
<rect y="466.2" height="1.6" fill="#acb9ca"/>
<rect y="467.5" height="1.6" fill="#839bc5"/>
<rect y="468.8" height="3.3" fill="#a7b5c9"/>
<rect y="471.8" height="3.2" fill="#93a7c7"/>
<rect y="474.7" height="2.3" fill="#6f8cc3"/>
<rect y="476.7" height="1.3" fill="#92a6c7"/>
</g>
<g class="hc" transform="translate(635.13,0)">
<rect y="247.3" height="1.6" fill="#de6253"/>
<rect y="248.6" height="2.3" fill="#e38371"/>
<rect y="250.6" height="3.1" fill="#e58f7e"/>
<rect y="253.4" height="1.9" fill="#db5346"/>
<rect y="255.0" height="2.8" fill="#d6342c"/>
<rect y="257.5" height="1.8" fill="#d6352d"/>
<rect y="259.0" height="2.3" fill="#e06c5c"/>
<rect y="261.0" height="1.6" fill="#dc574a"/>
<rect y="262.3" height="1.9" fill="#df6656"/>
<rect y="263.9" height="3.1" fill="#e06c5c"/>
<rect y="266.7" height="1.9" fill="#e48877"/>
<rect y="268.3" height="1.6" fill="#e48b7a"/>
<rect y="269.6" height="1.6" fill="#e48b79"/>
<rect y="270.9" height="3.3" fill="#df6757"/>
<rect y="273.9" height="2.3" fill="#dd5f50"/>
<rect y="275.9" height="2.8" fill="#e0705f"/>
<rect y="278.4" height="1.3" fill="#e27b6b"/>
<rect y="279.4" height="3.3" fill="#e17362"/>
<rect y="282.4" height="1.3" fill="#db5447"/>
<rect y="283.4" height="2.8" fill="#de6253"/>
<rect y="285.9" height="1.3" fill="#db4e42"/>
<rect y="286.9" height="3.1" fill="#e27b6b"/>
<rect y="289.7" height="1.9" fill="#e4e2c8"/>
<rect y="291.3" height="1.9" fill="#ead7bb"/>
<rect y="292.9" height="1.3" fill="#e8e2c5"/>
<rect y="293.9" height="3.3" fill="#e8e2c5"/>
<rect y="296.9" height="3.3" fill="#e9dbbf"/>
<rect y="299.9" height="1.6" fill="#e7e4c8"/>
<rect y="301.2" height="1.3" fill="#e8e4c7"/>
<rect y="302.2" height="0.4" fill="#e9e1c4"/>
<rect y="302.3" height="1.7" fill="#e7a18d"/>
<rect y="303.7" height="3.3" fill="#e8e5c8"/>
<rect y="306.7" height="1.5" fill="#e5e3c8"/>
<rect y="307.9" height="2.8" fill="#ead5b8"/>
<rect y="310.4" height="1.9" fill="#ebd0b4"/>
<rect y="312.0" height="3.3" fill="#e7a18d"/>
<rect y="315.0" height="1.6" fill="#e9dfc3"/>
<rect y="316.3" height="1.6" fill="#ddddc9"/>
<rect y="317.6" height="3.3" fill="#ead5b8"/>
<rect y="320.6" height="2.8" fill="#e6e4c8"/>
<rect y="323.1" height="2.8" fill="#e2e1c9"/>
<rect y="325.6" height="3.3" fill="#e5e3c8"/>
<rect y="328.6" height="0.6" fill="#e6e3c8"/>
<rect y="328.9" height="1.3" fill="#c2cacc"/>
<rect y="329.9" height="1.9" fill="#ccd1cb"/>
<rect y="331.5" height="1.6" fill="#d6d8ca"/>
<rect y="332.8" height="1.6" fill="#c1c9cc"/>
<rect y="334.1" height="0.7" fill="#cfd3ca"/>
<rect y="334.5" height="2.3" fill="#ead5b9"/>
<rect y="336.5" height="1.6" fill="#e9dcc0"/>
<rect y="337.8" height="3.3" fill="#ebcfb2"/>
<rect y="340.8" height="3.3" fill="#ebd2b5"/>
<rect y="343.8" height="1.9" fill="#ead8bc"/>
<rect y="345.4" height="1.9" fill="#ead8bc"/>
<rect y="347.0" height="2.8" fill="#bdc6cc"/>
<rect y="349.5" height="3.3" fill="#d5d7ca"/>
<rect y="352.5" height="2.8" fill="#c5cccc"/>
<rect y="355.0" height="0.7" fill="#cfd3ca"/>
<rect y="355.4" height="1.6" fill="#eab9a0"/>
<rect y="356.7" height="2.3" fill="#e9ad97"/>
<rect y="358.7" height="1.6" fill="#e9ad97"/>
<rect y="360.0" height="1.3" fill="#dd5e4f"/>
<rect y="361.0" height="1.3" fill="#e06f5f"/>
<rect y="362.0" height="1.6" fill="#e27f6e"/>
<rect y="363.3" height="1.9" fill="#e07261"/>
<rect y="364.9" height="1.3" fill="#dd5d4f"/>
<rect y="365.9" height="0.9" fill="#db4f43"/>
<rect y="366.5" height="1.6" fill="#ebccb0"/>
<rect y="367.8" height="2.3" fill="#ecc4a8"/>
<rect y="369.8" height="1.9" fill="#ebd1b5"/>
<rect y="371.4" height="1.3" fill="#ead5b9"/>
<rect y="372.4" height="2.3" fill="#e9af98"/>
<rect y="374.4" height="1.7" fill="#ead4b8"/>
<rect y="375.8" height="3.3" fill="#e8aa94"/>
<rect y="378.8" height="3.3" fill="#e79e8b"/>
<rect y="381.8" height="1.3" fill="#e69a88"/>
<rect y="382.8" height="2.3" fill="#e7a28e"/>
<rect y="384.8" height="1.3" fill="#e8aa94"/>
<rect y="385.8" height="1.9" fill="#ebd2b6"/>
<rect y="387.4" height="3.3" fill="#e7e4c8"/>
<rect y="390.4" height="2.8" fill="#eabba2"/>
<rect y="392.9" height="3.3" fill="#ecc7ab"/>
<rect y="395.9" height="1.7" fill="#ead5b8"/>
<rect y="397.3" height="1.6" fill="#c2cacc"/>
<rect y="398.6" height="1.3" fill="#c3cacc"/>
<rect y="399.6" height="1.6" fill="#b1bdca"/>
<rect y="400.9" height="1.0" fill="#cbd0cb"/>
<rect y="401.6" height="2.8" fill="#e5907f"/>
<rect y="404.1" height="3.3" fill="#e9b29a"/>
<rect y="407.1" height="0.5" fill="#e5917f"/>
<rect y="407.3" height="3.2" fill="#e06c5c"/>
<rect y="410.2" height="2.3" fill="#e3e1c9"/>
<rect y="412.2" height="1.9" fill="#e8e5c8"/>
<rect y="413.8" height="1.9" fill="#e1e0c9"/>
<rect y="415.4" height="1.9" fill="#ead4b8"/>
<rect y="417.0" height="0.6" fill="#e5e3c8"/>
<rect y="417.3" height="1.3" fill="#879ec6"/>
<rect y="418.3" height="2.2" fill="#abb9ca"/>
<rect y="420.2" height="3.3" fill="#adbaca"/>
<rect y="423.2" height="1.3" fill="#c3cacc"/>
<rect y="424.2" height="1.3" fill="#aebbca"/>
<rect y="425.2" height="3.3" fill="#e9b29b"/>
<rect y="428.2" height="1.9" fill="#e79c89"/>
<rect y="429.8" height="0.7" fill="#eab69e"/>
<rect y="430.2" height="3.3" fill="#ebd0b3"/>
<rect y="433.2" height="1.6" fill="#ecc9ad"/>
<rect y="434.5" height="2.3" fill="#b8c2cb"/>
<rect y="436.5" height="1.3" fill="#d7d8ca"/>
<rect y="437.5" height="2.3" fill="#bcc5cc"/>
<rect y="439.5" height="1.8" fill="#c3cacc"/>
<rect y="441.0" height="1.3" fill="#e17463"/>
<rect y="442.0" height="2.8" fill="#e48977"/>
<rect y="444.5" height="0.4" fill="#e69a88"/>
<rect y="444.6" height="1.3" fill="#ebbda3"/>
<rect y="445.6" height="2.3" fill="#e8ab95"/>
<rect y="447.6" height="1.3" fill="#ebc1a6"/>
<rect y="448.6" height="3.3" fill="#e8a792"/>
<rect y="451.6" height="0.5" fill="#e8aa94"/>
<rect y="451.8" height="1.6" fill="#e38170"/>
<rect y="453.1" height="1.3" fill="#e27e6d"/>
<rect y="454.1" height="2.2" fill="#e17262"/>
<rect y="456.0" height="2.8" fill="#9eafc8"/>
<rect y="458.5" height="1.3" fill="#abb9ca"/>
<rect y="459.5" height="2.6" fill="#a8b7c9"/>
<rect y="461.8" height="2.8" fill="#c9cfcb"/>
<rect y="464.3" height="1.6" fill="#ccd1cb"/>
<rect y="465.6" height="2.8" fill="#bdc6cc"/>
<rect y="468.1" height="1.2" fill="#c1c9cc"/>
<rect y="469.0" height="1.9" fill="#e9dcbf"/>
<rect y="470.6" height="1.9" fill="#e9ddc0"/>
<rect y="472.2" height="1.4" fill="#ebd1b5"/>
<rect y="473.3" height="2.3" fill="#bfc7cc"/>
<rect y="475.3" height="1.6" fill="#b1bdca"/>
<rect y="476.6" height="1.4" fill="#bac3cb"/>
</g>
<g class="hc" transform="translate(656.97,0)">
<rect y="247.3" height="3.3" fill="#3f62b1"/>
<rect y="250.3" height="1.6" fill="#496ab5"/>
<rect y="251.6" height="1.4" fill="#5474b9"/>
<rect y="252.7" height="1.3" fill="#bac3cb"/>
<rect y="253.7" height="1.4" fill="#c3cacc"/>
<rect y="254.8" height="2.8" fill="#acb9ca"/>
<rect y="257.3" height="1.9" fill="#9caec8"/>
<rect y="258.9" height="2.8" fill="#98abc8"/>
<rect y="261.4" height="1.9" fill="#879ec6"/>
<rect y="263.0" height="1.6" fill="#adbaca"/>
<rect y="264.3" height="1.6" fill="#9daec8"/>
<rect y="265.6" height="1.3" fill="#8da2c6"/>
<rect y="266.6" height="1.9" fill="#a1b1c9"/>
<rect y="268.2" height="1.6" fill="#9caec8"/>
<rect y="269.5" height="1.7" fill="#a3b3c9"/>
<rect y="270.9" height="1.6" fill="#c2cacc"/>
<rect y="272.2" height="1.6" fill="#c2c9cc"/>
<rect y="273.5" height="3.3" fill="#b1bdca"/>
<rect y="276.5" height="2.8" fill="#d1d4ca"/>
<rect y="279.0" height="2.6" fill="#b0bcca"/>
<rect y="281.3" height="2.3" fill="#ead9bd"/>
<rect y="283.3" height="2.3" fill="#e1e0c9"/>
<rect y="285.3" height="2.8" fill="#e9ddc1"/>
<rect y="287.8" height="2.2" fill="#ead4b8"/>
<rect y="289.7" height="1.3" fill="#a0b1c9"/>
<rect y="290.7" height="2.1" fill="#9cadc8"/>
<rect y="292.5" height="2.3" fill="#c6cccb"/>
<rect y="294.5" height="2.3" fill="#bac4cb"/>
<rect y="296.5" height="0.5" fill="#bbc4cb"/>
<rect y="296.7" height="1.3" fill="#e1e0c9"/>
<rect y="297.7" height="1.4" fill="#deddc9"/>
<rect y="298.8" height="1.6" fill="#8ea3c6"/>
<rect y="300.1" height="1.3" fill="#8ca2c6"/>
<rect y="301.1" height="2.8" fill="#b4bfcb"/>
<rect y="303.6" height="0.4" fill="#9badc8"/>
<rect y="303.7" height="3.3" fill="#e9b39b"/>
<rect y="306.7" height="1.3" fill="#e69b89"/>
<rect y="307.7" height="1.6" fill="#e79e8b"/>
<rect y="309.0" height="0.6" fill="#e58f7d"/>
<rect y="309.3" height="1.6" fill="#e8e3c6"/>
<rect y="310.6" height="1.7" fill="#ead6b9"/>
<rect y="312.0" height="3.3" fill="#d6352d"/>
<rect y="315.0" height="1.9" fill="#db5346"/>
<rect y="316.6" height="1.9" fill="#d83e34"/>
<rect y="318.2" height="2.8" fill="#d6342c"/>
<rect y="320.7" height="3.3" fill="#d83f35"/>
<rect y="323.7" height="2.8" fill="#d9463c"/>
<rect y="326.2" height="1.9" fill="#d73c33"/>
<rect y="327.8" height="2.8" fill="#db5347"/>
<rect y="330.3" height="3.3" fill="#da4c41"/>
<rect y="333.3" height="1.9" fill="#db4f43"/>
<rect y="334.9" height="2.3" fill="#dc584b"/>
<rect y="336.9" height="2.8" fill="#d84238"/>
<rect y="339.4" height="1.3" fill="#d83f35"/>
<rect y="340.4" height="1.3" fill="#d6342c"/>
<rect y="341.4" height="1.6" fill="#db5145"/>
<rect y="342.7" height="1.9" fill="#d6342c"/>
<rect y="344.3" height="3.0" fill="#d9453a"/>
<rect y="347.0" height="1.6" fill="#de6354"/>
<rect y="348.3" height="1.9" fill="#df6656"/>
<rect y="349.9" height="3.3" fill="#dd5a4c"/>
<rect y="352.9" height="1.9" fill="#db5043"/>
<rect y="354.5" height="1.3" fill="#e2806f"/>
<rect y="355.5" height="1.6" fill="#df6959"/>
<rect y="356.8" height="2.3" fill="#dc5447"/>
<rect y="358.8" height="1.3" fill="#e27d6c"/>
<rect y="359.8" height="0.5" fill="#dc5749"/>
<rect y="360.0" height="3.3" fill="#e17666"/>
<rect y="363.0" height="2.3" fill="#de6454"/>
<rect y="365.0" height="1.0" fill="#df6a5a"/>
<rect y="365.7" height="2.3" fill="#de6253"/>
<rect y="367.7" height="2.8" fill="#db5246"/>
<rect y="370.2" height="1.9" fill="#dd5c4e"/>
<rect y="371.8" height="1.6" fill="#dd5d4f"/>
<rect y="373.1" height="1.6" fill="#db4e42"/>
<rect y="374.4" height="1.3" fill="#de6354"/>
<rect y="375.4" height="1.9" fill="#d9473c"/>
<rect y="377.0" height="1.9" fill="#db4f43"/>
<rect y="378.6" height="2.3" fill="#d73c32"/>
<rect y="380.6" height="1.9" fill="#e06d5d"/>
<rect y="382.2" height="2.5" fill="#dc5447"/>
<rect y="384.4" height="1.6" fill="#de6354"/>
<rect y="385.7" height="2.3" fill="#d6342c"/>
<rect y="387.7" height="2.8" fill="#de6152"/>
<rect y="390.2" height="0.5" fill="#d73d33"/>
<rect y="390.4" height="1.6" fill="#99acc8"/>
<rect y="391.7" height="1.9" fill="#8fa4c6"/>
<rect y="393.3" height="1.9" fill="#9daec8"/>
<rect y="394.9" height="2.7" fill="#a3b3c9"/>
<rect y="397.3" height="1.6" fill="#eab89f"/>
<rect y="398.6" height="1.3" fill="#ebbca2"/>
<rect y="399.6" height="1.3" fill="#ebbea4"/>
<rect y="400.6" height="1.3" fill="#ecc9ad"/>
<rect y="401.6" height="3.3" fill="#90a5c7"/>
<rect y="404.6" height="1.6" fill="#aebbca"/>
<rect y="405.9" height="1.6" fill="#6987c2"/>
<rect y="407.2" height="1.6" fill="#607fbe"/>
<rect y="408.5" height="1.9" fill="#6e8bc2"/>
<rect y="410.1" height="1.9" fill="#6382bf"/>
<rect y="411.7" height="2.8" fill="#6887c1"/>
<rect y="414.2" height="1.6" fill="#4f70b7"/>
<rect y="415.5" height="2.8" fill="#6280bf"/>
<rect y="418.0" height="1.9" fill="#4163b2"/>
<rect y="419.6" height="0.9" fill="#5f7ebe"/>
<rect y="420.2" height="2.3" fill="#e07161"/>
<rect y="422.2" height="1.6" fill="#de6253"/>
<rect y="423.5" height="1.3" fill="#e38372"/>
<rect y="424.5" height="1.6" fill="#829ac5"/>
<rect y="425.8" height="1.9" fill="#99abc8"/>
<rect y="427.4" height="2.3" fill="#adbaca"/>
<rect y="429.4" height="1.9" fill="#c2c9cc"/>
<rect y="431.0" height="2.8" fill="#a1b1c9"/>
<rect y="433.5" height="1.9" fill="#bac3cb"/>
<rect y="435.1" height="1.2" fill="#bac4cb"/>
<rect y="436.0" height="2.4" fill="#e9dabd"/>
<rect y="438.1" height="1.9" fill="#c6cdcb"/>
<rect y="439.7" height="1.6" fill="#dbdcc9"/>
<rect y="441.0" height="1.3" fill="#dcdcc9"/>
<rect y="442.0" height="1.5" fill="#dbdcc9"/>
<rect y="443.2" height="2.3" fill="#eabba2"/>
<rect y="445.2" height="1.1" fill="#eab89f"/>
<rect y="446.0" height="1.3" fill="#a1b1c9"/>
<rect y="447.0" height="1.9" fill="#a3b3c9"/>
<rect y="448.6" height="1.9" fill="#a3b3c9"/>
<rect y="450.2" height="2.8" fill="#7993c4"/>
<rect y="452.7" height="1.6" fill="#98aac8"/>
<rect y="454.0" height="0.9" fill="#9badc8"/>
<rect y="454.6" height="1.6" fill="#8ea3c6"/>
<rect y="455.9" height="2.3" fill="#96a9c7"/>
<rect y="457.9" height="2.8" fill="#9aacc8"/>
<rect y="460.4" height="1.7" fill="#a8b7c9"/>
<rect y="461.8" height="1.6" fill="#7a94c4"/>
<rect y="463.1" height="1.3" fill="#9eafc8"/>
<rect y="464.1" height="0.8" fill="#708dc3"/>
<rect y="464.6" height="1.3" fill="#c5cccc"/>
<rect y="465.6" height="2.8" fill="#b2becb"/>
<rect y="468.1" height="1.2" fill="#a6b5c9"/>
<rect y="469.0" height="1.9" fill="#7691c3"/>
<rect y="470.6" height="1.3" fill="#7b95c4"/>
<rect y="471.6" height="1.3" fill="#6584c0"/>
<rect y="472.6" height="1.9" fill="#879ec5"/>
<rect y="474.2" height="0.8" fill="#7b95c4"/>
<rect y="474.7" height="2.3" fill="#9fb0c8"/>
<rect y="476.7" height="1.3" fill="#8aa0c6"/>
</g>
<rect x="415.80" y="344.80" width="130.40" height="2.00" fill="#fff" />
<rect x="547.20" y="390.40" width="131.60" height="2.20" fill="#fff" />
<rect x="480.30" y="246.30" width="1.00" height="232.40" fill="#fff" />
<rect x="546.20" y="246.30" width="1.00" height="232.40" fill="#fff" />
<rect x="612.30" y="246.30" width="1.00" height="232.40" fill="#fff" />
<text x="426.55" y="486.2" font-size="8" text-anchor="middle" font-weight="normal" fill="#151213" >6 h</text>
<text x="448.05" y="486.2" font-size="8" text-anchor="middle" font-weight="normal" fill="#151213" >24 h</text>
<text x="469.55" y="486.2" font-size="8" text-anchor="middle" font-weight="normal" fill="#151213" >7 d</text>
<rect x="415.80" y="488.20" width="64.50" height="3.30" fill="#b8b3d7" />
<text x="446.55" y="502" font-size="8" text-anchor="middle" font-weight="normal" fill="#151213" >Control</text>
<text x="492.2" y="486.2" font-size="8" text-anchor="middle" font-weight="normal" fill="#151213" >6 h</text>
<text x="513.8" y="486.2" font-size="8" text-anchor="middle" font-weight="normal" fill="#151213" >24 h</text>
<text x="535.4000000000001" y="486.2" font-size="8" text-anchor="middle" font-weight="normal" fill="#151213" >7 d</text>
<rect x="481.40" y="488.20" width="64.80" height="3.30" fill="#3dab88" />
<text x="512.3" y="502" font-size="8" text-anchor="middle" font-weight="normal" fill="#151213" >Treatment</text>
<text x="558.0500000000001" y="486.2" font-size="8" text-anchor="middle" font-weight="normal" fill="#151213" >6 h</text>
<text x="579.75" y="486.2" font-size="8" text-anchor="middle" font-weight="normal" fill="#151213" >24 h</text>
<text x="601.4499999999999" y="486.2" font-size="8" text-anchor="middle" font-weight="normal" fill="#151213" >7 d</text>
<rect x="547.20" y="488.20" width="65.10" height="3.30" fill="#b8b3d7" />
<text x="578.25" y="502" font-size="8" text-anchor="middle" font-weight="normal" fill="#151213" >Control</text>
<text x="624.2166666666666" y="486.2" font-size="8" text-anchor="middle" font-weight="normal" fill="#151213" >6 h</text>
<text x="646.05" y="486.2" font-size="8" text-anchor="middle" font-weight="normal" fill="#151213" >24 h</text>
<text x="667.8833333333333" y="486.2" font-size="8" text-anchor="middle" font-weight="normal" fill="#151213" >7 d</text>
<rect x="613.30" y="488.20" width="65.50" height="3.30" fill="#3dab88" />
<text x="644.55" y="502" font-size="8" text-anchor="middle" font-weight="normal" fill="#151213" >Treatment</text>
<line x1="415.8" y1="503.9" x2="546.2" y2="503.9" stroke="#231f20" stroke-width="1" />
<line x1="547.2" y1="503.9" x2="678.8" y2="503.9" stroke="#231f20" stroke-width="1" />
<text x="477.5" y="514" font-size="8" text-anchor="middle" font-weight="normal" fill="#151213" >Leaf</text>
<text x="601" y="514" font-size="8" text-anchor="middle" font-weight="normal" fill="#151213" >Root</text>
<g class="hd" transform="translate(27.40,0)">
<rect y="537.3" height="2.3" fill="#e1d9e9"/>
<rect y="539.3" height="2.3" fill="#c7bddd"/>
<rect y="541.3" height="1.6" fill="#b7abd4"/>
<rect y="542.6" height="2.8" fill="#aea2d0"/>
<rect y="545.1" height="2.8" fill="#c2b7da"/>
<rect y="547.6" height="1.3" fill="#aca0cf"/>
<rect y="548.6" height="1.0" fill="#9789c4"/>
<rect y="549.3" height="1.3" fill="#e9cccc"/>
<rect y="550.3" height="2.3" fill="#dfb3b0"/>
<rect y="552.3" height="2.8" fill="#e7c8c8"/>
<rect y="554.8" height="1.5" fill="#f3ecf2"/>
<rect y="556.0" height="2.8" fill="#9e90c8"/>
<rect y="558.5" height="1.3" fill="#a598cc"/>
<rect y="559.5" height="1.5" fill="#bfb3d8"/>
<rect y="560.7" height="1.4" fill="#aea1d0"/>
<rect y="561.8" height="2.8" fill="#f5ecf0"/>
<rect y="564.3" height="2.0" fill="#d4cbe3"/>
<rect y="566.0" height="1.8" fill="#efdcde"/>
<rect y="567.5" height="1.3" fill="#f0dfe2"/>
<rect y="568.5" height="1.8" fill="#f1e3e5"/>
<rect y="570.0" height="0.7" fill="#e2bab9"/>
<rect y="570.4" height="1.3" fill="#a294ca"/>
<rect y="571.4" height="1.8" fill="#a598cc"/>
<rect y="572.9" height="2.4" fill="#897bbc"/>
<rect y="575.0" height="1.3" fill="#7f72b6"/>
<rect y="576.0" height="1.3" fill="#7669b1"/>
<rect y="577.0" height="1.8" fill="#7568b0"/>
<rect y="578.5" height="1.3" fill="#9183c0"/>
<rect y="579.5" height="1.3" fill="#6a5eaa"/>
<rect y="580.5" height="1.3" fill="#7a6db3"/>
<rect y="581.5" height="1.8" fill="#776ab1"/>
<rect y="583.0" height="2.8" fill="#9587c3"/>
<rect y="585.5" height="1.8" fill="#8376b8"/>
<rect y="587.0" height="1.3" fill="#8375b8"/>
<rect y="588.0" height="2.3" fill="#aea1d0"/>
<rect y="590.0" height="0.8" fill="#887bbb"/>
<rect y="590.5" height="1.3" fill="#ac9fcf"/>
<rect y="591.5" height="2.3" fill="#dcd4e7"/>
<rect y="593.5" height="1.5" fill="#d5cce4"/>
</g>
<g class="hd" transform="translate(53.07,0)">
<rect y="537.3" height="1.5" fill="#b5a9d4"/>
<rect y="538.5" height="1.5" fill="#d6cde4"/>
<rect y="539.7" height="1.5" fill="#b3a7d3"/>
<rect y="540.9" height="2.0" fill="#a193c9"/>
<rect y="542.6" height="2.3" fill="#eacecf"/>
<rect y="544.6" height="1.3" fill="#e8e1ed"/>
<rect y="545.6" height="2.8" fill="#eae3ee"/>
<rect y="548.1" height="1.3" fill="#e4ddeb"/>
<rect y="549.1" height="0.5" fill="#eacecf"/>
<rect y="549.3" height="2.8" fill="#8477b9"/>
<rect y="551.8" height="1.3" fill="#6053a4"/>
<rect y="552.8" height="1.5" fill="#6a5eaa"/>
<rect y="554.0" height="1.8" fill="#5e52a3"/>
<rect y="555.5" height="0.8" fill="#7164ae"/>
<rect y="556.0" height="1.8" fill="#f5eef2"/>
<rect y="557.5" height="1.3" fill="#e6deec"/>
<rect y="558.5" height="2.8" fill="#efdddf"/>
<rect y="561.0" height="1.1" fill="#f0dfe2"/>
<rect y="561.8" height="1.8" fill="#e1b7b5"/>
<rect y="563.3" height="1.5" fill="#d8a09b"/>
<rect y="564.5" height="2.3" fill="#dca8a5"/>
<rect y="566.5" height="1.5" fill="#dba6a2"/>
<rect y="567.7" height="1.5" fill="#e1b6b4"/>
<rect y="568.9" height="1.4" fill="#daa39f"/>
<rect y="570.0" height="2.8" fill="#e3bdbb"/>
<rect y="572.5" height="1.5" fill="#e5c3c2"/>
<rect y="573.7" height="2.8" fill="#e4c0bf"/>
<rect y="576.2" height="1.1" fill="#d3918c"/>
<rect y="577.0" height="2.8" fill="#efdcde"/>
<rect y="579.5" height="1.3" fill="#eedadc"/>
<rect y="580.5" height="1.3" fill="#e4bebd"/>
<rect y="581.5" height="1.8" fill="#ebd1d2"/>
<rect y="583.0" height="2.0" fill="#ead0d0"/>
<rect y="584.7" height="2.8" fill="#e4dceb"/>
<rect y="587.2" height="2.8" fill="#d0c7e1"/>
<rect y="589.7" height="0.6" fill="#cdc4e0"/>
<rect y="590.0" height="2.3" fill="#b3a7d3"/>
<rect y="592.0" height="2.8" fill="#b7abd4"/>
<rect y="594.5" height="0.5" fill="#9e90c8"/>
</g>
<g class="hd" transform="translate(78.75,0)">
<rect y="537.3" height="1.5" fill="#d9d1e6"/>
<rect y="538.5" height="1.3" fill="#bcb0d7"/>
<rect y="539.5" height="2.3" fill="#bbafd6"/>
<rect y="541.5" height="1.3" fill="#b6aad4"/>
<rect y="542.5" height="1.8" fill="#ccc2df"/>
<rect y="544.0" height="1.5" fill="#b1a5d1"/>
<rect y="545.2" height="1.1" fill="#e2daea"/>
<rect y="546.0" height="1.8" fill="#eee7f0"/>
<rect y="547.5" height="1.8" fill="#eae2ee"/>
<rect y="549.0" height="1.5" fill="#f0e0e2"/>
<rect y="550.2" height="1.3" fill="#f3e8eb"/>
<rect y="551.2" height="1.8" fill="#edd8da"/>
<rect y="552.7" height="1.3" fill="#e1d9ea"/>
<rect y="553.7" height="0.6" fill="#f3e7eb"/>
<rect y="554.0" height="1.8" fill="#8275b8"/>
<rect y="555.5" height="1.3" fill="#7366af"/>
<rect y="556.5" height="2.8" fill="#8577b9"/>
<rect y="559.0" height="1.3" fill="#a598cc"/>
<rect y="560.0" height="1.1" fill="#9e91c8"/>
<rect y="560.8" height="1.8" fill="#6155a5"/>
<rect y="562.3" height="2.3" fill="#8375b8"/>
<rect y="564.3" height="2.3" fill="#8578ba"/>
<rect y="566.3" height="1.3" fill="#8073b7"/>
<rect y="567.3" height="2.8" fill="#4d4199"/>
<rect y="569.8" height="0.9" fill="#6356a6"/>
<rect y="570.4" height="1.3" fill="#b6abd4"/>
<rect y="571.4" height="1.3" fill="#9789c4"/>
<rect y="572.4" height="1.3" fill="#cec4e0"/>
<rect y="573.4" height="2.3" fill="#beb3d8"/>
<rect y="575.4" height="2.3" fill="#cac0de"/>
<rect y="577.4" height="2.8" fill="#ada0cf"/>
<rect y="579.9" height="1.3" fill="#c4badb"/>
<rect y="580.9" height="1.3" fill="#f6eff3"/>
<rect y="581.9" height="2.8" fill="#d9d0e6"/>
<rect y="584.4" height="2.5" fill="#ddd4e7"/>
<rect y="586.6" height="1.3" fill="#ebd2d2"/>
<rect y="587.6" height="1.3" fill="#e4bfbe"/>
<rect y="588.6" height="2.8" fill="#e0b4b2"/>
<rect y="591.1" height="2.3" fill="#ead0d0"/>
<rect y="593.1" height="1.3" fill="#e7c8c8"/>
<rect y="594.1" height="0.9" fill="#e0b3b1"/>
</g>
<g class="hd" transform="translate(104.42,0)">
<rect y="537.3" height="1.5" fill="#b24b46"/>
<rect y="538.5" height="1.8" fill="#ae423e"/>
<rect y="540.0" height="2.3" fill="#b34c48"/>
<rect y="542.0" height="1.5" fill="#b85752"/>
<rect y="543.2" height="1.8" fill="#bb5f5a"/>
<rect y="544.7" height="2.3" fill="#aa3935"/>
<rect y="546.7" height="1.5" fill="#a83632"/>
<rect y="547.9" height="2.3" fill="#bb5d58"/>
<rect y="549.9" height="1.8" fill="#bb5e59"/>
<rect y="551.4" height="1.1" fill="#b34c48"/>
<rect y="552.2" height="1.3" fill="#bb5e59"/>
<rect y="553.2" height="1.8" fill="#b85752"/>
<rect y="554.7" height="1.3" fill="#c36e69"/>
<rect y="555.7" height="1.8" fill="#b5514c"/>
<rect y="557.2" height="2.3" fill="#c5726d"/>
<rect y="559.2" height="1.1" fill="#c16b66"/>
<rect y="560.0" height="1.8" fill="#b5504c"/>
<rect y="561.5" height="2.8" fill="#bc615c"/>
<rect y="564.0" height="1.3" fill="#b14945"/>
<rect y="565.0" height="1.8" fill="#ba5d58"/>
<rect y="566.5" height="1.3" fill="#c06963"/>
<rect y="567.5" height="1.8" fill="#c36f6a"/>
<rect y="569.0" height="1.8" fill="#c16a65"/>
<rect y="570.5" height="2.8" fill="#d3928c"/>
<rect y="573.0" height="1.5" fill="#c87974"/>
<rect y="574.2" height="1.1" fill="#d3918c"/>
<rect y="575.0" height="1.8" fill="#c36e69"/>
<rect y="576.5" height="1.5" fill="#b24b47"/>
<rect y="577.7" height="1.3" fill="#bc615c"/>
<rect y="578.7" height="2.8" fill="#b6544f"/>
<rect y="581.2" height="1.8" fill="#ad413d"/>
<rect y="582.7" height="1.5" fill="#c4706b"/>
<rect y="583.9" height="1.4" fill="#c26d67"/>
<rect y="585.0" height="1.3" fill="#be645f"/>
<rect y="586.0" height="2.8" fill="#bf6661"/>
<rect y="588.5" height="1.5" fill="#cd847f"/>
<rect y="589.7" height="0.6" fill="#c4716c"/>
<rect y="590.0" height="2.8" fill="#bf6661"/>
<rect y="592.5" height="1.5" fill="#c26d68"/>
<rect y="593.7" height="1.3" fill="#cb807a"/>
</g>
<rect x="27.40" y="537.30" width="102.70" height="57.40" fill="none" stroke="#666" stroke-width="0.8"/>
<rect x="131.80" y="537.80" width="10.70" height="56.40" fill="#b07db5" />
<text x="137.2" y="566.0" font-size="11" text-anchor="middle" font-weight="normal" fill="#fff" transform="rotate(-90 137.2 566.0)" dominant-baseline="central">n:3870</text>
<text x="1.5" y="570.0" font-size="9.3" text-anchor="start" font-weight="normal" fill="#151213" >G1</text>
<g class="hd" transform="translate(27.40,0)">
<rect y="596.8" height="2.3" fill="#7769b1"/>
<rect y="598.8" height="2.3" fill="#7b6db3"/>
<rect y="600.8" height="1.3" fill="#8578ba"/>
<rect y="601.8" height="2.8" fill="#9688c3"/>
<rect y="604.3" height="2.3" fill="#9f91c8"/>
<rect y="606.3" height="1.8" fill="#d1c7e1"/>
<rect y="607.8" height="1.5" fill="#baafd6"/>
<rect y="609.0" height="1.3" fill="#c1b6da"/>
<rect y="610.0" height="2.3" fill="#f0eaf1"/>
<rect y="612.0" height="1.3" fill="#d5cce4"/>
<rect y="613.0" height="1.8" fill="#bbb0d7"/>
<rect y="614.5" height="1.3" fill="#c1b6d9"/>
<rect y="615.5" height="1.3" fill="#ada1d0"/>
<rect y="616.5" height="1.8" fill="#cdc3e0"/>
<rect y="618.0" height="1.8" fill="#c9bfde"/>
<rect y="619.5" height="1.3" fill="#b9add5"/>
<rect y="620.5" height="0.5" fill="#c6bbdc"/>
<rect y="620.7" height="1.3" fill="#9c8ec7"/>
<rect y="621.7" height="1.8" fill="#bbb0d7"/>
<rect y="623.2" height="1.5" fill="#aea1d0"/>
<rect y="624.4" height="2.8" fill="#c8bedd"/>
<rect y="626.9" height="2.8" fill="#c5badb"/>
<rect y="629.4" height="1.1" fill="#cbc1df"/>
<rect y="630.2" height="2.3" fill="#e9e2ee"/>
<rect y="632.2" height="1.3" fill="#f4eef3"/>
<rect y="633.2" height="2.3" fill="#e6dfec"/>
<rect y="635.2" height="1.8" fill="#f5edf1"/>
<rect y="636.7" height="1.6" fill="#ede6ef"/>
<rect y="638.0" height="2.8" fill="#7467af"/>
<rect y="640.5" height="2.5" fill="#6458a6"/>
<rect y="642.7" height="2.3" fill="#c3b8da"/>
<rect y="644.7" height="2.8" fill="#9587c3"/>
<rect y="647.2" height="1.5" fill="#c4b9db"/>
<rect y="648.4" height="2.8" fill="#f1e2e5"/>
<rect y="650.9" height="2.3" fill="#f3e7ea"/>
<rect y="652.9" height="2.4" fill="#f5edf1"/>
<rect y="655.0" height="1.3" fill="#e1b8b6"/>
<rect y="656.0" height="1.3" fill="#e3bcbb"/>
<rect y="657.0" height="1.3" fill="#e4bebd"/>
<rect y="658.0" height="2.3" fill="#e3bcbb"/>
<rect y="660.0" height="2.8" fill="#f0eaf1"/>
<rect y="662.5" height="1.3" fill="#eacfd0"/>
<rect y="663.5" height="1.3" fill="#e4bfbe"/>
<rect y="664.5" height="0.8" fill="#f1e2e5"/>
</g>
<g class="hd" transform="translate(53.07,0)">
<rect y="596.8" height="2.3" fill="#bd635e"/>
<rect y="598.8" height="2.3" fill="#b75551"/>
<rect y="600.8" height="1.8" fill="#b95954"/>
<rect y="602.3" height="2.3" fill="#b6534f"/>
<rect y="604.3" height="1.3" fill="#c06863"/>
<rect y="605.3" height="2.8" fill="#c5726c"/>
<rect y="607.8" height="1.8" fill="#c26c66"/>
<rect y="609.3" height="1.3" fill="#c4716c"/>
<rect y="610.3" height="1.5" fill="#bf6661"/>
<rect y="611.5" height="1.8" fill="#bc605b"/>
<rect y="613.0" height="1.8" fill="#be655f"/>
<rect y="614.5" height="2.3" fill="#c26d68"/>
<rect y="616.5" height="2.8" fill="#c26c67"/>
<rect y="619.0" height="2.8" fill="#b34d49"/>
<rect y="621.5" height="1.5" fill="#b14844"/>
<rect y="622.7" height="2.3" fill="#c5726d"/>
<rect y="624.7" height="2.3" fill="#ad413d"/>
<rect y="626.7" height="2.8" fill="#c16a65"/>
<rect y="629.2" height="1.1" fill="#ac3e3a"/>
<rect y="630.0" height="2.8" fill="#bb5e59"/>
<rect y="632.5" height="2.8" fill="#c77872"/>
<rect y="635.0" height="2.8" fill="#bc605b"/>
<rect y="637.5" height="0.8" fill="#c77771"/>
<rect y="638.0" height="1.8" fill="#c26c67"/>
<rect y="639.5" height="1.8" fill="#cb7f79"/>
<rect y="641.0" height="1.3" fill="#d69893"/>
<rect y="642.0" height="1.5" fill="#ab3d39"/>
<rect y="643.2" height="1.5" fill="#ab3d39"/>
<rect y="644.4" height="1.5" fill="#b04742"/>
<rect y="645.6" height="1.8" fill="#ba5c57"/>
<rect y="647.1" height="2.3" fill="#ad403c"/>
<rect y="649.1" height="1.2" fill="#b5524d"/>
<rect y="650.0" height="1.5" fill="#c87973"/>
<rect y="651.2" height="1.3" fill="#cb7f7a"/>
<rect y="652.2" height="2.8" fill="#ba5b56"/>
<rect y="654.7" height="1.8" fill="#ca7e78"/>
<rect y="656.2" height="2.8" fill="#bb5e59"/>
<rect y="658.7" height="1.8" fill="#bf6661"/>
<rect y="660.2" height="1.5" fill="#b6544f"/>
<rect y="661.4" height="2.3" fill="#cb7f79"/>
<rect y="663.4" height="1.3" fill="#b75652"/>
<rect y="664.4" height="0.9" fill="#bf6560"/>
</g>
<g class="hd" transform="translate(78.75,0)">
<rect y="596.8" height="2.8" fill="#e3dceb"/>
<rect y="599.3" height="1.5" fill="#d1c8e1"/>
<rect y="600.5" height="1.5" fill="#d0c7e1"/>
<rect y="601.7" height="1.5" fill="#f1e2e5"/>
<rect y="602.9" height="1.3" fill="#e9e2ee"/>
<rect y="603.9" height="1.5" fill="#f2e5e7"/>
<rect y="605.1" height="2.2" fill="#cac0de"/>
<rect y="607.0" height="1.3" fill="#b7abd4"/>
<rect y="608.0" height="2.3" fill="#bdb1d7"/>
<rect y="610.0" height="1.8" fill="#bdb2d7"/>
<rect y="611.5" height="2.8" fill="#b9aed6"/>
<rect y="614.0" height="1.3" fill="#d6cee4"/>
<rect y="615.0" height="1.5" fill="#bcb0d7"/>
<rect y="616.2" height="1.8" fill="#d0c6e1"/>
<rect y="617.7" height="2.3" fill="#dbd3e7"/>
<rect y="619.7" height="1.3" fill="#ada0cf"/>
<rect y="620.7" height="2.8" fill="#c2b7da"/>
<rect y="623.2" height="1.8" fill="#c8bedd"/>
<rect y="624.7" height="2.3" fill="#b4a8d3"/>
<rect y="626.7" height="1.5" fill="#b0a3d1"/>
<rect y="627.9" height="1.8" fill="#c2b8da"/>
<rect y="629.4" height="1.1" fill="#a294ca"/>
<rect y="630.2" height="1.3" fill="#f0dfe2"/>
<rect y="631.2" height="1.5" fill="#eedadc"/>
<rect y="632.4" height="2.3" fill="#dfd7e9"/>
<rect y="634.4" height="1.8" fill="#ecd6d7"/>
<rect y="635.9" height="0.4" fill="#efdee0"/>
<rect y="636.0" height="1.5" fill="#eacfd0"/>
<rect y="637.2" height="1.5" fill="#f2e6e9"/>
<rect y="638.4" height="1.8" fill="#edd6d8"/>
<rect y="639.9" height="1.3" fill="#f4eaee"/>
<rect y="640.9" height="1.1" fill="#dba7a4"/>
<rect y="641.7" height="2.8" fill="#e3dbeb"/>
<rect y="644.2" height="1.8" fill="#e7c8c8"/>
<rect y="645.7" height="1.8" fill="#f5eff3"/>
<rect y="647.2" height="2.3" fill="#f1e1e4"/>
<rect y="649.2" height="0.5" fill="#e5ddeb"/>
<rect y="649.4" height="2.8" fill="#a295ca"/>
<rect y="651.9" height="1.5" fill="#9083c0"/>
<rect y="653.1" height="2.2" fill="#a193ca"/>
<rect y="655.0" height="1.3" fill="#988ac5"/>
<rect y="656.0" height="1.3" fill="#beb3d8"/>
<rect y="657.0" height="1.8" fill="#ac9fcf"/>
<rect y="658.5" height="2.8" fill="#9486c2"/>
<rect y="661.0" height="1.5" fill="#b9add5"/>
<rect y="662.2" height="1.3" fill="#9789c4"/>
<rect y="663.2" height="1.8" fill="#a294ca"/>
<rect y="664.7" height="0.6" fill="#b3a7d2"/>
</g>
<g class="hd" transform="translate(104.42,0)">
<rect y="596.8" height="2.8" fill="#edd8da"/>
<rect y="599.3" height="2.8" fill="#e9cece"/>
<rect y="601.8" height="1.3" fill="#e8c9c9"/>
<rect y="602.8" height="1.3" fill="#eacfd0"/>
<rect y="603.8" height="1.3" fill="#eedadc"/>
<rect y="604.8" height="1.5" fill="#eedadc"/>
<rect y="606.0" height="1.5" fill="#e2bab9"/>
<rect y="607.2" height="2.3" fill="#e8cbcb"/>
<rect y="609.2" height="1.3" fill="#cec5e0"/>
<rect y="610.2" height="2.3" fill="#cec4e0"/>
<rect y="612.2" height="2.8" fill="#cdc3df"/>
<rect y="614.7" height="1.8" fill="#cbc1de"/>
<rect y="616.2" height="1.8" fill="#d2c8e2"/>
<rect y="617.7" height="1.8" fill="#d7cee4"/>
<rect y="619.2" height="1.8" fill="#ddd5e7"/>
<rect y="620.7" height="1.8" fill="#f0dfe2"/>
<rect y="622.2" height="1.5" fill="#e2b9b8"/>
<rect y="623.4" height="1.5" fill="#e6c5c5"/>
<rect y="624.6" height="2.3" fill="#efdee0"/>
<rect y="626.6" height="1.8" fill="#deaeab"/>
<rect y="628.1" height="1.3" fill="#e2b9b8"/>
<rect y="629.1" height="1.4" fill="#efdcde"/>
<rect y="630.2" height="1.5" fill="#a295ca"/>
<rect y="631.4" height="2.3" fill="#988ac4"/>
<rect y="633.4" height="1.5" fill="#8b7ebd"/>
<rect y="634.6" height="1.3" fill="#c2b7da"/>
<rect y="635.6" height="2.3" fill="#9183c1"/>
<rect y="637.6" height="1.5" fill="#ada1d0"/>
<rect y="638.8" height="1.3" fill="#8c7ebd"/>
<rect y="639.8" height="2.3" fill="#d0c7e1"/>
<rect y="641.8" height="1.5" fill="#e9e2ee"/>
<rect y="643.0" height="1.8" fill="#d5cbe3"/>
<rect y="644.5" height="1.3" fill="#cac0de"/>
<rect y="645.5" height="1.5" fill="#ddd5e8"/>
<rect y="646.7" height="2.3" fill="#d9d0e6"/>
<rect y="648.7" height="0.6" fill="#ded6e8"/>
<rect y="649.0" height="1.8" fill="#efdddf"/>
<rect y="650.5" height="2.8" fill="#eedadc"/>
<rect y="653.0" height="1.5" fill="#ebd1d2"/>
<rect y="654.2" height="1.5" fill="#e6deec"/>
<rect y="655.4" height="0.9" fill="#f6f0f4"/>
<rect y="656.0" height="1.8" fill="#9e90c8"/>
<rect y="657.5" height="2.8" fill="#a294ca"/>
<rect y="660.0" height="1.8" fill="#7f72b6"/>
<rect y="661.5" height="2.8" fill="#998bc5"/>
<rect y="664.0" height="1.3" fill="#9587c3"/>
</g>
<rect x="27.40" y="596.80" width="102.70" height="68.20" fill="none" stroke="#666" stroke-width="0.8"/>
<rect x="131.80" y="597.30" width="10.70" height="67.20" fill="#d95c40" />
<text x="137.2" y="630.9" font-size="11" text-anchor="middle" font-weight="normal" fill="#fff" transform="rotate(-90 137.2 630.9)" dominant-baseline="central">n:4618</text>
<text x="1.5" y="637.3" font-size="9.3" text-anchor="start" font-weight="normal" fill="#151213" >G3</text>
<g class="hd" transform="translate(27.40,0)">
<rect y="667.3" height="1.5" fill="#f3e8eb"/>
<rect y="668.5" height="1.5" fill="#ebd2d3"/>
<rect y="669.7" height="1.5" fill="#e2b9b7"/>
<rect y="670.9" height="1.3" fill="#e8caca"/>
<rect y="671.9" height="1.3" fill="#f1e2e5"/>
<rect y="672.9" height="2.3" fill="#f3edf3"/>
<rect y="674.9" height="0.7" fill="#f5eef2"/>
<rect y="675.3" height="2.8" fill="#e2bbb9"/>
<rect y="677.8" height="1.3" fill="#d28f89"/>
<rect y="678.8" height="1.5" fill="#dca8a5"/>
<rect y="680.0" height="1.8" fill="#ddacaa"/>
<rect y="681.5" height="1.8" fill="#e4bfbe"/>
<rect y="683.0" height="1.8" fill="#ddaca9"/>
<rect y="684.5" height="1.5" fill="#d4948f"/>
<rect y="685.7" height="1.3" fill="#d59792"/>
<rect y="686.7" height="2.3" fill="#d59691"/>
<rect y="688.7" height="2.2" fill="#d4948f"/>
<rect y="690.6" height="1.5" fill="#f4eaed"/>
<rect y="691.8" height="1.8" fill="#f5eef2"/>
<rect y="693.3" height="1.5" fill="#f6eff3"/>
<rect y="694.5" height="2.8" fill="#f4eef3"/>
<rect y="697.0" height="1.6" fill="#ecd4d6"/>
<rect y="698.3" height="1.5" fill="#bdb2d7"/>
<rect y="699.5" height="1.8" fill="#c6bcdc"/>
<rect y="701.0" height="2.3" fill="#d8d0e5"/>
<rect y="703.0" height="1.3" fill="#c4b9db"/>
<rect y="704.0" height="2.3" fill="#eacecf"/>
<rect y="706.0" height="2.3" fill="#e3bdbc"/>
<rect y="708.0" height="2.0" fill="#f0e0e3"/>
<rect y="709.7" height="1.3" fill="#9e90c8"/>
<rect y="710.7" height="1.5" fill="#d2c8e2"/>
<rect y="711.9" height="2.8" fill="#9f91c8"/>
<rect y="714.4" height="1.8" fill="#b8acd5"/>
<rect y="715.9" height="0.4" fill="#ab9ecf"/>
</g>
<g class="hd" transform="translate(53.07,0)">
<rect y="667.3" height="1.5" fill="#f6f0f4"/>
<rect y="668.5" height="1.8" fill="#f2e6e9"/>
<rect y="670.0" height="1.3" fill="#f3e9ec"/>
<rect y="671.0" height="2.3" fill="#edd8d9"/>
<rect y="673.0" height="1.8" fill="#f0e1e3"/>
<rect y="674.5" height="1.1" fill="#f0dfe2"/>
<rect y="675.3" height="1.5" fill="#7e71b5"/>
<rect y="676.5" height="2.8" fill="#7568b0"/>
<rect y="679.0" height="1.8" fill="#988ac4"/>
<rect y="680.5" height="1.3" fill="#7c6fb4"/>
<rect y="681.5" height="2.3" fill="#897cbc"/>
<rect y="683.5" height="1.5" fill="#9385c1"/>
<rect y="684.7" height="0.5" fill="#9688c3"/>
<rect y="684.9" height="2.8" fill="#9a8dc6"/>
<rect y="687.4" height="2.8" fill="#b3a7d3"/>
<rect y="689.9" height="1.5" fill="#9789c4"/>
<rect y="691.1" height="2.3" fill="#c7bddd"/>
<rect y="693.1" height="1.8" fill="#c3b8da"/>
<rect y="694.6" height="1.5" fill="#b1a4d1"/>
<rect y="695.8" height="2.8" fill="#9b8dc6"/>
<rect y="698.3" height="1.8" fill="#f0e9f1"/>
<rect y="699.8" height="2.3" fill="#b8acd5"/>
<rect y="701.8" height="2.5" fill="#c7bddc"/>
<rect y="704.0" height="2.8" fill="#51459b"/>
<rect y="706.5" height="1.3" fill="#5d50a2"/>
<rect y="707.5" height="1.3" fill="#8275b8"/>
<rect y="708.5" height="1.3" fill="#4e4299"/>
<rect y="709.5" height="1.5" fill="#52469c"/>
<rect y="710.7" height="1.2" fill="#5b4fa1"/>
<rect y="711.6" height="1.5" fill="#f5eff4"/>
<rect y="712.8" height="2.8" fill="#ece5ef"/>
<rect y="715.3" height="1.0" fill="#efe9f1"/>
</g>
<g class="hd" transform="translate(78.75,0)">
<rect y="667.3" height="1.8" fill="#b85853"/>
<rect y="668.8" height="1.8" fill="#bc605b"/>
<rect y="670.3" height="2.3" fill="#c26c66"/>
<rect y="672.3" height="1.3" fill="#bb5e59"/>
<rect y="673.3" height="1.3" fill="#c4706b"/>
<rect y="674.3" height="1.8" fill="#b75550"/>
<rect y="675.8" height="2.3" fill="#b75652"/>
<rect y="677.8" height="1.6" fill="#b44f4a"/>
<rect y="679.1" height="1.3" fill="#cd847e"/>
<rect y="680.1" height="1.3" fill="#c5736d"/>
<rect y="681.1" height="2.3" fill="#c16b66"/>
<rect y="683.1" height="1.5" fill="#d59690"/>
<rect y="684.3" height="1.5" fill="#bf6762"/>
<rect y="685.5" height="2.3" fill="#c87a74"/>
<rect y="687.5" height="1.8" fill="#d69894"/>
<rect y="689.0" height="1.9" fill="#cd837e"/>
<rect y="690.6" height="1.8" fill="#ab3c38"/>
<rect y="692.1" height="1.3" fill="#ba5b56"/>
<rect y="693.1" height="1.3" fill="#bf6560"/>
<rect y="694.1" height="1.5" fill="#b14844"/>
<rect y="695.3" height="1.5" fill="#ad403c"/>
<rect y="696.5" height="2.3" fill="#c77771"/>
<rect y="698.5" height="2.3" fill="#ad403c"/>
<rect y="700.5" height="1.3" fill="#be6560"/>
<rect y="701.5" height="1.5" fill="#c26d67"/>
<rect y="702.7" height="1.5" fill="#b6544f"/>
<rect y="703.9" height="2.8" fill="#b24c47"/>
<rect y="706.4" height="2.8" fill="#b95954"/>
<rect y="708.9" height="1.1" fill="#c26d67"/>
<rect y="709.7" height="1.8" fill="#d18b85"/>
<rect y="711.2" height="1.8" fill="#ca7d78"/>
<rect y="712.7" height="2.8" fill="#ce8681"/>
<rect y="715.2" height="1.1" fill="#ce8680"/>
</g>
<g class="hd" transform="translate(104.42,0)">
<rect y="667.3" height="2.3" fill="#9587c2"/>
<rect y="669.3" height="1.8" fill="#8578ba"/>
<rect y="670.8" height="1.3" fill="#7b6db3"/>
<rect y="671.8" height="1.5" fill="#7668b0"/>
<rect y="673.0" height="1.5" fill="#9789c4"/>
<rect y="674.2" height="1.4" fill="#988ac5"/>
<rect y="675.3" height="2.8" fill="#c9bfde"/>
<rect y="677.8" height="1.3" fill="#c2b7da"/>
<rect y="678.8" height="1.5" fill="#d1c7e1"/>
<rect y="680.0" height="2.3" fill="#d1c8e2"/>
<rect y="682.0" height="2.3" fill="#cbc1de"/>
<rect y="684.0" height="2.3" fill="#ada1d0"/>
<rect y="686.0" height="1.5" fill="#a294ca"/>
<rect y="687.2" height="1.8" fill="#9184c1"/>
<rect y="688.7" height="2.8" fill="#9083c0"/>
<rect y="691.2" height="2.8" fill="#998bc5"/>
<rect y="693.7" height="2.8" fill="#8c7ebd"/>
<rect y="696.2" height="2.4" fill="#b7acd5"/>
<rect y="698.3" height="1.3" fill="#f5eff4"/>
<rect y="699.3" height="1.5" fill="#e7c6c6"/>
<rect y="700.5" height="1.3" fill="#f3e7ea"/>
<rect y="701.5" height="2.8" fill="#e9cece"/>
<rect y="704.0" height="1.3" fill="#e5c2c1"/>
<rect y="705.0" height="1.3" fill="#eee7f0"/>
<rect y="706.0" height="2.8" fill="#eed9db"/>
<rect y="708.5" height="2.8" fill="#f4eaed"/>
<rect y="711.0" height="1.5" fill="#f1e2e5"/>
<rect y="712.2" height="1.3" fill="#e8c9c9"/>
<rect y="713.2" height="2.3" fill="#f6f0f4"/>
<rect y="715.2" height="1.1" fill="#f1e2e5"/>
</g>
<rect x="27.40" y="667.30" width="102.70" height="48.70" fill="none" stroke="#666" stroke-width="0.8"/>
<rect x="131.80" y="667.80" width="10.70" height="47.70" fill="#5a58a0" />
<text x="137.2" y="691.65" font-size="11" text-anchor="middle" font-weight="normal" fill="#fff" transform="rotate(-90 137.2 691.65)" dominant-baseline="central">n:3313</text>
<text x="1.5" y="698.0" font-size="9.3" text-anchor="start" font-weight="normal" fill="#151213" >G2</text>
<g class="hd" transform="translate(27.40,0)">
<rect y="718.3" height="2.3" fill="#bd615c"/>
<rect y="720.3" height="1.8" fill="#b85753"/>
<rect y="721.8" height="2.3" fill="#bf6661"/>
<rect y="723.8" height="1.8" fill="#a83632"/>
<rect y="725.3" height="1.3" fill="#b75550"/>
<rect y="726.3" height="1.5" fill="#be645f"/>
<rect y="727.5" height="2.3" fill="#ad413d"/>
<rect y="729.5" height="1.3" fill="#ae433e"/>
<rect y="730.5" height="1.3" fill="#a83632"/>
<rect y="731.5" height="2.3" fill="#ba5c57"/>
<rect y="733.5" height="2.8" fill="#be645f"/>
<rect y="736.0" height="1.3" fill="#a83632"/>
<rect y="737.0" height="1.5" fill="#a83632"/>
<rect y="738.2" height="1.5" fill="#b95954"/>
<rect y="739.4" height="2.3" fill="#a83632"/>
<rect y="741.4" height="1.8" fill="#a83632"/>
<rect y="742.9" height="2.3" fill="#b14944"/>
<rect y="744.9" height="1.3" fill="#ba5b56"/>
<rect y="745.9" height="1.5" fill="#b6544f"/>
<rect y="747.1" height="1.3" fill="#b85752"/>
<rect y="748.1" height="1.8" fill="#b14844"/>
<rect y="749.6" height="1.8" fill="#b44f4b"/>
<rect y="751.1" height="2.3" fill="#be6560"/>
<rect y="753.1" height="1.5" fill="#af4540"/>
<rect y="754.3" height="1.5" fill="#ad413d"/>
<rect y="755.5" height="1.5" fill="#bc605b"/>
<rect y="756.7" height="2.3" fill="#c06963"/>
<rect y="758.7" height="2.3" fill="#b04642"/>
<rect y="760.7" height="1.3" fill="#be6560"/>
<rect y="761.7" height="1.3" fill="#bd615c"/>
<rect y="762.7" height="0.6" fill="#b4504b"/>
<rect y="763.0" height="1.3" fill="#ca7d78"/>
<rect y="764.0" height="2.3" fill="#b95955"/>
<rect y="766.0" height="1.5" fill="#c16b65"/>
<rect y="767.2" height="1.1" fill="#bc605b"/>
<rect y="768.0" height="2.3" fill="#b34d49"/>
<rect y="770.0" height="2.3" fill="#af4440"/>
<rect y="772.0" height="2.3" fill="#af4541"/>
<rect y="774.0" height="1.8" fill="#a83632"/>
<rect y="775.5" height="1.5" fill="#ae423e"/>
<rect y="776.7" height="2.8" fill="#b24a46"/>
<rect y="779.2" height="1.8" fill="#b75652"/>
<rect y="780.7" height="1.8" fill="#b85853"/>
<rect y="782.2" height="2.3" fill="#be645f"/>
<rect y="784.2" height="2.3" fill="#bb5e59"/>
<rect y="786.2" height="1.8" fill="#aa3a36"/>
<rect y="787.7" height="1.3" fill="#af4541"/>
<rect y="788.7" height="1.5" fill="#ba5b56"/>
<rect y="789.9" height="2.8" fill="#a83632"/>
<rect y="792.4" height="2.8" fill="#ba5c58"/>
<rect y="794.9" height="2.8" fill="#b24c47"/>
<rect y="797.4" height="1.5" fill="#b04743"/>
<rect y="798.6" height="1.3" fill="#a83632"/>
</g>
<g class="hd" transform="translate(53.07,0)">
<rect y="718.3" height="2.8" fill="#e2bab9"/>
<rect y="720.8" height="1.5" fill="#edd8d9"/>
<rect y="722.0" height="1.3" fill="#ecd4d5"/>
<rect y="723.0" height="1.5" fill="#e8c9c9"/>
<rect y="724.2" height="1.5" fill="#f5eef2"/>
<rect y="725.4" height="2.8" fill="#f1e2e5"/>
<rect y="727.9" height="1.3" fill="#f3e8eb"/>
<rect y="728.9" height="1.8" fill="#e8e0ed"/>
<rect y="730.4" height="1.3" fill="#f3edf3"/>
<rect y="731.4" height="1.5" fill="#e6deec"/>
<rect y="732.6" height="2.8" fill="#f5edf1"/>
<rect y="735.1" height="1.7" fill="#dbd3e7"/>
<rect y="736.5" height="1.8" fill="#a497cb"/>
<rect y="738.0" height="1.8" fill="#bfb4d8"/>
<rect y="739.5" height="1.3" fill="#d3cae3"/>
<rect y="740.5" height="1.3" fill="#ab9fcf"/>
<rect y="741.5" height="1.8" fill="#a89bcd"/>
<rect y="743.0" height="2.8" fill="#b0a4d1"/>
<rect y="745.5" height="1.5" fill="#a598cc"/>
<rect y="746.7" height="2.8" fill="#ccc2df"/>
<rect y="749.2" height="2.3" fill="#9c8ec7"/>
<rect y="751.2" height="1.5" fill="#cac0de"/>
<rect y="752.4" height="1.5" fill="#ada0cf"/>
<rect y="753.6" height="2.3" fill="#bfb5d9"/>
<rect y="755.6" height="1.3" fill="#a396cb"/>
<rect y="756.6" height="2.3" fill="#b6abd4"/>
<rect y="758.6" height="1.5" fill="#baafd6"/>
<rect y="759.8" height="1.3" fill="#bdb1d7"/>
<rect y="760.8" height="1.5" fill="#aea2d0"/>
<rect y="762.0" height="1.5" fill="#aa9dce"/>
<rect y="763.2" height="0.4" fill="#d3cae2"/>
<rect y="763.3" height="1.3" fill="#8d7fbe"/>
<rect y="764.3" height="1.3" fill="#9284c1"/>
<rect y="765.3" height="1.5" fill="#7e71b6"/>
<rect y="766.5" height="2.3" fill="#8a7dbd"/>
<rect y="768.5" height="2.3" fill="#7b6eb4"/>
<rect y="770.5" height="2.8" fill="#9d8fc7"/>
<rect y="773.0" height="2.8" fill="#9486c2"/>
<rect y="775.5" height="1.8" fill="#8376b9"/>
<rect y="777.0" height="2.3" fill="#998bc5"/>
<rect y="779.0" height="2.3" fill="#988ac4"/>
<rect y="781.0" height="1.3" fill="#887bbb"/>
<rect y="782.0" height="2.8" fill="#7a6db3"/>
<rect y="784.5" height="2.0" fill="#8073b7"/>
<rect y="786.2" height="1.3" fill="#f3e9ec"/>
<rect y="787.2" height="1.3" fill="#f4eaee"/>
<rect y="788.2" height="2.8" fill="#e5c1c0"/>
<rect y="790.7" height="1.6" fill="#ecd6d7"/>
<rect y="792.0" height="1.8" fill="#eae3ee"/>
<rect y="793.5" height="1.3" fill="#c3b8db"/>
<rect y="794.5" height="2.3" fill="#c3b8da"/>
<rect y="796.5" height="2.3" fill="#f0e9f1"/>
<rect y="798.5" height="1.4" fill="#dfd7e8"/>
</g>
<g class="hd" transform="translate(78.75,0)">
<rect y="718.3" height="2.8" fill="#c9bfdd"/>
<rect y="720.8" height="2.8" fill="#a496cb"/>
<rect y="723.3" height="2.3" fill="#cbc1de"/>
<rect y="725.3" height="1.3" fill="#cec5e0"/>
<rect y="726.3" height="1.8" fill="#c6bcdc"/>
<rect y="727.8" height="1.4" fill="#b4a7d3"/>
<rect y="728.9" height="1.5" fill="#ebd2d3"/>
<rect y="730.1" height="2.3" fill="#e2bab9"/>
<rect y="732.1" height="1.3" fill="#eedbdc"/>
<rect y="733.1" height="1.5" fill="#edd9da"/>
<rect y="734.3" height="2.8" fill="#e2bab8"/>
<rect y="736.8" height="2.3" fill="#f1e1e4"/>
<rect y="738.8" height="1.5" fill="#deafad"/>
<rect y="740.0" height="0.6" fill="#e8cbcb"/>
<rect y="740.3" height="1.3" fill="#cfc6e1"/>
<rect y="741.3" height="2.3" fill="#e6dfec"/>
<rect y="743.3" height="2.3" fill="#bdb1d7"/>
<rect y="745.3" height="2.8" fill="#c2b8da"/>
<rect y="747.8" height="0.5" fill="#b6aad4"/>
<rect y="748.0" height="1.8" fill="#eae3ee"/>
<rect y="749.5" height="2.3" fill="#e0d8e9"/>
<rect y="751.5" height="2.3" fill="#ecd6d7"/>
<rect y="753.5" height="1.5" fill="#e9e2ee"/>
<rect y="754.7" height="1.3" fill="#e3dceb"/>
<rect y="755.7" height="1.8" fill="#ecd5d6"/>
<rect y="757.2" height="1.3" fill="#e2daea"/>
<rect y="758.2" height="2.8" fill="#e4dceb"/>
<rect y="760.7" height="1.5" fill="#e3dbea"/>
<rect y="761.9" height="1.3" fill="#f2e6e9"/>
<rect y="762.9" height="0.7" fill="#f0e1e3"/>
<rect y="763.3" height="1.8" fill="#ded5e8"/>
<rect y="764.8" height="1.8" fill="#d8cfe5"/>
<rect y="766.3" height="1.5" fill="#b7abd5"/>
<rect y="767.5" height="2.3" fill="#bcb1d7"/>
<rect y="769.5" height="1.5" fill="#b0a4d1"/>
<rect y="770.7" height="0.6" fill="#aa9dce"/>
<rect y="771.0" height="1.5" fill="#edd9da"/>
<rect y="772.2" height="1.5" fill="#e8c9c9"/>
<rect y="773.4" height="1.8" fill="#e0b5b3"/>
<rect y="774.9" height="1.8" fill="#e0b4b2"/>
<rect y="776.4" height="2.5" fill="#deaeac"/>
<rect y="778.6" height="2.8" fill="#e5deec"/>
<rect y="781.1" height="1.8" fill="#f3e8ec"/>
<rect y="782.6" height="1.5" fill="#efe8f0"/>
<rect y="783.8" height="1.8" fill="#cec4e0"/>
<rect y="785.3" height="1.3" fill="#e2daea"/>
<rect y="786.3" height="1.3" fill="#e1d9e9"/>
<rect y="787.3" height="2.8" fill="#cac0de"/>
<rect y="789.8" height="0.5" fill="#c6bcdc"/>
<rect y="790.0" height="2.8" fill="#776ab1"/>
<rect y="792.5" height="1.8" fill="#8072b6"/>
<rect y="794.0" height="2.8" fill="#6b5fab"/>
<rect y="796.5" height="1.8" fill="#a294ca"/>
<rect y="798.0" height="1.5" fill="#7568b0"/>
<rect y="799.2" height="0.7" fill="#9285c1"/>
</g>
<g class="hd" transform="translate(104.42,0)">
<rect y="718.3" height="1.3" fill="#7a6db3"/>
<rect y="719.3" height="1.5" fill="#aa9ece"/>
<rect y="720.5" height="1.3" fill="#9486c2"/>
<rect y="721.5" height="2.8" fill="#8678ba"/>
<rect y="724.0" height="2.3" fill="#7265af"/>
<rect y="726.0" height="1.3" fill="#9082c0"/>
<rect y="727.0" height="1.8" fill="#8275b8"/>
<rect y="728.5" height="0.7" fill="#9e90c8"/>
<rect y="728.9" height="2.8" fill="#a395ca"/>
<rect y="731.4" height="2.8" fill="#bfb4d8"/>
<rect y="733.9" height="2.8" fill="#9c8ec7"/>
<rect y="736.4" height="1.5" fill="#988ac4"/>
<rect y="737.6" height="2.3" fill="#9f91c9"/>
<rect y="739.6" height="2.3" fill="#b3a6d2"/>
<rect y="741.6" height="1.8" fill="#c1b6da"/>
<rect y="743.1" height="1.5" fill="#a193c9"/>
<rect y="744.3" height="2.8" fill="#9e90c8"/>
<rect y="746.8" height="2.8" fill="#b6aad4"/>
<rect y="749.3" height="1.8" fill="#9385c2"/>
<rect y="750.8" height="2.8" fill="#cdc3df"/>
<rect y="753.3" height="1.3" fill="#b4a8d3"/>
<rect y="754.3" height="1.5" fill="#a597cb"/>
<rect y="755.5" height="2.8" fill="#9284c1"/>
<rect y="758.0" height="2.3" fill="#c2b8da"/>
<rect y="760.0" height="2.8" fill="#ac9fcf"/>
<rect y="762.5" height="1.1" fill="#c6bbdc"/>
<rect y="763.3" height="1.3" fill="#efdcde"/>
<rect y="764.3" height="1.5" fill="#e2bab9"/>
<rect y="765.5" height="2.8" fill="#e2bab8"/>
<rect y="768.0" height="1.5" fill="#e1b7b5"/>
<rect y="769.2" height="1.3" fill="#e9cccc"/>
<rect y="770.2" height="1.1" fill="#dfb2af"/>
<rect y="771.0" height="2.8" fill="#d0c6e1"/>
<rect y="773.5" height="1.8" fill="#d2c8e2"/>
<rect y="775.0" height="2.3" fill="#a89bcd"/>
<rect y="777.0" height="1.9" fill="#ada0cf"/>
<rect y="778.6" height="1.8" fill="#efe9f1"/>
<rect y="780.1" height="2.3" fill="#eed9db"/>
<rect y="782.1" height="2.8" fill="#ebd3d4"/>
<rect y="784.6" height="1.3" fill="#f3edf3"/>
<rect y="785.6" height="2.3" fill="#f6f0f3"/>
<rect y="787.6" height="1.5" fill="#edd8da"/>
<rect y="788.8" height="1.3" fill="#e8e1ed"/>
<rect y="789.8" height="2.8" fill="#e6c5c4"/>
<rect y="792.3" height="1.5" fill="#ecd5d7"/>
<rect y="793.5" height="2.8" fill="#ecd5d7"/>
<rect y="796.0" height="1.3" fill="#e0d8e9"/>
<rect y="797.0" height="2.3" fill="#e9cbcc"/>
<rect y="799.0" height="0.9" fill="#e6deec"/>
</g>
<rect x="27.40" y="718.30" width="102.70" height="81.30" fill="none" stroke="#666" stroke-width="0.8"/>
<rect x="131.80" y="718.80" width="10.70" height="80.30" fill="#4a8cc0" />
<text x="137.2" y="758.95" font-size="11" text-anchor="middle" font-weight="normal" fill="#fff" transform="rotate(-90 137.2 758.95)" dominant-baseline="central">n:5554</text>
<text x="1.5" y="766.9" font-size="9.3" text-anchor="start" font-weight="normal" fill="#151213" >G4</text>
<defs>
<linearGradient id="atacH" x1="0" x2="1" y1="0" y2="0"><stop offset="0" stop-color="#efae9e"/><stop offset="0.3" stop-color="#e48e7e"/><stop offset="0.5" stop-color="#c02c28"/><stop offset="0.7" stop-color="#e08070"/><stop offset="1" stop-color="#eeaa9a"/></linearGradient>
<linearGradient id="atacV" x1="0" x2="0" y1="0" y2="1"><stop offset="0" stop-color="#fff" stop-opacity="0"/><stop offset="0.4" stop-color="#fff" stop-opacity="0.3"/><stop offset="1" stop-color="#fff" stop-opacity="0.78"/></linearGradient>
<linearGradient id="atacL" x1="0" x2="1" y1="0" y2="0"><stop offset="0" stop-color="#5a0c0e"/><stop offset="0.35" stop-color="#d92a26"/><stop offset="0.65" stop-color="#f08a70"/><stop offset="0.92" stop-color="#fde4da"/><stop offset="1" stop-color="#fff4f0"/></linearGradient>
<linearGradient id="atacT" x1="0" x2="0" y1="0" y2="1"><stop offset="0" stop-color="#9a1515" stop-opacity="0.6"/><stop offset="0.08" stop-color="#9a1515" stop-opacity="0.35"/><stop offset="0.35" stop-color="#9a1515" stop-opacity="0"/></linearGradient>
</defs>
<rect x="145.40" y="537.30" width="15.10" height="57.40" fill="url(#atacH)" />
<rect x="145.40" y="537.30" width="15.10" height="57.40" fill="url(#atacV)" />
<rect x="145.40" y="537.30" width="15.10" height="57.40" fill="url(#atacT)" />
<rect x="160.50" y="537.30" width="15.10" height="57.40" fill="url(#atacH)" />
<rect x="160.50" y="537.30" width="15.10" height="57.40" fill="url(#atacV)" />
<rect x="160.50" y="537.30" width="15.10" height="57.40" fill="url(#atacT)" />
<rect x="175.60" y="537.30" width="15.10" height="57.40" fill="url(#atacH)" />
<rect x="175.60" y="537.30" width="15.10" height="57.40" fill="url(#atacV)" />
<rect x="175.60" y="537.30" width="15.10" height="57.40" fill="url(#atacT)" />
<rect x="190.70" y="537.30" width="15.10" height="57.40" fill="url(#atacH)" />
<rect x="190.70" y="537.30" width="15.10" height="57.40" fill="url(#atacV)" />
<rect x="190.70" y="537.30" width="15.10" height="57.40" fill="url(#atacT)" />
<rect x="145.40" y="537.30" width="60.40" height="57.40" fill="none" stroke="#777" stroke-width="0.6"/>
<line x1="175.60000000000002" y1="537.3" x2="175.60000000000002" y2="594.7" stroke="#777" stroke-width="0.6" />
<line x1="190.70000000000002" y1="537.3" x2="190.70000000000002" y2="594.7" stroke="#777" stroke-width="0.6" />
<rect x="145.40" y="596.80" width="15.10" height="68.20" fill="url(#atacH)" />
<rect x="145.40" y="596.80" width="15.10" height="68.20" fill="url(#atacV)" />
<rect x="145.40" y="596.80" width="15.10" height="68.20" fill="url(#atacT)" />
<rect x="160.50" y="596.80" width="15.10" height="68.20" fill="url(#atacH)" />
<rect x="160.50" y="596.80" width="15.10" height="68.20" fill="url(#atacV)" />
<rect x="160.50" y="596.80" width="15.10" height="68.20" fill="url(#atacT)" />
<rect x="175.60" y="596.80" width="15.10" height="68.20" fill="url(#atacH)" />
<rect x="175.60" y="596.80" width="15.10" height="68.20" fill="url(#atacV)" />
<rect x="175.60" y="596.80" width="15.10" height="68.20" fill="url(#atacT)" />
<rect x="190.70" y="596.80" width="15.10" height="68.20" fill="url(#atacH)" />
<rect x="190.70" y="596.80" width="15.10" height="68.20" fill="url(#atacV)" />
<rect x="190.70" y="596.80" width="15.10" height="68.20" fill="url(#atacT)" />
<rect x="145.40" y="596.80" width="60.40" height="68.20" fill="none" stroke="#777" stroke-width="0.6"/>
<line x1="175.60000000000002" y1="596.8" x2="175.60000000000002" y2="665.0" stroke="#777" stroke-width="0.6" />
<line x1="190.70000000000002" y1="596.8" x2="190.70000000000002" y2="665.0" stroke="#777" stroke-width="0.6" />
<rect x="145.40" y="667.30" width="15.10" height="48.70" fill="url(#atacH)" />
<rect x="145.40" y="667.30" width="15.10" height="48.70" fill="url(#atacV)" />
<rect x="145.40" y="667.30" width="15.10" height="48.70" fill="url(#atacT)" />
<rect x="160.50" y="667.30" width="15.10" height="48.70" fill="url(#atacH)" />
<rect x="160.50" y="667.30" width="15.10" height="48.70" fill="url(#atacV)" />
<rect x="160.50" y="667.30" width="15.10" height="48.70" fill="url(#atacT)" />
<rect x="175.60" y="667.30" width="15.10" height="48.70" fill="url(#atacH)" />
<rect x="175.60" y="667.30" width="15.10" height="48.70" fill="url(#atacV)" />
<rect x="175.60" y="667.30" width="15.10" height="48.70" fill="url(#atacT)" />
<rect x="190.70" y="667.30" width="15.10" height="48.70" fill="url(#atacH)" />
<rect x="190.70" y="667.30" width="15.10" height="48.70" fill="url(#atacV)" />
<rect x="190.70" y="667.30" width="15.10" height="48.70" fill="url(#atacT)" />
<rect x="145.40" y="667.30" width="60.40" height="48.70" fill="none" stroke="#777" stroke-width="0.6"/>
<line x1="175.60000000000002" y1="667.3" x2="175.60000000000002" y2="716.0" stroke="#777" stroke-width="0.6" />
<line x1="190.70000000000002" y1="667.3" x2="190.70000000000002" y2="716.0" stroke="#777" stroke-width="0.6" />
<rect x="145.40" y="718.30" width="15.10" height="81.30" fill="url(#atacH)" />
<rect x="145.40" y="718.30" width="15.10" height="81.30" fill="url(#atacV)" />
<rect x="145.40" y="718.30" width="15.10" height="81.30" fill="url(#atacT)" />
<rect x="160.50" y="718.30" width="15.10" height="81.30" fill="url(#atacH)" />
<rect x="160.50" y="718.30" width="15.10" height="81.30" fill="url(#atacV)" />
<rect x="160.50" y="718.30" width="15.10" height="81.30" fill="url(#atacT)" />
<rect x="175.60" y="718.30" width="15.10" height="81.30" fill="url(#atacH)" />
<rect x="175.60" y="718.30" width="15.10" height="81.30" fill="url(#atacV)" />
<rect x="175.60" y="718.30" width="15.10" height="81.30" fill="url(#atacT)" />
<rect x="190.70" y="718.30" width="15.10" height="81.30" fill="url(#atacH)" />
<rect x="190.70" y="718.30" width="15.10" height="81.30" fill="url(#atacV)" />
<rect x="190.70" y="718.30" width="15.10" height="81.30" fill="url(#atacT)" />
<rect x="145.40" y="718.30" width="60.40" height="81.30" fill="none" stroke="#777" stroke-width="0.6"/>
<line x1="175.60000000000002" y1="718.3" x2="175.60000000000002" y2="799.6" stroke="#777" stroke-width="0.6" />
<line x1="190.70000000000002" y1="718.3" x2="190.70000000000002" y2="799.6" stroke="#777" stroke-width="0.6" />
<text x="25" y="535.3" font-size="8.6" text-anchor="start" font-weight="normal" fill="#151213" >Z−score</text>
<linearGradient id="zg" x1="0" x2="1" y1="0" y2="0"><stop offset="0" stop-color="#a83632"/><stop offset="0.25" stop-color="#d28e88"/><stop offset="0.5" stop-color="#f6f0f4"/><stop offset="0.75" stop-color="#9e90c8"/><stop offset="1" stop-color="#3a3496"/></linearGradient>
<rect x="56.00" y="528.00" width="53.40" height="8.00" fill="url(#zg)" />
<line x1="57.3" y1="528" x2="57.3" y2="536" stroke="#fff" stroke-width="0.7" />
<line x1="71.4" y1="528" x2="71.4" y2="536" stroke="#fff" stroke-width="0.7" />
<line x1="82.2" y1="528" x2="82.2" y2="536" stroke="#fff" stroke-width="0.7" />
<line x1="95" y1="528" x2="95" y2="536" stroke="#fff" stroke-width="0.7" />
<line x1="107.9" y1="528" x2="107.9" y2="536" stroke="#fff" stroke-width="0.7" />
<line x1="56.3" y1="528" x2="56.3" y2="536" stroke="#7a1a18" stroke-width="0.8" />
<line x1="109.1" y1="528" x2="109.1" y2="536" stroke="#1a2a8a" stroke-width="0.8" />
<text x="58.2" y="526" font-size="8.8" text-anchor="middle" font-weight="normal" fill="#151213" >2</text>
<text x="70.5" y="526" font-size="8.8" text-anchor="middle" font-weight="normal" fill="#151213" >1</text>
<text x="82.2" y="526" font-size="8.8" text-anchor="middle" font-weight="normal" fill="#151213" >0</text>
<text x="94.5" y="526" font-size="8.8" text-anchor="middle" font-weight="normal" fill="#151213" >−1</text>
<text x="106.7" y="526" font-size="8.8" text-anchor="middle" font-weight="normal" fill="#151213" >−2</text>
<text x="132.8" y="535.3" font-size="8.6" text-anchor="start" font-weight="normal" fill="#151213" >ATAC</text>
<rect x="156.50" y="527.50" width="44.50" height="8.30" fill="url(#atacL)" stroke="#222" stroke-width="0.5"/>
<text x="158" y="526" font-size="8.8" text-anchor="middle" font-weight="normal" fill="#151213" >30</text>
<text x="178.9" y="526" font-size="8.8" text-anchor="middle" font-weight="normal" fill="#151213" >15</text>
<text x="199.2" y="526" font-size="8.8" text-anchor="middle" font-weight="normal" fill="#151213" >0</text>
<path d="M26.8,537.9H26.3V538.9H26.8M26.3,538.4H26.0V540.0H26.8M26.0,539.2H25.3V541.0H26.8M26.8,542.1H26.5V543.1H26.8M26.5,542.6H26.0V544.2H26.8M25.3,540.1H24.4V543.4H26.0M26.8,546.3H26.4V547.4H26.8M26.8,545.2H25.8V546.8H26.4M24.4,541.8H24.1V546.0H25.8M26.8,549.4H26.2V550.5H26.8M26.8,548.4H25.7V550.0H26.2M26.8,551.5H26.6V552.6H26.8M26.6,552.1H26.2V553.6H26.8M26.2,552.9H25.6V554.7H26.8M25.6,553.8H25.3V555.8H26.8M25.7,549.2H24.3V554.8H25.3M24.1,543.9H23.4V552.0H24.3M26.8,556.8H26.5V557.9H26.8M26.8,561.0H26.2V562.0H26.8M26.2,561.5H25.7V563.1H26.8M26.8,559.9H25.4V562.3H25.7M25.4,561.1H24.7V564.1H26.8M26.8,558.9H24.1V562.6H24.7M26.5,557.3H23.2V560.8H24.1M26.8,567.3H26.5V568.4H26.8M26.8,566.2H25.7V567.8H26.5M26.8,565.2H24.9V567.0H25.7M23.2,559.0H22.3V566.1H24.9M26.8,570.4H26.3V571.5H26.8M26.3,571.0H25.6V572.5H26.8M26.8,569.4H25.3V571.8H25.6M26.8,573.6H26.4V574.6H26.8M26.4,574.1H25.9V575.7H26.8M26.8,576.8H26.4V577.8H26.8M26.4,577.3H25.9V578.9H26.8M25.9,578.1H25.5V579.9H26.8M26.8,580.9H26.1V582.0H26.8M25.5,579.0H25.2V581.5H26.1M25.9,574.9H24.3V580.2H25.2M25.3,570.6H23.2V577.6H24.3M26.8,584.1H26.6V585.1H26.8M26.6,584.6H26.0V586.2H26.8M26.8,583.0H25.4V585.4H26.0M23.2,574.1H22.4V584.2H25.4M26.8,587.2H26.1V588.3H26.8M26.1,587.8H25.8V589.4H26.8M26.8,590.4H26.5V591.4H26.8M26.5,590.9H26.1V592.5H26.8M25.8,588.6H24.9V591.7H26.1M22.4,579.2H21.8V590.1H24.9M22.3,562.6H20.8V584.6H21.8M23.4,547.9H20.1V573.6H20.8" stroke="#000" stroke-width="0.6" fill="none"/>
<path d="M26.8,598.4H26.2V599.5H26.8M26.8,600.5H26.5V601.6H26.8M26.8,602.6H26.6V603.7H26.8M26.5,601.1H26.0V603.2H26.6M26.2,599.0H25.2V602.1H26.0M26.8,597.4H24.8V600.5H25.2M26.8,605.8H26.3V606.9H26.8M26.8,607.9H26.4V608.9H26.8M26.3,606.3H26.0V608.4H26.4M26.8,604.8H25.1V607.4H26.0M26.8,610.0H26.6V611.0H26.8M26.6,610.5H25.9V612.1H26.8M26.8,614.2H26.6V615.2H26.8M26.6,614.7H26.2V616.3H26.8M26.8,613.1H25.8V615.5H26.2M26.8,617.4H26.4V618.4H26.8M25.8,614.3H25.4V617.9H26.4M25.4,616.1H25.1V619.4H26.8M25.9,611.3H24.6V617.8H25.1M25.1,606.1H23.5V614.5H24.6M24.8,599.0H22.3V610.3H23.5M26.8,621.5H26.1V622.6H26.8M26.8,620.5H25.5V622.1H26.1M26.8,623.6H26.3V624.7H26.8M26.3,624.2H25.5V625.8H26.8M25.5,621.3H24.6V625.0H25.5M26.8,626.8H26.3V627.9H26.8M26.3,627.3H25.8V628.9H26.8M26.8,629.9H26.5V631.0H26.8M26.8,632.0H26.3V633.1H26.8M26.5,630.5H26.0V632.6H26.3M26.0,631.5H25.2V634.1H26.8M25.2,632.8H24.7V635.2H26.8M25.8,628.1H24.3V634.0H24.7M26.8,637.3H26.4V638.4H26.8M26.4,637.8H26.1V639.4H26.8M26.8,640.4H26.4V641.5H26.8M26.4,641.0H25.7V642.5H26.8M26.1,638.6H25.0V641.8H25.7M26.8,636.2H24.1V640.2H25.0M26.8,644.6H26.5V645.7H26.8M26.8,643.6H26.3V645.2H26.5M24.1,638.2H23.7V644.4H26.3M24.3,631.1H23.4V641.3H23.7M24.6,623.1H22.7V636.2H23.4M26.8,648.9H26.5V649.9H26.8M26.5,649.4H26.0V650.9H26.8M26.0,650.2H25.6V652.0H26.8M26.8,647.8H25.0V651.1H25.6M26.8,646.8H24.6V649.4H25.0M26.8,655.1H26.1V656.2H26.8M26.8,654.1H25.8V655.7H26.1M26.8,653.0H25.1V654.9H25.8M26.8,660.4H26.4V661.4H26.8M26.4,660.9H26.1V662.5H26.8M26.8,659.4H25.4V661.7H26.1M26.8,658.3H25.0V660.5H25.4M25.0,659.4H24.3V663.5H26.8M26.8,657.2H23.8V661.5H24.3M25.1,654.0H23.0V659.4H23.8M24.6,648.1H22.4V656.7H23.0M22.7,629.7H22.0V652.4H22.4M22.3,604.6H21.2V641.0H22.0" stroke="#000" stroke-width="0.6" fill="none"/>
<path d="M26.8,668.9H26.3V670.0H26.8M26.8,667.9H26.1V669.5H26.3M26.1,668.7H25.4V671.0H26.8M25.4,669.9H25.0V672.1H26.8M25.0,671.0H24.4V673.1H26.8M26.8,674.2H26.2V675.2H26.8M26.2,674.7H25.7V676.3H26.8M24.4,672.1H23.6V675.5H25.7M26.8,677.4H26.2V678.4H26.8M26.2,677.9H25.3V679.4H26.8M26.8,681.5H26.2V682.6H26.8M26.2,682.1H25.8V683.6H26.8M26.8,680.5H25.0V682.9H25.8M26.8,685.8H26.3V686.8H26.8M26.8,684.7H25.6V686.3H26.3M25.6,685.5H24.7V687.9H26.8M25.0,681.7H24.0V686.7H24.7M25.3,678.7H23.0V684.2H24.0M23.6,673.8H22.0V681.4H23.0M26.8,688.9H26.6V689.9H26.8M26.8,691.0H26.6V692.0H26.8M26.6,689.4H25.9V691.5H26.6M25.9,690.5H25.6V693.1H26.8M25.6,691.8H25.2V694.1H26.8M26.8,695.2H26.2V696.2H26.8M26.2,695.7H25.5V697.3H26.8M25.2,693.0H24.6V696.5H25.5M26.8,698.4H26.5V699.4H26.8M24.6,694.7H24.0V698.9H26.5M26.8,701.5H26.1V702.5H26.8M26.1,702.0H25.5V703.6H26.8M26.8,700.4H25.2V702.8H25.5M26.8,704.6H26.5V705.7H26.8M25.2,701.6H24.7V705.2H26.5M24.0,696.8H23.1V703.4H24.7M26.8,706.8H26.3V707.8H26.8M26.3,707.3H25.6V708.9H26.8M26.8,710.9H26.3V712.0H26.8M26.8,709.9H25.8V711.5H26.3M26.8,713.0H26.4V714.1H26.8M25.8,710.7H25.3V713.6H26.4M25.6,708.1H24.7V712.1H25.3M23.1,700.1H22.1V710.1H24.7M22.0,677.6H20.7V705.1H22.1" stroke="#000" stroke-width="0.6" fill="none"/>
<path d="M26.8,718.9H26.2V719.9H26.8M26.2,719.4H25.9V721.0H26.8M26.8,724.1H26.3V725.2H26.8M26.8,723.1H25.7V724.7H26.3M26.8,722.0H25.3V723.9H25.7M25.9,720.2H24.4V723.0H25.3M26.8,726.2H26.1V727.3H26.8M26.8,728.4H26.4V729.4H26.8M26.4,728.9H25.7V730.4H26.8M26.8,731.5H26.3V732.5H26.8M26.3,732.0H26.0V733.6H26.8M26.8,734.6H26.6V735.7H26.8M26.0,732.8H25.7V735.2H26.6M25.7,729.7H25.0V734.0H25.7M26.1,726.8H24.0V731.8H25.0M24.4,721.6H22.8V729.3H24.0M26.8,736.8H26.5V737.8H26.8M26.8,738.9H26.2V739.9H26.8M26.2,739.4H25.9V740.9H26.8M25.9,740.2H25.4V742.0H26.8M26.5,737.3H24.9V741.1H25.4M26.8,743.0H26.4V744.1H26.8M24.9,739.2H24.1V743.6H26.4M26.8,746.2H26.2V747.2H26.8M26.8,745.1H25.6V746.7H26.2M25.6,745.9H25.4V748.3H26.8M24.1,741.4H23.0V747.1H25.4M22.8,725.4H22.3V744.2H23.0M26.8,749.4H26.6V750.4H26.8M26.8,752.5H26.3V753.5H26.8M26.8,754.6H26.2V755.6H26.8M26.3,753.0H25.8V755.1H26.2M26.8,751.4H25.6V754.1H25.8M26.8,756.7H26.3V757.8H26.8M25.6,752.8H25.3V757.2H26.3M26.6,749.9H24.8V755.0H25.3M26.8,759.9H26.4V760.9H26.8M26.8,758.8H26.1V760.4H26.4M26.8,761.9H26.2V763.0H26.8M26.1,759.6H25.3V762.5H26.2M26.8,764.0H26.1V765.1H26.8M26.1,764.6H25.7V766.1H26.8M25.3,761.0H24.7V765.4H25.7M24.8,752.4H23.6V763.2H24.7M26.8,767.2H26.5V768.2H26.8M26.8,769.3H26.1V770.4H26.8M26.1,769.8H25.3V771.4H26.8M26.5,767.7H25.1V770.6H25.3M23.6,757.8H22.8V769.2H25.1M26.8,772.4H26.5V773.5H26.8M26.5,773.0H26.3V774.5H26.8M26.3,773.8H25.5V775.6H26.8M26.8,776.6H26.3V777.7H26.8M26.3,777.2H25.8V778.8H26.8M25.5,774.7H24.7V778.0H25.8M26.8,779.8H26.5V780.9H26.8M26.5,780.3H26.1V781.9H26.8M26.8,785.0H26.6V786.1H26.8M26.6,785.6H26.0V787.1H26.8M26.8,784.0H25.4V786.4H26.0M26.8,782.9H25.0V785.2H25.4M26.1,781.1H24.5V784.1H25.0M26.8,789.2H26.6V790.3H26.8M26.8,791.4H26.5V792.4H26.8M26.5,791.9H25.8V793.4H26.8M26.6,789.8H25.2V792.7H25.8M26.8,788.2H25.0V791.2H25.2M24.5,782.6H24.0V789.7H25.0M26.8,794.5H26.3V795.5H26.8M26.8,796.6H26.4V797.6H26.8M26.3,795.0H25.6V797.1H26.4M24.0,786.1H23.1V796.1H25.6M24.7,776.3H22.3V791.1H23.1M22.8,763.5H21.8V783.7H22.3M22.3,734.8H20.5V773.6H21.8" stroke="#000" stroke-width="0.6" fill="none"/>
<path d="M20.1,560.8H17.3V622.8H21.2" stroke="#333" stroke-width="0.55" fill="none"/>
<path d="M20.7,691.4H18.4V754.2H20.5" stroke="#333" stroke-width="0.55" fill="none"/>
<path d="M17.3,591.8H16.5V722.8H18.4" stroke="#333" stroke-width="0.55" fill="none"/>
<text x="37.3" y="808.6" font-size="8" text-anchor="end" font-weight="normal" fill="#151213" transform="rotate(-21 37.3 808.6)">Control</text>
<text x="64.4" y="808.6" font-size="8" text-anchor="end" font-weight="normal" fill="#151213" transform="rotate(-21 64.4 808.6)">Treatment</text>
<text x="88.9" y="808.6" font-size="8" text-anchor="end" font-weight="normal" fill="#151213" transform="rotate(-21 88.9 808.6)">Control</text>
<text x="114.7" y="808.6" font-size="8" text-anchor="end" font-weight="normal" fill="#151213" transform="rotate(-21 114.7 808.6)">Treatment</text>
<text x="143.4" y="808.6" font-size="8" text-anchor="end" font-weight="normal" fill="#151213" transform="rotate(-21 143.4 808.6)">Control</text>
<text x="165.1" y="808.6" font-size="8" text-anchor="end" font-weight="normal" fill="#151213" transform="rotate(-21 165.1 808.6)">Treatment</text>
<text x="180.9" y="808.6" font-size="8" text-anchor="end" font-weight="normal" fill="#151213" transform="rotate(-21 180.9 808.6)">Control</text>
<text x="200.5" y="808.6" font-size="8" text-anchor="end" font-weight="normal" fill="#151213" transform="rotate(-21 200.5 808.6)">Treatment</text>
<line x1="11" y1="826.5" x2="60.6" y2="826.5" stroke="#8a8a8a" stroke-width="0.9" />
<line x1="62.8" y1="826.5" x2="112.4" y2="826.5" stroke="#8a8a8a" stroke-width="0.9" />
<line x1="119.3" y1="826.5" x2="154.4" y2="826.5" stroke="#8a8a8a" stroke-width="0.9" />
<line x1="158.5" y1="826.5" x2="204.6" y2="826.5" stroke="#8a8a8a" stroke-width="0.9" />
<text x="33" y="838.3" font-size="8" text-anchor="middle" font-weight="normal" fill="#151213" >24 h</text>
<text x="87.9" y="838.3" font-size="8" text-anchor="middle" font-weight="normal" fill="#151213" >7 d</text>
<text x="136.5" y="838.3" font-size="8" text-anchor="middle" font-weight="normal" fill="#151213" >24 h</text>
<text x="178.3" y="838.3" font-size="8" text-anchor="middle" font-weight="normal" fill="#151213" >7 d</text>
<rect x="214.30" y="537.40" width="84.20" height="262.60" fill="none" stroke="#999" stroke-width="0.8"/>
<line x1="214.3" y1="604.0" x2="298.5" y2="604.0" stroke="#999" stroke-width="0.8" />
<line x1="214.3" y1="671.3" x2="298.5" y2="671.3" stroke="#999" stroke-width="0.8" />
<line x1="214.3" y1="731.3" x2="298.5" y2="731.3" stroke="#999" stroke-width="0.8" />
<path d="M205.8,537.3 L214.3,537.4" stroke="#333" stroke-width="0.6" stroke-dasharray="1.5,1.2" fill="none"/>
<path d="M205.8,594.7 L214.3,604.0" stroke="#333" stroke-width="0.6" stroke-dasharray="1.5,1.2" fill="none"/>
<path d="M205.8,596.8 L214.3,604.0" stroke="#333" stroke-width="0.6" stroke-dasharray="1.5,1.2" fill="none"/>
<path d="M205.8,665.0 L214.3,671.3" stroke="#333" stroke-width="0.6" stroke-dasharray="1.5,1.2" fill="none"/>
<path d="M205.8,667.3 L214.3,671.3" stroke="#333" stroke-width="0.6" stroke-dasharray="1.5,1.2" fill="none"/>
<path d="M205.8,716.0 L214.3,731.3" stroke="#333" stroke-width="0.6" stroke-dasharray="1.5,1.2" fill="none"/>
<path d="M205.8,718.3 L214.3,731.3" stroke="#333" stroke-width="0.6" stroke-dasharray="1.5,1.2" fill="none"/>
<path d="M205.8,799.6 L214.3,800.0" stroke="#333" stroke-width="0.6" stroke-dasharray="1.5,1.2" fill="none"/>
<text x="244.8" y="554.4" font-size="9.58" font-weight="bold" fill="#b263b5" textLength="32.5" lengthAdjust="spacingAndGlyphs">CAMTA</text>
<text x="240.0" y="565.5" font-size="15.00" font-weight="bold" fill="#b263b5" textLength="30.7" lengthAdjust="spacingAndGlyphs">bZIP</text>
<text x="270.7" y="565.9" font-size="8.61" font-weight="bold" fill="#b263b5" textLength="15.5" lengthAdjust="spacingAndGlyphs">ERF</text>
<text x="240.0" y="582.0" font-size="21.53" font-weight="bold" fill="#b263b5" textLength="38.3" lengthAdjust="spacingAndGlyphs">SBP</text>
<text x="219.0" y="571.5" font-size="8.33" font-weight="bold" fill="#b263b5" textLength="19.6" lengthAdjust="spacingAndGlyphs">C2H2</text>
<text x="224.7" y="578.4" font-size="7.50" font-weight="bold" fill="#b263b5" textLength="14.9" lengthAdjust="spacingAndGlyphs">TBP</text>
<text x="271.1" y="584.7" font-size="9.72" font-weight="bold" fill="#b263b5" textLength="19.1" lengthAdjust="spacingAndGlyphs">NAC</text>
<text x="227.0" y="587.6" font-size="5.14" font-weight="bold" fill="#b263b5" textLength="21.0" lengthAdjust="spacingAndGlyphs">HD-ZIP</text>
<text x="248.8" y="590.2" font-size="10.00" font-weight="bold" fill="#b263b5" textLength="18.4" lengthAdjust="spacingAndGlyphs">BES</text>
<text x="246.8" y="597.4" font-size="7.78" font-weight="bold" fill="#b263b5" textLength="29.6" lengthAdjust="spacingAndGlyphs">CAMTA</text>
<text x="278.0" y="570.0" font-size="3.47" font-weight="bold" fill="#b263b5" textLength="6.5" lengthAdjust="spacingAndGlyphs">MYB</text>
<text x="278.0" y="574.0" font-size="3.47" font-weight="bold" fill="#b263b5" textLength="6.5" lengthAdjust="spacingAndGlyphs">HSF</text>
<text x="233.0" y="564.5" font-size="3.47" font-weight="bold" fill="#b263b5" textLength="5.0" lengthAdjust="spacingAndGlyphs">AR</text>
<text x="241.5" y="621.7" font-size="11.94" font-weight="bold" fill="#d4574a" textLength="27.6" lengthAdjust="spacingAndGlyphs">NAC</text>
<text x="228.4" y="632.9" font-size="9.17" font-weight="bold" fill="#d4574a" textLength="19.1" lengthAdjust="spacingAndGlyphs">SBP</text>
<text x="248.1" y="633.5" font-size="13.61" font-weight="bold" fill="#d4574a" textLength="24.3" lengthAdjust="spacingAndGlyphs">ERF</text>
<text x="272.8" y="634.4" font-size="6.67" font-weight="bold" fill="#d4574a" textLength="14.1" lengthAdjust="spacingAndGlyphs">HSF</text>
<text x="238.3" y="647.3" font-size="17.36" font-weight="bold" fill="#d4574a" textLength="36.7" lengthAdjust="spacingAndGlyphs">bZIP</text>
<text x="274.4" y="648.9" font-size="6.81" font-weight="bold" fill="#d4574a" textLength="16.0" lengthAdjust="spacingAndGlyphs">MYB</text>
<text x="223.1" y="656.8" font-size="9.86" font-weight="bold" fill="#d4574a" textLength="26.1" lengthAdjust="spacingAndGlyphs">C2H2</text>
<text x="249.4" y="658.5" font-size="13.75" font-weight="bold" fill="#d4574a" textLength="24.3" lengthAdjust="spacingAndGlyphs">FRS</text>
<text x="248.1" y="667.0" font-size="10.00" font-weight="bold" fill="#d4574a" textLength="21.7" lengthAdjust="spacingAndGlyphs">MYB</text>
<text x="243.0" y="637.5" font-size="2.78" font-weight="bold" fill="#d4574a" textLength="4.0" lengthAdjust="spacingAndGlyphs">EIL</text>
<text x="241.5" y="696.3" font-size="20.14" font-weight="bold" fill="#5252a6" textLength="37.5" lengthAdjust="spacingAndGlyphs">SBP</text>
<text x="222.1" y="696.6" font-size="7.78" font-weight="bold" fill="#5252a6" textLength="19.4" lengthAdjust="spacingAndGlyphs">MYB</text>
<text x="273.7" y="696.3" font-size="6.11" font-weight="bold" fill="#5252a6" textLength="10.5" lengthAdjust="spacingAndGlyphs">Dof</text>
<text x="222.0" y="702.4" font-size="5.42" font-weight="bold" fill="#5252a6" textLength="11.0" lengthAdjust="spacingAndGlyphs">ERF</text>
<text x="222.0" y="707.4" font-size="4.58" font-weight="bold" fill="#5252a6" textLength="11.0" lengthAdjust="spacingAndGlyphs">NAC</text>
<text x="233.7" y="712.7" font-size="20.14" font-weight="bold" fill="#5252a6" textLength="42.7" lengthAdjust="spacingAndGlyphs">NAC</text>
<text x="271.1" y="709.1" font-size="8.75" font-weight="bold" fill="#5252a6" textLength="15.8" lengthAdjust="spacingAndGlyphs">TCP</text>
<text x="239.6" y="722.5" font-size="12.78" font-weight="bold" fill="#5252a6" textLength="28.2" lengthAdjust="spacingAndGlyphs">bZIP</text>
<text x="267.8" y="720.8" font-size="7.64" font-weight="bold" fill="#5252a6" textLength="21.0" lengthAdjust="spacingAndGlyphs">C2H2</text>
<text x="244.8" y="747.0" font-size="12.22" font-weight="bold" fill="#5b96cb" textLength="26.3" lengthAdjust="spacingAndGlyphs">bZIP</text>
<text x="237.0" y="759.5" font-size="15.42" font-weight="bold" fill="#5b96cb" textLength="36.7" lengthAdjust="spacingAndGlyphs">MYB</text>
<text x="238.6" y="773.3" font-size="16.94" font-weight="bold" fill="#5b96cb" textLength="31.2" lengthAdjust="spacingAndGlyphs">TCP</text>
<text x="225.5" y="770.7" font-size="8.19" font-weight="bold" fill="#5b96cb" textLength="16.0" lengthAdjust="spacingAndGlyphs">ARF</text>
<text x="233.7" y="774.6" font-size="3.61" font-weight="bold" fill="#5b96cb" textLength="7.2" lengthAdjust="spacingAndGlyphs">TCP</text>
<text x="271.1" y="766.8" font-size="5.00" font-weight="bold" fill="#5b96cb" textLength="14.5" lengthAdjust="spacingAndGlyphs">WRKY</text>
<text x="267.8" y="774.3" font-size="6.25" font-weight="bold" fill="#5b96cb" textLength="11.2" lengthAdjust="spacingAndGlyphs">ERF</text>
<text x="241.5" y="784.5" font-size="11.81" font-weight="bold" fill="#5b96cb" textLength="25.7" lengthAdjust="spacingAndGlyphs">TBP</text>
<text x="237.3" y="793.7" font-size="10.97" font-weight="bold" fill="#5b96cb" textLength="29.9" lengthAdjust="spacingAndGlyphs">C2H2</text>
<text x="254.0" y="767.0" font-size="2.78" font-weight="bold" fill="#5b96cb" textLength="5.0" lengthAdjust="spacingAndGlyphs">SRF</text>
<text x="253" y="822" font-size="8.3" text-anchor="middle" font-weight="normal" fill="#151213" >TF Family</text>
<text x="253" y="831.7" font-size="8.3" text-anchor="middle" font-weight="normal" fill="#151213" >enrichment</text>
<rect x="299.40" y="538.50" width="158.60" height="261.30" fill="#fff" stroke="#555" stroke-width="0.9"/>
<rect x="301.70" y="541.00" width="33.00" height="12.60" fill="#b581bd" />
<text x="308.2" y="550.7" font-size="8.2" text-anchor="start" font-weight="normal" fill="#151213" >response to oxidative stress</text>
<rect x="301.70" y="555.37" width="44.00" height="12.60" fill="#b581bd" />
<text x="308.2" y="565.07" font-size="8.2" text-anchor="start" font-weight="normal" fill="#151213" >response to endogenous stimulus</text>
<rect x="301.70" y="569.74" width="44.30" height="12.60" fill="#b581bd" />
<text x="308.2" y="579.44" font-size="8.2" text-anchor="start" font-weight="normal" fill="#151213" >response to hormone</text>
<rect x="301.70" y="584.11" width="44.30" height="12.60" fill="#b581bd" />
<text x="308.2" y="593.8100000000001" font-size="8.2" text-anchor="start" font-weight="normal" fill="#151213" >response to stress</text>
<rect x="301.70" y="598.48" width="56.20" height="12.60" fill="#b581bd" />
<text x="308.2" y="608.1800000000001" font-size="8.2" text-anchor="start" font-weight="normal" fill="#151213" >response to abscisic acid</text>
<rect x="301.70" y="612.85" width="74.00" height="12.60" fill="#b581bd" />
<text x="308.2" y="622.5500000000001" font-size="8.2" text-anchor="start" font-weight="bold" fill="#d6264a" >glutathione metabolic process</text>
<rect x="301.70" y="627.22" width="84.30" height="12.60" fill="#d45a3e" />
<text x="308.2" y="636.9200000000001" font-size="8.2" text-anchor="start" font-weight="normal" fill="#151213" >calcium ion binding</text>
<rect x="301.70" y="641.59" width="141.60" height="12.60" fill="#d45a3e" />
<text x="308.2" y="651.2900000000001" font-size="8.2" text-anchor="start" font-weight="normal" fill="#151213" >protein phosphorylation</text>
<rect x="301.70" y="655.96" width="143.80" height="12.60" fill="#d45a3e" />
<text x="308.2" y="665.6600000000001" font-size="8.2" text-anchor="start" font-weight="normal" fill="#151213" >protein kinase activity</text>
<rect x="301.70" y="670.33" width="145.30" height="12.60" fill="#d45a3e" />
<text x="308.2" y="680.03" font-size="8.2" text-anchor="start" font-weight="normal" fill="#151213" >carbohydrate derivative binding</text>
<rect x="301.70" y="684.70" width="50.10" height="12.60" fill="#5a5aa8" />
<text x="308.2" y="694.4000000000001" font-size="8.2" text-anchor="start" font-weight="normal" fill="#151213" >oxygen binding</text>
<rect x="301.70" y="699.07" width="52.00" height="12.60" fill="#5a5aa8" />
<text x="308.2" y="705.27" font-size="8.2" text-anchor="start" font-weight="normal" fill="#151213" >manganese ion transmembrane</text>
<text x="308.2" y="712.67" font-size="8.2" text-anchor="start" font-weight="normal" fill="#151213" >transporter activity</text>
<rect x="301.70" y="713.44" width="65.30" height="12.60" fill="#5a5aa8" />
<text x="308.2" y="723.1400000000001" font-size="8.2" text-anchor="start" font-weight="normal" fill="#151213" >carbohydrate metabolic process</text>
<rect x="301.70" y="727.81" width="75.90" height="12.60" fill="#5a5aa8" />
<text x="308.2" y="737.51" font-size="8.2" text-anchor="start" font-weight="normal" fill="#151213" >oxidoreductase activity</text>
<rect x="301.70" y="742.18" width="130.90" height="12.60" fill="#4f8fc6" />
<text x="308.2" y="751.88" font-size="8.2" text-anchor="start" font-weight="normal" fill="#151213" >DNA replication</text>
<rect x="301.70" y="756.55" width="143.10" height="12.60" fill="#4f8fc6" />
<text x="308.2" y="766.25" font-size="8.2" text-anchor="start" font-weight="normal" fill="#151213" >microtubule−based process</text>
<rect x="301.70" y="770.92" width="148.80" height="12.60" fill="#4f8fc6" />
<text x="308.2" y="780.62" font-size="8.2" text-anchor="start" font-weight="normal" fill="#151213" >protein−DNA complex</text>
<rect x="301.70" y="785.29" width="148.80" height="12.60" fill="#4f8fc6" />
<text x="308.2" y="794.99" font-size="8.2" text-anchor="start" font-weight="normal" fill="#151213" >protein heterodimerization activity</text>
<line x1="301.7" y1="799.8" x2="301.7" y2="802.3" stroke="#555" stroke-width="0.8" />
<text x="301.7" y="810.8" font-size="8.6" text-anchor="middle" font-weight="normal" fill="#151213" >0</text>
<line x1="350.45" y1="799.8" x2="350.45" y2="802.3" stroke="#555" stroke-width="0.8" />
<text x="350.45" y="810.8" font-size="8.6" text-anchor="middle" font-weight="normal" fill="#151213" >5</text>
<line x1="399.2" y1="799.8" x2="399.2" y2="802.3" stroke="#555" stroke-width="0.8" />
<text x="399.2" y="810.8" font-size="8.6" text-anchor="middle" font-weight="normal" fill="#151213" >10</text>
<line x1="447.95" y1="799.8" x2="447.95" y2="802.3" stroke="#555" stroke-width="0.8" />
<text x="447.95" y="810.8" font-size="8.6" text-anchor="middle" font-weight="normal" fill="#151213" >15</text>
<text x="372.7" y="832" font-size="8" text-anchor="middle" fill="#231f20">-log<tspan font-size="5" dy="2">10</tspan><tspan dy="-2"> (</tspan><tspan font-style="italic">P</tspan> value)</text>
<rect x="460.30" y="538.20" width="186.50" height="262.00" fill="#fff" stroke="#aaa" stroke-width="0.9"/>
<line x1="458.6" y1="538.2" x2="458.6" y2="800.2" stroke="#ccc" stroke-width="1.2" />
<line x1="522.5" y1="538.2" x2="522.5" y2="800.2" stroke="#555" stroke-width="0.8" />
<line x1="584.7" y1="538.2" x2="584.7" y2="800.2" stroke="#555" stroke-width="0.8" />
<path d="M461.3,573.0 L461.3,573.0 L461.8,573.0 L462.3,573.0 L462.8,573.0 L463.3,573.0 L463.8,573.0 L464.3,573.0 L464.8,573.0 L465.3,573.0 L465.8,573.0 L466.3,573.0 L466.8,573.0 L467.3,573.0 L467.8,573.0 L468.3,573.0 L468.8,573.0 L469.3,573.0 L469.8,573.0 L470.3,573.0 L470.8,573.0 L471.3,573.0 L471.8,573.0 L472.3,573.0 L472.8,573.0 L473.3,573.0 L473.8,573.0 L474.3,573.0 L474.8,573.0 L475.3,573.0 L475.8,573.0 L476.3,573.0 L476.8,573.0 L477.3,573.0 L477.8,573.0 L478.3,573.0 L478.8,573.0 L479.3,573.0 L479.8,573.0 L480.3,573.0 L480.8,573.0 L481.3,573.0 L481.8,573.0 L482.3,573.0 L482.8,573.0 L483.3,573.0 L483.8,573.0 L484.3,573.0 L484.8,573.0 L485.3,573.0 L485.8,573.0 L486.3,573.0 L486.8,573.0 L487.3,573.0 L487.8,573.0 L488.3,573.0 L488.8,573.0 L489.3,573.0 L489.8,573.0 L490.3,573.0 L490.8,573.0 L491.3,573.0 L491.8,573.0 L492.3,573.0 L492.8,573.0 L493.3,573.0 L493.8,573.0 L494.3,573.0 L494.8,573.0 L495.3,573.0 L495.8,573.0 L496.3,573.0 L496.8,573.0 L497.3,573.0 L497.8,573.0 L498.3,573.0 L498.8,573.0 L499.3,573.0 L499.8,573.0 L500.3,573.0 L500.8,573.0 L501.3,573.0 L501.8,573.0 L502.3,573.0 L502.8,573.0 L503.3,573.0 L503.8,573.0 L504.3,573.0 L504.8,573.0 L505.3,573.0 L505.8,573.0 L506.3,573.0 L506.8,573.0 L507.3,573.0 L507.8,573.0 L508.3,573.0 L508.8,573.0 L509.3,573.0 L509.8,573.0 L510.3,573.0 L510.8,573.0 L511.3,573.0 L511.8,573.0 L512.3,573.0 L512.8,573.0 L513.3,573.0 L513.8,573.0 L514.3,573.0 L514.8,573.0 L515.3,573.0 L515.8,573.0 L516.3,573.0 L516.8,573.0 L517.3,573.0 L517.8,573.0 L518.3,573.0 L518.8,573.0 L519.3,573.0 L519.8,573.0 L520.3,573.0 L520.8,573.0 L521.3,573.0 L521.4,573.0 Z" fill="#e34a50"/>
<rect x="461.30" y="572.30" width="60.10" height="1.50" fill="#e34a50" />
<text x="461.40000000000003" y="547.2" font-size="8.5" text-anchor="start" font-weight="normal" fill="#151213" >[0 - 15]</text>
<path d="M523.6,573.0 L523.6,573.0 L524.1,573.0 L524.6,573.0 L525.1,573.0 L525.6,573.0 L526.1,573.0 L526.6,573.0 L527.1,573.0 L527.6,573.0 L528.1,573.0 L528.6,573.0 L529.1,573.0 L529.6,573.0 L530.1,573.0 L530.6,573.0 L531.1,573.0 L531.6,573.0 L532.1,573.0 L532.6,573.0 L533.1,573.0 L533.6,573.0 L534.1,573.0 L534.6,573.0 L535.1,573.0 L535.6,573.0 L536.1,573.0 L536.6,573.0 L537.1,573.0 L537.6,573.0 L538.1,573.0 L538.6,573.0 L539.1,573.0 L539.6,573.0 L540.1,573.0 L540.6,573.0 L541.1,573.0 L541.6,573.0 L542.1,573.0 L542.6,573.0 L543.1,573.0 L543.6,573.0 L544.1,573.0 L544.6,573.0 L545.1,573.0 L545.6,573.0 L546.1,573.0 L546.6,573.0 L547.1,573.0 L547.6,573.0 L548.1,573.0 L548.6,573.0 L549.1,573.0 L549.6,573.0 L550.1,573.0 L550.6,573.0 L551.1,573.0 L551.6,573.0 L552.1,573.0 L552.6,573.0 L553.1,573.0 L553.6,573.0 L554.1,573.0 L554.6,573.0 L555.1,573.0 L555.6,573.0 L556.1,573.0 L556.6,573.0 L557.1,573.0 L557.6,573.0 L558.1,573.0 L558.6,573.0 L559.1,573.0 L559.6,573.0 L560.1,573.0 L560.6,573.0 L561.1,573.0 L561.6,573.0 L562.1,573.0 L562.6,573.0 L563.1,573.0 L563.6,573.0 L564.1,573.0 L564.6,573.0 L565.1,573.0 L565.6,573.0 L566.1,573.0 L566.6,573.0 L567.1,573.0 L567.6,573.0 L568.1,573.0 L568.6,573.0 L569.1,573.0 L569.6,573.0 L570.1,573.0 L570.6,573.0 L571.1,573.0 L571.6,573.0 L572.1,573.0 L572.6,573.0 L573.1,573.0 L573.6,573.0 L574.1,573.0 L574.6,573.0 L575.1,573.0 L575.6,573.0 L576.1,573.0 L576.6,573.0 L577.1,573.0 L577.6,573.0 L578.1,573.0 L578.6,573.0 L579.1,573.0 L579.6,573.0 L580.1,573.0 L580.6,573.0 L581.1,573.0 L581.6,573.0 L582.1,573.0 L582.6,573.0 L583.1,573.0 L583.6,573.0 L583.6,573.0 Z" fill="#e34a50"/>
<rect x="523.60" y="572.30" width="60.00" height="1.50" fill="#e34a50" />
<text x="523.7" y="547.2" font-size="8.5" text-anchor="start" font-weight="normal" fill="#151213" >[0 - 30]</text>
<path d="M585.8,573.0 L585.8,573.0 L586.3,573.0 L586.8,573.0 L587.3,573.0 L587.8,573.0 L588.3,573.0 L588.8,573.0 L589.3,573.0 L589.8,573.0 L590.3,573.0 L590.8,573.0 L591.3,573.0 L591.8,573.0 L592.3,573.0 L592.8,573.0 L593.3,573.0 L593.8,573.0 L594.3,573.0 L594.8,573.0 L595.3,573.0 L595.8,573.0 L596.3,573.0 L596.8,573.0 L597.3,573.0 L597.8,573.0 L598.3,573.0 L598.8,573.0 L599.3,573.0 L599.8,573.0 L600.3,573.0 L600.8,573.0 L601.3,569.1 L601.8,569.0 L602.3,573.0 L602.8,573.0 L603.3,573.0 L603.8,573.0 L604.3,573.0 L604.8,573.0 L605.3,573.0 L605.8,573.0 L606.3,573.0 L606.8,573.0 L607.3,573.0 L607.8,573.0 L608.3,573.0 L608.8,573.0 L609.3,567.0 L609.8,566.8 L610.3,573.0 L610.8,573.0 L611.3,573.0 L611.8,573.0 L612.3,573.0 L612.8,573.0 L613.3,573.0 L613.8,573.0 L614.3,573.0 L614.8,573.0 L615.3,573.0 L615.8,573.0 L616.3,573.0 L616.8,573.0 L617.3,568.0 L617.8,567.8 L618.3,573.0 L618.8,573.0 L619.3,573.0 L619.8,573.0 L620.3,570.9 L620.8,570.7 L621.3,573.0 L621.8,573.0 L622.3,573.0 L622.8,570.4 L623.3,570.6 L623.8,573.0 L624.3,573.0 L624.8,573.0 L625.3,573.0 L625.8,570.9 L626.3,571.3 L626.8,573.0 L627.3,573.0 L627.8,573.0 L628.3,573.0 L628.8,573.0 L629.3,573.0 L629.8,573.0 L630.3,573.0 L630.8,573.0 L631.3,573.0 L631.8,573.0 L632.3,573.0 L632.8,573.0 L633.3,573.0 L633.8,573.0 L634.3,573.0 L634.8,573.0 L635.3,573.0 L635.8,573.0 L636.3,573.0 L636.8,573.0 L637.3,573.0 L637.8,573.0 L638.3,573.0 L638.8,573.0 L639.3,573.0 L639.8,573.0 L640.3,573.0 L640.8,573.0 L641.3,573.0 L641.8,573.0 L642.3,573.0 L642.8,573.0 L643.3,573.0 L643.8,573.0 L644.3,573.0 L644.8,573.0 L645.3,573.0 L645.8,573.0 L645.8,573.0 Z" fill="#e34a50"/>
<rect x="585.80" y="572.30" width="60.00" height="1.50" fill="#e34a50" />
<text x="585.9" y="547.2" font-size="8.5" text-anchor="start" font-weight="normal" fill="#151213" >[0 - 55]</text>
<path d="M461.3,604.0 L461.3,604.0 L461.8,604.0 L462.3,604.0 L462.8,604.0 L463.3,604.0 L463.8,604.0 L464.3,604.0 L464.8,604.0 L465.3,604.0 L465.8,604.0 L466.3,604.0 L466.8,604.0 L467.3,604.0 L467.8,604.0 L468.3,604.0 L468.8,604.0 L469.3,604.0 L469.8,604.0 L470.3,604.0 L470.8,604.0 L471.3,604.0 L471.8,604.0 L472.3,604.0 L472.8,604.0 L473.3,604.0 L473.8,604.0 L474.3,604.0 L474.8,604.0 L475.3,604.0 L475.8,604.0 L476.3,604.0 L476.8,604.0 L477.3,604.0 L477.8,604.0 L478.3,604.0 L478.8,604.0 L479.3,604.0 L479.8,604.0 L480.3,604.0 L480.8,604.0 L481.3,604.0 L481.8,604.0 L482.3,604.0 L482.8,604.0 L483.3,604.0 L483.8,604.0 L484.3,604.0 L484.8,603.9 L485.3,603.8 L485.8,603.7 L486.3,603.4 L486.8,602.9 L487.3,602.1 L487.8,601.1 L488.3,600.5 L488.8,599.2 L489.3,598.3 L489.8,596.8 L490.3,597.1 L490.8,598.6 L491.3,598.7 L491.8,600.6 L492.3,600.7 L492.8,600.5 L493.3,600.2 L493.8,598.9 L494.3,599.7 L494.8,600.0 L495.3,599.8 L495.8,600.7 L496.3,601.8 L496.8,602.2 L497.3,602.9 L497.8,603.3 L498.3,603.6 L498.8,603.5 L499.3,603.4 L499.8,603.0 L500.3,602.8 L500.8,602.3 L501.3,602.0 L501.8,602.1 L502.3,601.8 L502.8,601.9 L503.3,601.9 L503.8,602.0 L504.3,602.1 L504.8,602.2 L505.3,602.7 L505.8,602.8 L506.3,602.6 L506.8,602.3 L507.3,601.7 L507.8,601.6 L508.3,601.4 L508.8,601.2 L509.3,601.1 L509.8,601.6 L510.3,601.3 L510.8,602.2 L511.3,602.2 L511.8,602.0 L512.3,602.4 L512.8,602.4 L513.3,603.0 L513.8,603.4 L514.3,603.7 L514.8,603.9 L515.3,603.9 L515.8,604.0 L516.3,604.0 L516.8,604.0 L517.3,604.0 L517.8,604.0 L518.3,604.0 L518.8,604.0 L519.3,604.0 L519.8,604.0 L520.3,604.0 L520.8,604.0 L521.3,604.0 L521.4,604.0 Z" fill="#e34a50"/>
<rect x="461.30" y="603.30" width="60.10" height="1.50" fill="#e34a50" />
<text x="461.40000000000003" y="581.6" font-size="8.5" text-anchor="start" font-weight="normal" fill="#151213" >[0 - 15]</text>
<path d="M523.6,604.0 L523.6,604.0 L524.1,604.0 L524.6,604.0 L525.1,604.0 L525.6,604.0 L526.1,604.0 L526.6,604.0 L527.1,604.0 L527.6,604.0 L528.1,604.0 L528.6,604.0 L529.1,604.0 L529.6,604.0 L530.1,604.0 L530.6,604.0 L531.1,604.0 L531.6,604.0 L532.1,604.0 L532.6,604.0 L533.1,604.0 L533.6,604.0 L534.1,604.0 L534.6,604.0 L535.1,604.0 L535.6,604.0 L536.1,604.0 L536.6,604.0 L537.1,604.0 L537.6,604.0 L538.1,604.0 L538.6,604.0 L539.1,604.0 L539.6,604.0 L540.1,604.0 L540.6,603.9 L541.1,603.8 L541.6,603.6 L542.1,603.3 L542.6,602.7 L543.1,602.0 L543.6,600.5 L544.1,600.3 L544.6,599.2 L545.1,598.8 L545.6,599.2 L546.1,600.5 L546.6,601.4 L547.1,602.1 L547.6,602.8 L548.1,603.4 L548.6,603.7 L549.1,603.8 L549.6,603.4 L550.1,602.5 L550.6,601.4 L551.1,601.0 L551.6,602.2 L552.1,602.9 L552.6,603.6 L553.1,603.9 L553.6,604.0 L554.1,604.0 L554.6,604.0 L555.1,603.9 L555.6,603.4 L556.1,602.7 L556.6,601.6 L557.1,601.1 L557.6,601.7 L558.1,603.0 L558.6,603.6 L559.1,603.9 L559.6,604.0 L560.1,604.0 L560.6,604.0 L561.1,604.0 L561.6,604.0 L562.1,604.0 L562.6,604.0 L563.1,604.0 L563.6,604.0 L564.1,604.0 L564.6,604.0 L565.1,604.0 L565.6,604.0 L566.1,604.0 L566.6,604.0 L567.1,604.0 L567.6,604.0 L568.1,604.0 L568.6,604.0 L569.1,604.0 L569.6,604.0 L570.1,604.0 L570.6,604.0 L571.1,604.0 L571.6,604.0 L572.1,604.0 L572.6,604.0 L573.1,604.0 L573.6,604.0 L574.1,604.0 L574.6,604.0 L575.1,604.0 L575.6,604.0 L576.1,604.0 L576.6,604.0 L577.1,604.0 L577.6,604.0 L578.1,604.0 L578.6,604.0 L579.1,604.0 L579.6,604.0 L580.1,604.0 L580.6,604.0 L581.1,604.0 L581.6,604.0 L582.1,604.0 L582.6,604.0 L583.1,604.0 L583.6,604.0 L583.6,604.0 Z" fill="#e34a50"/>
<rect x="523.60" y="603.30" width="60.00" height="1.50" fill="#e34a50" />
<text x="523.7" y="581.6" font-size="8.5" text-anchor="start" font-weight="normal" fill="#151213" >[0 - 30]</text>
<path d="M585.8,604.0 L585.8,604.0 L586.3,604.0 L586.8,604.0 L587.3,604.0 L587.8,604.0 L588.3,604.0 L588.8,604.0 L589.3,604.0 L589.8,604.0 L590.3,604.0 L590.8,604.0 L591.3,604.0 L591.8,604.0 L592.3,604.0 L592.8,604.0 L593.3,604.0 L593.8,604.0 L594.3,604.0 L594.8,604.0 L595.3,604.0 L595.8,604.0 L596.3,604.0 L596.8,604.0 L597.3,604.0 L597.8,604.0 L598.3,604.0 L598.8,604.0 L599.3,604.0 L599.8,604.0 L600.3,604.0 L600.8,596.8 L601.3,597.4 L601.8,597.8 L602.3,597.7 L602.8,604.0 L603.3,604.0 L603.8,604.0 L604.3,604.0 L604.8,604.0 L605.3,604.0 L605.8,604.0 L606.3,604.0 L606.8,604.0 L607.3,604.0 L607.8,604.0 L608.3,604.0 L608.8,604.0 L609.3,593.7 L609.8,593.9 L610.3,604.0 L610.8,604.0 L611.3,604.0 L611.8,604.0 L612.3,604.0 L612.8,604.0 L613.3,604.0 L613.8,604.0 L614.3,604.0 L614.8,604.0 L615.3,604.0 L615.8,604.0 L616.3,604.0 L616.8,604.0 L617.3,596.3 L617.8,595.2 L618.3,594.6 L618.8,604.0 L619.3,604.0 L619.8,604.0 L620.3,601.4 L620.8,604.0 L621.3,604.0 L621.8,604.0 L622.3,604.0 L622.8,601.5 L623.3,600.9 L623.8,604.0 L624.3,604.0 L624.8,604.0 L625.3,604.0 L625.8,602.1 L626.3,602.2 L626.8,604.0 L627.3,604.0 L627.8,604.0 L628.3,604.0 L628.8,604.0 L629.3,604.0 L629.8,604.0 L630.3,604.0 L630.8,604.0 L631.3,604.0 L631.8,600.5 L632.3,600.2 L632.8,604.0 L633.3,604.0 L633.8,604.0 L634.3,604.0 L634.8,600.0 L635.3,600.3 L635.8,604.0 L636.3,604.0 L636.8,604.0 L637.3,600.3 L637.8,600.7 L638.3,604.0 L638.8,604.0 L639.3,604.0 L639.8,604.0 L640.3,604.0 L640.8,604.0 L641.3,604.0 L641.8,604.0 L642.3,604.0 L642.8,604.0 L643.3,604.0 L643.8,604.0 L644.3,604.0 L644.8,604.0 L645.3,604.0 L645.8,604.0 L645.8,604.0 Z" fill="#e34a50"/>
<rect x="585.80" y="603.30" width="60.00" height="1.50" fill="#e34a50" />
<text x="585.9" y="581.6" font-size="8.5" text-anchor="start" font-weight="normal" fill="#151213" >[0 - 55]</text>
<path d="M461.3,635.7 L461.3,635.7 L461.8,635.7 L462.3,635.7 L462.8,635.7 L463.3,635.7 L463.8,635.7 L464.3,635.7 L464.8,635.7 L465.3,635.7 L465.8,635.7 L466.3,635.7 L466.8,635.7 L467.3,635.7 L467.8,635.7 L468.3,635.7 L468.8,635.7 L469.3,635.7 L469.8,635.7 L470.3,635.7 L470.8,635.7 L471.3,635.7 L471.8,635.7 L472.3,635.7 L472.8,635.7 L473.3,635.7 L473.8,635.7 L474.3,635.7 L474.8,635.7 L475.3,635.7 L475.8,635.7 L476.3,635.7 L476.8,635.7 L477.3,635.7 L477.8,635.7 L478.3,635.7 L478.8,635.7 L479.3,635.7 L479.8,635.7 L480.3,635.6 L480.8,635.5 L481.3,635.4 L481.8,635.1 L482.3,634.7 L482.8,634.4 L483.3,633.6 L483.8,632.5 L484.3,632.2 L484.8,630.8 L485.3,629.9 L485.8,629.9 L486.3,629.8 L486.8,630.9 L487.3,627.6 L487.8,625.8 L488.3,622.6 L488.8,624.7 L489.3,626.5 L489.8,628.5 L490.3,631.5 L490.8,630.8 L491.3,631.1 L491.8,631.1 L492.3,631.2 L492.8,632.0 L493.3,632.8 L493.8,633.4 L494.3,634.1 L494.8,634.4 L495.3,634.9 L495.8,635.3 L496.3,635.5 L496.8,635.6 L497.3,635.6 L497.8,635.7 L498.3,635.7 L498.8,635.7 L499.3,635.7 L499.8,635.7 L500.3,635.7 L500.8,635.7 L501.3,635.7 L501.8,635.7 L502.3,635.7 L502.8,635.7 L503.3,635.7 L503.8,635.7 L504.3,635.7 L504.8,635.7 L505.3,635.7 L505.8,635.7 L506.3,635.7 L506.8,635.7 L507.3,635.7 L507.8,635.7 L508.3,635.7 L508.8,635.7 L509.3,635.7 L509.8,635.7 L510.3,635.7 L510.8,635.7 L511.3,635.7 L511.8,635.7 L512.3,635.7 L512.8,635.7 L513.3,635.7 L513.8,635.7 L514.3,635.7 L514.8,635.7 L515.3,635.7 L515.8,635.7 L516.3,635.7 L516.8,635.7 L517.3,635.7 L517.8,635.7 L518.3,635.7 L518.8,635.7 L519.3,635.7 L519.8,635.7 L520.3,635.7 L520.8,635.7 L521.3,635.7 L521.4,635.7 Z" fill="#2b8bbb"/>
<rect x="461.30" y="635.00" width="60.10" height="1.50" fill="#2b8bbb" />
<text x="461.40000000000003" y="612.6" font-size="8.5" text-anchor="start" font-weight="normal" fill="#151213" >[0 - 15]</text>
<path d="M523.6,635.7 L523.6,635.7 L524.1,635.7 L524.6,635.7 L525.1,635.7 L525.6,635.7 L526.1,635.7 L526.6,635.7 L527.1,635.7 L527.6,635.7 L528.1,635.7 L528.6,635.7 L529.1,635.7 L529.6,635.7 L530.1,635.7 L530.6,635.7 L531.1,635.7 L531.6,635.7 L532.1,635.7 L532.6,635.7 L533.1,635.7 L533.6,635.7 L534.1,635.7 L534.6,635.7 L535.1,635.7 L535.6,635.7 L536.1,635.7 L536.6,635.7 L537.1,635.7 L537.6,635.7 L538.1,635.7 L538.6,635.6 L539.1,635.6 L539.6,635.4 L540.1,635.1 L540.6,634.6 L541.1,633.9 L541.6,632.9 L542.1,631.8 L542.6,630.9 L543.1,629.6 L543.6,627.9 L544.1,627.6 L544.6,628.9 L545.1,629.2 L545.6,630.6 L546.1,632.0 L546.6,632.7 L547.1,630.4 L547.6,628.8 L548.1,626.4 L548.6,626.9 L549.1,627.4 L549.6,629.0 L550.1,631.2 L550.6,628.7 L551.1,626.4 L551.6,629.2 L552.1,632.6 L552.6,634.8 L553.1,635.5 L553.6,635.7 L554.1,635.7 L554.6,635.7 L555.1,635.7 L555.6,635.7 L556.1,635.7 L556.6,635.7 L557.1,630.0 L557.6,630.4 L558.1,635.7 L558.6,635.7 L559.1,635.7 L559.6,635.7 L560.1,635.7 L560.6,635.7 L561.1,635.7 L561.6,635.7 L562.1,635.7 L562.6,635.7 L563.1,635.7 L563.6,635.7 L564.1,635.7 L564.6,635.7 L565.1,635.7 L565.6,635.7 L566.1,635.7 L566.6,635.7 L567.1,635.7 L567.6,635.7 L568.1,635.7 L568.6,635.7 L569.1,635.7 L569.6,635.7 L570.1,635.7 L570.6,635.7 L571.1,635.7 L571.6,635.7 L572.1,635.7 L572.6,635.7 L573.1,635.7 L573.6,635.7 L574.1,635.7 L574.6,635.7 L575.1,635.7 L575.6,635.7 L576.1,635.7 L576.6,635.7 L577.1,635.7 L577.6,635.7 L578.1,635.7 L578.6,635.7 L579.1,635.7 L579.6,635.7 L580.1,635.7 L580.6,635.7 L581.1,635.7 L581.6,635.7 L582.1,635.7 L582.6,635.7 L583.1,635.7 L583.6,635.7 L583.6,635.7 Z" fill="#2b8bbb"/>
<rect x="523.60" y="635.00" width="60.00" height="1.50" fill="#2b8bbb" />
<text x="523.7" y="612.6" font-size="8.5" text-anchor="start" font-weight="normal" fill="#151213" >[0 - 30]</text>
<path d="M585.8,635.7 L585.8,635.7 L586.3,635.7 L586.8,635.7 L587.3,635.7 L587.8,635.7 L588.3,635.7 L588.8,635.7 L589.3,635.7 L589.8,635.7 L590.3,635.7 L590.8,635.7 L591.3,635.7 L591.8,635.7 L592.3,635.7 L592.8,635.7 L593.3,635.7 L593.8,635.7 L594.3,635.7 L594.8,635.7 L595.3,635.7 L595.8,635.7 L596.3,635.7 L596.8,635.7 L597.3,635.7 L597.8,635.7 L598.3,635.7 L598.8,635.7 L599.3,635.7 L599.8,635.6 L600.3,635.2 L600.8,634.7 L601.3,634.4 L601.8,634.3 L602.3,634.8 L602.8,635.3 L603.3,635.6 L603.8,635.7 L604.3,635.7 L604.8,635.7 L605.3,635.7 L605.8,635.7 L606.3,635.7 L606.8,635.7 L607.3,635.7 L607.8,635.7 L608.3,635.7 L608.8,635.7 L609.3,635.7 L609.8,634.2 L610.3,634.3 L610.8,635.7 L611.3,635.7 L611.8,635.7 L612.3,635.7 L612.8,635.7 L613.3,635.7 L613.8,635.7 L614.3,635.7 L614.8,635.7 L615.3,635.7 L615.8,635.7 L616.3,635.7 L616.8,635.7 L617.3,635.7 L617.8,633.8 L618.3,633.7 L618.8,635.7 L619.3,635.7 L619.8,635.7 L620.3,635.7 L620.8,633.7 L621.3,633.9 L621.8,635.7 L622.3,635.7 L622.8,635.7 L623.3,635.7 L623.8,635.7 L624.3,635.7 L624.8,633.7 L625.3,633.7 L625.8,635.7 L626.3,635.7 L626.8,635.7 L627.3,635.7 L627.8,635.7 L628.3,635.7 L628.8,635.7 L629.3,635.7 L629.8,634.5 L630.3,634.4 L630.8,635.7 L631.3,635.7 L631.8,635.7 L632.3,635.7 L632.8,635.7 L633.3,635.7 L633.8,635.7 L634.3,635.7 L634.8,635.7 L635.3,635.7 L635.8,634.5 L636.3,634.6 L636.8,635.7 L637.3,635.7 L637.8,635.7 L638.3,635.7 L638.8,635.7 L639.3,635.7 L639.8,635.7 L640.3,635.7 L640.8,635.7 L641.3,635.7 L641.8,635.7 L642.3,635.7 L642.8,635.7 L643.3,635.7 L643.8,635.7 L644.3,635.7 L644.8,635.7 L645.3,635.7 L645.8,635.7 L645.8,635.7 Z" fill="#2b8bbb"/>
<rect x="585.80" y="635.00" width="60.00" height="1.50" fill="#2b8bbb" />
<text x="585.9" y="612.6" font-size="8.5" text-anchor="start" font-weight="normal" fill="#151213" >[0 - 55]</text>
<path d="M461.3,666.4 L461.3,666.4 L461.8,666.4 L462.3,666.4 L462.8,666.4 L463.3,666.4 L463.8,666.4 L464.3,666.4 L464.8,666.4 L465.3,666.4 L465.8,666.4 L466.3,666.4 L466.8,666.4 L467.3,666.4 L467.8,666.4 L468.3,666.4 L468.8,666.4 L469.3,666.4 L469.8,666.4 L470.3,666.4 L470.8,666.4 L471.3,666.4 L471.8,666.4 L472.3,666.4 L472.8,666.4 L473.3,666.4 L473.8,666.4 L474.3,666.4 L474.8,666.4 L475.3,666.4 L475.8,666.4 L476.3,666.4 L476.8,666.4 L477.3,666.4 L477.8,666.4 L478.3,666.4 L478.8,666.4 L479.3,666.4 L479.8,666.4 L480.3,666.4 L480.8,666.4 L481.3,666.4 L481.8,666.4 L482.3,666.4 L482.8,666.4 L483.3,666.4 L483.8,666.4 L484.3,666.3 L484.8,666.1 L485.3,665.7 L485.8,665.0 L486.3,663.2 L486.8,661.2 L487.3,660.1 L487.8,658.7 L488.3,658.7 L488.8,660.0 L489.3,662.0 L489.8,657.3 L490.3,658.3 L490.8,662.3 L491.3,665.4 L491.8,665.8 L492.3,665.1 L492.8,664.1 L493.3,662.5 L493.8,661.4 L494.3,659.1 L494.8,656.3 L495.3,653.9 L495.8,654.3 L496.3,652.9 L496.8,654.3 L497.3,657.7 L497.8,654.2 L498.3,650.8 L498.8,649.1 L499.3,649.1 L499.8,651.2 L500.3,656.0 L500.8,655.7 L501.3,653.3 L501.8,649.9 L502.3,650.4 L502.8,651.7 L503.3,655.3 L503.8,659.6 L504.3,659.5 L504.8,659.9 L505.3,659.3 L505.8,660.8 L506.3,662.5 L506.8,662.4 L507.3,659.2 L507.8,657.7 L508.3,656.7 L508.8,654.0 L509.3,655.7 L509.8,655.6 L510.3,658.2 L510.8,656.5 L511.3,651.0 L511.8,648.8 L512.3,650.7 L512.8,652.3 L513.3,657.2 L513.8,658.5 L514.3,659.3 L514.8,661.3 L515.3,664.3 L515.8,665.8 L516.3,666.3 L516.8,666.4 L517.3,666.4 L517.8,666.4 L518.3,666.4 L518.8,666.4 L519.3,666.4 L519.8,666.4 L520.3,666.4 L520.8,666.4 L521.3,666.4 L521.4,666.4 Z" fill="#2b8bbb"/>
<rect x="461.30" y="665.70" width="60.10" height="1.50" fill="#2b8bbb" />
<text x="461.40000000000003" y="644.3000000000001" font-size="8.5" text-anchor="start" font-weight="normal" fill="#151213" >[0 - 15]</text>
<path d="M523.6,666.4 L523.6,666.4 L524.1,666.4 L524.6,666.4 L525.1,666.4 L525.6,666.4 L526.1,666.4 L526.6,666.4 L527.1,666.4 L527.6,666.4 L528.1,666.4 L528.6,666.4 L529.1,666.4 L529.6,666.4 L530.1,666.4 L530.6,666.4 L531.1,666.4 L531.6,666.4 L532.1,666.4 L532.6,666.4 L533.1,666.4 L533.6,666.4 L534.1,666.4 L534.6,666.4 L535.1,666.4 L535.6,666.4 L536.1,666.4 L536.6,666.4 L537.1,666.4 L537.6,666.4 L538.1,666.4 L538.6,666.3 L539.1,665.9 L539.6,665.1 L540.1,663.5 L540.6,660.8 L541.1,655.6 L541.6,653.8 L542.1,650.4 L542.6,647.5 L543.1,649.3 L543.6,653.0 L544.1,646.0 L544.6,640.8 L545.1,642.9 L545.6,644.6 L546.1,649.8 L546.6,654.5 L547.1,649.4 L547.6,647.6 L548.1,643.6 L548.6,646.6 L549.1,652.9 L549.6,658.7 L550.1,653.1 L550.6,653.4 L551.1,656.0 L551.6,660.2 L552.1,663.1 L552.6,665.4 L553.1,666.1 L553.6,666.3 L554.1,666.3 L554.6,666.0 L555.1,665.3 L555.6,663.4 L556.1,661.1 L556.6,657.6 L557.1,657.2 L557.6,659.2 L558.1,661.4 L558.6,664.1 L559.1,665.3 L559.6,664.1 L560.1,663.1 L560.6,660.9 L561.1,659.6 L561.6,659.6 L562.1,659.4 L562.6,660.0 L563.1,659.9 L563.6,662.2 L564.1,663.3 L564.6,663.0 L565.1,660.9 L565.6,658.8 L566.1,656.4 L566.6,656.6 L567.1,654.5 L567.6,656.5 L568.1,657.6 L568.6,657.5 L569.1,653.6 L569.6,649.7 L570.1,649.1 L570.6,651.4 L571.1,653.9 L571.6,658.6 L572.1,657.7 L572.6,656.0 L573.1,658.2 L573.6,661.9 L574.1,664.9 L574.6,666.1 L575.1,666.4 L575.6,666.4 L576.1,666.4 L576.6,666.4 L577.1,666.4 L577.6,666.4 L578.1,666.4 L578.6,666.4 L579.1,666.4 L579.6,666.4 L580.1,666.4 L580.6,666.4 L581.1,666.4 L581.6,666.4 L582.1,666.4 L582.6,666.4 L583.1,666.4 L583.6,666.4 L583.6,666.4 Z" fill="#2b8bbb"/>
<rect x="523.60" y="665.70" width="60.00" height="1.50" fill="#2b8bbb" />
<text x="523.7" y="644.3000000000001" font-size="8.5" text-anchor="start" font-weight="normal" fill="#151213" >[0 - 30]</text>
<path d="M585.8,666.4 L585.8,666.4 L586.3,666.4 L586.8,666.4 L587.3,666.4 L587.8,666.4 L588.3,666.4 L588.8,666.4 L589.3,666.4 L589.8,666.4 L590.3,666.4 L590.8,666.4 L591.3,666.4 L591.8,666.4 L592.3,666.4 L592.8,666.4 L593.3,666.4 L593.8,666.4 L594.3,666.4 L594.8,666.4 L595.3,666.4 L595.8,666.4 L596.3,666.4 L596.8,666.4 L597.3,666.4 L597.8,666.4 L598.3,666.4 L598.8,666.4 L599.3,666.4 L599.8,666.4 L600.3,666.4 L600.8,666.4 L601.3,643.7 L601.8,646.6 L602.3,666.4 L602.8,666.4 L603.3,666.4 L603.8,666.4 L604.3,666.4 L604.8,666.4 L605.3,666.4 L605.8,666.4 L606.3,666.4 L606.8,666.4 L607.3,666.4 L607.8,666.4 L608.3,666.4 L608.8,666.4 L609.3,642.4 L609.8,644.4 L610.3,666.4 L610.8,666.4 L611.3,666.4 L611.8,666.4 L612.3,666.4 L612.8,666.4 L613.3,666.4 L613.8,666.4 L614.3,666.4 L614.8,666.4 L615.3,666.4 L615.8,666.4 L616.3,666.4 L616.8,666.4 L617.3,642.6 L617.8,641.8 L618.3,642.3 L618.8,666.4 L619.3,666.4 L619.8,652.4 L620.3,651.0 L620.8,652.8 L621.3,666.4 L621.8,666.4 L622.3,666.4 L622.8,659.1 L623.3,658.3 L623.8,666.4 L624.3,666.4 L624.8,666.4 L625.3,666.4 L625.8,659.5 L626.3,659.3 L626.8,666.4 L627.3,666.4 L627.8,666.4 L628.3,666.4 L628.8,666.4 L629.3,666.4 L629.8,666.4 L630.3,666.4 L630.8,666.4 L631.3,666.4 L631.8,657.3 L632.3,658.9 L632.8,666.4 L633.3,666.4 L633.8,666.4 L634.3,654.3 L634.8,654.6 L635.3,666.4 L635.8,666.4 L636.3,652.6 L636.8,653.1 L637.3,646.4 L637.8,645.8 L638.3,666.4 L638.8,666.4 L639.3,666.4 L639.8,666.4 L640.3,666.4 L640.8,666.4 L641.3,666.4 L641.8,666.4 L642.3,666.4 L642.8,666.4 L643.3,666.4 L643.8,666.4 L644.3,666.4 L644.8,666.4 L645.3,666.4 L645.8,666.4 L645.8,666.4 Z" fill="#2b8bbb"/>
<rect x="585.80" y="665.70" width="60.00" height="1.50" fill="#2b8bbb" />
<text x="585.9" y="644.3000000000001" font-size="8.5" text-anchor="start" font-weight="normal" fill="#151213" >[0 - 55]</text>
<path d="M461.3,697.8 L461.3,697.2 L461.8,697.1 L462.3,696.9 L462.8,696.9 L463.3,696.8 L463.8,696.8 L464.3,696.6 L464.8,696.4 L465.3,696.6 L465.8,696.5 L466.3,696.3 L466.8,696.3 L467.3,696.3 L467.8,696.6 L468.3,696.4 L468.8,696.3 L469.3,696.4 L469.8,696.6 L470.3,696.8 L470.8,696.7 L471.3,696.9 L471.8,696.9 L472.3,697.0 L472.8,697.1 L473.3,697.2 L473.8,697.3 L474.3,697.4 L474.8,697.4 L475.3,697.5 L475.8,697.6 L476.3,697.6 L476.8,697.4 L477.3,697.3 L477.8,696.9 L478.3,696.2 L478.8,696.0 L479.3,695.2 L479.8,694.8 L480.3,694.6 L480.8,694.0 L481.3,694.5 L481.8,694.7 L482.3,694.9 L482.8,695.6 L483.3,696.2 L483.8,695.9 L484.3,695.7 L484.8,695.4 L485.3,695.7 L485.8,695.5 L486.3,695.6 L486.8,695.5 L487.3,695.7 L487.8,695.6 L488.3,696.1 L488.8,696.4 L489.3,696.4 L489.8,696.8 L490.3,696.9 L490.8,696.9 L491.3,696.5 L491.8,696.4 L492.3,696.2 L492.8,696.1 L493.3,695.8 L493.8,695.8 L494.3,695.4 L494.8,695.5 L495.3,695.7 L495.8,695.7 L496.3,695.7 L496.8,695.7 L497.3,696.2 L497.8,696.2 L498.3,696.4 L498.8,696.8 L499.3,696.9 L499.8,697.2 L500.3,697.3 L500.8,697.0 L501.3,696.9 L501.8,696.6 L502.3,696.5 L502.8,696.4 L503.3,696.1 L503.8,696.3 L504.3,695.9 L504.8,696.1 L505.3,696.1 L505.8,695.8 L506.3,696.0 L506.8,696.3 L507.3,696.5 L507.8,696.4 L508.3,696.7 L508.8,696.8 L509.3,697.1 L509.8,697.0 L510.3,696.9 L510.8,696.8 L511.3,696.6 L511.8,696.5 L512.3,696.5 L512.8,696.4 L513.3,696.5 L513.8,696.3 L514.3,696.5 L514.8,696.5 L515.3,696.8 L515.8,696.8 L516.3,697.0 L516.8,697.1 L517.3,697.2 L517.8,697.3 L518.3,697.5 L518.8,697.5 L519.3,697.6 L519.8,697.7 L520.3,697.7 L520.8,697.7 L521.3,697.8 L521.4,697.8 Z" fill="#f5a142"/>
<rect x="461.30" y="697.10" width="60.10" height="1.50" fill="#f5a142" />
<text x="461.40000000000003" y="675.0" font-size="8.5" text-anchor="start" font-weight="normal" fill="#151213" >[0 - 210]</text>
<path d="M523.6,697.8 L523.6,697.4 L524.1,697.2 L524.6,697.1 L525.1,696.9 L525.6,696.8 L526.1,696.7 L526.6,696.6 L527.1,696.4 L527.6,696.3 L528.1,695.8 L528.6,696.0 L529.1,695.8 L529.6,696.2 L530.1,696.1 L530.6,696.0 L531.1,696.3 L531.6,696.5 L532.1,696.7 L532.6,696.5 L533.1,695.8 L533.6,695.0 L534.1,693.9 L534.6,692.9 L535.1,691.4 L535.6,691.9 L536.1,691.7 L536.6,691.9 L537.1,692.7 L537.6,693.4 L538.1,694.4 L538.6,693.5 L539.1,693.3 L539.6,691.7 L540.1,692.4 L540.6,691.9 L541.1,692.8 L541.6,693.6 L542.1,694.7 L542.6,695.3 L543.1,696.4 L543.6,696.1 L544.1,695.9 L544.6,695.4 L545.1,695.1 L545.6,695.3 L546.1,695.2 L546.6,695.4 L547.1,695.5 L547.6,695.8 L548.1,696.0 L548.6,696.1 L549.1,696.7 L549.6,697.0 L550.1,697.2 L550.6,697.4 L551.1,697.5 L551.6,697.5 L552.1,697.3 L552.6,697.0 L553.1,696.4 L553.6,695.8 L554.1,695.6 L554.6,695.3 L555.1,694.9 L555.6,694.9 L556.1,695.5 L556.6,696.2 L557.1,696.5 L557.6,697.2 L558.1,697.4 L558.6,697.6 L559.1,697.7 L559.6,697.5 L560.1,697.3 L560.6,697.0 L561.1,696.4 L561.6,696.0 L562.1,695.7 L562.6,695.1 L563.1,694.7 L563.6,695.2 L564.1,695.7 L564.6,696.3 L565.1,696.8 L565.6,697.0 L566.1,697.4 L566.6,697.6 L567.1,697.4 L567.6,697.1 L568.1,696.6 L568.6,696.4 L569.1,696.0 L569.6,695.8 L570.1,695.5 L570.6,695.9 L571.1,696.1 L571.6,696.5 L572.1,696.9 L572.6,697.3 L573.1,697.5 L573.6,697.6 L574.1,697.5 L574.6,697.3 L575.1,696.8 L575.6,696.7 L576.1,696.2 L576.6,696.0 L577.1,695.9 L577.6,696.2 L578.1,696.4 L578.6,696.8 L579.1,697.0 L579.6,697.3 L580.1,697.5 L580.6,697.7 L581.1,697.7 L581.6,697.8 L582.1,697.8 L582.6,697.8 L583.1,697.8 L583.6,697.8 L583.6,697.8 Z" fill="#f5a142"/>
<rect x="523.60" y="697.10" width="60.00" height="1.50" fill="#f5a142" />
<text x="523.7" y="675.0" font-size="8.5" text-anchor="start" font-weight="normal" fill="#151213" >[0 - 55]</text>
<path d="M585.8,697.8 L585.8,697.6 L586.3,697.3 L586.8,696.4 L587.3,695.2 L587.8,693.0 L588.3,692.0 L588.8,691.3 L589.3,690.5 L589.8,691.9 L590.3,693.7 L590.8,694.1 L591.3,690.1 L591.8,686.3 L592.3,684.7 L592.8,688.5 L593.3,691.9 L593.8,694.9 L594.3,696.9 L594.8,697.2 L595.3,696.3 L595.8,694.1 L596.3,691.8 L596.8,688.5 L597.3,688.7 L597.8,691.9 L598.3,694.8 L598.8,695.3 L599.3,694.6 L599.8,694.5 L600.3,694.2 L600.8,694.5 L601.3,695.3 L601.8,696.1 L602.3,696.5 L602.8,697.2 L603.3,697.4 L603.8,697.6 L604.3,697.7 L604.8,697.8 L605.3,697.8 L605.8,697.8 L606.3,697.8 L606.8,697.8 L607.3,697.7 L607.8,697.6 L608.3,697.3 L608.8,697.0 L609.3,696.7 L609.8,696.5 L610.3,696.6 L610.8,696.7 L611.3,697.1 L611.8,697.3 L612.3,697.6 L612.8,697.7 L613.3,697.8 L613.8,697.8 L614.3,697.8 L614.8,697.8 L615.3,697.8 L615.8,697.8 L616.3,697.8 L616.8,697.8 L617.3,697.8 L617.8,697.8 L618.3,697.8 L618.8,697.8 L619.3,697.8 L619.8,697.8 L620.3,697.8 L620.8,697.8 L621.3,697.8 L621.8,697.8 L622.3,697.8 L622.8,697.8 L623.3,697.8 L623.8,697.8 L624.3,697.8 L624.8,697.8 L625.3,697.6 L625.8,697.2 L626.3,696.5 L626.8,695.7 L627.3,694.8 L627.8,695.0 L628.3,695.7 L628.8,696.7 L629.3,697.3 L629.8,697.7 L630.3,697.8 L630.8,697.8 L631.3,697.8 L631.8,697.8 L632.3,697.8 L632.8,697.6 L633.3,697.1 L633.8,695.7 L634.3,694.4 L634.8,693.7 L635.3,694.9 L635.8,696.4 L636.3,697.3 L636.8,697.7 L637.3,697.8 L637.8,697.8 L638.3,697.8 L638.8,697.8 L639.3,697.8 L639.8,697.8 L640.3,697.6 L640.8,697.1 L641.3,696.1 L641.8,695.6 L642.3,695.8 L642.8,696.6 L643.3,697.3 L643.8,697.6 L644.3,697.8 L644.8,697.8 L645.3,697.8 L645.8,697.8 L645.8,697.8 Z" fill="#f5a142"/>
<rect x="585.80" y="697.10" width="60.00" height="1.50" fill="#f5a142" />
<text x="585.9" y="675.0" font-size="8.5" text-anchor="start" font-weight="normal" fill="#151213" >[0 - 85]</text>
<path d="M461.3,727.8 L461.3,727.8 L461.8,727.8 L462.3,727.8 L462.8,727.8 L463.3,727.8 L463.8,727.7 L464.3,727.7 L464.8,727.6 L465.3,727.5 L465.8,727.4 L466.3,727.2 L466.8,727.1 L467.3,726.8 L467.8,726.7 L468.3,726.5 L468.8,726.1 L469.3,726.0 L469.8,726.2 L470.3,726.2 L470.8,726.2 L471.3,725.6 L471.8,724.4 L472.3,723.3 L472.8,722.8 L473.3,722.4 L473.8,721.3 L474.3,720.6 L474.8,719.8 L475.3,719.7 L475.8,717.5 L476.3,715.9 L476.8,715.3 L477.3,716.3 L477.8,714.1 L478.3,714.5 L478.8,711.7 L479.3,713.5 L479.8,712.7 L480.3,714.2 L480.8,717.1 L481.3,717.3 L481.8,716.7 L482.3,718.7 L482.8,719.6 L483.3,720.4 L483.8,720.7 L484.3,721.4 L484.8,722.9 L485.3,723.3 L485.8,724.6 L486.3,725.8 L486.8,726.3 L487.3,727.1 L487.8,727.0 L488.3,726.6 L488.8,726.7 L489.3,726.4 L489.8,726.4 L490.3,726.3 L490.8,726.5 L491.3,726.7 L491.8,726.8 L492.3,727.0 L492.8,727.1 L493.3,727.3 L493.8,727.4 L494.3,727.5 L494.8,727.6 L495.3,727.6 L495.8,727.5 L496.3,727.4 L496.8,727.2 L497.3,727.1 L497.8,726.8 L498.3,726.8 L498.8,726.6 L499.3,726.5 L499.8,726.2 L500.3,726.3 L500.8,726.4 L501.3,726.6 L501.8,726.8 L502.3,727.0 L502.8,727.1 L503.3,727.3 L503.8,727.4 L504.3,727.5 L504.8,727.6 L505.3,727.6 L505.8,727.5 L506.3,727.4 L506.8,727.2 L507.3,727.1 L507.8,727.0 L508.3,726.8 L508.8,726.7 L509.3,726.4 L509.8,726.3 L510.3,726.5 L510.8,726.4 L511.3,726.7 L511.8,726.7 L512.3,726.9 L512.8,727.1 L513.3,727.3 L513.8,727.4 L514.3,727.5 L514.8,727.6 L515.3,727.7 L515.8,727.7 L516.3,727.8 L516.8,727.8 L517.3,727.8 L517.8,727.8 L518.3,727.8 L518.8,727.8 L519.3,727.8 L519.8,727.8 L520.3,727.8 L520.8,727.8 L521.3,727.8 L521.4,727.8 Z" fill="#f5a142"/>
<rect x="461.30" y="727.10" width="60.10" height="1.50" fill="#f5a142" />
<text x="461.40000000000003" y="706.4" font-size="8.5" text-anchor="start" font-weight="normal" fill="#151213" >[0 - 210]</text>
<path d="M523.6,727.8 L523.6,727.8 L524.1,727.8 L524.6,727.8 L525.1,727.8 L525.6,727.8 L526.1,727.8 L526.6,727.8 L527.1,727.8 L527.6,727.8 L528.1,727.6 L528.6,727.3 L529.1,726.4 L529.6,724.9 L530.1,723.0 L530.6,719.5 L531.1,717.0 L531.6,717.5 L532.1,718.2 L532.6,715.6 L533.1,713.5 L533.6,711.5 L534.1,713.2 L534.6,716.9 L535.1,720.5 L535.6,718.0 L536.1,713.9 L536.6,713.7 L537.1,714.9 L537.6,718.6 L538.1,721.9 L538.6,722.0 L539.1,720.2 L539.6,720.6 L540.1,721.0 L540.6,722.5 L541.1,724.5 L541.6,726.1 L542.1,727.1 L542.6,727.4 L543.1,727.7 L543.6,727.8 L544.1,727.8 L544.6,727.8 L545.1,727.8 L545.6,727.8 L546.1,727.8 L546.6,727.8 L547.1,727.8 L547.6,727.8 L548.1,727.8 L548.6,727.8 L549.1,727.8 L549.6,727.8 L550.1,727.8 L550.6,727.8 L551.1,727.8 L551.6,727.8 L552.1,727.8 L552.6,727.8 L553.1,727.8 L553.6,727.8 L554.1,727.8 L554.6,727.8 L555.1,727.8 L555.6,727.8 L556.1,727.8 L556.6,727.8 L557.1,727.8 L557.6,727.8 L558.1,727.8 L558.6,727.8 L559.1,727.8 L559.6,727.8 L560.1,727.8 L560.6,727.8 L561.1,727.8 L561.6,727.8 L562.1,727.8 L562.6,727.8 L563.1,727.8 L563.6,727.8 L564.1,727.8 L564.6,727.8 L565.1,727.8 L565.6,727.8 L566.1,727.8 L566.6,727.8 L567.1,727.8 L567.6,727.8 L568.1,727.8 L568.6,727.8 L569.1,727.8 L569.6,727.7 L570.1,727.6 L570.6,727.5 L571.1,727.3 L571.6,727.1 L572.1,726.6 L572.6,726.0 L573.1,725.3 L573.6,724.8 L574.1,724.6 L574.6,723.8 L575.1,724.3 L575.6,724.0 L576.1,725.0 L576.6,725.0 L577.1,725.6 L577.6,726.1 L578.1,725.9 L578.6,725.5 L579.1,725.1 L579.6,724.9 L580.1,724.9 L580.6,725.3 L581.1,725.4 L581.6,725.6 L582.1,726.3 L582.6,726.5 L583.1,727.0 L583.6,727.3 L583.6,727.8 Z" fill="#f5a142"/>
<rect x="523.60" y="727.10" width="60.00" height="1.50" fill="#f5a142" />
<text x="523.7" y="706.4" font-size="8.5" text-anchor="start" font-weight="normal" fill="#151213" >[0 - 55]</text>
<path d="M585.8,727.8 L585.8,727.4 L586.3,726.4 L586.8,723.8 L587.3,717.5 L587.8,710.9 L588.3,703.2 L588.8,702.5 L589.3,709.3 L589.8,716.3 L590.3,711.6 L590.8,709.5 L591.3,707.1 L591.8,711.9 L592.3,717.2 L592.8,722.8 L593.3,724.4 L593.8,723.9 L594.3,723.0 L594.8,722.6 L595.3,722.1 L595.8,722.4 L596.3,724.2 L596.8,724.9 L597.3,724.1 L597.8,720.2 L598.3,715.2 L598.8,709.2 L599.3,708.6 L599.8,712.4 L600.3,706.2 L600.8,705.9 L601.3,709.9 L601.8,716.6 L602.3,722.2 L602.8,726.1 L603.3,727.3 L603.8,727.7 L604.3,727.8 L604.8,727.8 L605.3,727.8 L605.8,727.8 L606.3,727.8 L606.8,727.8 L607.3,727.8 L607.8,727.8 L608.3,727.8 L608.8,727.8 L609.3,727.8 L609.8,727.8 L610.3,727.8 L610.8,727.8 L611.3,727.7 L611.8,727.5 L612.3,727.2 L612.8,726.9 L613.3,726.8 L613.8,727.2 L614.3,727.6 L614.8,727.7 L615.3,727.8 L615.8,727.8 L616.3,727.8 L616.8,727.8 L617.3,727.8 L617.8,727.8 L618.3,727.8 L618.8,727.8 L619.3,727.8 L619.8,727.8 L620.3,727.8 L620.8,727.8 L621.3,727.8 L621.8,727.8 L622.3,727.8 L622.8,727.8 L623.3,727.8 L623.8,727.8 L624.3,727.8 L624.8,727.8 L625.3,727.8 L625.8,727.8 L626.3,727.8 L626.8,727.8 L627.3,727.8 L627.8,727.8 L628.3,727.8 L628.8,727.8 L629.3,727.8 L629.8,727.8 L630.3,727.8 L630.8,727.8 L631.3,727.8 L631.8,727.8 L632.3,727.8 L632.8,727.8 L633.3,727.8 L633.8,727.8 L634.3,727.8 L634.8,727.8 L635.3,727.8 L635.8,727.8 L636.3,727.8 L636.8,727.8 L637.3,727.8 L637.8,727.8 L638.3,727.8 L638.8,727.8 L639.3,727.8 L639.8,727.8 L640.3,727.8 L640.8,727.8 L641.3,727.8 L641.8,727.8 L642.3,727.8 L642.8,727.8 L643.3,727.8 L643.8,727.8 L644.3,727.8 L644.8,727.8 L645.3,727.8 L645.8,727.8 L645.8,727.8 Z" fill="#f5a142"/>
<rect x="585.80" y="727.10" width="60.00" height="1.50" fill="#f5a142" />
<text x="585.9" y="706.4" font-size="8.5" text-anchor="start" font-weight="normal" fill="#151213" >[0 - 85]</text>
<path d="M461.3,758.5 L461.3,758.5 L461.8,758.5 L462.3,758.5 L462.8,758.5 L463.3,758.5 L463.8,758.5 L464.3,758.5 L464.8,758.5 L465.3,758.5 L465.8,758.5 L466.3,758.5 L466.8,758.5 L467.3,758.5 L467.8,758.5 L468.3,758.4 L468.8,758.4 L469.3,758.3 L469.8,758.1 L470.3,757.9 L470.8,757.7 L471.3,757.2 L471.8,756.5 L472.3,755.9 L472.8,755.7 L473.3,755.3 L473.8,754.7 L474.3,754.7 L474.8,754.9 L475.3,754.3 L475.8,754.1 L476.3,753.1 L476.8,752.7 L477.3,753.2 L477.8,754.9 L478.3,755.5 L478.8,756.6 L479.3,756.7 L479.8,756.7 L480.3,756.2 L480.8,756.0 L481.3,756.2 L481.8,756.6 L482.3,756.8 L482.8,757.1 L483.3,757.5 L483.8,757.7 L484.3,757.9 L484.8,758.1 L485.3,758.3 L485.8,758.4 L486.3,758.4 L486.8,758.5 L487.3,758.5 L487.8,758.5 L488.3,758.5 L488.8,758.5 L489.3,758.5 L489.8,758.5 L490.3,758.5 L490.8,758.5 L491.3,758.5 L491.8,758.5 L492.3,758.5 L492.8,758.5 L493.3,758.5 L493.8,758.5 L494.3,758.5 L494.8,758.5 L495.3,758.5 L495.8,758.5 L496.3,758.5 L496.8,758.5 L497.3,758.5 L497.8,758.5 L498.3,758.5 L498.8,758.5 L499.3,758.5 L499.8,758.5 L500.3,758.5 L500.8,758.5 L501.3,758.5 L501.8,758.5 L502.3,758.5 L502.8,758.5 L503.3,758.5 L503.8,758.5 L504.3,758.5 L504.8,758.5 L505.3,758.5 L505.8,758.5 L506.3,758.5 L506.8,758.5 L507.3,758.5 L507.8,758.5 L508.3,758.5 L508.8,758.5 L509.3,758.5 L509.8,758.5 L510.3,758.5 L510.8,758.5 L511.3,758.5 L511.8,758.5 L512.3,758.5 L512.8,758.5 L513.3,758.5 L513.8,758.5 L514.3,758.5 L514.8,758.5 L515.3,758.5 L515.8,758.5 L516.3,758.5 L516.8,758.5 L517.3,758.5 L517.8,758.5 L518.3,758.5 L518.8,758.5 L519.3,758.5 L519.8,758.5 L520.3,758.5 L520.8,758.5 L521.3,758.5 L521.4,758.5 Z" fill="#5cbd8e"/>
<rect x="461.30" y="757.80" width="60.10" height="1.50" fill="#5cbd8e" />
<text x="461.40000000000003" y="736.4" font-size="8.5" text-anchor="start" font-weight="normal" fill="#151213" >[0 - 210]</text>
<path d="M523.6,758.5 L523.6,758.5 L524.1,758.5 L524.6,758.5 L525.1,758.5 L525.6,758.5 L526.1,758.5 L526.6,758.4 L527.1,758.2 L527.6,758.0 L528.1,757.5 L528.6,757.0 L529.1,755.7 L529.6,754.6 L530.1,753.4 L530.6,752.7 L531.1,752.6 L531.6,752.8 L532.1,753.6 L532.6,755.1 L533.1,755.3 L533.6,755.3 L534.1,755.1 L534.6,755.5 L535.1,756.2 L535.6,756.9 L536.1,757.6 L536.6,758.0 L537.1,757.5 L537.6,756.7 L538.1,756.1 L538.6,754.9 L539.1,753.7 L539.6,753.2 L540.1,753.4 L540.6,753.2 L541.1,754.3 L541.6,755.1 L542.1,756.3 L542.6,757.0 L543.1,757.7 L543.6,758.1 L544.1,758.3 L544.6,758.4 L545.1,758.4 L545.6,758.2 L546.1,758.0 L546.6,757.5 L547.1,756.9 L547.6,756.4 L548.1,756.0 L548.6,755.4 L549.1,755.4 L549.6,755.3 L550.1,755.7 L550.6,756.6 L551.1,757.3 L551.6,757.3 L552.1,756.8 L552.6,756.6 L553.1,756.6 L553.6,756.9 L554.1,757.1 L554.6,757.3 L555.1,757.8 L555.6,758.0 L556.1,758.2 L556.6,758.4 L557.1,758.4 L557.6,758.5 L558.1,758.5 L558.6,758.5 L559.1,758.5 L559.6,758.5 L560.1,758.5 L560.6,758.5 L561.1,758.5 L561.6,758.5 L562.1,758.5 L562.6,758.5 L563.1,758.5 L563.6,758.5 L564.1,758.5 L564.6,758.5 L565.1,758.5 L565.6,758.5 L566.1,758.5 L566.6,758.5 L567.1,758.5 L567.6,758.5 L568.1,758.5 L568.6,758.5 L569.1,758.5 L569.6,758.5 L570.1,758.5 L570.6,758.5 L571.1,758.5 L571.6,758.5 L572.1,758.5 L572.6,758.5 L573.1,758.5 L573.6,758.5 L574.1,758.5 L574.6,758.5 L575.1,758.5 L575.6,758.5 L576.1,758.5 L576.6,758.5 L577.1,758.5 L577.6,758.5 L578.1,758.5 L578.6,758.5 L579.1,758.5 L579.6,758.5 L580.1,758.5 L580.6,758.5 L581.1,758.5 L581.6,758.5 L582.1,758.5 L582.6,758.5 L583.1,758.5 L583.6,758.5 L583.6,758.5 Z" fill="#5cbd8e"/>
<rect x="523.60" y="757.80" width="60.00" height="1.50" fill="#5cbd8e" />
<text x="523.7" y="736.4" font-size="8.5" text-anchor="start" font-weight="normal" fill="#151213" >[0 - 55]</text>
<path d="M585.8,758.5 L585.8,757.5 L586.3,756.4 L586.8,755.2 L587.3,753.5 L587.8,753.5 L588.3,753.4 L588.8,754.4 L589.3,754.1 L589.8,751.3 L590.3,750.2 L590.8,749.5 L591.3,748.4 L591.8,751.4 L592.3,752.7 L592.8,754.1 L593.3,754.4 L593.8,752.6 L594.3,753.3 L594.8,754.6 L595.3,755.7 L595.8,755.7 L596.3,753.7 L596.8,752.1 L597.3,753.0 L597.8,754.3 L598.3,755.8 L598.8,754.3 L599.3,748.7 L599.8,747.7 L600.3,751.3 L600.8,751.5 L601.3,752.1 L601.8,754.7 L602.3,757.1 L602.8,758.0 L603.3,758.4 L603.8,758.5 L604.3,758.3 L604.8,758.0 L605.3,757.2 L605.8,756.7 L606.3,756.7 L606.8,757.3 L607.3,758.0 L607.8,758.4 L608.3,758.5 L608.8,758.5 L609.3,758.5 L609.8,758.5 L610.3,758.3 L610.8,757.9 L611.3,757.2 L611.8,756.9 L612.3,757.0 L612.8,757.3 L613.3,758.0 L613.8,758.4 L614.3,758.5 L614.8,758.5 L615.3,758.5 L615.8,758.5 L616.3,758.5 L616.8,758.5 L617.3,758.5 L617.8,758.5 L618.3,758.5 L618.8,758.5 L619.3,758.3 L619.8,757.9 L620.3,757.1 L620.8,756.5 L621.3,756.6 L621.8,757.4 L622.3,758.0 L622.8,758.4 L623.3,758.5 L623.8,758.5 L624.3,758.5 L624.8,758.5 L625.3,758.3 L625.8,757.9 L626.3,757.2 L626.8,756.5 L627.3,756.9 L627.8,757.3 L628.3,758.0 L628.8,758.4 L629.3,758.5 L629.8,758.5 L630.3,758.5 L630.8,758.5 L631.3,758.3 L631.8,757.9 L632.3,757.1 L632.8,756.5 L633.3,756.9 L633.8,757.4 L634.3,758.0 L634.8,758.4 L635.3,758.5 L635.8,758.5 L636.3,758.5 L636.8,758.5 L637.3,758.5 L637.8,758.5 L638.3,758.5 L638.8,758.5 L639.3,758.5 L639.8,758.5 L640.3,758.5 L640.8,758.5 L641.3,758.3 L641.8,758.0 L642.3,757.3 L642.8,756.8 L643.3,756.7 L643.8,757.5 L644.3,758.0 L644.8,758.4 L645.3,758.5 L645.8,758.5 L645.8,758.5 Z" fill="#5cbd8e"/>
<rect x="585.80" y="757.80" width="60.00" height="1.50" fill="#5cbd8e" />
<text x="585.9" y="736.4" font-size="8.5" text-anchor="start" font-weight="normal" fill="#151213" >[0 - 85]</text>
<path d="M461.3,791.3 L461.3,790.6 L461.8,790.2 L462.3,790.0 L462.8,789.6 L463.3,788.9 L463.8,788.6 L464.3,788.8 L464.8,788.8 L465.3,788.3 L465.8,788.4 L466.3,788.8 L466.8,788.7 L467.3,787.3 L467.8,784.8 L468.3,782.8 L468.8,783.1 L469.3,781.6 L469.8,780.3 L470.3,780.9 L470.8,780.4 L471.3,782.6 L471.8,780.6 L472.3,780.1 L472.8,777.8 L473.3,776.4 L473.8,778.8 L474.3,782.7 L474.8,781.4 L475.3,773.1 L475.8,768.1 L476.3,764.5 L476.8,764.2 L477.3,768.1 L477.8,771.0 L478.3,770.6 L478.8,769.3 L479.3,775.2 L479.8,780.2 L480.3,783.3 L480.8,782.9 L481.3,782.3 L481.8,783.8 L482.3,787.3 L482.8,788.8 L483.3,790.3 L483.8,790.7 L484.3,790.4 L484.8,790.0 L485.3,789.9 L485.8,789.4 L486.3,789.4 L486.8,789.0 L487.3,789.1 L487.8,789.4 L488.3,789.5 L488.8,789.8 L489.3,790.1 L489.8,790.4 L490.3,790.7 L490.8,790.9 L491.3,790.9 L491.8,790.7 L492.3,790.6 L492.8,790.4 L493.3,790.2 L493.8,789.9 L494.3,789.8 L494.8,789.7 L495.3,790.0 L495.8,790.1 L496.3,790.0 L496.8,790.4 L497.3,790.5 L497.8,790.6 L498.3,790.8 L498.8,790.9 L499.3,790.7 L499.8,790.6 L500.3,790.4 L500.8,790.0 L501.3,789.9 L501.8,789.6 L502.3,789.4 L502.8,789.6 L503.3,789.5 L503.8,789.5 L504.3,789.7 L504.8,790.0 L505.3,790.2 L505.8,790.5 L506.3,790.4 L506.8,790.2 L507.3,790.0 L507.8,789.5 L508.3,789.6 L508.8,789.5 L509.3,789.3 L509.8,789.4 L510.3,789.8 L510.8,789.8 L511.3,790.1 L511.8,790.4 L512.3,790.6 L512.8,790.8 L513.3,790.7 L513.8,790.6 L514.3,790.4 L514.8,790.0 L515.3,789.9 L515.8,789.5 L516.3,789.7 L516.8,789.6 L517.3,789.6 L517.8,789.4 L518.3,789.7 L518.8,790.1 L519.3,790.3 L519.8,790.3 L520.3,790.6 L520.8,790.8 L521.3,790.9 L521.4,791.3 Z" fill="#5cbd8e"/>
<rect x="461.30" y="790.60" width="60.10" height="1.50" fill="#5cbd8e" />
<text x="461.40000000000003" y="767.1" font-size="8.5" text-anchor="start" font-weight="normal" fill="#151213" >[0 - 210]</text>
<path d="M523.6,791.3 L523.6,791.3 L524.1,791.3 L524.6,791.3 L525.1,791.2 L525.6,791.1 L526.1,790.7 L526.6,790.0 L527.1,789.3 L527.6,787.3 L528.1,785.7 L528.6,782.1 L529.1,779.9 L529.6,778.3 L530.1,779.1 L530.6,777.8 L531.1,778.8 L531.6,773.3 L532.1,765.3 L532.6,767.8 L533.1,770.5 L533.6,773.8 L534.1,773.4 L534.6,767.9 L535.1,767.7 L535.6,773.5 L536.1,775.6 L536.6,780.7 L537.1,783.0 L537.6,779.9 L538.1,780.8 L538.6,781.6 L539.1,784.1 L539.6,785.1 L540.1,786.4 L540.6,784.5 L541.1,784.8 L541.6,786.1 L542.1,787.4 L542.6,788.9 L543.1,789.9 L543.6,790.7 L544.1,790.4 L544.6,789.7 L545.1,788.6 L545.6,788.1 L546.1,787.6 L546.6,787.9 L547.1,788.8 L547.6,790.0 L548.1,790.6 L548.6,791.0 L549.1,790.9 L549.6,790.6 L550.1,790.1 L550.6,789.8 L551.1,789.3 L551.6,788.8 L552.1,789.2 L552.6,789.3 L553.1,789.5 L553.6,789.9 L554.1,790.3 L554.6,790.7 L555.1,791.0 L555.6,791.1 L556.1,791.2 L556.6,791.1 L557.1,791.0 L557.6,790.7 L558.1,790.4 L558.6,790.0 L559.1,789.6 L559.6,789.6 L560.1,789.6 L560.6,789.7 L561.1,789.9 L561.6,790.1 L562.1,790.6 L562.6,790.8 L563.1,791.0 L563.6,790.9 L564.1,790.5 L564.6,789.9 L565.1,789.0 L565.6,788.9 L566.1,788.3 L566.6,788.9 L567.1,789.7 L567.6,790.2 L568.1,790.7 L568.6,791.1 L569.1,791.2 L569.6,791.1 L570.1,790.8 L570.6,790.3 L571.1,789.9 L571.6,789.7 L572.1,789.2 L572.6,789.7 L573.1,790.1 L573.6,790.5 L574.1,790.9 L574.6,791.0 L575.1,790.7 L575.6,790.2 L576.1,789.6 L576.6,789.3 L577.1,789.2 L577.6,789.1 L578.1,789.8 L578.6,790.3 L579.1,790.8 L579.6,791.1 L580.1,791.2 L580.6,791.3 L581.1,791.3 L581.6,791.3 L582.1,791.3 L582.6,791.3 L583.1,791.3 L583.6,791.3 L583.6,791.3 Z" fill="#5cbd8e"/>
<rect x="523.60" y="790.60" width="60.00" height="1.50" fill="#5cbd8e" />
<text x="523.7" y="767.1" font-size="8.5" text-anchor="start" font-weight="normal" fill="#151213" >[0 - 55]</text>
<path d="M585.8,791.3 L585.8,790.1 L586.3,789.4 L586.8,788.7 L587.3,787.6 L587.8,787.3 L588.3,787.3 L588.8,788.0 L589.3,788.1 L589.8,786.6 L590.3,785.8 L590.8,785.6 L591.3,784.8 L591.8,785.9 L592.3,787.1 L592.8,788.0 L593.3,788.9 L593.8,788.2 L594.3,788.0 L594.8,788.0 L595.3,787.4 L595.8,788.3 L596.3,788.6 L596.8,789.6 L597.3,789.9 L597.8,790.6 L598.3,789.0 L598.8,783.8 L599.3,776.9 L599.8,773.2 L600.3,769.3 L600.8,776.3 L601.3,785.2 L601.8,783.3 L602.3,784.6 L602.8,786.8 L603.3,789.3 L603.8,790.8 L604.3,791.2 L604.8,791.2 L605.3,791.0 L605.8,790.7 L606.3,789.9 L606.8,789.1 L607.3,788.5 L607.8,788.0 L608.3,787.3 L608.8,788.4 L609.3,789.3 L609.8,789.5 L610.3,788.9 L610.8,788.5 L611.3,788.7 L611.8,789.0 L612.3,789.9 L612.8,790.5 L613.3,790.9 L613.8,791.1 L614.3,791.2 L614.8,791.3 L615.3,791.3 L615.8,791.3 L616.3,791.3 L616.8,791.3 L617.3,791.3 L617.8,791.3 L618.3,791.3 L618.8,791.3 L619.3,791.3 L619.8,791.3 L620.3,791.3 L620.8,791.3 L621.3,791.3 L621.8,791.3 L622.3,791.3 L622.8,791.3 L623.3,791.3 L623.8,791.3 L624.3,791.3 L624.8,791.3 L625.3,791.3 L625.8,791.2 L626.3,791.2 L626.8,791.1 L627.3,790.9 L627.8,790.6 L628.3,790.2 L628.8,790.0 L629.3,789.7 L629.8,789.4 L630.3,789.4 L630.8,789.8 L631.3,789.8 L631.8,790.4 L632.3,790.7 L632.8,790.9 L633.3,791.0 L633.8,790.8 L634.3,790.6 L634.8,790.3 L635.3,790.0 L635.8,789.8 L636.3,790.0 L636.8,790.0 L637.3,790.4 L637.8,790.6 L638.3,790.8 L638.8,791.0 L639.3,791.1 L639.8,791.2 L640.3,791.2 L640.8,791.0 L641.3,790.7 L641.8,790.2 L642.3,789.9 L642.8,789.4 L643.3,789.7 L643.8,789.7 L644.3,790.3 L644.8,790.7 L645.3,791.0 L645.8,791.2 L645.8,791.3 Z" fill="#5cbd8e"/>
<rect x="585.80" y="790.60" width="60.00" height="1.50" fill="#5cbd8e" />
<text x="585.9" y="767.1" font-size="8.5" text-anchor="start" font-weight="normal" fill="#151213" >[0 - 85]</text>
<text x="652.5" y="553.5" font-size="8" text-anchor="middle" font-weight="normal" fill="#151213" transform="rotate(90 652.5 553.5)" dominant-baseline="central">24 h</text>
<text x="652.5" y="580.6" font-size="8" text-anchor="middle" font-weight="normal" fill="#151213" transform="rotate(90 652.5 580.6)" dominant-baseline="central">7 d</text>
<text x="652.5" y="612.5" font-size="8" text-anchor="middle" font-weight="normal" fill="#151213" transform="rotate(90 652.5 612.5)" dominant-baseline="central">24 h</text>
<text x="652.5" y="646" font-size="8" text-anchor="middle" font-weight="normal" fill="#151213" transform="rotate(90 652.5 646)" dominant-baseline="central">7 d</text>
<text x="652.5" y="683.8" font-size="8" text-anchor="middle" font-weight="normal" fill="#151213" transform="rotate(90 652.5 683.8)" dominant-baseline="central">24 h</text>
<text x="652.5" y="717.9" font-size="8" text-anchor="middle" font-weight="normal" fill="#151213" transform="rotate(90 652.5 717.9)" dominant-baseline="central">7 d</text>
<text x="652.5" y="753.7" font-size="8" text-anchor="middle" font-weight="normal" fill="#151213" transform="rotate(90 652.5 753.7)" dominant-baseline="central">24 h</text>
<text x="652.5" y="782.3" font-size="8" text-anchor="middle" font-weight="normal" fill="#151213" transform="rotate(90 652.5 782.3)" dominant-baseline="central">7 d</text>
<text x="668" y="568" font-size="8.3" text-anchor="middle" font-weight="bold" fill="#e0404e" transform="rotate(90 668 568)" dominant-baseline="central">Control</text>
<text x="668" y="634.4" font-size="8.3" text-anchor="middle" font-weight="bold" fill="#2b8bbb" transform="rotate(90 668 634.4)" dominant-baseline="central">Treatment</text>
<text x="668" y="701.5" font-size="8.3" text-anchor="middle" font-weight="bold" fill="#f5a142" transform="rotate(90 668 701.5)" dominant-baseline="central">Control</text>
<text x="668" y="770" font-size="8.3" text-anchor="middle" font-weight="bold" fill="#5cbd8e" transform="rotate(90 668 770)" dominant-baseline="central">Treatment</text>
<line x1="661" y1="538" x2="661" y2="596.3" stroke="#444" stroke-width="0.9" />
<line x1="661" y1="599" x2="661" y2="666.2" stroke="#444" stroke-width="0.9" />
<line x1="661" y1="668.5" x2="661" y2="735" stroke="#444" stroke-width="0.9" />
<line x1="661" y1="738.3" x2="661" y2="802" stroke="#444" stroke-width="0.9" />
<line x1="675.4" y1="538" x2="675.4" y2="667.7" stroke="#444" stroke-width="0.9" />
<line x1="675.4" y1="672.4" x2="675.4" y2="802" stroke="#444" stroke-width="0.9" />
<text x="681.5" y="601.5" font-size="8.3" text-anchor="middle" font-weight="normal" fill="#151213" transform="rotate(90 681.5 601.5)" dominant-baseline="central">RNA</text>
<text x="681.5" y="736.5" font-size="8.3" text-anchor="middle" font-weight="normal" fill="#151213" transform="rotate(90 681.5 736.5)" dominant-baseline="central">ATAC</text>
<rect x="485.00" y="803.60" width="22.70" height="8.00" fill="#2a62a0" />
<rect x="542.20" y="803.60" width="25.60" height="8.00" fill="#2a62a0" />
<rect x="601.50" y="806.30" width="36.30" height="2.60" fill="#2a62a0" />
<rect x="601.50" y="803.60" width="1.30" height="8.00" fill="#2a62a0" />
<rect x="604.00" y="803.60" width="1.30" height="8.00" fill="#2a62a0" />
<rect x="620.00" y="803.60" width="1.30" height="8.00" fill="#2a62a0" />
<rect x="623.00" y="803.60" width="1.30" height="8.00" fill="#2a62a0" />
<rect x="626.50" y="803.60" width="1.30" height="8.00" fill="#2a62a0" />
<rect x="629.00" y="803.60" width="1.30" height="8.00" fill="#2a62a0" />
<rect x="633.00" y="803.60" width="1.30" height="8.00" fill="#2a62a0" />
<rect x="636.50" y="803.60" width="1.30" height="8.00" fill="#2a62a0" />
<rect x="601.50" y="803.60" width="3.50" height="8.00" fill="#2a62a0" />
<rect x="635.50" y="803.60" width="2.30" height="8.00" fill="#2a62a0" />
<path d="M489,805.8 l1.4,1.8 l-1.4,1.8" stroke="#fff" stroke-width="0.6" fill="none"/>
<path d="M496,805.8 l1.4,1.8 l-1.4,1.8" stroke="#fff" stroke-width="0.6" fill="none"/>
<path d="M503,805.8 l1.4,1.8 l-1.4,1.8" stroke="#fff" stroke-width="0.6" fill="none"/>
<path d="M547,805.8 l1.4,1.8 l-1.4,1.8" stroke="#fff" stroke-width="0.6" fill="none"/>
<path d="M556,805.8 l1.4,1.8 l-1.4,1.8" stroke="#fff" stroke-width="0.6" fill="none"/>
<path d="M564,805.8 l1.4,1.8 l-1.4,1.8" stroke="#fff" stroke-width="0.6" fill="none"/>
<path d="M611,805.8 l1.4,1.8 l-1.4,1.8" stroke="#fff" stroke-width="0.6" fill="none"/>
<path d="M620,805.8 l1.4,1.8 l-1.4,1.8" stroke="#fff" stroke-width="0.6" fill="none"/>
<path d="M631,805.8 l1.4,1.8 l-1.4,1.8" stroke="#fff" stroke-width="0.6" fill="none"/>
<text x="488.4" y="833" font-size="8" text-anchor="middle" font-weight="normal" fill="#151213" font-style="italic">1Dg0078713</text>
<text x="553.6" y="833" font-size="8" text-anchor="middle" font-weight="normal" fill="#151213" font-style="italic">2Dg0156249</text>
<text x="619.8" y="833" font-size="8" text-anchor="middle" font-weight="normal" fill="#151213" font-style="italic">7Dg0137778</text>
</svg></body></html>
